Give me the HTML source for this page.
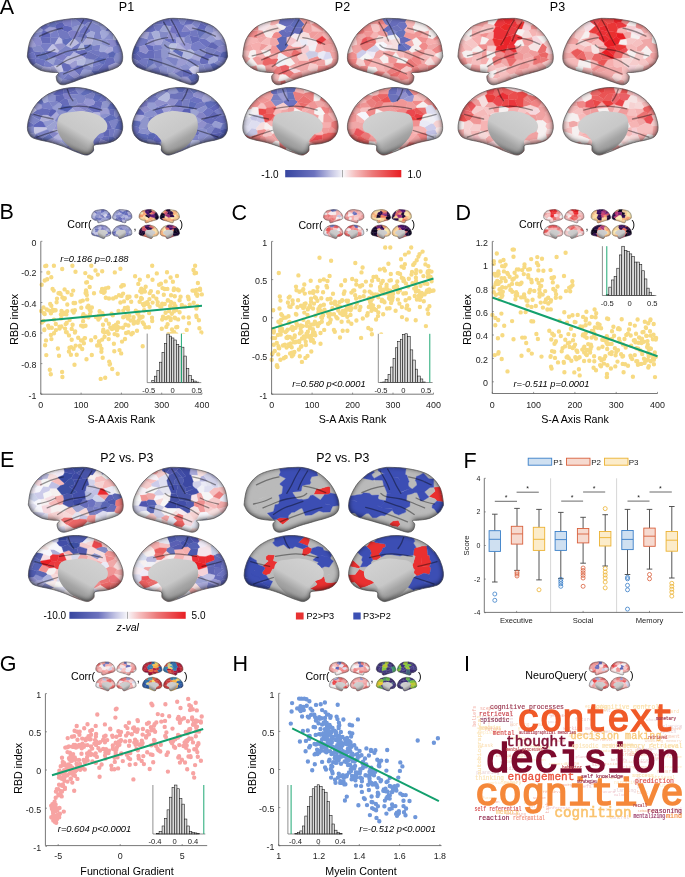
<!DOCTYPE html>
<html><head><meta charset="utf-8"><title>figure</title>
<style>
html,body{margin:0;padding:0;background:#fff;width:685px;height:877px;overflow:hidden;}
svg{display:block;filter:blur(0.35px);}
text{font-family:"Liberation Sans",sans-serif;}
.m{font-family:"Liberation Mono",monospace;}
</style></head><body>
<svg width="685" height="877" viewBox="0 0 685 877">
<rect width="685" height="877" fill="#fff"/>
<defs>
<filter id="ishL" x="-5%" y="-5%" width="110%" height="110%"><feGaussianBlur in="SourceAlpha" stdDeviation="2.6"/><feOffset dy="-1.2" result="b"/><feComposite in="SourceAlpha" in2="b" operator="out" result="r"/><feFlood flood-color="#000" flood-opacity="0.72"/><feComposite in2="r" operator="in"/></filter>
<filter id="sb" x="-10%" y="-10%" width="120%" height="120%"><feGaussianBlur stdDeviation="0.6"/></filter>
<filter id="ishS" x="-5%" y="-5%" width="110%" height="110%"><feGaussianBlur in="SourceAlpha" stdDeviation="0.9"/><feOffset dy="-0.4" result="b"/><feComposite in="SourceAlpha" in2="b" operator="out" result="r"/><feFlood flood-color="#000" flood-opacity="0.4"/><feComposite in2="r" operator="in"/></filter>
</defs>
<path fill="#848acc" stroke="#848acc" stroke-width=".35" d="M34.7 33.1l-2.5 3.5 -.9 1.6 2 -.6zM40.4 38.3l.6 -.3 1.4 -6.8 -7.7 1.9 -1.4 4.5zM48.8 26l1 -3.2 -4 1.5zM49.5 93.8l3.3 .6 4.9 -4.1 -5.7 2zM81.9 120.5l4.9 1.2 4.8 -2.6 -2.3 -3 -.7 -.1zM201.3 140.9l-1.4 -.1 -1.4 3.3 6.3 -1.8zM127 215.6l1.3 1.9 3.4 .3 .2 -.5 -.4 -2.8 -3.1 .2zM119.9 214.7l-3.2 -.5 -1.3 2.2 .1 .7 1.2 .7 3.4 -1zM105.6 225.9l-4.4 -.9 -.6 1.7 2.5 .8z"/>
<path fill="#9c9cd2" stroke="#9c9cd2" stroke-width=".35" d="M31.5 38.2l-1.1 1.7 -1.9 7.2 3.9 .5 3.8 -1.7zM57.1 29.5l-1.8 -2.2 -6 -.6 -5.3 3.6 6.3 3.4zM69.1 64.2l3 4.5 2.6 -.6 2.9 -2.9 -.7 -4.7 -1.9 -.3zM213.2 32.1l5.8 -.5 -3.4 -3.5 -2.2 -1.6zM191 31.1l5.7 -1.5 .9 -.6 -.2 -.6 -5.7 -4.5 -6.9 1.2zM191.7 81.8l-4.1 -5.1 -4.7 -.2 -1.8 .9 -.9 1.3 2.1 3.3 7.8 2.6 .3 0zM177.5 65.9l2 .7 6.7 -2.9 1.6 -3.3 0 -1.4 -5.5 -2.2 -3.7 1.7 -2.2 6.6zM150 71.1l-.7 -.9 -2.7 -1.1 -2.5 .8 5.8 1.8zM36.4 110.3l5.2 -1.6 .6 -.6 -.7 -3.5 -4.2 -1.7 -3.6 4.8zM55.6 138.7l-2.2 -1.5 -7.6 4 5.3 1.3zM100.2 114.3l9.6 -.5 -.9 -4.8 -1.4 -.8 -5.7 .8 -2.3 3.6zM282.6 100.8l1 .6 4 -2.5 -.6 -6.6 -.6 -.3 -9.2 2zM104.5 226.9l-1.4 .6 1.2 2.2 1.8 .5 1.2 -1.1zM125.8 227.1l.4 -1.4 -2.9 -.6 -2.4 0 .9 1.6zM123 229.9l.5 0 2.7 -2.1 -.4 -.7 -4 -.4 -.2 .5zM119.5 238.5l.2 -1.6 -.8 -1.3 -4 -.4 -.7 .5 4.1 .9 .3 1.3zM128.5 680.5l2.3 -1.1 -.4 -1.4 -4.2 -.7 -.2 2.7zM361.4 677.4l-1.5 -.1 -.1 2.9 3 .3 .7 -1z"/>
<path fill="#666cba" stroke="#666cba" stroke-width=".35" d="M32.4 47.6l-3.9 -.5 -1 7.4 6.2 -2.7 .5 -.6zM36.1 63.2l-.9 -4.2 -7.2 -.6 2.6 4.9 2.5 2.4zM33.7 51.8l2.5 6.8 1.2 -.3 4.7 -6 -7.9 -1.1zM43.1 30.3l.9 0 5.3 -3.6 -.5 -.7 -3 -1.7 -3.8 1.9 -2.2 1.6zM50.4 37.4l-9.4 .6 -.6 .3 1.6 5.3 8.7 -.3zM72.1 68.7l-3 -4.5 -5.3 -1.7 -2.6 2.5 2.1 6.2 4.2 .8zM79.9 75.6l2.7 -5.7 -7.9 -1.8 -2.6 .6zM81.7 24.2l2.9 .9 3.2 -2.7 -1.4 -3.8 -4.6 -.3 -7.2 .3zM74 51.8l0 .3 11.1 5.5 2.3 -5.9 -2.7 -2.2 -7.7 1.2zM77.6 65.2l-2.9 2.9 7.9 1.8 1.5 -.5 -.8 -4.2zM93.5 20.3l-2.3 -.7 -4.8 -1 1.4 3.8 4.1 -.2zM97.9 70.4l4 2.1 7 -2 .2 -.3 -.5 -4.5 -4.1 -1.4 -1.5 .1zM105.2 30.7l5 1.3 1 0 -4 -3.9zM104.5 64.3l4.1 1.4 6.7 -2.8 -1.1 -4.2 -.7 -.7 -4.3 -1 -3.5 1.5zM212.7 54.3l-6.7 -1.4 -1.5 2.3 4 3.7 5.5 -2.7zM204.5 55.2l-3.4 1.4 -1.9 4.6 1.7 3.1 7.5 -.5 .1 -4.9zM192.1 44.1l6.6 -3.1 1.4 -2.9 -1.3 -.9 -9.4 -1.8zM183.7 24.4l1.1 .7 6.9 -1.2 3.5 -3.6 -8.3 -1.2zM162.7 24.6l.7 1 8.2 .6 .9 -.5 -3.5 -7.2 -5.9 1.3zM153.1 24.2l-5.4 4 -.4 3.8 2 .5 2.1 -.1 4.4 -1.6zM148.6 50.6l-2.6 3.2 1.8 4.5 5.8 .2 1.1 -.4 -.9 -7.2zM149.9 71.7l8.5 2.4 .1 -.1 -8.5 -2.9zM147.3 32l.4 -3.8 -3.8 3.7zM146 53.8l-6.9 -2.8 -2.6 2.8 6 5.2 5.3 -.7zM146.6 69.1l-.3 -1.5 -7.9 -5.3 -2.7 2.1 1.5 2.6 2.2 1.1 4.7 1.8zM135.7 64.4l-1.4 .1 2.9 2.5zM42.4 115.7l1 -.7 -1.8 -6.3 -5.2 1.6 -3.5 2.7zM42.1 138.3l-6 -4.2 -2.7 4 9.3 2.5zM42.2 108.1l-.6 .6 1.8 6.3 4.4 .2 2.7 -5.8zM67.9 99.4l-3.3 -1.1 -5 4.3 2.6 2.5 7.7 .6zM75.9 90.2l-8.3 3.2 2.7 1.2 8.7 -.7zM89.6 148.8l-2.3 .1 -5.6 5.1 2.8 .8 2.8 .2 3.1 -1.3 .8 -.6zM101.4 108.6l1 -6.5 -3.8 -1.4 -3.7 1 -1 2.8zM93.8 112.4l5.7 .2 2.3 -3.6 -7.9 -4.5 -5.2 1.6 -.8 2.6zM90.3 148.5l-.7 .3 1.6 4.3 2.2 -2.3 .2 -1.3zM109.2 129.4l3.1 -.9 -3.4 -7.3 -4.4 -.4 -4 7.5 1.6 .8zM100.8 139.3l7.8 3 -.5 -5.7 -4.3 0 -2.9 1.9zM109.8 113.8l.5 .7 3.8 1.4 .9 -6.1 -6.1 -.8zM116 117.8l.2 1.2 2.5 1.2 3.1 .4 -2.5 -6.4zM222.8 123.7l4.1 -1.5 -1.8 -6.5 -5.1 .4 -4.8 3.5 -.1 1.4zM215.2 119.6l-7 -3.2 -2.2 .1 -3.8 3.7 -.1 .4 4.8 2.7 5.1 1.1 3.1 -3.4zM197.8 135.7l1.5 -2.3 -1.7 -4.8 -7 1 -1.1 .5 .1 3.2zM182.6 99.7l-3.9 -.1 -5.1 6.6 8.2 1.2zM166.5 113.4l6.1 8.3 1 -.1 3 -5.7 -9.6 -2.7zM176.9 132.5l2.1 -1.9 -1.2 -3.1 -8.7 .4 4.5 6zM173.6 133.9l-3.6 2.1 -.9 1.6 6.8 6.6 6 -3 -1 -1.9zM161.8 90.7l5.5 1.8 2.7 -4zM163.4 140.8l5.7 -3.2 .9 -1.6 -7.6 -2.9 -4.6 1.9 4.5 5.9zM143.7 139.7l-8.8 -4.7 -.4 0 2.1 2.8 3.3 2.6 2.4 1.1zM278.3 23.5l7.7 3.2 3.6 -1.2 -6.9 -6.3 -3 .4zM284 29.2l-2.9 .8 -3.1 1.9 3.9 4.2 3.6 .5 .9 -4.4zM289.6 25.5l.6 -.1 5.1 -7 -12.6 .8zM290.8 36.5l3.6 -2.9 -1.4 -2.3 -6.6 .9 -.9 4.4 1.4 .9zM294.4 33.6l5 .8 4.1 -2.3 -1.6 -4.6 -8.6 .1 -.3 3.7zM392.2 19.4l6.2 3.7 7 -.9 1 -2.5 -7.5 -1 -6.8 -.2zM401.7 43.6l3.2 -.7 7.1 -3.1 -8 -3.3 -4.7 1.8 .9 5zM397.4 25.2l1 -2.1 -6.2 -3.7 -4 6.1 3.3 2.1zM391.5 27.6l-3.5 -2.1 -6.1 4.8 5.1 2.3 5.2 -3.4zM277.7 93.7l-.5 -4.6 -6.2 1.8 -.3 2.2 2.6 1.5zM413.8 95.2l-5.2 -6 -1.7 -.4 -1.6 3 3.2 4.4zM397.7 87.6l-6.1 .1 -3.3 3.1 -.1 3.1 8.4 .4zM127.4 212.1l2.1 -.6 -1.7 -.9 -2.3 -.6 -.2 .8 .8 .9zM123.8 214.4l1.8 1.1 1.4 .1 1.4 -.9 -1 -2.6 -1.3 -.4zM122.3 218.2l-2.2 -1.4 -3.4 1 3.3 2.5 2.5 -.8zM106.3 230.8l.4 2.7 2.1 .6 2 -.2 .1 -1.9zM357.1 212.8l-1.8 -.7 -2 2.7 .9 .8 3.2 -1zM86.4 508.2l2.1 -1.1 -1 -7.3 -2 -.5 -2.2 .3 -4.3 5.3 6 3.3zM114.4 511.9l2.4 -5.6 -1.4 -1.1 -4.6 -.8 -5.1 7.2 1.6 .6zM31.7 569.3l2.2 -5.8 -2.8 -1.3 -2.1 7.3zM224.3 569.6l-3.3 -1.5 -5.8 -.4 -1.4 6.7 1 1.1 1.6 -.3zM214.8 575.5l-1.1 3.2 6.7 2.3 3 -1.8 -1.1 -3 -5.9 -1zM131 666.8l-1.1 -1.8 -2.9 -.5 -1.6 1.8 .1 1.4 .4 .3zM123.5 663.8l3.1 1 .4 -.3 -.2 -2.6 -2.7 0zM339.6 665l1.7 -.7 .3 -2.3 -3.2 -.1zM595.2 666.6l4.5 .7 -.6 -2.5 -1 -.5 -2.6 1.1z"/>
<path fill="#6c72c0" stroke="#6c72c0" stroke-width=".35" d="M27.5 54.5l0 2.7 .5 1.2 7.2 .6 1 -.4 -2.5 -6.8zM37.4 58.3l-2.2 .7 .9 4.2 7.5 3.5 1.9 -6.2zM44.4 51.3l4.8 6.6 5.9 -.2 2.7 -5.1 -10.5 -2.1zM56.6 23.7l5.9 -1.7 2 -2.4 -10.2 1.8zM86.4 34.3l4.4 -3 -.7 -1.9 -5.5 -4.3 -5.5 6.7 .9 1.2zM206.5 26.4l3.2 -1.9 -9.5 -3.2 .3 1.4zM206.4 47.5l.6 -.2 3.7 -4.5 -4.7 -3.6 -5.8 -.9 -1.5 2.7zM181.5 31.5l-.8 .8 5.9 3.6 2.8 -.5 1.6 -4.3zM184.9 25.4l-1.2 -1 -2.7 -.5 -5.4 1.6 3.5 7 1.6 -.2 .8 -.8zM180.7 32.3l-1.6 .2 -3.4 1.6 .7 3.3 8.3 .3 1.9 -1.8zM178.1 18.5l-5 -.2 -4.1 .2 3.5 7.2 3.1 -.2 5.4 -1.6zM175.7 38.7l-9.3 -.4 -2.6 1.7 7.6 3.5 5.1 .1zM162.7 24.6l.4 -4.8 -6.2 2.2 -3.8 2.2zM33.7 126.8l.3 -2.4 -5.7 -3.5 -.9 6.3zM98.6 100.7l3.8 1.4 4.5 -.8 -.8 -3.9 -3.4 -2.2zM114.9 137.7l1.2 1.9 2.2 -1.8 1.7 -2.2zM207.4 108l-4.8 4.5 3.4 4 2.2 -.1 5.2 -5.2 -3.7 -2.6zM203 101.8l-1.4 -2.8 -7.9 -2.5 -4.7 3.4 .6 .8 7.7 2.8zM155.6 96.4l3 -4.5 -7 3.6zM165 113.6l-3 -4.7 -4.7 -2 -.5 .1 -3.2 3.1 3.3 4.1 4.2 .8zM157.5 122.8l-4.7 5 2.2 1.8 6 -1.9zM159.8 142.4l-3.4 .2 -1.9 1.5 4.1 .4 2.2 .8zM134.9 135l3.5 -2.3 1.6 -3.5 -1.2 -1.9 -6.5 -1.7 .5 5.4 1.5 3.8zM293 31.3l.3 -3.7 -3.1 -2.2 -4.2 1.3 -2 2.5 2.4 3zM409 50.2l2.9 -3.4 -7 -3.9 -3.2 .7 6.3 6.6zM404.3 29.9l3.2 -3.9 -2.1 -3.8 -7 .9 -1 2.1 5 4.7zM287.6 98.9l-4 2.5 -.1 1.3 5.4 4.3 4.3 -.3 4.5 -4.8 -.2 -.7 -2.1 -1.1zM100.4 212.1l1.1 1.1 2.1 -.7 1.1 -1.1 -1.1 -1.8 -2.2 0zM108.2 213l-1.3 1.4 .4 .7 3.4 .8 -1.4 -2.8zM119.6 212.4l2 1.2 .7 -2.2 -2.6 -1.3 -1.1 1zM119.7 220.6l0 .6 3.2 1.2 -.7 -2.7zM108.8 234.1l-2.1 -.6 -2.5 1 0 .4 2.7 .8zM96 501.4l-3.5 -2.7 -5 1.1 1 7.3 4.6 -.1 1.3 -.4zM227.1 570.1l-.9 -4.1 -1.8 -4.9 -1.8 .9 -1.6 6.1 3.3 1.5zM222.3 576.2l5.2 -3.8 -.4 -2.3 -2.8 -.5 -7.9 5.6zM360 667.8l3.8 -1.1 -.7 -1.8 -2 -.6 -1.9 .3 -.6 1.8 .2 .8zM594.2 667.6l1.4 1.6 3.1 .2 1 -2.1 -4.5 -.7z"/>
<path fill="#969cd2" stroke="#969cd2" stroke-width=".35" d="M34.7 33.1l7.7 -1.9 .7 -.9 -3.3 -2.5 -3 2.8zM84.1 69.4l-1.5 .5 -2.6 5.7 6 1.6 1 -.4 4.6 -5.2 .3 -1.2zM101.3 30.8l3.9 -.1 2 -2.6 -3.7 -2.8 -3.3 1.5zM206 39.2l4.7 3.6 2.4 -.6 3.1 -2.7 -4.2 -4.6zM195.5 65.9l-7.7 -5.5 -1.6 3.3 4.6 3.6zM52 119.4l-9.3 2.2 3.3 5.9 9.3 -6.4zM59.8 109.5l2.4 -4.4 -2.6 -2.5 -.5 0 -6.4 4.6 -.4 1.8 3.8 1.6zM70.5 135.4l-6.7 -1.1 -2.8 5.9 .7 1.1 11.8 -1.5zM75.8 142.2l-1.1 -1.9 -1.2 -.5 -11.8 1.5 0 .5 4.9 4.6zM78 113.4l-6.7 3.5 4.6 5.3 .9 .3 3.6 -2.1 .3 -6.4zM212 124.4l.4 1.3 2.4 1.9 5.6 1.4 2.4 -5.3 -7.7 -2.7zM189.9 121.4l1.3 .7 6.7 1.2 4.2 -2.7 .1 -.4 -6.3 -3.8 -4.3 .3zM182.5 141.3l-.6 -.1 -6 3 -1.8 2.8 1.6 1.3 6.5 2.2 5.4 -2.3zM176.6 115.9l3.1 -1.8 -9.1 -4.5 -3.6 3.6zM156.8 107l-2.3 -4.5 -6.5 -.1 -1 3.6 4.2 3.8 2.4 .3zM103.1 236.4l-2.4 .1 -.7 .8 3.2 1.2 1.4 -.4zM118.9 230.9l-3.2 -.5 -.4 .7 1.5 2 1.7 -.1zM207.2 473.3l.9 .2 1.1 -.4 -2.9 -1.1z"/>
<path fill="#8a8acc" stroke="#8a8acc" stroke-width=".35" d="M42 43.6l-1.6 -5.3 -7.1 -.7 -1.8 .6 4.7 7.7 4.1 -.1zM110.7 47l1.8 0 4.3 -2 -1.6 -4.8 -1.9 -1 -7.1 .1zM179.7 114.1l1 -.1 3.4 -5.2 -2.3 -1.4 -8.2 -1.2 -2 .3 -1 3.1z"/>
<path fill="#848ac6" stroke="#848ac6" stroke-width=".35" d="M36.2 45.9l-3.8 1.7 1.8 3.6 7.9 1.1 2.3 -1 -4.1 -5.5zM72.6 81.3l-9.6 -2.2 -.7 .2 -2.7 4.6 1.7 .7 3.5 0 7.4 -2.4zM74.8 39.2l4.1 3.8 3.6 .7 3.7 -4.9 -8.8 -1.8zM92.2 67.5l-7.2 -4.4 -1.7 2.1 .8 4.2 7.8 1zM97.5 25l2.7 1.8 3.3 -1.5 -4.2 -2.6zM115.9 53.6l-2.4 4.4 .7 .7 8.5 -1.8 -.6 -4.7zM120.5 64.7l1.7 -3.2 .5 -4.6 -8.5 1.8 1.1 4.2zM200.1 38.1l5.9 1.1 6 -4.3 -.2 -2.1 -5.3 -1.3zM202.8 64.4l-1.9 -.1 -2.3 1.5 -.2 6.7 7.9 -.5zM160.5 38.7l2.6 1.4 3.3 -1.8 3 -6 -9.7 -1.3 -.9 .3zM34.4 133l-.4 -5.7 -.3 -.5 -6.3 .4 .3 3.6 1.2 2.9zM75.3 105.7l2.6 -2.2 -2.3 -5 -3.7 -.1 -4 1 2 6.3 2.4 1.3zM94 126.9l-5.6 -1.2 -7.1 2.9 6.3 4.8 5.1 -.6 3.6 -4.2zM94.5 119.7l-.5 7.2 2.3 1.7 4.2 -.3 4 -7.5 -2 -1.8 -1.7 -1zM215.1 139.3l-5.5 -5 -8.3 6.6 3.5 1.4 8.7 -1.9zM161 127.7l2.1 .5 5.1 -1.1 1.9 -4.1 -8.3 -2.7 -4.1 2.5zM166.6 92.4l-4.8 -1.7 -2 .7 -1.2 .5 -3 4.5 2.5 2.2zM156.4 142.6l-3.6 -2.5 -5.6 -.8 .7 3.9 6.6 .9zM275.6 106.5l7.9 -3.8 .1 -1.3 -1 -.6 -11.8 -.8 -.3 .3zM102.6 501.6l-6.6 -.2 -1.6 5.2 5.7 1zM54 587.6l-9 -4.8 -3.5 4.2 9.6 2.1 2.8 -1.1zM105.1 553.5l3 -3.1 -1.3 -3 -4.6 -1 -6.3 2 .1 1.1zM339 679.2l-.6 -1.8 -.4 0 -4.4 2 -.1 .8 1 .2z"/>
<path fill="#9096cc" stroke="#9096cc" stroke-width=".35" d="M43.4 66.9l-7.3 -3.7 -3 2.5 2.9 2.1 4.9 2.6zM84.6 25.1l-2.9 -.9 -9.8 3.4 .1 2.3 7.1 1.9zM173.6 65l-6.1 2.3 .3 6.1 4.6 -.6 5.1 -6.9 -1.1 -.8zM171.4 43.5l-7.6 -3.5 -.7 .1 -2.4 5 1.2 1.9 6.9 -1.4zM168.8 45.6l-6.9 1.4 .2 1.5 8.5 2.6zM170.9 51.2l-8.8 -2.7 -1 1.1 .4 8.5 .9 .3 2.7 -.3 3.5 -1.6zM165.1 58.1l-2.7 .3 .2 7.1 4.9 1.8 6.1 -2.3zM157 67.1l-3 -3.9 -7.4 5.2 0 .7 2.7 1.1zM36.1 134.1l-1.7 -1.1 -5.5 .7 1.8 2.7 2.7 1.7zM49.6 93.4l-.8 .4 -1.4 .8 2.1 -.8zM68.6 123.6l7.3 -1.4 -4.6 -5.3 -4.3 -1 -3.7 5.6zM76.8 147.2l-5.8 .9 .3 1.8 4.7 1.9zM82.6 146.1l4.7 2.8 2.3 -.1 .7 -.3 3.3 -4.2 -3.8 -3.8 -3 -.7zM107.5 108.2l2.7 -4.7 -3.3 -2.2 -4.5 .8 -1 6.5 .4 .4zM219 108.5l3.7 1.8 -3.1 -4.9zM210.2 100.9l6.3 .8 -5.7 -5zM191.9 140.6l-2.8 -.7 -6.6 1.4 5.1 6.9 2 -.9zM167.3 92.5l2.2 1.7 6.7 -.6 2.6 -1.3 -3 -4.6 -5.8 .8zM148.3 123.9l1.2 -1.3 -1.2 -4.9 -4 -1.5 -4.6 5.1 1.2 1.4zM138.8 127.3l1.2 1.9 6.2 -1.1 2.2 -2 -.1 -2.2 -7.4 -1.2zM98.7 217.7l1.1 -2.8 -3.2 -.4 -1.9 1.3 .4 1.2 3.1 1zM116.7 214.2l.6 0 2.3 -1.8 -1 -1.3 -3.4 1.4zM98.6 229.8l-1.2 1.1 -.6 1.2 .4 .3 4 .2 -.3 -2.1zM128.1 235.8l2.9 -.8 .9 -1.2 -2.9 -.8zM128.5 228.6l-2.3 -.8 -2.7 2.1 1.7 1.7 4.2 -1.7zM125.2 231.6l0 .8 .4 .2 3.3 .3 1.3 -2.7 -.8 -.3zM116.2 226.8l.7 1.2 3.7 -2.8zM97.4 559.5l4.6 -3.6 -7.4 -2.9 -4.7 2.8z"/>
<path fill="#6066ba" stroke="#6066ba" stroke-width=".35" d="M44 30.3l-.9 0 -.7 .9 -1.4 6.8 9.4 -.6 -.1 -3.7zM67.6 32.3l4.4 -2.4 -.1 -2.3 -.9 -1.2 -6.4 -.8 -4 3.9zM204.8 29.9l1.7 -3.5 -6 -3.7 -3.1 5.7 .2 .6zM153 45.6l-6.4 -1 -1.4 .7 3.4 5.3 5.2 .3 .3 -.2zM42.7 121.6l-2.5 -1 -6.2 3.8 -.3 2.4 .3 .5 12 .2zM209.7 108.6l3.7 2.6 .6 0 5 -2.7 .6 -3.1 -1.9 -2.3zM156.4 142.6l3.4 -.2 2.5 -1.5 -4.5 -5.9 -1.5 -.3 -3.5 5.4zM143.8 115.3l.7 -2.2 -4.4 -4.7 -1.6 .5 -3.1 5.8zM125 222.8l.9 -.7 .2 -.9 -.3 -.4zM115.9 233.8l.9 -.7 -1.5 -2 -2.6 .6 -.2 .7zM357.4 228.2l1.1 -1.2 -1.2 -1.5 -4.2 -.4 2.2 3zM221.1 585.2l3.2 -1.9 2.4 -3.8 -3.3 -.3 -3 1.8zM338.8 670l.4 -3.2 -.4 -.4 -3.3 .5 -.4 1.9 1.9 1zM602.1 664.6l.1 -2.7 -3.4 -.2 -.7 2.6 1 .5z"/>
<path fill="#787ec6" stroke="#787ec6" stroke-width=".35" d="M50.7 43.3l-8.7 .3 -1.7 2.2 4.1 5.5 2.9 -.8 4.8 -6.1zM53.7 65.8l-.3 -1.1 -7.2 -4.4 -.7 .2 -1.9 6.2 6.7 .5zM50.3 33.7l.1 3.7 9 .1 -2.4 -7.9zM67.5 56.5l2.9 -.4 3.6 -4 -1.9 -2.4 -10.5 3.2zM72.2 82.2l2.2 -.8 1.4 -.6 -1.4 -.7 -1.8 1.2zM92.5 49.7l6.9 1.3 1.3 -6.5 -7.8 1zM93.7 59.7l-1.4 7.6 8.8 -3.6 -6.4 -4.2zM116.8 45l-4.3 2 .5 4.2 2.9 2.4 6.2 -1.4 -2.2 -6.4zM220 57.1l-1.9 .9 -.7 2.6 6.5 3.1 3 -5.3zM204.6 49.2l1.8 -1.7 -7.7 -6.5 -6.5 3.1zM192.1 44.1l-.8 .5 -1 4.5 3.8 2.5 10.5 -2.4zM180.2 78.7l-4.1 1 6.2 2.3zM161.1 49.6l1 -1.1 -.2 -1.5 -1.2 -1.9 -5.5 -.1 -2.2 .6 1.1 5.1zM52.3 109l.4 -1.8 -3.7 -5.6 -.7 -.2 -4.3 1.6 -2.5 1.6 .7 3.5 8.3 1.3zM78.4 145.3l4.2 .8 4.2 -6.3 -.9 -.7 -10.3 2.4 .2 .7zM87.3 148.9l-4.7 -2.8 -4.2 -.8 -1.6 1.9 -.8 4.6 5.7 2.2zM103.8 136.6l-1.7 -7.5 -1.6 -.8 -4.2 .3 -3.6 4.2 2.4 3.3 5.8 2.4zM219 108.5l-5 2.7 6 4.9 5.1 -.4 -2.4 -5.4zM126.2 220.2l1.4 .1 1.3 -.2 -2.1 -.2zM337.3 210l-3.5 -.4 .2 2 1.1 .2zM335.4 225.3l-2.5 -.3 -3 .5 -.1 1.9 3 .2zM94.4 506.6l-1.3 .4 2.6 7.9 .6 -.1 6.9 -3.9 -.8 -1.6 -2.3 -1.7zM207.9 588.3l6.8 -1.3 3.4 -.9 -10.3 -4.1 -1.2 6z"/>
<path fill="#6672ba" stroke="#6672ba" stroke-width=".35" d="M44.3 51.3l-2.2 1 -4.7 6 8.1 2.2 3.7 -2.6zM54.3 21.4l-4.5 1.4 -1 3.2 .5 .7 6 .6 1.3 -3.6zM87.4 51.7l5.1 -2 .4 -4.2 -1.6 -1.2 -7.8 .1 1.2 5.1zM196.7 29.6l2.1 7.6 1.3 .9 6.4 -6.6 -1.7 -1.6 -7.2 -.9zM153.6 58.5l-5.2 0 -2.1 9.1 .3 .8 7.4 -5.2zM53.4 137.2l-3.8 -3.5 -7.5 4.6 .6 2.3 3.1 .6zM59.7 122.3l3 7.1 1.3 .8 3.7 -1.4 .9 -5.2 -5.3 -2.1zM94.8 94.1l6.7 .3 -2.8 -1.4 -6.8 -2.7 .4 2.2zM222.8 123.7l-2.4 5.3 .4 .4 6.7 -1 -.6 -6.2zM198.3 91.5l.1 -.9 -9.3 -2.3 4.3 5.5zM173.6 133.9l-5.4 -6.8 -5.1 1.1 -.7 4.9 7.6 2.9zM147.2 139.3l-3.5 .4 -1.4 1.8 5.6 1.7zM399.3 38.3l4.7 -1.8 2 -4.4 -1.7 -2.2 -1.9 0 -6.1 1.7 -.6 2.9zM287 92.3l.6 6.6 7.8 1.2 -2.2 -7.8zM97.9 219.7l.3 -1.7 -3.1 -1 .1 2.8 .8 .2zM108.4 219.3l1.6 0 .5 -.4 .5 -1.1 -.3 -1.9 -2.7 2.8zM174.5 549.5l-2.9 -2.2 -1.6 -.5 -3.1 1.4 -.9 2.8 4.3 3.6 5 -.1z"/>
<path fill="#a8a8d8" stroke="#a8a8d8" stroke-width=".35" d="M50.3 67.2l-6.7 -.5 -2.7 3.7 5.1 1.2 5.2 .7zM108.9 47.2l-4.6 4.7 3.3 1.9 5.4 -2.6 -.5 -4.2zM194.4 53.5l-3.8 4.8 8.6 2.9 1.9 -4.6zM176.6 43.6l2.3 0 5.5 -1.2 .3 -4.7 -8.3 -.3 -.7 1.3zM160.5 38.7l-6.5 .6 1.2 5.7 5.5 .1 2.4 -5zM50.6 117l1.4 2.4 2.9 1.2 4.1 -5.7 -2.7 -3.5zM177.8 127.5l.8 -4.7 -5 -1.2 -3.5 1.4 -1.9 4.1 .9 .8zM144.3 116.2l-.5 -.9 -8.4 -.6 -2.2 5.7 6.5 .9zM100.4 212.1l1 -2.5 -3.5 .4 1.1 1.7zM107.8 228.8l1.4 -.3 -2.6 -2.1zM41.3 480.3l2 -1.1 -1.7 -3.3 -4.5 4.1zM189.4 474.5l1.7 .7 6.9 .2 -.8 -5.8 -6.9 -1.1zM45 582.8l-2.4 -3 -5.6 .5 -1.8 2 .2 3.1 6.1 1.6zM203.8 589.4l1.3 -.4 1.5 -1 1.2 -6 -11.7 1.7 4.7 5.4zM600.4 679.7l-2.3 -2.5 -1.9 .3 -1.6 2 3.1 1.2z"/>
<path fill="#7278c0" stroke="#7278c0" stroke-width=".35" d="M58.7 37.6l-8.3 -.2 .3 5.9 1.4 1.1 1.7 .2 1 -.4zM57.1 29.5l2.4 8 8.1 -5.2 -7 -2.8zM59.5 37.5l2.7 2 8.6 -1.7 -2.8 -5.4 -.4 -.1zM63 79.1l9.6 2.2 1.8 -1.2 .4 -1.8 -6.8 -4.7zM74 51.8l3 -1.1 4.1 -7.2 -2.2 -.5 -7.6 5 .8 1.7zM74.4 80.1l1.4 .7 10.2 -3.6 -6.1 -1.6 -5.1 2.7zM99.4 51l-6.9 -1.3 -3.6 1.7 9.4 4.8 2.2 -4.1zM101.1 63.7l-8.8 3.6 -.2 3 5.8 .1 5.1 -6zM100.5 52.1l-2.3 4.6 7.5 1.8 3.5 -1.5 -1.6 -3.2 -3.3 -1.9zM220 57.1l1.6 -4.5 -5.3 -2.3 -3.6 4 1.3 1.9 4.1 1.8zM212.1 70.6l-2.9 1 3 -.7zM189.4 35.4l9.4 1.8 -2.1 -7.6 -5.7 1.5zM158.8 31.3l.9 -.3 3.7 -5.4 -.7 -1 -9.6 -.4 2.7 6.6zM153.8 50.9l.9 7.2 6.8 0 -.4 -8.5zM157 67.1l-7.7 3.1 .7 .9 8.5 2.9 2.4 -.9 -1.7 -5.8zM143.2 45.5l2 -.2 1.4 -.7 1.8 -4.3 -1 -1.2 -7.7 -2 -.4 .5zM148.4 58.5l-5.9 .5 -3.7 2.3 -.4 1 7.9 5.3zM139.3 37.6l-4.3 8.2 3.9 1.1 4.3 -1.4zM30.5 113.9l-.4 1.1 10 5.3 2.3 -4.6 -9.5 -2.7zM76.8 147.2l1.6 -1.9 -2.6 -3.1 -8.6 4.2 3.8 1.7zM109.5 136.4l3.5 .4 2 -7.9 -2.7 -.4 -3.1 .9zM115 138.2l-4.8 4.1 2.7 -.9 3.2 -1.8zM213.5 140.4l1 -.2 2.4 -.6 -1.8 -.3zM196 109.8l9.4 -4.3 -.9 -3 -1.5 -.7 -5.7 1.7 -4 5.4zM189 99.9l4.7 -3.4 -.4 -2.6 -9.7 -.1 .7 5.3zM180.7 114l-1 .1 -3.1 1.8 -3 5.7 5 1.2 4.7 -.4 -.7 -6.8zM175.7 148.3l-1.6 -1.3 -3.3 .5 -4.1 7.3 2 .3 5.5 -1.5zM168.4 104.4l-1.4 -1.5 -9.7 4 4.7 2zM153.6 133.1l2.7 1.6 1.5 .3 4.6 -1.9 .7 -4.9 -2.1 -.5 -6 1.9zM154.5 102.5l3.9 -3.3 -.3 -.6 -2.5 -2.2 -4 -.9 -3.5 2.5 -1.5 3.1 1.4 1.3zM153.9 116.1l-5.6 1.6 1.2 4.9 6.3 -.2zM388 25.5l4.2 -6.1 -.1 -.9 -6.8 -.1 -3.4 .5 3.4 5.7zM95.6 211.4l-1.7 .7 2.6 2.1 1.1 -2zM97.9 219.7l1.7 1.1 .9 -.1 1.9 -2.5 -3.7 -.5 -.5 .3zM104.7 211.4l2.6 0 .2 -.2 -1.6 -.9 -2.3 -.7zM108 218.7l2.6 -2.8 -3.3 -.8 -2.1 2.2zM95.3 235.3l-1 .3 1.4 .3zM121.1 233.4l1 .3 3.1 -1.3 0 -.8 -1.7 -1.7 -2.1 .3zM118.7 228.5l1.6 1.6 2.7 -.2 -1.4 -2.7zM118.9 230.9l-.4 2.1 1.3 .5 1.3 -.1 .3 -3.2 -1.1 -.1zM114.2 235.7l1.7 -1.9 -3.4 -1.4 .1 1.3 .5 1.1zM354 210.8l-2 2.1 .7 1.6 .6 .3 2 -2.7zM108.2 664.4l1.3 -.9 -.5 -1.3 -3.8 -.3 -.3 1.3 .8 1z"/>
<path fill="#c0c0e4" stroke="#c0c0e4" stroke-width=".35" d="M59.2 50.7l-5.4 -6.1 -1.7 -.2 -4.8 6.1 10.5 2.1 1.1 -.6zM58.7 37.6l-3.9 6.6 8.1 -1 -.7 -3.7 -2.7 -2zM426.9 130.6l-1.4 1.9 1.8 3 9.5 -1.5 .4 -.4 -1.7 -3.9zM122.2 219.7l.7 2.7 2.1 .4 1 -2.6zM56.9 488.7l3.7 -3.1 -8.4 -4.2 -.8 .1 -3.1 5.2 2.1 2.1zM97.8 494.5l2.6 -5.8 -3.2 -1.2 -7.2 4.4 4.7 3.6zM218 479l-4.9 -4 -3.9 -1.9 -1.1 .4 4.9 5.2zM85.8 577.6l5.4 -1.4 -8.2 -6.6 -2.5 -.8 -1.3 .9 .1 4.2 .9 1zM207.8 582l5.9 -3.3 1.1 -3.2 -1 -1.1 -5.8 -1.1 -6.1 2.7z"/>
<path fill="#9ca2d2" stroke="#9ca2d2" stroke-width=".35" d="M49.2 57.9l-3 2.4 7.2 4.4 2.3 -6.4 -.6 -.6zM62.3 79.3l-4.7 -3.3 -1.4 .6 .8 4.5 .8 1.2 1.8 1.6zM85.4 58.3l-.4 4.8 7.2 4.4 1.5 -7.8zM91.3 44.3l1.6 1.2 7.8 -1 .6 -.4 .5 -4.6 -8.7 -.3zM180.2 78.7l.9 -1.3 -6.2 -4 -2.5 -.6 -4.3 .8 .4 3.5 7.6 2.6zM163.4 25.6l-3.7 5.4 10.1 1.2 1.8 -6zM54.3 129.1l2.7 -7.2 -1.7 -.8 -9.3 6.4 1.2 2 2.4 1.3 2.2 -.4zM78.2 134.2l.3 -5.5 -5.2 1.2 -1.8 4.6zM89.8 140.5l5.3 -4.4 -2.4 -3.3 -5.1 .6 -2.4 2.7 .7 3 .9 .7zM195.9 116.4l3.3 -4.2 -3.2 -2.4 -2.7 -.9 -3.1 .3 .7 6.9 .7 .6zM182.7 129.8l-3.7 .8 -2.1 1.9 7.4 2zM140.1 108.4l.4 -.7 -.6 -1.1 -1.4 2.3zM95.6 211.4l2 .8 1.4 -.5 -1.1 -1.7 -1.8 .5zM103.4 218l-1 .2 -1.9 2.5 .9 .3 3 -.6zM122.1 233.7l-2.3 -.2 -.9 2.1 .8 1.3 2.8 -2.4zM116.8 233.1l-1.9 2.1 4 .4 .9 -2.1 -1.3 -.5zM85 508.2l-6 -3.3 -5.7 .3 -2 1.5 4.8 5.5 2.4 0zM196.1 583.7l11.6 -1.7 -5.8 -6 -1.4 -.4 -7.4 6.5 -.3 .9z"/>
<path fill="#a2a2d2" stroke="#a2a2d2" stroke-width=".35" d="M58.6 72.3l-4.4 -6.4 -.5 -.1 -3.4 1.4 1.1 5.1 6.7 .4zM223.9 38.8l-1.2 -2.2 -.4 -.7 -1.6 3.3zM147.4 39.1l1.9 -6.6 -2 -.5 -3.4 -.1 -4.2 5.2zM210.8 96.7l-4.7 -2.9 -1.1 -.1 -.4 .2 -3 5.1 1.4 2.8 1.5 .7 5.7 -1.6zM99.9 214.9l-1.2 2.8 4.2 .3zM102 475.2l2.1 -1.1 -3.2 -2z"/>
<path fill="#c6c6e4" stroke="#c6c6e4" stroke-width=".35" d="M57.6 76l.1 -1.7 -1.5 2.3zM34 127.3l.4 5.7 1.6 1 11.2 -4.5 -1.2 -2zM73.3 129.9l-5.6 -1.1 -3.7 1.4 -.6 3.3 .4 .8 6.7 1.1 1 -.9zM249.5 117.3l2.4 3.3 4.4 .5 2.6 -6.5 -5.3 -.1zM257.9 134.3l-.8 -4 -1.4 -1.6 -4.1 -.7 -6.4 6.9 4.8 2.2zM94.7 215.8l1.9 -1.3 -2.7 -2.4 -.5 0 -1.2 1.8 -.4 1.3zM108.4 219.3l-.4 .8 2 -.8zM97.2 232.4l-2.2 -.3 -2.3 .6 2.7 2.7 1.7 -.8zM108.8 234.1l-1.9 1.6 .2 .3 2.3 -.4 1.4 -1.7zM339.7 218.1l1.7 -1.4 -1.2 -2.2 -3.2 .8 -.2 1.5zM80.7 513.9l-1.8 5 7.6 .7 1.8 -3.5zM88.9 484.9l-2.6 1 -.8 4.9 4.5 1.1 7.2 -4.4 -3.2 -3.2z"/>
<path fill="#5a60b4" stroke="#5a60b4" stroke-width=".35" d="M60.6 29.5l4 -3.9 -2.1 -3.6 -5.9 1.7 -1.3 3.6 1.8 2.2zM115.2 40.2l1.6 4.8 3.1 .8 -3.2 -6.3zM56.1 110.6l-3.8 -1.6 -1.8 .4 -2.7 5.8 2.8 1.8 5.7 -5.6zM52.8 94.4l3 1.1 7.2 -.8 1 -1.5 -.7 -4.4 -5.6 1.5zM216.7 139.5l4.9 -6.4 -.4 -.6 -11.2 1.8 5.1 5zM190.2 109.2l-2.1 -.6 -4 .2 -3.4 5.2 1.9 1.6 8.3 .5zM106.3 501.7l7.4 -2.9 -1.5 -4.4 -3.4 .2 -4.2 5.4 0 .9zM222.6 562l-7 0 -1.9 4.9 1.5 .8 5.8 .4zM169.3 544l.7 2.8 1.6 .5 8.6 -3.5 .4 -2.1 -3.8 -1.4 -7.3 2.9z"/>
<path fill="#9090cc" stroke="#9090cc" stroke-width=".35" d="M66.1 45.6l-3.2 -2.4 -9.1 1.4 5.4 6.1zM74.8 78.3l5.1 -2.7 -7.8 -6.9 -4.6 3.3 .5 1.6zM172.4 72.8l2.5 .6 7.4 -3.9 -2.8 -2.9 -2 -.7zM175.7 34.1l-6.3 -1.8 -3 6 9.3 .4 .7 -1.3zM148.6 50.6l-3.4 -5.3 -2 .2 -4.3 1.4 .2 4.1 6.9 2.8zM193.7 96.5l7.9 2.5 3 -5.1 -6.3 -2.4 -4.9 2.3zM206.9 123.3l-4.8 -2.7 -4.2 2.7 .4 4.6 4.8 .3zM171.6 106.5l2 -.3 5.1 -6.6 -9.1 -1 -2.9 3.4 .3 .9 1.4 1.5zM167 102.9l-.3 -.9 -8.3 -2.8 -3.9 3.3 2.3 4.5zM151.2 109.8l-4.2 -3.8 -6.5 1.7 -.4 .7 4.4 4.7zM400.2 99.3l2.9 .2 5.4 -3.3 -3.2 -4.4 -6.1 4.5zM101.2 225l-1.8 .2 -2.3 .6 2 1.3 1.5 -.4zM104.3 229.7l-3.4 .8 .6 2.3 .8 .2 4 -2.2 -.2 -.6zM107.8 228.8l-1.2 -2.4 -1 -.5 -1.1 1 2.8 2.2zM33.4 576.9l-4.7 .9 1.5 3.4 5 1.1 1.8 -2z"/>
<path fill="#7e7ec6" stroke="#7e7ec6" stroke-width=".35" d="M58.9 52l-1.1 .6 -2.7 5.1 .6 .6 7.6 3 4.2 -4.8 -5.9 -3.6zM62.5 22l2.1 3.6 6.4 .8 .9 -7.7 -7.4 .9zM80 33l-.9 -1.2 -7.1 -1.9 -4 2.5 2.8 5.4 2.1 1.2 1.9 .2 2.6 -2.2zM67.6 93.4l-3.6 -.2 -1 1.5 1.6 3.6 3.3 1.1 4 -1 -1.6 -3.8zM156.9 114.2l-3 1.9 1.9 6.3 1.9 .4 4.1 -2.5 -.7 -5.3zM405.3 91.8l1.6 -3 -9.2 -1.2 -1.1 6.7 2.6 2zM124.5 217l-2.2 1.2 .2 1.3 2.4 .4 .6 -2.1zM119.5 238.5l1.3 -.1 3.6 -1.5 -.2 -.5 -4.4 1.6z"/>
<path fill="#7e84c6" stroke="#7e84c6" stroke-width=".35" d="M61.2 65l2.6 -2.5 -.5 -1.2 -7.6 -3 -2.3 6.4 .3 1.1zM57.6 76l4.7 3.3 .7 -.2 5 -5.5 -.5 -1.6 -4.2 -.8 -5.2 1.5 .3 .1 .1 .7 -.8 .8zM72.1 49.7l-.8 -1.7 -5.2 -2.4 -6.9 5.1 -.3 1.3 2.7 .9zM71 26.4l.9 1.2 9.8 -3.4 -7.1 -5.6 -2.7 .1zM91.9 22.2l-4.1 .2 -3.2 2.7 5.5 4.3 7 -4.5zM94.9 32.2l5.2 -.2 1.2 -1.2 -1.1 -4 -2.7 -1.8 -.4 -.1 -7 4.5 .7 1.9zM92.9 39l9.2 .2 -2 -7.2 -5.2 .2zM220.6 39.3l-4.4 .2 -3.1 2.7 5.5 4.4 7.4 -1.8zM217.4 60.6l-3.6 2.5 6.8 3.5 3.3 -2.9zM213.1 69.7l-1 .9 .1 .3 2.9 -1zM202.8 64.4l3.5 7.6 2.9 -.4 2.9 -1 1 -.9 -2.9 -5.5 -1.8 -.4zM200.5 22.7l-.3 -1.4 -5 -1 -3.5 3.6 5.7 4.5zM195.5 65.9l3.1 -.1 2.3 -1.5 -1.7 -3.1 -8.6 -2.9 -2.8 .7 0 1.4zM186.6 35.9l-1.9 1.8 -.3 4.7 6.9 2.2 .8 -.5 -2.7 -8.7zM186.9 19.1l-3.2 -.4 -5.6 -.2 2.9 5.4 2.7 .5zM178.6 58.5l-10 -2 -3.5 1.6 8.5 6.9 2.8 .1zM149.3 32.5l-1.9 6.6 1 1.2 6 -1.2 -3 -6.7zM30.1 115l-1.8 5.9 5.7 3.5 6.2 -3.8zM49.6 130.8l-2.4 -1.3 -11.2 4.5 6.1 4.3 7.5 -4.6zM59.1 102.6l-3.3 -1.7 -6.8 .7 3.7 5.6zM59 114.9l-4.1 5.7 2.1 1.3 2.7 .4 3.6 -.8 3.7 -5.6 -.3 -.5zM70.3 94.6l1.6 3.8 3.7 .1 3.7 -4.4 -.3 -.2zM79.3 94.1l.7 .1 6 -5.4 -5.6 -1 -5.3 -.3 .8 2.7zM85.9 98.5l-1.6 -2.7 -5 -1.7 -3.7 4.4 2.3 5 5.6 -.5zM80.4 120.4l1.5 .1 6.7 -4.5 -5.6 -2.8 -2.3 .8zM85.2 136.1l2.4 -2.7 -6.3 -4.8 -2.2 -.3 -.6 .4 -.3 5.5 .8 1.5zM85 110.4l-2 2.8 5.6 2.8 .7 .1 4.5 -3.7 -5.9 -3.7zM86.8 121.7l1.6 4 5.6 1.2 .5 -7.2 -2.9 -.6zM108.9 121.2l3.4 7.3 2.4 .3 4 -8.6 -2.5 -1.2zM119.3 114.2l-2.5 -4.7 -1.8 .3 -.9 6.1 1.9 1.9zM206.1 129.6l.9 3 3 1.7 4.8 -6.7 -2.4 -1.9zM190.6 129.6l7 -1 .7 -.7 -.4 -4.6 -6.7 -1.2zM189.1 139.9l2.8 .7 7.3 -.2 -1.4 -4.7 -8.2 -2.4 -.7 .8zM190.9 116.1l-8.3 -.5 .7 6.8 6.6 -1 1.7 -4.7zM190.6 129.6l.6 -7.5 -1.3 -.7 -6.8 1.2 2.4 6.1 4 1.4zM174.1 147l1.8 -2.8 -6.8 -6.6 -5.7 3.2 8 6.4zM395.7 34.5l.6 -2.9 -4.1 -2.4 -5.2 3.4 .6 3.5zM95.3 235.3l-2.6 -2.6 -1.1 -.2 .2 1.6 .7 .9 1.8 .6zM95 232.1l1.8 0 .6 -1.2 -2.4 -.7zM100.1 237.1l.6 -.6 -1.1 -1.7 -2.5 -.2 -1.7 .8 .3 .5zM126.7 235.6l1.3 .2 .9 -2.9 -3.3 -.3zM128 235.8l-1.3 -.2 -2.5 .8 .2 .5zM105.7 664.2l-.8 -1 -2.7 1.5 1.5 2.2 1.6 -.1z"/>
<path fill="#ccccea" stroke="#ccccea" stroke-width=".35" d="M63.3 71.2l-2.1 -6.2 -7 .9 4.4 6.4zM198.6 65.8l-3.1 .1 -4.7 1.4 -2.1 2.2 4.2 4.4 4.1 .2 -.6 -.6 .1 -.7 1.9 -.3zM366.2 51.1l-3.8 -1.6 -6.1 4.3 .6 4.6 2.7 .2 7 -5.7zM262.9 115.2l-4 -.6 -2.6 6.5 4 2 4.7 -1zM424.5 127.3l2.4 3.3 8.6 -.9 1 -1.8 -3.1 -4.4 -2.1 -.2zM43.3 493.4l-3.7 -1.4 -4.2 .5 -1.6 1 4.4 5.8 2.6 .2 3.4 -.8zM45.7 513.6l-2.7 -1.4 -10.1 -.3 .1 .9 1.7 1.4 5.6 3.3zM48.3 486.7l-5.1 -.4 -3.6 5.7 3.7 1.4 6.3 -2.3 .8 -2.3zM160.3 486.6l-1.9 -6.8 -1.5 .4 -6 3.6 .7 2.6 7.1 1.5zM139.1 505.7l1.2 6 6.5 -.9 .4 -3.8zM51.2 541l2.3 1.6 3.3 .1 2 -1.7 -.3 -2.8 -5.7 2zM186 595.6l-7.9 -2.2 -2.2 2.9 1.4 2.8zM122.3 668.2l-2 -.8 -1.6 1.7 2.4 1.5 .8 -.5zM626.7 684.3l-.5 1.4 1.6 1.1 1.2 .1 .6 -1.1 -.1 -1.8z"/>
<path fill="#606cba" stroke="#606cba" stroke-width=".35" d="M72.9 39l-2.1 -1.2 -8.6 1.7 .7 3.7 3.2 2.4zM97.9 70.4l-5.8 -.1 -.5 1.3 2.7 3.1 7.6 -2.2zM94.7 59.5l6.4 4.2 1.9 .7 1.5 -.1 1.2 -5.8 -7.5 -1.8zM197.6 79.3l.7 .3 .4 -3.1 -1.6 -2.3zM181.4 57.1l.9 -.3 1.2 -4.9 -7.8 -3 -3.7 2zM41.5 104.6l2.5 -1.6 -2.2 -4.4 -4.5 4.3zM80 94.2l4.3 1.6 8 -3.3 -.4 -2.2 -5.9 -1.5zM92.7 99.3l2.2 2.4 3.7 -1 4.1 -5.5 -1.2 -.8 -6.7 -.3zM102.5 119l2 1.8 4.4 .4 7.3 -2.2 -.2 -1.2 -1.9 -1.9 -3.8 -1.4zM210.2 100.9l-5.7 1.6 .9 3 2 2.5 2.3 .6 8 -5.5 -1.2 -1.4zM197.3 103.5l-7.7 -2.8 -1.5 7.9 2.1 .6 3.1 -.3zM134.9 135l8.8 4.7 3.5 -.4 1.3 -4.9 -10.1 -1.7zM138.8 127.3l2.1 -4.6 -1.2 -1.4 -6.5 -.9 -.9 5.2zM290.2 25.4l3.1 2.2 8.6 -.1 2.8 -3.2 -5.4 -5.9 -4 0zM397.7 50.9l6.8 .5 3.5 -1.2 -6.3 -6.6 -1.5 -.3 -2.3 1.2zM286.4 92l.6 .3 6.2 0 1.6 -.5 1.4 -3.9 -4 -.4 -6.4 .2zM121.7 213.9l2.1 .5 2.3 -2.7 -.8 -.9 -3 .6z"/>
<path fill="#babade" stroke="#babade" stroke-width=".35" d="M67.5 56.5l-4.2 4.8 .5 1.2 5.3 1.7 5.9 -4 -4.6 -4.1zM78.9 43l-4.1 -3.8 -1.9 -.2 -6.8 6.6 5.2 2.4zM32.9 113l3.5 -2.7 -2.7 -2.6 -3.2 6.2zM101.4 221l.7 .8 2.6 -.8 .2 -.4zM115.5 217.1l-.1 -.7 -2.4 -1.2 -.5 2.1zM100.6 226.7l-1.5 .4 -1.3 1.5 .8 1.2 2.3 .7 1 -3.2zM104.2 234.9l-1.1 1.5 1.7 1.6 .4 -1.4 1.8 -.3 -.1 -.6zM43.3 479.2l4.2 -.3 1.9 -5 -2.9 -.7 -4.9 2.7zM139.8 486.4l5.2 -6 -.1 -.4 -2.4 2.6zM147 562l8.2 .2 2 -2.2 -2.9 -4.4 -7.5 1.2 -1.1 3.3z"/>
<path fill="#b4b4de" stroke="#b4b4de" stroke-width=".35" d="M70.4 56.1l4.6 4.1 1.9 .3 8.3 -2.3 -.1 -.6 -11.1 -5.5zM183.5 51.9l2.7 -1.6 -7.3 -6.7 -2.3 0 -.9 5.3zM55.6 138.7l5.4 1.5 2.8 -5.9 -.4 -.8 -5 -.1 -5 3.8zM89.3 116.1l2.3 3 2.9 .6 6.3 -1.7 -.6 -3.7 -.7 -1.7 -5.7 -.2zM184.6 134.7l4.3 -.6 .7 -.8 -.1 -3.2 -4 -1.4 -2.8 1.1zM125.5 217.8l2.8 -.3 -1.3 -1.9 -1.4 -.1 -1.1 1.5zM119.7 210.1l2.6 1.3 3 -.6 .2 -.8 -4.7 -.4 -1.1 0zM117.3 214.2l2.6 .5 1.8 -.8 -2.1 -1.5zM208 481.2l-4.5 -5.8 -3 1 -1 4.6 1.1 .8 4.6 -.1z"/>
<path fill="#6c72ba" stroke="#6c72ba" stroke-width=".35" d="M86.2 38.8l1.5 -1.1 -1.3 -3.4 -6.4 -1.3 -2.6 4zM98.3 56.2l-9.4 -4.8 -1.5 .3 -2.3 5.9 .3 .7 8.3 1.4 1 -.2 3.5 -2.8zM197.6 79.3l-5.9 2.5 -1.3 2.8 3.2 0 2.6 -1.3 1.7 -2.2 .4 -1.5zM181.1 77.4l1.8 -.9 .1 -6.5 -.7 -.5 -7.4 3.9zM168.1 73.6l-7.2 -.5 -1.8 .8 .2 .4 9.2 2.8zM95.1 136.1l-5.3 4.4 3.8 3.8 5.3 -1.2 1.9 -3.8 .1 -.8zM93.6 149.5l-.2 -3.2 .8 -1.2 2.1 -.6 4.1 -.4 -1.5 -1 -5.3 1.2 -3.3 4.2zM198.3 91.5l6.3 2.4 .4 -.2 0 -.4 -2.1 -1 -4.5 -1.7zM193.3 93.9l-4.3 -5.6 -2.6 -.4 -4 4.5 1.2 1.4zM183.6 93.8l-1.2 -1.4 -3.6 -.1 -2.6 1.3 2.5 5.9 3.9 .2 1.7 -.6zM176.2 93.6l-6.7 .6 .1 4.4 9.1 .9zM152.8 127.8l-4.4 -1.7 -2.2 2 3.6 5.5 3.8 -.5 1.4 -3.5zM396.3 31.6l6.1 -1.7 -5 -4.7 -5.9 2.4 .7 1.6zM390.8 101.9l2.3 .9 4.2 -1.3 2.9 -2.2 -1 -3 -2.6 -2 -8.4 -.4 -.4 .2 .1 2zM116.3 217.8l-1.5 2 3.5 1 1.7 -.5zM94.4 228.5l-.1 .6 .7 1.1 2.4 .7 1.2 -1.1 -.8 -1.2zM106.7 233.5l-.5 -2.5 -3.9 2 1.9 1.5zM224 560l-4 -6.7 -2.3 -.1 -3.4 1.9zM361.1 664.3l-.1 -2.3 -3.4 -.1 .3 2 1.3 .7zM624.4 666l-4.1 -1.7 .7 2.7 2.2 .5z"/>
<path fill="#b4bade" stroke="#b4bade" stroke-width=".35" d="M84.7 49.5l-1.2 -5.1 -1 -.7 -1.4 -.2 -4.1 7.2zM77.6 65.2l5.7 0 1.7 -2.1 .4 -4.8 -8.5 2.2zM182.3 56.8l5.5 2.2 2.8 -.7 3.8 -4.8 -.3 -1.9 -3.8 -2.5 -4.1 1.2 -2.7 1.6zM199.9 140.8l-.7 -.4 -7.3 .2 -2.3 6.7 8.9 -3.2zM167.3 92.5l-.7 -.1 -8.5 6.2 .3 .6 8.3 2.8 2.9 -3.4 -.1 -4.4zM161.8 120.3l8.3 2.7 2.5 -1.3 -6.1 -8.3 -1.5 .2 -3.9 1.4zM116.3 217.8l-.8 -.7 -3 .2 .5 1.6 1.8 .9zM130.2 230.2l-1.3 2.7 3 .9 -.6 -3.5zM90 491.9l-4.5 -1.1 -.9 .4 .9 8.1 2 .5 5 -1.1 2.2 -3.2zM206.9 518.1l-7.9 2.2 8.9 -.7z"/>
<path fill="#a2a8d8" stroke="#a2a8d8" stroke-width=".35" d="M87.7 37.7l5.2 1.3 2 -6.8 -4.1 -.9 -4.4 3zM110.2 32l-5 -1.3 -3.9 .1 -1.2 1.2 2 7.2 2.1 -.1zM100.7 44.5l-1.3 6.5 1.1 1.1 3.8 -.2 4.6 -4.7 -7.6 -3.1zM214 56.2l-5.5 2.7 -.1 4.9 1.8 .4 3.6 -1.1 3.6 -2.5 .7 -2.6zM47.5 94.6l-5.7 4 2.2 4.4 4.3 -1.6zM66.7 115.4l.3 .5 4.3 1 6.7 -3.5 -5.8 -5.5 -5 4zM176.9 132.5l-3.1 1.4 7.1 5.4 3.7 -4.6zM95.9 220.3l2 .2 -.4 1.3 .9 1 1.2 -2 -1.7 -1.1 -1.9 .3zM106.9 214.4l1.3 -1.4 -.9 -1.6 -2.6 0 -1.1 1.1zM105 217.4l-1.6 .6 1 2.4 1.5 .2 2.1 -.5 .4 -.8 -.4 -.6zM128.3 217.5l-1.5 2.4 2.4 .1 1.8 -1.1 .7 -1.1zM124.9 219.9l1.1 .3 .8 -.3 1.3 -2.1 -2.6 0zM115.4 216.4l1.3 -2.2 -1.5 -1.7 -.5 0 -1.7 2.7zM129.7 227.9l-1.1 -.9 -1 1.2 .9 .4zM127.6 228.2l1 -1.2 -2.4 -1.3 -.4 1.4 .4 .7zM119.7 236.9l.1 1.1 4.5 -1.9 -1.8 -1.6z"/>
<path fill="#aeaed8" stroke="#aeaed8" stroke-width=".35" d="M86.2 38.8l-3.7 4.9 1 .7 7.8 -.1 1.8 -5.1 -5.4 -1.5zM213.2 32.1l-1.4 .7 .2 2.1 4.2 4.6 4.4 -.2 1.7 -3.4 -3.3 -4.3zM170.9 51.2l-2.3 5.3 10 2 2.8 -1.4 -9.4 -6.2zM47.8 115.2l-4.4 -.2 -1 .7 -2.2 4.9 2.5 1 9.3 -2.2 -1.4 -2.4zM63.4 133.5l.6 -3.3 -1.3 -.8 -8.4 -.3 -2.5 1.3 6.6 3zM128.4 214.7l3.1 -.2 -1 -1.9 -1 -1 -2.1 .5zM115.5 228.8l1.3 -.8 -.6 -1.2 -2 1.8zM59 554.9l2.2 -1.4 -7.1 -4 -4.1 .1 2.5 5z"/>
<path fill="#8a90cc" stroke="#8a90cc" stroke-width=".35" d="M87 76.8l3.7 -1.1 3.6 -1 -2.7 -3.1zM91.9 22.2l5.6 2.8 1.8 -2.3 -5.8 -2.4zM104.2 39.1l-2.4 .4 -.5 4.6 7.6 3.1 1.8 -.2 -4.5 -7.7zM113.3 39.2l-.1 -4.9 -2 -2.3 -1 0 -6 7.1zM211.8 32.8l1.4 -.7 .2 -5.6 -3.7 -2 -3.2 1.9 -1.7 3.5 1.7 1.6zM204.6 49.2l-10.5 2.4 .3 1.9 6.7 3.1 3.4 -1.4 1.5 -2.3zM186.2 63.7l-6.7 2.9 3.5 3.4 5.7 -.5 2.1 -2.2zM162.6 65.5l-3.4 1.8 1.7 5.8 6.9 .3 -.3 -6.1zM55.8 100.9l0 -5.4 -3 -1.1 -3.3 -.6 -2 .8 .8 6.8zM59 114.9l7.7 .5 .5 -3.5 -7.4 -2.4 -3.7 1.1 .2 .8zM100.8 118l1.7 1 7.8 -4.5 -.5 -.7 -9.6 .5zM106.9 101.3l3.3 2.2 1.1 -.3 .5 -.6 -5.7 -5.2zM111.3 103.2l1.3 .3 -.8 -.9zM202.6 112.5l4.8 -4.5 -2 -2.5 -9.4 4.3 3.2 2.4zM203.1 128.2l-4.8 -.3 -.7 .7 1.7 4.8 7.7 -.8 -.9 -3zM201.3 140.9l8.3 -6.6 -2.6 -1.7 -7.7 .8 -1.5 2.3 1.4 4.7 .7 .4zM180.9 139.3l1 1.9 .6 .1 6.6 -1.4 -.2 -5.8 -4.3 .6zM185.5 128.7l-2.4 -6.1 -4.5 .2 -.8 4.7 1.2 3.1zM163.4 140.8l-1.1 .1 -2.5 1.5 1 2.9 .7 1 .2 1.9 9.1 -.7 .6 -.3zM153.6 110.1l-2.4 -.3 -6.7 3.3 -.7 2.2 .5 .9 4 1.5 5.6 -1.6 3 -1.9zM155.8 122.4l-6.3 .2 -1.2 1.3 .1 2.2 4.4 1.7 4.7 -5zM138.4 132.7l10.1 1.7 1.3 -.8 -3.6 -5.5 -6.2 1.1zM96.5 214.2l.1 .3 3.2 .4 1.2 -.7 .5 -1 -1.1 -1.1 -1.4 -.4 -1.4 .5zM121.2 217.2l2.9 -2.5 -.3 -.3 -2.1 -.5 -1.8 .8 .2 2.1zM115.6 212.1l3 -1 1.1 -1 0 -.5 -2.8 1 -1.4 1.1zM97.1 225.8l-1.8 .8 -1.6 1.4 .7 .5 3.4 .1 1.3 -1.5zM128.5 228.6l.9 1.3 1.9 .4 -1.6 -2.4zM124.3 236.1l2.4 -.5 -1.5 -3.2 -3.1 1.3 .4 .8zM121.8 226.7l-1.2 -1.5 -3.7 2.8 1.8 .5 2.9 -1.3zM42.6 579.8l.8 -2.1 -7.5 -3.3 -2.5 2.5 3.6 3.4z"/>
<path fill="#5a66b4" stroke="#5a66b4" stroke-width=".35" d="M113.5 58l2.4 -4.4 -2.9 -2.4 -5.4 2.6 1.6 3.2zM213.8 63.1l-3.6 1.1 2.9 5.5 2 .2 5.5 -3.3zM192.9 73.9l-5.3 2.8 4.1 5.1 5.9 -2.5 -.5 -5.1zM68.6 123.6l-.9 5.2 5.6 1.1 5.8 -1.6 -2.3 -5.8 -.9 -.3zM115 109.8l1.8 -.3 -3.5 -5.2 -.7 -.8 -1.3 -.3 -1.1 .3 -2.7 4.7 1.4 .8zM109 142.7l1.2 -.4 4.8 -4.1 -.1 -.5 -1.9 -.9 -3.5 -.4 -1.4 .2 .5 5.7zM122.3 130.4l.4 -3.6 -.9 -6.2 -3.1 -.4 -4 8.6zM178.8 92.3l3.6 .1 4 -4.5 -4.7 -.4 -5.9 .2zM156.3 134.7l-2.7 -1.6 -3.8 .5 -1.3 .8 -1.3 4.9 5.6 .8zM286.8 43.6l.1 -6.1 -1.4 -.9 -3.6 -.5 -5.3 2.7 2.5 4.9zM275.6 45.8l5.2 6.4 4.1 -2.3 3.9 -4.9 -2 -1.4 -7.7 .1zM102.4 509.3l6.5 -5.5 -2.6 -2.1 -1.7 -.8 -2 .7 -2.5 6zM110.8 504.4l-1.9 -.6 -6.5 5.5 .8 1.6 2.5 .7zM114.8 493.1l-2.6 1.3 1.5 4.4 2.2 1.8 6 -2.7 -1.5 -3.7zM148.4 506.1l-1.2 .9 -.4 3.8 3.7 2.6 2.5 .2 1.1 -.9 1.4 -7.1zM33.9 563.5l6.6 -1.8 .3 -.7 -.2 -.6 -6.7 -3.9 -2.8 5.7zM47.5 574.6l-1.2 -1.9 -7.6 -2.4 -2.6 .6 -.2 3.5 7.5 3.3zM176.8 540.3l3.8 1.4 3 -1.3 3 -4.5 -4.6 -.4 -6.8 .3zM621 667l-1.5 1.1 0 1.1 1.1 .7 3.2 -.5 -.6 -1.9z"/>
<path fill="#a2a2d8" stroke="#a2a2d8" stroke-width=".35" d="M115.3 62.9l-6.7 2.8 .5 4.5 .8 0 5.6 -2.1 3.6 -2 1.4 -1.4zM61.7 141.8l-.7 -1.6 -5.4 -1.5 -4.5 3.8 6.8 2.1zM166.5 113.4l4.1 -3.8 1 -3.1 -3.2 -2.1 -6.4 4.5 3 4.7zM619.1 680.3l4.1 -.6 -.7 -2.3 -1.8 -.2z"/>
<path fill="#aeb4d8" stroke="#aeb4d8" stroke-width=".35" d="M113.3 39.2l1.9 1 1.5 -.7 -3.5 -5.2z"/>
<path fill="#9696d2" stroke="#9696d2" stroke-width=".35" d="M223.9 38.8l-3.3 .5 5.4 5.5zM186.2 50.3l4.1 -1.2 1 -4.5 -6.9 -2.2 -5.5 1.2zM154 39.3l-5.6 1 -1.8 4.3 6.4 1 2.2 -.6zM57 121.9l-2.7 7.2 8.4 .3 -3 -7.1zM83 113.2l2 -2.8 -9.7 -4.7 -3 1.3 -.1 .9 5.8 5.5 2.7 .6zM75.6 141.5l10.3 -2.4 -.7 -3 -6.2 -.4 -4.3 4.6zM93.9 104.5l1 -2.8 -2.2 -2.4 -6.8 -.8 -2.4 4.5 5.2 3.1zM175.7 148.3l-1.5 5.3 8 -3.1zM407.4 101.8l4.6 .1 1.2 -1.3 1.2 -5.2 -.6 -.2 -5.3 1 -5.4 3.3zM95.2 219.8l-.1 -2.9 -2.8 1.7 1.7 1.2zM208.1 582l10 4.1 3 -.9 -.7 -4.2 -6.7 -2.3z"/>
<path fill="#8484c6" stroke="#8484c6" stroke-width=".35" d="M218.6 46.6l-2.6 2.9 .3 .8 5.3 2.3 5.4 -1.7 -1 -6.1zM184.9 25.4l-3.4 6.1 9.3 -.5zM53.4 137.2l5 -3.8 -6.6 -3 -2.2 .4 0 2.9zM71 148.1l-3.8 -1.7 -.6 0 -.7 1.2 5.4 2.3zM88.7 106.1l-5.2 -3.1 -5.6 .5 -2.6 2.2 9.7 4.7 2.9 -1.7zM80.4 120.4l-3.6 2.1 2.3 5.8 2.2 .3 7.1 -2.9 -1.6 -4zM98.9 143.1l1.5 1 4.9 -.5 3.7 -.9 -8.2 -3.4zM202.2 120.2l3.8 -3.7 -3.4 -4 -3.4 -.3 -3.3 4.2zM93.4 212.1l2.2 -.7 .5 -.9zM338.4 661.9l-1.1 .2 -.9 1.3 3 1.8z"/>
<path fill="#5460ae" stroke="#5460ae" stroke-width=".35" d="M221.6 52.6l-1.6 4.5 6.9 1.3 .7 -2.2 -.6 -5.3zM43.2 553.4l-6.4 -1.1 -2.9 4.2 6.7 3.9 2.9 -6.5z"/>
<path fill="#6066b4" stroke="#6066b4" stroke-width=".35" d="M218.6 46.6l-5.5 -4.4 -2.4 .6 -3.7 4.5 9 2.2zM183 70l-.1 6.5 4.7 .2 5.3 -2.8 -4.2 -4.4zM132.4 54.9l-.2 3.2 6.6 3.2 3.7 -2.3 -6 -5.2zM55.8 100.9l3.8 1.7 5 -4.3 -1.6 -3.6 -7.2 .8zM75.1 87.5l-5.5 .3 -6.3 1 .7 4.4 3.6 .2 8.3 -3.2zM79 135.7l-.8 -1.5 -6.7 .3 -1 .9 3 4.4 1.2 .5zM103.8 136.6l5.7 -.2 -.3 -7 -7.1 -.3zM220 116.1l-6 -4.9 -.6 0 -5.2 5.2 7 3.2zM210.2 134.2l11 -1.7 -.4 -3.1 -.4 -.4 -5.6 -1.4zM334 211.6l-.2 -2 -3.6 .4 1 1.6 1.4 .3zM222.3 576.2l1.1 3 3.3 .3 .9 -4.1 -.1 -3zM214.3 555.1l-.5 .1 .5 4.7 1.3 2.1 7 0 1.8 -.9 -.4 -1.1zM206.9 566.8l6.8 .1 1.9 -4.9 -1.3 -2.1 -8.6 3.3 -.2 .5zM215.2 567.7l-1.5 -.8 -6.7 -.1 1 6.5 5.8 1.1z"/>
<path fill="#787ec0" stroke="#787ec0" stroke-width=".35" d="M204.8 49.2l1.2 3.7 6.7 1.4 3.6 -4 -.3 -.8 -9 -2.2zM162.6 65.5l-.2 -7.1 -.9 -.3 -6.8 0 -1.1 .4 .4 4.7 3 3.9 2.2 .2zM135.7 64.4l2.7 -2.1 .4 -1 -6.6 -3.2 .5 3.4 .7 1.7 .9 1.3zM85.9 98.5l6.8 .8 2.1 -5.2 -2.5 -1.6 -8 3.3zM115 128.9l-2 7.9 1.9 .9 5.1 -2.1 1.5 -2.6 .8 -2.6zM206.9 123.3l-3.8 4.9 3 1.4 6.3 -3.9 -.4 -1.3zM182.6 99.7l-.8 7.7 2.3 1.4 4 -.2 1.5 -7.9 -.6 -.8 -4.7 -.8zM273.3 94.6l-2.5 5.4 11.8 .8 -5.4 -6.8zM277.7 93.7l8.7 -1.7 -.6 -4.3 -8.6 1.4zM96 220l-.8 -.2 -1.2 0 1.9 .5zM99.9 214.9l3 3.1 2.1 -.6 -1.7 -2.2 -2.3 -1zM95.7 514.9l-2.6 -7.9 -4.6 .1 -2.1 1.1 3 7.2z"/>
<path fill="#7272c0" stroke="#7272c0" stroke-width=".35" d="M172.5 25.7l-.9 .5 -1.8 6 5.9 1.9 3.4 -1.6 -3.5 -7zM170.8 147.5l-9.1 .7 -.4 1.2 .2 1.4 1.8 2.1 3.4 1.9z"/>
<path fill="#bac0de" stroke="#bac0de" stroke-width=".35" d="M175.7 48.9l.8 -5.3 -5.1 -.1 -2.6 2.1 2.1 5.6zM102.2 679.4l.2 1.2 3.9 .4 .6 -.8 -2.3 -2.8 -.9 .1z"/>
<path fill="#a8aed8" stroke="#a8aed8" stroke-width=".35" d="M151.4 32.4l3 6.7 6.1 -.4 -1.7 -7.4 -3 -.5zM66.6 146.4l-4.9 -4.6 -3.8 2.8 8 3zM146.6 101.1l1.5 -3.1 -3.4 3zM103.3 215.2l2.8 -1 -2.5 -1.7 -2.1 .7 -.5 1zM109.3 213.1l-1.4 -1.5 -.6 -.2 .9 1.6zM125.6 215.5l-1.5 -.8 -2.9 2.5 1.1 1 2.2 -1.2zM119.7 220.6l-1.4 .2 1.4 .4zM102.3 233l-.8 -.2 -1.9 2 1.1 1.7 2.4 -.1 1.1 -1.5 0 -.4zM115.3 231.1l.4 -.7 -.2 -1.6 -1.3 -.2 -1.5 3.1zM35.2 582.3l-5 -1.1 1.5 2.1 1.4 1.1 2.3 1z"/>
<path fill="#5460b4" stroke="#5460b4" stroke-width=".35" d="M136.5 53.8l2.6 -2.8 -.2 -4.1 -3.9 -1.1 -1.6 4.1 -1 5zM67.2 111.9l5 -4 .1 -.9 -2.4 -1.3 -7.7 -.6 -2.4 4.4zM221.6 133.1l-4.9 6.4 6 -2 2.9 -3zM146.2 501.1l2.2 5 7.1 -.5 1.6 -.8 -2.4 -4.6 -.8 -.5 -5.2 -.5zM33.9 563.5l-2.2 5.8 4.4 1.6 2.6 -.6 3.8 -5.5 -2 -3.1zM190.5 549l7.8 -.2 2 -1.6 -2.7 -4.2 -3.7 -.7 -5 1.9 -1.5 2.5z"/>
<path fill="#4e5aae" stroke="#4e5aae" stroke-width=".35" d="M220.8 129.4l.4 3.1 .4 .6 4 1.4 1.6 -3.7 .3 -2.4zM108.9 503.8l6.5 1.4 .5 -4.6 -2.2 -1.8 -7.4 2.9zM186.4 501.8l-.6 4.4 3.9 2.4 4.3 -2.3 .2 -4.3 -3.6 -1.2zM181.8 484.2l2.2 -2.9 -1.3 -3.4 -5.9 .1 -2.7 2.9 1 3.4 3 .7zM35.9 574.4l.2 -3.5 -4.4 -1.6 -2.7 .2 -.6 5.9 .3 2.2 4.7 -.7zM66.1 540.3l2.3 2.6 5.5 -1 -.7 -6.3 -5.4 .5zM78.6 535.6l-5.4 0 .7 6.3 5.8 1.7 1 -.8zM88.3 537.1l-3.5 -.8 -6.2 -.7 2.1 7.2 1.7 -.3zM198.3 548.8l-7.8 .2 -3.4 6.1 4.3 .9 6 -.7zM169.5 543.2l7.3 -2.9 -1.6 -4.5 -8.3 1.5z"/>
<path fill="#7878c0" stroke="#7878c0" stroke-width=".35" d="M140.5 107.7l6.5 -1.7 1 -3.6 -1.4 -1.3 -1.9 -.1 -4.8 5.6zM101.9 227.3l-1 3.2 3.4 -.8 -1.2 -2.2z"/>
<path fill="#f08a8a" stroke="#f08a8a" stroke-width=".35" d="M252.5 30.8l-.4 -.2 -2.4 2.8 -2.6 4.1 1 -.5zM257.6 38.4l.4 -7.8 -5.5 .2 -4.4 6.2zM276.6 38.8l5.3 -2.7 -3.9 -4.2 -2 -.1 -2.4 1.4 -2.2 4.3zM439.4 44.6l-8.1 5.3 4.8 3.9 6.2 -2.3 -1.1 -6.6zM437 64.9l-1.6 -.4 -7.4 .7 -.6 5.7 1.9 -.6 4.8 -2.5 1.7 -1.2zM425.6 42.5l-3.8 .4 -3.2 3.1 2.9 3.4 2.8 .9 2.9 -1.1 1 -4zM419.7 69.3l-1.3 3.1 8.9 -1.4zM413.7 76.1l-.3 -.7 -1.8 -1.9 -.5 2.7zM418.4 72.3l-6.4 -.5 -.2 1 1 -.3zM368.2 66.8l-2.8 -1.3 -5.6 .8 -1.3 3.3 8.6 2.6zM279.4 131.5l1.5 3.2 4 2 3.6 -1.7 -3.8 -5.5 -4.8 1.2zM288.5 135l4.9 .8 -.9 -7.3 -4.5 -1.6 -3.3 2.6zM297.9 102l-4.7 4.7 1 1 7.6 3.7 1 -2.8zM413.8 95.2l2.5 -.1 3.5 -2 -5 -2.1 -6.2 -1.8zM423.1 101.4l-1.8 -.9 -8.1 .1 -1.2 1.3 4.1 4.3zM418.5 141.9l-3.4 1 .3 .7 3.8 -1.1zM407.5 110l-1.3 -1.2 -3.4 -1 -7.2 2.1 3.1 4.7 .8 .6 5.8 -1.4zM394.2 148.3l-2.9 -2.7 -9.7 2.6 4.3 6.5 6.4 -2.2zM373.3 107.7l-2.4 -.2 -5.3 4.6 3.6 4.8 5.9 -.1 .9 -8zM376.6 121.4l-7.5 2.7 1.5 4 5.4 .4 1.3 -1zM621 22l5.5 3.3 3.8 -4.1 -7.8 -1.4zM585.3 106.8l.3 -4.7 -2.4 -1.3 -7.2 .8 1.4 4.9 1.8 1.4 3.4 .2zM326.3 219.9l-1.2 -2.2 -1.6 -.4 1 1.6zM339.7 219l0 1.1 1.8 -.6zM351.5 220.9l-3 -1.4 -1.3 .5 4.2 1.2zM348.3 212.3l-.8 -.7 -2.2 3 2.8 .5 .5 -.9zM336.4 233.6l.3 .4 4.1 -.1 1.5 -.5 -2.5 -2.4 -1.8 .1zM353.1 230.7l1.3 -2.2 -3.1 -.7 -1 .5 .6 2zM567.8 228l2.4 2.5 .2 -.1 .5 -2.3 -1.2 -1.4 -1.2 -.1zM116.8 506.3l-2.4 5.6 1.6 1.6 3.7 .4 2.3 -2.7 .7 -1.7 .5 -3.9zM194 506.3l3.7 1.3 2.2 -1.4 -4.7 -4.4 -1 .2zM93.2 588.7l1.1 -.1 6.1 -3.4 .8 -1.2 -2.1 -2.6 -6.9 .2 -1.8 6.5zM114.8 558.9l-.3 -1.5 -9.5 -1.8 1.5 6.7 .7 .3zM133.5 670.5l-3 -.1 -.9 1.4 .8 .8 3 -.3 .6 -.3zM105.9 688.2l-4.8 -.8 -.6 .6 .1 .4 3.8 1.3zM111.4 679.9l0 1.8 2.7 .3 -1.8 -2.2zM121.7 684.5l-1.5 -.1 -.8 1 .7 1.9 2.3 .4 .9 -1.8zM345.7 679.6l-1.8 -1.2 -1.9 -.6 1 1.9zM356.1 688l-2.2 .3 .1 .3 2.1 .3 .6 1.5 .8 .4 .9 -.1zM615.9 684.5l-2.3 .7 .9 2.1 .7 .2 2.3 -1.3z"/>
<path fill="#f6b4b4" stroke="#f6b4b4" stroke-width=".35" d="M246 39.6l-1.4 4 -.8 3.7 6 -3.3zM249.8 44l.8 .3 7.9 -2.2 -1 -3.6 -9.4 -1.5 -1 .5 -1.1 2.1zM259.2 49.7l-3.6 .9 .6 5.9 7.5 1.6 2.1 -1.2 -4.9 -6.8zM264 72l2.5 .3 6.9 .4 -.6 -.8 -6.7 -1.5zM274 73.5l-.1 -.2 -1.8 2.1 -.5 1.4zM302.7 76.8l8.6 -2.5 .3 -3 -3.7 -1.9 -6.6 2.4zM323.4 31.8l2.5 -.6 -2.7 -2.5 -.5 2.5zM323.4 32l-1.2 4.1 4 3.4 1.5 .1 2.7 -2.8 -1.6 -2.2zM425.1 25l4.3 5.1 3.2 -.2 -4.5 -3.7 -2.9 -1.5zM414.2 26l1.7 -4.5 -9.5 -1.8 -1 2.5 2.1 3.8 5.3 .4zM414.2 33.9l.7 -1.3 -2.1 -6.2 -5.3 -.4 -3.2 3.9 1.7 2.2zM372.5 58.4l-.1 2.3 5.7 4.2 4.6 -.8 .8 -.8 -3.9 -5.1 -6.2 -.1zM382.7 64.1l-4.6 .8 -2.4 2.4 2 3.6 7.2 .8zM374 31.6l-4.1 5.1 5.7 3.3 3.3 -4.5 -1.8 -3.4zM378.1 64.9l-5.7 -4.2 -4.4 5.8 .2 .3 7.5 .5zM257.1 99.2l.2 -.7 -1.2 1zM270.7 120.3l-4.7 1.9 5.3 4.5 3.9 -.1 2.7 -3.5zM303.8 94.1l1.2 -1 -1.2 -3.8 -7.6 -1.4 -1.4 3.9zM297.3 128.6l2.9 -2 -2.8 -5.2 -8.6 5.6 3.7 1.5zM297.4 121.4l2.8 5.2 7.2 .1 2 -4.1zM328.6 113.2l-.7 .5 6 7.4 3.4 -.2 -3.5 -8.5zM419.6 125.5l-1.4 .7 .2 7.2 7.1 -.9 1.4 -1.9 -2.4 -3.3zM417.3 134l1.1 -.6 -.2 -7.2 -9.4 .9 3.6 5.9zM386.4 139.8l5.9 1.9 2.3 -.9 -2.9 -7 -6 3.2zM381.9 141.8l-.7 6.3 .4 .1 9.7 -2.6 1 -3.9 -5.9 -1.9zM370.6 128.1l-3.1 3.9 3.5 3.8 6.1 -.5 2.6 -1.6 -3.7 -5.2zM359 103.3l7.2 -.8 .5 -1.4 -3.3 -3.2 -5.2 4.8zM364.8 120.6l-7.7 -6.4 -.9 .1 0 7.2 5.8 1.2 2.6 -1.1zM462.1 52.6l-3.8 -.3 -.2 4.9 1.1 2.5 5.1 -2.1zM467.2 63.8l4.1 .3 1.9 -7 -.4 -.4 -7.2 1.2zM499.1 72.3l-2.1 -1.2 -4.5 6.8 4.4 .6 3.4 -1.8zM528 68.1l-6.2 1.5 2.1 5.1 5.2 -1.2 .4 -1.9zM528.5 30.5l3.8 6.4 3.8 -1.1 1.3 -5.6 -.6 -.9 -6.1 -.4zM539.4 70.5l-4.2 -5.7 -2.1 -.4 -3 .3 -2.1 3.4 1.5 3.5zM548.4 53.4l-1.6 4.8 2.3 1.9 3.8 .7 .4 -3.3 -.4 -3.9zM655.1 63l1.8 -3.3 -5.6 -1.1 -2.3 5.4zM649 64l2.3 -5.4 -1.2 -3.1 -5.5 3.4zM617.3 32.9l5.6 .5 4.4 -1.8 -1.3 -5.2 -8.3 2.2 -1.2 3.6zM630.9 58l-4.2 -6.6 -3.9 2.5 -1.1 4.1zM616.1 81.5l-3.9 -4.4 -6 1.8 .3 .7 8.3 3.1zM590.8 68.6l.9 .6 7.1 -5.1 -1.1 -2.3 -6.4 -2.5 -1.2 .4zM591.4 45l-6 1.4 -3.4 4.5 .3 .5 1.8 .5 7.9 0zM574.7 37.5l1.6 -6.4 -.8 -.4 -5.4 6.6zM575.7 67.5l-4.9 -.7 -.7 1.3 6.3 2.4zM473 99.1l4 -.1 6.3 -3.4 -3.1 -2.2 -6.5 4.1 -1 .8zM480.3 93.4l3 2.2 1.9 0 2.1 -1.5 -.6 -3.3zM480.5 124.3l.3 .3 6.1 .3 5.3 -2.6 -2.4 -2.5 -8.6 1.4zM479.9 130.3l.7 .6 6.4 1.9 2.6 -3.1 -2.7 -4.8 -6.1 -.3zM500.7 128.9l4 -2.4 -5.8 -5.7 -4.7 1.8 1.3 5.2zM520 143.6l-.2 -1.1 -5.5 -1.9 -2.7 1 .1 6.7 6.5 -1.6zM545.8 133.8l.9 4.6 1.1 .3 2.3 -2.3 1.7 -2.9zM546.7 138.4l-5.1 2.6 0 1 4 -1.6 2.2 -1.7zM649.3 105.5l1.3 .4 -1.3 -1.7zM644.3 111.3l-1.4 -2.5 -8.2 -.5 2.4 7.7zM636 127.7l3.2 -.8 .5 -1 -3.2 -5.4 -8.2 2.5 2.2 4.3 1.4 .7zM612.6 150.6l2.4 -1 3.7 -1.7 -6.5 1.9zM599.5 120.3l1.7 1.4 5 .5 4.3 -9.2 -1.2 -.4 -9 2zM601.2 121.7l-3.3 7 .9 .7 9 -2.7 -.1 -4 -1.5 -.5zM592.4 136.4l-1.1 2.3 8.9 3.9 1.3 -.7 -1.6 -7.1zM591.3 138.7l1.1 -2.3 -1.7 -1.8 -10.2 1.2 9.2 3.8zM582.8 143.7l-3 -2.5 -4.3 1.2 4.7 1.2zM326.3 219.9l1 .3 2.1 .2 -.4 -.6zM329.6 220.9l0 1.2 1 .7zM335.1 211.8l.9 .7 3 .2 .8 -1.2 -2.5 -1.5zM337 215.3l3.4 -1.1 -1.4 -1.5 -3 -.2 -.1 2.1zM361.9 212.3l-.9 -1.2 -2.5 -.9 -.3 2 2.7 .4zM348.3 216.5l-.2 -1.4 -2.8 -.5 -.8 2.7zM331.8 233.6l1.2 3.1 2.9 -.1 .8 -.8 0 -1.8 -.3 -.4 -3.2 -.6zM550.7 215l.2 -3 -4 1 .3 1.2zM560.1 211.9l-2.2 -1.6 -2.3 -.7 1.8 1.7zM559.8 214l-2.2 .6 -.4 2 2.4 .7 1.4 -2.1zM583.7 217.8l.2 -1 -.5 -2.9 -2.2 1.3 .2 2.1zM544.5 232.9l-.9 -.1 .6 2 3.1 1zM550.8 230.3l2.7 .3 -.3 -2.8 -.5 -.4 -2.7 .5zM557.2 230.2l-.1 -2.7 -3.9 .3 .3 2.8 3 0zM553.3 233.8l.2 2.5 5.3 -1.7 -3.7 -1zM580.7 233.1l1.4 1.4 1.3 .2 .6 -1.5 -.1 -.4zM578.4 226.5l-2 .9 1.4 2.3 2.3 .1 1.2 -1.3 -.8 -1.7zM97.6 560.3l-4.4 4.2 2.3 2.7 2.9 -.2 4.4 -4.8zM200.5 575.6l-2.7 -2.5 -6.5 .8 -2.4 .8 4.2 7.4zM181.9 549l-7.4 .5 .8 5 9.1 1.5 1.1 -.6zM183.1 560.7l1.3 -4.7 -9 -1.5 -2.6 5.1 5 3.6zM98.7 672.2l3 -.3 .5 -1.7 -4 0 -.4 1.8zM103.7 670.2l3.4 2.5 .6 -.2 1.1 -1.9 -.7 -.9 -1.3 -.8zM108 666.4l3.5 .4 .8 -1.5 -.5 -.7 -2.3 -1.1 -1.3 .9zM111.5 666.8l.4 2.4 3.3 .7 -.5 -2.3zM131 663.8l1.6 -.6 -3.8 -1.1zM131 663.8l-1.1 1.2 1.3 1.9 3.7 -1.8 -2.3 -1.9zM118.7 669.1l1.6 -1.7 -.6 -.8 -2.2 .2 -.8 3zM102.2 679.4l1.5 -1.9 -2.3 .5 -2.1 1.1zM101.1 687.4l5.1 .7 -1.6 -1.9 -2.2 -.2zM128.9 687.8l2.2 .6 2.5 -.6 -.5 -2.6 -.6 -.4 -3.5 .6zM334.1 672.7l-.9 -.9 -1.2 .4zM363.1 664.9l.7 1.8 3.9 -.4 0 -2.1 -2.6 -.5zM363.5 670.9l.7 -.5 -.6 -3.5 -3.6 .9 -.1 2.2zM339.5 688.2l-3.7 -.2 -.2 .1 .4 .8 3.8 1.5zM342.5 687.9l-2.3 0 -.7 .3 .3 2.2 1.5 .5 1.1 -.4zM367 682l-1.6 -2.4 -.6 -.4 -1.3 .3 -.7 1 .5 1.9zM363.3 682.4l-.5 -1.9 -3 -.3 -1.4 .5 2.2 1.9 2.1 .5zM358.4 680.7l-.8 0 -.4 2.6 3.4 -.7zM358.8 684.9l-2.1 -1 -1.1 .6 1.3 3.1 2.7 -.5zM352.8 682.9l-2.1 .5 -.3 .9 3.1 .9 .4 -.2zM597.5 672.4l.6 .3 2.8 0 .7 -2.2 -2.8 -1zM601 672.7l2.5 .1 1.2 -.4 .7 -.9 -.8 -.8 -2.6 -.3 -.4 .1zM595.7 688.6l2.8 1.2 .8 -1.5zM605.5 681.1l-.3 -1 -4.4 -.2 .4 1.8 1.8 1.3 1 -.2zM623.7 688.5l3.8 -.9 .3 -.8 -1.6 -1.1 -2.4 .8zM619.1 687.3l.8 .6 3.6 .3 .3 -1.7 -2.6 -1.3 -2.2 1.4zM619.3 680.4l-2.1 -.1 -1.1 2.4 .6 .8 3 -.2 .6 -1.6zM614.5 687.3l-1.8 .8 3.3 .6 .5 1.4 .1 -1 -1.4 -1.6z"/>
<path fill="#f0a8a8" stroke="#f0a8a8" stroke-width=".35" d="M250.2 51l3.3 -1 -2.9 -5.7 -.8 -.3 -6 3.3 -.5 3.5zM260.7 43.1l6.8 -5.6 -1.8 -1.2 -8.1 2.1 .9 3.7zM275.1 80.9l-3.3 -2.4 .6 2.6 1.4 1.9zM271.9 46l3.7 -.2 3.5 -2.1 -2.5 -4.9 -5.2 -1.3 -1.3 .5 -.2 6.9zM280.5 81.3l-2.5 -.9 -2.9 .5 -1.3 2.1 2.9 1.6 3.5 0 .8 -.2zM289.6 57.2l5.3 6.2 2 -.1 2.7 -2.8 -2.4 -4.2 -5.5 -.3zM299.6 65.7l-2.7 -2.4 -2 .1 -5.9 3 .4 1 10.3 3.2zM307.9 69.4l1.6 -5.3 -9.9 1.6 .1 4.9 1.6 1.2zM318.3 71.7l-1.3 -1 -5.4 .6 -.3 3 6.9 -2.1zM337.4 51.9l-1.6 -4.9 -1.4 -3 -.4 .1 -2.6 7.5zM428.2 45.2l-1 4 4.1 .7 8.1 -5.3 -3 -1.5zM427.7 59.3l-8 -1.2 2.2 5.4 2.9 -.2zM414.3 45.2l-2.1 -5.4 -7.3 3.1 7 3.9zM404.5 51.4l-1.1 6.2 5.1 1.9 2.2 -.5 2.6 -2.5 -1 -3.8 -3.3 -2.5 -1 0zM400.9 80.4l-1.8 2.2 6.2 2 3 .1 .5 -5 -.8 -.8zM384.9 71.7l1.6 .4 7.4 -5.8 -.3 -2.2 -4.9 -1.6 -5.2 .8 -.8 .8zM383.2 50.8l-3.7 -1.2 -3.9 2.6 -2.2 5.9 6.2 .1 4.8 -3.8 .1 -2.8zM366.5 37l-3.3 -3.5 -6.3 1 -.8 2.1 6.5 2.4zM271.5 135.5l-6.4 1 2.3 6.3 2.4 .7 2.3 -.1 4.2 -2.9zM287.6 112.5l-.5 -3.5 -5.9 .7 -.3 4 3.8 .3zM294.3 136.3l.6 2.8 1.1 1 10.7 -3.8 -.1 -1.5 -1.2 -1.4 -5 -.4zM303.3 114.3l4.3 1.7 6.9 -2.2 .1 -4.3 -4.2 -1.5 -7.2 5.6zM324.9 102.2l-4.8 -2.1 -5.5 1.2 3.9 6.2 2.3 .3 1.6 -1zM408.1 120.7l.2 -4.4 -3 -2.5 -5.8 1.4 -1.9 3.6 .7 1.2 7.8 3.1zM399.9 127.3l-1.5 5.2 4.5 .5 5.9 -5.5 0 -.4 -1.8 -1.4zM392.6 132.3l-.9 1.5 2.9 7 1.1 -.2 2.7 -1.1 -.7 -6.8zM396.3 118.7l-9.3 -3 -.9 6.6 .8 0zM364.6 121.6l-2.6 1.1 -2.2 4 10.3 1.8 .5 -.4 -1.5 -4zM355.1 114.1l2 .1 4.1 -1.9 -.9 -3.4 -5.1 -1.8 -.7 .3 -1.9 3.3zM359.8 126.7l2.2 -4 -5.8 -1.2 -5.7 1.2 4.1 5.3 1.5 .7 1.9 -.3zM348 121.9l-.5 2.7 .1 4.6 7 -1.2 -4.1 -5.3zM471.2 29l-.4 -1.5 -3.4 3.1 -2.3 2.7zM507.3 66.7l2.3 -.8 -3.2 -7.2 -3.4 -1.2 -2.3 5.3 5.3 3.6zM516.5 52l2.9 -.2 4.4 -5.9 -9.1 -.6zM532.8 56.5l-4.6 -3.7 -4.6 1.8 -.6 5.2zM546.2 66.3l-4 -3.2 -2.3 -.3 -4.7 2 4.3 5.7 6.9 -2.6zM657.7 52l-1.3 -7.8 -4.3 -1.8 -5.7 1.7 .1 1.7 6 6.9zM647.1 33.3l2.1 -2.2 -3 -3 -2.2 -1.6 -3.2 2.9 3 3.9zM652.1 42.4l.2 -4.7 -11.9 2 2.8 3.5 3.2 .9zM640.9 51.7l5.6 -5.9 -.1 -1.7 -3.2 -.9 -6.5 3.8 .2 4.6zM621.8 75.6l1.4 -.7 -1.2 -8.2 -5.8 .7 .3 6zM616.5 73.4l-.3 -6 -2.5 -1.3 -7.3 2 -.6 2.7 2 1.9 6.2 1.3zM607.8 72.7l-2.3 5.8 .7 .4 6 -1.8 1.8 -3.1zM597.7 45.9l1.8 7.2 2.2 -.5 4.7 -3.4 1 -1.9 -2.9 -2.4zM605.5 78.5l2.3 -5.8 -2 -1.9 -6 2 .4 4.6 2.3 .7zM599.8 72.8l-4.9 -1.7 -2.4 -.4 -1.2 1.7 2 2.9 6.9 2.1zM567.6 44.3l.7 -3.9 -2.2 4.3zM576.2 58l-5.2 -5.4 -7.5 -.6 -.6 3.2 0 4zM484.5 107l8.2 1.5 3.9 -3.1 -4 -3.5 -4.2 .4zM492.2 122.3l2 .3 4.9 -2.1 -9.2 -6.3 -2 .4 1.9 5.2zM494 140.7l1.4 -2 -2.3 -2.5 -4.4 -.5 -3.2 2.8 1.5 5.6zM499.5 120.2l6.7 -.9 3.6 -4.9 -2.4 -1.9 -7.6 .7zM521.8 115.2l-5 -1.1 -2.6 1.2 1.5 4.4 5.1 2.5 1.3 0 4.2 -1.1 0 -1.3zM522.9 130.2l0 3 6.6 1.5 3.1 -2 -4.4 -4.5zM639.7 125.9l6.7 -3.2 -2.7 -3.9 -5.6 -.5 -1.6 2.2zM617.3 112.8l-5.2 .4 3.1 7.9 2.9 0 4.2 -6.2zM618.5 134.6l4.2 -.9 1.3 -3.6 -3.7 -2.9 -4.9 1 -1.2 1.5zM609.3 112.6l3.4 .4 3.2 -8.3 -1.2 -.9 -.9 -.1 -6.5 3.3 -.2 .4zM577.4 106.5l-1.4 -4.9 -.8 -.5 -4.1 4.6zM577.8 121.9l-4.3 -1.3 -5.2 1.3 1 5.4 2.8 .3 5.5 -1.7zM327.4 211.5l-2.2 .8 2.5 1.9 .5 -.2 1.4 -1.7zM337 215.3l-1.1 -.7 -3.2 .5 .6 2.3 3.5 -.6zM353.9 210.4l1.4 1.7 1.8 .7 1.1 -.6 .3 -2 -4.2 -.6zM354.5 220.1l-3 .8 -.1 .3 3.8 1.3zM353.9 210.4l.4 -.8 -2.1 0 -2 .4 -2.1 1.2zM361.2 227.7l-.1 2 .8 .3 1.1 -.3zM547.2 214.2l-.3 -1.2 -1.7 -.6 -1 1.5 -.6 2.2 3.2 -.9zM581.8 212.6l.8 .1 -1.1 -1.2 -1.5 -.8zM580.7 220.1l2 -.9 1 -1.4 -2.6 -.4zM578.1 217.7l3.3 -.4 -.2 -2.1 -2.6 -1 -1.9 .6zM567.9 217.4l0 -1.4 -2.7 -1.3 -.6 1.7 0 1.8zM548.3 227.7l-.8 1.9 .8 .9 2.5 -.2 -.8 -2.4zM561.5 232.6l1.5 -.3 -1 -2.4 -1.9 -.4 -1.7 .7zM575.2 235.1l-.9 .8 .5 1.7 3.6 -1.4 -.6 -.7zM55 496.3l-.3 3.3 1.2 .9 7.8 -.8 .3 -.6 -1 -4.1 -1.1 -.2zM221 501l-4.6 4.3 -.1 2.6 2.4 1.2 8.3 -2.6 .6 -1.1 -.2 -3.4zM198.9 492.4l-2.6 1.4 1.6 7.2 6.9 0 -3.5 -8.2zM148.7 499.2l5.2 .5 2.1 -4.4 -2.4 -2.1 -6.1 -.4 -1.3 1.4zM86.1 554.7l-5.9 -.4 -4.2 6.6 11 -1 1.3 -4zM109 566.4l4.4 .8 4.3 -6.2 -2.9 -2.1 -7.6 3.7zM116.8 569.4l-2.4 4.7 8.7 1.8 0 -4.2 -.5 -2.8zM199.2 541.2l3 -1.3 -4.4 -1.6zM148.7 545.7l2.1 .7 3.2 -4.2zM143.3 568.6l.2 .3 9.1 4.6 4.9 -5.7 -1.5 -1.5 -11.5 .8zM96.7 665.5l-.8 2.5 4.3 -.8 -1.4 -1.5zM101.6 673.8l.5 1.1 1.3 .2 2.6 -.9 .6 -1.2 -4.3 -.2zM113.4 665.2l-1.1 -1.2 -.5 .6 .5 .7zM126.4 672.1l-.5 .9 .9 1.5 2.1 .7 1.1 -.5 .3 -1.2 -.5 -.7 .7 -.1 -.9 -.9zM106.9 680.2l2.3 -1.1 -.9 -1.4 -3.7 -.3zM105.4 683.4l.7 .4 3.5 -1.9 -2.9 -1.1 -.4 .2zM108.2 685.9l3.5 .2 1 -.6 -2.1 -1.8 -3.4 .9zM125.1 683.8l-3.4 .7 1.6 1.4 2.1 0zM360 667.8l-1.2 -.6 -3.3 .8 2.2 2.2 1.9 0 .3 -.2zM354.8 664.8l3.1 -.9 -.3 -2 -2.2 .7 -2 1.3zM341.3 685.6l2.1 -2.3 -1.6 -.5 -1.3 .7 -1.6 1.6zM344.9 684.9l.3 -.8 -.7 -.7 -1.1 -.1 -2.1 2.3 1.7 .7zM348.7 684.5l-3.5 -.4 -.3 .8 2.8 2.7 1 -1.6zM367.4 685.7l.1 2.1 1.6 -.7 .7 -1.6zM358.8 684.9l.8 2.2 .6 .2 3.4 -2.8 -.9 -1.2zM363.6 688.7l-2.3 -.4 -1.4 1.9zM359.8 680.2l.1 -2.9 -3.5 .7 .1 2.2 1.1 .5zM590.3 665.1l-.4 .9 -.4 1.4 2.6 -.8 -1 -1.3zM602.4 677.7l-2.3 -.5 -2 0 2.2 2zM601.2 681.7l-.4 -1.8 -.4 -.2 -2.7 1 .5 2.5zM604 682.8l-1 .2 -1.3 1.5 .7 1.4 3.9 -.5 .9 -.8z"/>
<path fill="#f6c0c0" stroke="#f6c0c0" stroke-width=".35" d="M248.3 57l1.9 -6 -6.9 -.2 -.5 5zM310.1 24.2l1.1 .1 3.5 -1.6 -5.2 -2.2zM319.2 31.8l3.5 -.6 -11.4 -6.6 .7 6.9zM424.3 50.3l0 3.6 5.4 3.7 1.3 -.1 4 -1.7 1.1 -2 -4.8 -3.9 -4.1 -.7zM390.6 76l-.8 -1.4 -3.3 -2.5 -1.3 -.1 -4 4.3 8.2 2.6zM263.7 103l-2.7 -.3 -4.1 4.5 1.8 1.5 7.1 .6 .9 -1.4zM413.2 100.6l8.1 -.1 -5 -5.4 -1.9 .3zM398.3 120l-3.1 4.4 .3 1.5 4.4 1.4 7.1 -1.6 -.9 -2.6zM386.9 122.3l-1.5 .4 -.3 3 2.9 3.5 2 .5 5.5 -3.8 -.3 -1.5zM374.6 141.6l1.2 3.5 .9 1.2 0 1.3 1.6 .6 2.9 -.1 .7 -6.3 -3.6 -1.4zM371 93.2l2.3 2.8 3.6 -.5 2.1 -1.6 -.2 -3.7zM377.4 120.5l-1.1 -3 -1.2 -.7 -5.9 .1 -4.4 3.7 -.2 1 4.5 2.5 7.5 -2.7zM361 107.8l-.7 1.1 .9 3.4 4.4 -.2 5.3 -4.6 -.7 -.5zM461.8 44.1l3.2 -1.4 1.3 -1.4 -4.4 -3.1 -2.2 5.9zM461.8 44.1l3.6 6.7 6.6 .2 1.2 -2.4 -8.2 -5.9zM473.2 57.1l-1.9 7 .6 .4 7.9 1 1.3 -1.1 -.2 -5.6zM487.3 72.5l-7.2 -.9 -.7 .4zM489.4 77.4l-1 -3.1 -1.6 2.2 .1 1.7zM493.1 31.4l2.6 -4.6 -1.4 -2 -6.6 -1.4 -3.4 1.2 -1.7 2.5 9.2 4.3zM495.6 70.1l.1 -1.3 -1.4 -3.5 -.5 -.3 -5.8 .1 -1.1 7.3 1.2 .1zM500.3 76.7l-3.4 1.8 .9 5.4 8.4 -3.1 -.4 -2.6zM509.5 75.9l.8 -1.2 -4.6 -3.6 -6.6 1.2 1.2 4.4 5.5 1.5zM522.2 19.7l2.1 2.5 3.4 .6 1.1 -.6zM639.2 38.7l1.2 1 11.9 -2 .3 -1 -5.5 -3.4 -3.3 0 -4 3.3zM636.7 47l6.5 -3.8 -4 -4.5 -2.2 .5 -5.2 4.9zM622 66.7l1.2 8.2 4.1 -1.1 -.2 -1 3.8 -.6 -4.3 -6 -2.1 -.3zM613.7 66.1l2.5 1.3 5.8 -.7 2.5 -.8 -3.1 -7.7 -7.5 .2 -.5 .3zM582 50.9l3.4 -4.5 -7.6 -3.5 -1.4 1.1 .9 4.8zM572.7 50.9l4.6 -2.1 -.9 -4.8 -7.5 .5zM473 99.1l-.3 -.8 -3.9 3.6 2.4 -.6zM489.8 119.8l-1.9 -5.2 -7.4 2.7 .7 3.9zM478.8 141.8l4 1 4 1.2 -1.3 -5.5 -4.9 -.1 -3.5 1.9zM512.9 133.3l-4.5 -.6 -4.7 1.7 1 4.4 9 -4.7zM510.1 153.2l5 1.6 3.4 .1 -.1 -.7 -7.4 -4.8zM546.5 123.5l-1.4 2.8 2 3 6 -.3 .2 -2.2 -.5 -4.7zM652.7 135.1l.1 2.7 2 -1.4 1.1 -1.4zM652 125.5l-1.3 -1.6 -4.3 -1.2 -6.7 3.2 -.5 1 4.2 3zM652.7 135l.6 -8.9 -1.3 -.6 -8.6 4.4 .7 3.1 3.3 1.5zM643.4 129.9l-4.2 -3 -3.2 .8 2.1 7.1 6 -1.8zM626.8 114.6l.7 .7 9.4 1.2 .2 -.5 -2.4 -7.7 -.4 -.1 -5.2 .5zM620.1 93.4l2.4 -4.6 -8.9 -1.2 1.8 5.6 2.9 .6zM612.5 122.4l2.9 5.8 4.9 -1 1.9 -4.3 -4.1 -1.8 -2.9 0zM590.3 93.6l2 -2.8 -6.1 2.5zM584.1 144.1l5.1 .4 2.1 .6 .8 1.2 0 1.5 3.8 -1.6 -7.9 -3.7zM582.6 108.1l-3.4 -.2 -7.4 4.9 6.3 2.2 5.2 -2zM580.2 128.2l-2.2 7.2 .7 .3 1.2 0 9.7 -5.4 .4 -1.6 -.6 -.4zM572.4 134.2l-.3 -6.6 -2.8 -.3 -6.3 1.9 .5 2.2zM361.9 212.3l-1 .3 -1.4 2.1 1.4 .8 2.7 -.9 -1.1 -2zM360.9 215.5l-1.4 -.8 -1.7 0 .6 3.1 2.6 -.6zM333.2 231.1l0 1.9 3.2 .6 1.6 -2.5 -1.2 -.9 -2.9 .3zM544 216.2l2.5 2.7 2.2 -1.7 -1.9 -2zM548.7 217.2l1.9 -.2 .2 -1.9 -3.6 -.9 -.4 1zM582.6 212.7l-1.6 0 -2.4 1.5 2.6 1 2.2 -1.3zM578.2 214.1l.4 .1 2.4 -1.5 -2.9 -1.1 -.2 .3zM570.1 213.1l3.3 -.5 0 -1.1 -2.8 -1.6 -1 .4 -1.2 .7zM564.6 218.2l1.4 1.3 1.4 .5 .9 -.2 -.1 -2.2 -.3 -.2zM550.3 233.2l-.6 -2.7 -1.4 0 -1.2 1.8 2.6 1.1zM582.1 234.5l-.8 1.1 2.1 -.9zM573.5 225.1l1.7 2 1.2 .3 2 -.9 0 -.7 -1.6 -.5 -2.9 -.3zM104.5 481.1l1.5 -.9 .3 -1 -4.4 -3.5 -6.1 1 -1.5 3.6 .7 2.4zM217.9 487.3l1.3 4 4.4 2.9 2.6 -.3 -1.6 -5.5 -1 -1.8zM208.7 491.9l4.4 4.7 6.1 -5.3 -1.4 -3.9 -3.7 .1zM145 480.4l5.9 3.4 6 -3.6 -9.8 -2 -2 1.6zM115.7 555.9l-1.2 1.5 .3 1.5 2.9 2.1 1.9 .2 -2.9 -5.3zM170 546.8l-.7 -2.8 -9.9 -1.6 .3 5.4 7.2 .4zM169.8 567.3l-.6 -5.9 -5.3 .7 1 4.7zM159.5 583.1l3.2 2.8 4.9 -.2 2.4 -2.8 -7.8 -3.8zM100.6 664.5l1.9 0 -.7 -2.1 -2.3 .6zM100.9 667.6l-3.2 2 .5 .6 4 0 .3 -.2 -.3 -2.2zM125.5 667.7l-3.2 .5 -.4 1.9 3.5 .9 .9 -2.3zM124.1 661.9l-3 1 -.7 .5 -.4 1.1 .3 .3 .9 0 2.3 -1zM333.8 672.1l3.8 .3 1.3 -2.3 -1.9 -.3zM339.1 674.4l1.7 -.6 1.7 -.5 -.7 -1.2zM333.8 688.2l1.3 .4 .9 .3 -.4 -.8zM357.6 680.7l-1.1 -.5 -3 .9 .1 .8 3.1 2 .5 -.6zM595.6 669.2l-.1 3.1 2 .1 1.3 -2.9zM599.7 667.3l-1 2.1 3.3 1 1.2 -2.6 -.8 -.7zM606.2 664.3l-1.9 -1.6 -2.1 -.8 -.1 2.7 1.3 .8zM593.6 688l-1.3 -.9 -1 .4zM621.1 684.5l.1 .7 2.6 1.3 2.4 -.8 .5 -1.4 -1.4 -1.5z"/>
<path fill="#f6aeae" stroke="#f6aeae" stroke-width=".35" d="M250.7 58.5l-2.4 -1.5 -5.5 -1.2 .4 2.1 2.9 5.5zM261.2 43.6l-2.7 -1.5 -7.9 2.2 2.9 5.7 2.1 .6 3.6 -.9zM269.9 25.1l2 .6 4 -1 2.4 -1.2 1.4 -3.9 -9.1 1.6zM278.5 53.8l-7.4 -.4 -3.5 3.2 3.8 2.6 6.2 -.5zM322.8 45.6l-2.2 -1.5 -2.6 -.7 -1.1 .7 -2.1 7.5 3.2 1.3 5.5 -1.8zM434.8 40.5l1.6 2.6 3 1.5 1.8 .3 -2.2 -6.3zM434.8 40.5l-2 -1.8 -4.4 -.9 -2.8 4.7 2.6 2.7 8.2 -2.1zM419.8 36.8l8.6 1 .7 -7.4 -5.6 1.3zM372 73.6l2.7 .8 -1.2 -1zM310.4 108l-2.1 -3.8 -5.5 4.4 -1 2.8 1.4 2.2zM301.7 115l-4.5 5.7 .2 .7 12 1.2 .6 -.5 -2.4 -6.1 -4.3 -1.7zM308 127.8l-2.6 5.6 1.2 1.4 7.4 -1.1 .2 -4.1zM331.2 126.4l.3 -3.8 -8.1 -.1 -.7 .2 -2 5.4 8.7 -.4zM406.6 136.9l-.4 2.3 3.3 2.8 7.8 -8 -4.9 -1zM461.8 44.1l-2.1 0 -1.4 8.2 3.8 .3 3.3 -1.8zM480.2 32.3l-8.4 -2.5 -.6 8 .3 .3 8.6 -2.5 .6 -1.9zM480.1 35.6l-8.8 2.8 6.9 6.5 2.2 -.7 1.6 -7.4zM486.6 57.8l-5.7 1 .2 5.6 5.1 .2 3.3 -6.3zM485.6 37.8l3.5 1.8 3.5 -.5 1 -.5 .4 -6.2 -.9 -1 -1.3 0 -2.3 .9zM514.4 73.4l1.9 -4.5 -4.9 -2.9 -1.8 -.1 -2.3 .8 -1.6 4.4 4.6 3.6zM509.5 75.9l-3.7 2.3 .4 2.6 6.5 -2.4zM511.4 66l4.9 2.9 .8 -.2 6.5 -7.5 -.8 -1.1 -6 -.3zM523.6 61.2l6.5 3.5 3 -.3 .8 -7.7 -1.1 -.2 -9.8 3.3 -.2 .3zM648.5 64.5l-4.9 1.4 -1.1 5.1 4.7 -1.8 3.5 -2.2zM614.8 82.7l5.9 1.9 3.5 0 .6 -3.3 -3.2 -2.1 -5.5 2.3zM606.4 68.1l7.3 -2 -.3 -7.4 -2 0 -3.7 1.1 -4.3 6.3zM570.8 66.8l-1.1 -1.4 -5.2 -1.6 1.9 2.3 3.6 2zM463.9 136.3l.3 -7.3 -6 .5 .9 3.5 1.8 2.9zM489.6 129.7l4.3 -.9 1.6 -1 -1.3 -5.2 -2 -.3 -5.3 2.6zM511.6 141.6l-7 -1.1 -1.8 .7 -2.6 5 2.9 3.9 7.9 -.8 .7 -1zM507.4 112.5l2.4 1.9 4.4 .9 2.6 -1.2 3.3 -6.8 -2.3 -.9 -9.2 1.3zM522.8 130.3l-.7 -8.1 -1.3 0 -6.2 5.1 .4 .6zM530.5 114.3l-1.7 -1.9 -1.9 -.8 -5.1 3.6 4.5 4.6zM518.4 154.2l.1 .7 .4 -.1 3.3 -1.9 1.8 -2.1 .2 -1.4 -1.6 .6zM541.2 102.9l-2.1 3.3 6.7 .6 -2.7 -3.4zM541.2 102.9l1.9 .5 -1.9 -2.1zM546.1 114.8l4.5 1.1 -2.7 -5.7 -3.3 2.6zM546.1 114.8l-3.7 5.3 4.1 3.4 6.3 -1.4 -2.2 -6.2zM647.4 134.5l-3.3 -1.5 -6.6 2.1 2.8 6 2.5 -.5zM628.3 123l8.2 -2.5 1.6 -2.2 -1.2 -1.8 -9.4 -1.2 -.1 7.2zM622.3 114.9l-4.2 6.2 4.1 1.8 5.2 -.4 .1 -7.2 -.7 -.7zM598.5 147.5l.8 7.6 3.1 -.7 8.7 -4.9 -1.4 -1.4zM579.9 135.7l10.8 -1.1 -1.1 -4.3zM592.3 147.8l-.4 1.6 .5 1.7zM334.8 219.5l-1.5 1.2 -.4 1.5 3.8 -1.2 .1 -1.1zM342.9 216.7l-1.1 -2.9 -1.4 .4 -.2 .3 1.2 2.2zM362.5 217.9l-2.2 2.3 1.9 -.7 1.4 -1.5zM359.5 214.7l1.4 -2.1 -2.7 -.4 -1.1 .6 .3 1.8zM354.2 215.6l-.7 -.5 -5.2 1.4 .9 1 2.4 .3 2.6 -.4zM354.2 217.4l-2.6 .4 -.6 2.7 .5 .4 2.8 -.9zM327.8 235.7l5.2 1 -1.2 -3.1zM356.8 236.3l1.4 -1.3 -1.1 -1.3 -2.8 0 -.1 2.6zM559.6 220.2l2.7 -1.1 .7 -1.3 -2.7 .4zM569.5 213.9l0 1 2.4 .4 2 -.2 .6 -.5 -1.1 -2 -3.3 .5zM568.3 219.8l.5 .4 4.8 .1 -4 -2.5 -1.4 -.2zM572.9 220.5l-4.1 -.3 -.1 .2 3 .8zM574.3 233.3l.9 1.8 2.6 .4 1.2 -2.3 -1.2 -.5zM73.3 554.1l-4.2 -3.8 -5.6 1.8 -.6 1 .7 .5 7.5 2zM67.3 562.2l2.5 5 4.6 2.6 4.8 -.1 1.3 -.9 .3 -1 -5 -6.7 -3.5 -.3zM218.4 551.3l-.7 1.9 2.3 .1zM197.7 590.3l-7 -3.7 -2.6 2.9 2.7 4.1 6 -2.1zM183.9 547.1l-2 1.9 3.6 6.4 1.6 -.3 3.4 -6.1 -3.1 -2.3zM184.8 568.4l5.2 -2.1 -1.2 -3 -5.7 -2.6 -4.5 2.4zM150.8 546.4l2.7 2.9 .9 .4 5.3 -1.9 -.3 -5.4 -1 -1 -2.6 -.1 -1.8 .9zM105.3 666.8l2.7 -.4 .2 -2 -2.5 -.2zM111.8 664.6l.3 -.7 -3.1 -1.7 .5 1.3zM107.8 688.3l-1.6 -.2 -1.8 1.6 3.4 1.2zM125.1 683.8l.4 2 3.3 -.6 -.8 -1.5 -1.6 -.2zM123.3 681.5l1.5 2.2 1.6 -.2 .4 -3.2 -.8 -.3 -1.3 .3zM332.6 663.9l3.8 -.5 .9 -1.3 -3.8 .8 -1 .5zM337 669.8l-1.9 -1 -1.1 .3 -1.5 1.2 .7 1.5 .6 .3zM346.2 667.2l.2 1.8 2.4 1 -.6 -2.6zM367.2 669.5l-.7 .7 1.9 1.3 1.3 -1.9 0 -1.2zM340.2 680.2l-1.2 -1 -4.5 1.2 3 1.5zM339 685.1l-2.1 0 -1.1 2.9 3.7 .2 .7 -.3zM354 688.6l-1.2 -.8 -1 .1zM598.1 672.7l-.6 -.3 -2.6 .1 .7 .1 -.5 .7 .3 1.2 1.1 .5 1.3 -.4zM626.6 671.8l-.6 -2 -2.2 -.4 -1.3 .4 .5 2.7 2.9 -.2zM604.9 688.4l-3.3 -.4 .5 2.4 .6 -.6 .2 -1.1zM613.9 678.9l-1.3 1.1 -.8 .9 1.4 -.1 1.4 -1.1z"/>
<path fill="#f09090" stroke="#f09090" stroke-width=".35" d="M258.7 30.3l-.2 -4.7 -3.8 2.5 -2.6 2.5zM291.5 53.7l-6.6 -3.8 -4.1 2.3 -.4 .8 7.5 4.5 1.7 -.3 2.1 -1.2zM308.7 59l-.4 1.5 1.7 3 5.4 .6 4.7 -5.3 -2.6 -2.8zM314.7 22.7l-3.4 1.9 11.4 6.6 .5 -2.5 -6.6 -5zM318 65.8l-1 4.9 1.3 1 1.9 0 4.6 -1.3 .5 -4.6zM432.8 38.7l2 1.8 4.2 -1.9 -1.9 -3.3zM428.1 37.9l-8.3 -1.1 -3.6 .5 5.6 5.6 3.8 -.4zM364.6 31.5l8.3 -.5 -2 -6.6 -2.7 -.2 -5.2 3.9zM363 59.8l2.4 5.7 2.6 1 4.4 -5.8 -.1 -2.1zM358.5 69.6l1.3 -3.3 -4 -2.7 -4.4 2 .2 .9 1 .7zM356.9 58.4l-.6 -4.6 -3.8 -2.2 -4.7 2 -.4 4.6zM252.1 107.6l4.8 -.4 4.1 -4.5 -3.9 -3.5 -1 .3 -5.5 6.1zM264.1 129l-7 1.3 .8 4 3.4 1.5 1.3 .1 4.3 -6.1zM275.4 106.4l-4.9 -6.1 -6.8 2.7 3 4.9zM290 118.7l7.2 2 4.5 -5.7 -8.5 -.8 -1.6 .4zM293.4 135.8l.9 .5 6.1 -3.3 -3.1 -4.4 -4.8 -.1zM328.9 107.7l.8 .8 1.6 -.5 -2.4 -3.4zM426.8 97.7l-3.7 3.7 5.2 4 3.7 -.2 1.5 -1.4 -2.9 -3.2zM420.3 120.5l-2.8 -.6 -9.9 6.2 1.2 1 9.4 -.9 1.4 -.7zM407 125.7l.6 .4 9.9 -6.2 -9.4 .8 -2 2.4zM402.4 147.2l-2.8 1 -.1 1.5 5.5 -2.5zM377.4 120.5l-.8 .9 .7 6.1 7.8 -1.8 .3 -3zM381.6 148.2l-3.3 0 -1.7 1.7 .1 .9 1.8 2.1 3.3 1.9 2.1 .3 2 -.4zM378.3 148.2l-1.6 -.6 -.1 2.3zM360.1 103.4l-1.1 -.1 -3.8 3.8 5.1 1.8 .7 -1.1zM355.1 114.1l-2.5 -3.4 -2.9 5.9zM480.1 35.6l1.9 1.2 3.6 1 3.9 -5.5 -8.8 1.4zM477.9 45.5l6.1 5.7 3.5 -.5 .2 -4.9 -2 -1.8 -5.3 .2 -2.2 .7zM495.7 50.4l-1.5 1.6 1.5 4 7.5 1.5 1.3 -1.9 .1 -2.7 -5 -2.3zM536.8 29.3l1.1 -1.1 -4.6 -3.5 -2.9 .8 .3 3.4zM644 26.5l-3.3 -1.8 -4.2 -1.7 -1.2 3.5 .9 1.7 4.6 1.2zM591.7 69.2l.8 1.5 2.4 .4 8.6 -5 -4.7 -2zM327.7 216.8l-2.6 .9 1.2 2.2 2.7 -.1 1.2 -1.3 -1.1 -1.2zM336.6 216.9l-3.3 .5 -.3 .4 1.8 1.7 1 .1zM332.8 227.6l-2.5 0 .5 2.7 2.4 .8 .7 -.6zM338.7 227.3l1 -.2 -2.9 -1.5zM361.2 235l-3 0 -1.4 1.3 .3 .4 4.6 -1.2zM578.4 226.5l1.7 .1 -1.7 -.8zM205.2 501.1l-7.3 -.1 -2.7 .8 4.7 4.4 4.3 -1.3 .6 -.8zM46.6 565.9l-4.1 -1.1 -3.8 5.5 7.6 2.4 3.1 -4.7zM102.5 664.5l2.4 -1.3 .3 -1.3 -3.4 .5zM126 688l-1.8 .6 -.8 2 1.1 .2 2.4 -.9zM342.8 667.8l-.6 -.4 -3 -.6 -.4 3.2 1.8 .3 2.1 -1.3zM342 671.8l-.2 .3 .7 1.2 3.4 -1 -1 -.5zM346.4 669l-1.7 .7 .2 2.1 1 .5 2.2 -.9 .7 -1.3zM364.2 672.7l2.3 -.3 1.9 -.9 -1.9 -1.3 -2.3 .2 -.7 .5 0 1.3zM344.5 683.4l.7 .7 .7 0 1.9 -2 -1.7 -2.2zM593.2 664.3l2.3 1.1 1 -.6 -1.9 -2.5 -1.7 .6zM620.2 664.3l3 -1 -.2 -1.2 -4.2 -.4zM592.8 679.9l1.8 -.4 1.6 -2 -3.8 1.6zM596.7 686l1.2 .3 1.7 -2.1 -1.4 -1 -1.9 .4 -.5 1zM606.3 685.4l.4 1.7 .9 .3 1 -1.6 0 -1.5 -1.4 .3z"/>
<path fill="#f6f0f0" stroke="#f6f0f0" stroke-width=".35" d="M248.3 57l2.4 1.5 2 -.1 3.5 -1.9 -.6 -5.9 -2.1 -.6 -3.3 1zM256.2 65.7l1.4 -.9 -4.9 -6.4 -2 .1 -4.6 4.9 4 3.5zM262.6 64.3l-5 .5 -1.4 .9 1.6 5.1 6.2 1.2 2.1 -1.6 -1 -4.7zM260.9 50.1l4.9 6.8 1.8 -.3 3.5 -3.2 -1.1 -2.8zM286 26.7l-7.7 -3.2 -2.4 1.2 5.2 5.3 2.9 -.8zM279.9 74.6l-1.9 5.8 2.5 .9 4.5 -.9 3.9 -3 -3.7 -3.1 -2.6 -.3zM287.9 57.5l-2.9 3.3 .5 4.3 3.5 1.3 5.9 -3 -5.3 -6.2zM325.3 65.8l1.4 0 5 -2.6 1.5 -4.5 -1.4 -.7 -7.2 1.8zM436.1 53.8l-1.1 2 6.4 4.2 1.4 -3.8 -.5 -4.7zM432.8 38.7l4.3 -3.4 -4.5 -5.4 -3.2 .2 -1 7.7zM423.5 31.7l5.9 -1.6 -4.3 -5.1 -5.5 1.7 -.5 4zM414.2 26l5.4 .7 5.5 -1.7 .1 -.3 -9.3 -3.2zM414.9 32.6l4.2 -1.9 .5 -4 -5.4 -.7 -1.4 .4zM414.3 45.2l4.3 .8 3.2 -3.1 -5.6 -5.6 -.4 0 -3.6 2.5zM412.3 52.7l9.2 -3.3 -2.9 -3.4 -4.3 -.8 -2.4 1.6 -2.9 3.4zM397.4 59.4l-1.6 3.3 9.9 1.2 2.8 -4.4 -5.1 -1.9 -3.7 .1zM391.9 56.7l5.5 2.7 2.3 -1.7 -3.6 -5.7 -.6 0zM384.4 54.4l-4.8 3.8 3.9 5.1 5.2 -.8 -.2 -5.2zM375.7 67.3l-7.5 -.5 -1.1 5.4 4.9 1.4 1.5 -.2 4.2 -2.5zM355.6 37.2l.5 -.6 .7 -2.2 -2.1 2.9zM256.9 107.2l-4.8 .4 -1.3 1.7 2.8 5.2 5.5 .1 -.4 -5.9zM266 122.2l-1.3 0 -.6 6.8 2.8 .8 2.2 -.2 2.2 -2.9zM271.3 126.7l-2.2 2.9 3.3 4.5 7 -2.6 .5 -.8 -4.7 -4.1zM279.5 141.3l-3.2 -.8 -4.2 2.9 .7 1 7.1 2.6zM275.2 126.6l4.7 4.1 4.8 -1.2 3.3 -2.6 -3.7 -5.7 -1.6 -.2 -4.8 2.1zM296.6 149.9l-5.8 -4.2 -3.1 .6 -2.3 3.1 5.6 2.3zM301.8 111.4l-7.6 -3.7 -1 6.5 8.5 .8 1.6 -.7zM300.4 133l5 .4 2.6 -5.6 -.6 -1.1 -7.2 -.1 -2.9 2zM296 140.1l0 2.4 5.2 4 6.5 -1.4 2.3 -2.9zM313.8 93.4l-.5 7.7 1.3 .2 5.5 -1.2 1.1 -2.8 -6.2 -3.9zM322.7 122.7l.7 -.2 .4 -8.2 -5.2 .7 -1.4 6.1zM435.5 109.9l.1 2.6 3.7 .8 -2.1 -4.2zM416 107.9l9.7 -.1 2.6 -2.4 -5.2 -4 -7 4.8zM432.5 114.8l0 -.7 -5.6 -.9 -2.2 .7 -2 1.4 -1.5 4.7 5.7 .7zM402.9 133l-4.5 -.5 -.7 .2 .7 6.8 7.8 -.3 .4 -2.3zM398.3 120l-.7 -1.2 -1.3 -.1 -9.4 3.6 8.3 2.1zM399.6 148.2l-5.4 .1 -1.9 4.2 7.2 -2.8zM376 108.8l-.9 8 1.2 .7 10 -2.9 .3 -1.2 -9.2 -4.6zM379.7 133.7l-2.6 1.6 1.2 5.1 3.6 1.4 4.5 -2 -.7 -2.8 -5.2 -3.3zM374.6 141.6l-5.6 -.7 -.6 3.2 5.4 .4 2 .6zM372.7 95.5l-1.7 -2.3 -3.6 1.9zM471.2 37.8l.6 -8 -.6 -.8 -6.1 4.3 -.6 .8zM472 51l-6.6 -.2 -3.3 1.8 2.2 5 1.3 .3 7.2 -1.2 0 -4.6zM471.9 64.5l-.6 -.4 -4.1 -.3 -4.3 1.3 3.7 2.7 3.6 2zM473.2 48.6l-1.2 2.4 .8 1.1 9 .3 2.2 -1.2 -6.1 -5.7zM480.4 44.2l5.3 -.2 3.4 -4.4 -3.5 -1.8 -3.6 -1zM481.1 64.4l-1.3 1.1 .3 6.1 6.8 .8 1.1 -7.3 -1.8 -.5zM487.7 23.4l6.6 1.4 3.7 -5.6 -10.2 1.6zM486.6 57.8l2.9 .5 2.9 -.1 3.3 -2.2 -1.5 -4 -6.7 -1.3 -1.2 .4zM486.2 64.6l1.8 .5 5.8 -.1 -1.4 -6.8 -2.9 .1zM497 71.1l-1.4 -1 -7.5 2.4 .9 .3 .1 .7 -.7 .8 1 3.1 1.1 .6 2 -.1zM525.1 30.5l-3.3 -1.5 -4 .1 -2.5 4.9 6.2 2.7zM516.9 40.3l-3.2 4.6 1 .4 9.1 .6 .9 -.4 -2.7 -6.5zM536.1 35.8l7.3 8 4 -4.1 -2.6 -4zM546.2 66.3l.2 1.6 3.3 -1.8 1.3 -1.3 1.6 -2.8zM652.5 52.7l-6 -6.9 -5.6 5.9 3.1 1.1 7 .5zM644.6 58.9l5.5 -3.4 .9 -2.2 -7 -.5 -1.3 5.8zM626.5 25.3l8.8 1.2 1.2 -3.5 -6.2 -1.8zM631.3 32.3l-1 5.6 6.7 1.3 2.2 -.5 .6 -2.1zM636.6 51.8l-8.8 -1.8 -1.1 1.4 4.2 6.6 2.5 .4 .7 -.1zM627.9 82l.6 -.9 .3 -1 -2.3 1.2zM618.1 44.5l7.6 .9 1.6 -1.2 -.7 -5.1 -.8 -.4 -5.6 .9zM581.3 39.8l7.9 -2.1 .9 -5.2 -1.2 -.8 -3.7 -.6 -5.3 8.6zM586.9 59.7l-3.4 .7 .2 7.1 7.1 1.1 -.7 -8.9zM591.3 72.4l-2.8 1.5 4.8 1.4zM583.7 67.5l-.2 -7.1 -4.7 -.9 -1.5 7.6 5.8 .7zM581.9 71l-2 .5 3.2 .9zM463.8 128.9l.5 -7.3 -5.2 -1.2 -1 5 .1 4.1zM508.6 107.7l-7.2 -2 -2.4 .5 -.4 6.5 1.2 .5 7.6 -.7zM499.5 120.2l-.6 .6 5.8 5.7 1.8 0 2.7 -.9 .8 -3.2 -3.8 -3.1zM509.2 125.6l5.4 1.7 6.2 -5.1 -5.1 -2.5 -5.7 2.7zM538 127.3l7.1 -1 1.4 -2.8 -4.1 -3.4 -5 -.1 -2.2 1.3zM536.3 132l1.8 1 7.7 .7 1.3 -4.4 -2 -3 -7.1 1 -1 .8zM536.9 139.4l4.7 1.6 5.1 -2.6 -.9 -4.6 -7.7 -.8zM652.6 137.5l.1 -2.4 -5.3 -.6 -4.6 6.1 8.9 -2.3zM627.5 142.2l2.7 1.6 10.1 -2.7 -11.2 -1.4zM620.3 127.2l3.7 2.9 6.5 -2.8 -2.2 -4.3 -.9 -.5 -5.2 .4zM612.2 140.8l7.8 5.9 1.9 -.6 1.9 -1.8 -9.5 -6zM612.2 149.8l-1.1 -.3 -8.7 4.9 10.2 -3.8zM609.3 112.6l-2.2 -5.2 -9.8 1.1 2.5 5.8 .5 .3zM599.8 114.3l-9.1 0 -3.1 2.1 7.8 4.1 4.1 -.2 .8 -5.7zM599.5 120.3l-4.1 .2 -2.5 1.4 -3.6 4.7 .1 1.7 .6 .4 7.9 0 3.3 -7zM583.8 120.8l9.1 1.1 2.5 -1.4 -7.8 -4.1 -4.6 3.9zM588 142.5l1.7 -2.9 -9.2 -3.8 -1.8 -.1 1.1 5.5 3 2.5 1.3 .4zM578.1 115l-6.3 -2.2 -1.9 .4 3.6 7.4 4.3 1.3 2.3 -1.1zM577.6 125.9l-5.5 1.7 .3 6.6 1.4 1.2 4.2 0 2.2 -7.2zM568.9 139.3l3.7 2.1 2.9 1 4.3 -1.2 -1.1 -5.5 -.7 -.3 -4.2 0zM568 110.7l-1.2 2.4 1.2 -.3zM568.3 121.9l5.2 -1.3 -3.6 -7.4 -1.9 -.4 -1.2 .3 -3.3 8.2zM327 214.9l.7 -.7 -2.5 -1.9 -1.4 2.9zM336.6 216.9l-.8 2.7 1 .3 2.9 -.9 0 -.9zM339.7 219l1.8 .5 .8 -.4 .6 -.9 0 -1.5 -1.5 0 -1.7 1.4zM349.2 217.5l-.7 2 2.5 1 .6 -2.7zM327.1 228.1l1.1 -.4 -.8 -1.1 -1.4 1zM326 227.6l-1.1 1.3 -.8 1.6 1.6 -.1 1.4 -2.3zM361.1 229.7l.1 -2 -1.2 -.9 -1.5 .2 -1.1 1.2 .8 1.4zM348.7 236.3l-1.8 -.9 -.8 .2 1.4 .5zM543.6 216.1l0 1.2 .9 1.6 .9 .6 1.1 -.6zM548.5 219.7l3.5 -1.6 -.1 -.6 -1.3 -.5 -1.9 .2 -2 1.7zM557.1 220.9l.9 -.3 1.6 -.4 -2.6 .2zM572.9 220.5l-1.2 .7 2.2 .8 .1 -1.6zM568.2 217.6l1.4 .2 1.5 -.6 .8 -1.9 -2.4 -.4 -1.6 1.1zM548.3 227.7l-1.5 -.7 -2.3 2.7 3 -.1zM552.5 236.2l-3.9 -1 -1.3 .6 3.3 .9zM555.1 233.6l3.7 1 .4 0 .5 -.9 -2.5 -1.6zM582.1 234.5l-1.4 -1.4 -1.7 .1 -1.2 2.3 .7 .7 2.8 -.6zM573.3 232.9l-3.1 2.4 0 .3 .4 .3 3.7 0 .9 -.8 -.9 -1.8zM567.7 231.2l2.5 -.7 -2.4 -2.5 -1.2 .2 -1.3 2zM569.1 236l-3.7 -.9 2.1 1 1.2 .2zM33 512.8l-.3 -1.1 -.9 -.2zM44.7 498.8l-3.9 .7 .5 6.7 8 -1.8 -.4 -1.7zM56.9 488.7l-6.5 .1 -.8 2.3 2.8 4.5 2.6 .7 6.9 -1.5zM50.7 513.1l.8 .1 6.2 -1.6 1.5 -6.8 -.8 -.2 -7.8 .8zM59.2 504.8l-1.5 6.8 5.4 .6 1.6 -.6 4 -4.6 -5.8 -2.9zM86.5 478.3l.9 .5 6.9 1.5 1.5 -3.6 -3.2 -1.8 -2 -.2zM87.3 521.4l-4.6 4.8 10.1 -3.1zM193.4 482l6.1 -1 1 -4.6 -2.5 -1 -6.9 -.2zM164.4 493.9l-1.5 1.1 -.7 3.1 1.1 1.4 6.7 1.2 1.1 -7.2zM160.9 511.4l3.8 4.2 2.9 -.2 -.1 -7.5 -3.3 -1.2zM51.4 541.3l-1.7 .4 -5.6 3.4 4.3 3.3 5.1 -5.8zM46.3 572.7l1.2 1.9 2.9 .6 4 -1.5 2.5 -4.8 -2.4 -1.4 -5.1 .5zM65.2 574l1.9 .2 7.3 -4.4 -4.6 -2.6 -6.9 3.3zM172.8 559.6l2.5 -5.1 -5 .1 -4.8 2.3 5.8 2.8zM154.3 555.6l1.2 -2.2 -1.1 -3.7 -.9 -.4 -11 3.5 1.6 2 2.7 2zM137.7 560.5l6.9 6.4 2.4 -4.9 -1.3 -1.9zM102.2 664.7l-1.6 -.2 -1.8 1.2 1.4 1.5 2 .6 1.5 -.9zM103.7 666.9l-1.5 .9 .3 2.2 1.2 .2 3.1 -1.3 -.9 -2zM112.3 665.3l-.8 1.5 3.2 .8 -1.3 -2.4zM135.4 669.3l-1.9 1.2 .5 1.5 1.7 -1.4 .5 -1.4zM127 664.5l2.9 .5 1.1 -1.2 -2.2 -1.7 -2 -.2zM125.9 673l-1.9 .5 -.1 .1 2.9 .9zM116.7 669.8l.7 1.6 2.3 .9 1.4 -1.7 -2.4 -1.5zM104.6 686.2l2.1 -1.7 -1.3 -1.1 -3.1 0 .1 2.6zM109.2 679.1l1.7 .2 .2 -.4 -2.8 -1.2zM110.9 679.3l.5 .6 .9 -.1 -1.2 -.9zM335.1 668.8l.4 -1.9 -2.6 -.9 -1.6 1.1 2.7 2zM334 672.3l.1 .4 1.6 .1 -.5 1 .8 1.2 1 .1 2.1 -.7 -1.5 -2zM340.6 670.3l-1.7 -.2 -1.3 2.3 1.5 1.8 2.9 -2.4zM367.2 669.5l2.5 -1.1 -.3 -1.5 -1.7 -.6 -2.5 .5zM364.1 664l1 -.3 .4 -.9 -2.4 -.5zM361.2 674.8l1.3 .4 .8 -.3 .6 -1.2 -.5 -.9 .8 -.1 -.7 -.5 -2.2 1zM357.7 670.2l-2.4 1.8 3 1 .7 -.4 .6 -2.4zM358.3 673l-.2 .7 3.1 1.1 .1 -1.6 -2.3 -.6zM354.1 667.1l.8 -1.7 -.1 -.6 -1.4 -.9 -2.1 2.7zM353.5 669.1l1.2 -1.2 -.6 -.8 -2.8 -.5 -.9 2.3zM329.4 684.9l0 1.1 .6 1.1 2.8 .9 -1.1 -2.8zM333.6 679.4l4.4 -2 -3.6 .9 -1 .5zM336.9 685.1l-.7 -.5 -3.3 .1 -1.2 .5 1.1 2.8 1 .2 2 -.2zM346.4 688.2l-3.3 -.7 -.6 .4 -.1 2.6 .6 -1.6zM348.7 684.5l-.9 -2.4 -1.9 2zM367.1 679.8l-1.7 -1.2 -.6 .6 .6 .4zM589.2 669l.5 1.4 .9 .9 1.5 .3 .8 -1.1 -1.2 -1.8zM625 665.9l1.5 -1.7 -.2 -.9 -3.1 0 -2.6 1 3.8 1.7zM619.6 672l.6 .9 2.8 -.4 -.5 -2.7 -1.9 .1zM619.8 674.2l2.9 .7 .8 -.4 .3 -1.2 -.8 -.8 -2.8 .4zM620.2 672.9l-.6 -.9 -3.3 -.3 .1 1.4 3.4 1.1zM611.3 669.8l3.7 2 1.3 -.2 .3 -2.1 -1.1 -.6 -2.2 -.3zM616.3 671.7l-1.3 .1 -.7 .7 2.1 .6zM627.8 686.8l-.3 .8 1.5 -.7z"/>
<path fill="#f09c9c" stroke="#f09c9c" stroke-width=".35" d="M256.2 65.7l-6.1 1.2 3.6 2.3 4.1 1.6zM268.8 44.9l-7.6 -1.3 -2 6.1 1.7 .4 1.4 -.1zM256.2 56.5l-3.5 1.9 4.9 6.4 5 -.5 1.1 -6.2zM272 64.1l-6.9 1.6 1 4.7 6.7 1.5 4.8 -5.5 -2.1 -1.5zM294.1 49.3l-1 -2.6 -2.2 -1.4 -2.1 -.3 -3.9 4.9 6.6 3.8zM294.1 49.3l8.1 3.8 -1.3 -6.7 -7.8 .3zM309.5 64.1l.5 -.6 -1.7 -3 -8.7 0 -2.7 2.8 2.7 2.4zM319.2 31.8l-7.2 -.3 -3.3 2 1.5 4.6 2.4 .6zM335.4 65.2l1.5 -2 1.1 -4.3 -4.8 -.2 -1.5 4.5zM331 68.1l1.9 -.9 2.5 -2 -3.7 -2 -5 2.6zM437 64.9l-1.2 1.7 2.2 -1.7zM428 65.2l-3.2 -1.9 -2.9 .2 -4 1.7 -.6 1.1 2.4 3 7.6 1.7zM408.7 77.4l-.7 1.5 .8 .8 4.1 1.7 .9 -3.5 -.1 -1.8 -2.6 .1zM412 71.8l-.7 -1.6 -7.8 2.4 5.2 4.8 2.4 -1.2zM379.8 30.5l2.1 -.2 6.1 -4.8 -2.7 -.9 -6.6 .2zM387.6 36.1l-.6 -3.5 -5.1 -2.3 -2.1 .2 -2.7 1.6 1.8 3.4 7.8 1.7zM252.1 107.6l-1.5 -2 -2.8 4.3 3 -.6zM291.6 114.6l1.6 -.4 1 -6.5 -1 -1 -4.3 .3 -1.8 2 .5 3.5zM319.1 128.5l1.1 0 .5 -.4 2 -5.4 -5.5 -1.6 -5.4 1.1zM324.9 113.7l-1.1 .6 -.4 8.2 8.1 .1 2.4 -1.5 -6 -7.4zM323.5 134.1l2 -.2 2.1 -.9 1.8 -5.3 -8.7 .4 -.5 .4zM333.8 112.4l-2.5 -4.4 -1.6 .5 -1.1 4.7zM416 107.9l.1 -1.7 -4.1 -4.3 -4.6 -.1 -1.2 7 1.3 1.2 6.6 -.8zM391.8 108.2l-5.2 5.4 12.1 1 -3.1 -4.7zM388.3 90.8l3.3 -3.1 -7.6 1.1zM381.6 106.3l9.8 2.1 .4 -.2 1.3 -5.4 -2.3 -.9 -7.1 .5zM386.6 113.4l4.8 -5 -9.8 -2.1 -4.2 2.5zM371 135.8l-2.7 4.1 .7 1 5.6 .7 3.7 -1.2 -1.2 -5.1zM482.6 27.1l1.7 -2.5 -2.8 -2.2 -8.5 3.6zM484.3 24.6l3.4 -1.2 .1 -2.6 -6.3 1.6zM481.8 52.4l-.6 6.3 5.4 -.9 -.3 -6.7 -2.3 .1zM523.6 61.2l-6.5 7.5 4.7 .9 6.2 -1.5 2.1 -3.4zM522 39l2.7 6.5 3.7 .6 5.4 -3.1 -1.6 -6 -9.8 1.2zM537.5 51.5l-7.2 -2 -2.1 3.3 4.6 3.7 1.1 .2 5 -1.6 .4 -1.4zM649 64l-.5 .5 2.2 2.5 2.8 -2.2 1.6 -1.8zM477 99l-4 .1 -1.8 2.2 4.7 4.5 6.1 .9 -3 -6.7zM499 106.2l-2.4 -.8 -3.9 3.1 1.6 4.2 4.3 0zM526.3 121.1l1.6 .6 7.3 -.4 2.2 -1.3 -1.8 -5.4 -5.1 -.3 -4.2 5.5zM617.3 112.8l5 2.1 4.5 -.3 2.3 -5.9 -7.2 -2.3zM597.3 108.5l-1.3 -.9 -1.1 -.1 -4.4 .5 .2 6.3 9.1 0zM592.9 121.9l-9.1 -1.1 5.5 5.8zM327.5 210.7l-1 .4 -1.1 1 2 -.6zM362.5 217.9l-1.5 -.7 -2.8 .7 .3 2.4 1.8 -.1zM356.2 222.8l.8 0 .8 -.4 .3 -1.2 -.3 -.4zM349.6 236.1l3 2.3 1.6 -2.1 -3.6 -1.2zM347.7 233.3l1.2 -2.1 -3.5 -1.1 -.9 2.8zM577.8 229.7l-1.4 -2.3 -1.2 -.3 -2.5 2.5 3 1 1.6 -.4zM200.7 512.5l4.6 -.4 -1.1 -7.2 -4.3 1.3 -2.2 1.4 2 4.4zM155.7 474.7l3.2 -2.7 -1.6 -1 -5.7 3.3zM102.2 670.2l-.5 1.7 .6 .9 4.3 .2 .5 -.3 -3.4 -2.5zM106 674.2l1.2 -.4 1.4 -.4 -.4 -.7 -1.1 0zM121.2 664.8l4.2 1.5 1.2 -1.5 -3.1 -1zM120.3 664.8l-1 -.5 -1.8 2.5 2.2 -.2zM98.3 680.2l-1.2 1 -.9 1.9 2.4 0 1.3 -.5zM106.7 684.5l3.9 -.8 .2 -1.6 -1.2 -.2 -3.5 1.9zM336.4 663.4l-1.2 .4 1.8 2.7 1.8 -.1 .6 -1.2zM367.2 669.5l-2 -2.7 -1.6 .1 .6 3.5 2.3 -.2zM333.2 680.4l.4 -1 -.2 -.6 -1.9 1.5zM365.4 679.6l1.6 2.4 1.7 -.3 -1.6 -1.9zM353.5 685.2l-.7 2.6 1.1 .5 3 -.7 -1.3 -3.1zM592.6 680.1l-.3 -.9 -1.2 1.2zM598.2 683.2l1.4 1 2.1 .3 1.3 -1.5 -1.8 -1.3zM605.5 679.6l-.3 .5 .3 1 2.2 .8 -1.4 -1.9zM623.2 679.7l2.5 .8 1 -1.1 -2.1 -1.3 -2.1 -.7zM619.9 687.9l-.8 -.6 -2.5 1.8 -.1 1 1.2 .6 2.1 -.7z"/>
<path fill="#f6e4ea" stroke="#f6e4ea" stroke-width=".35" d="M258.7 30.3l4.2 .6 1.6 -.7 5.7 -4.8 -5.5 -2.5 -4.5 1.8 -1.7 .9zM299.5 39.9l-1.9 .4 -6.7 5 2.2 1.4 7.8 -.3 1.3 -.7zM392.5 44.5l-5.3 .2 -4 6.1 1.3 .8 5.1 -.7zM634.1 72.4l2.7 -.4 3 -.4 -6.1 .4zM351.7 233.4l-2.8 -2.2 -1.2 2.1 2.7 .9zM194.2 502l3.7 -1 -1.6 -7.2 -5.1 1.2 -.6 5.8zM88.6 588.2l1.8 -.1 1.4 -5.9 -7.6 -1.7 -1.7 1.7zM210.2 554.9l1.8 0 -1.1 -8.9 -4.9 0 -3.9 1.3zM205.4 556.7l4.8 -1.8 -8.1 -7.6 -1.8 -.1 -2 1.6 -.9 6.5 2 1zM338.9 685.1l1.6 -1.6 -2.7 -1.7 -.3 .1 -1.3 2 0 .7 .7 .5z"/>
<path fill="#f0a2a2" stroke="#f0a2a2" stroke-width=".35" d="M265.7 36.3l-2.8 -5.4 -4.2 -.6 -.7 .3 -.4 7.8zM312 31.5l-.8 -7.2 -6.5 0 -2.8 3.2 1.6 4.6 5.2 1.4zM322.2 36.1l1.2 -4.3 -.6 -.4 -3.6 .4 -6.6 6.9 3.7 1.5zM320.1 58.8l-4.7 5.3 2.6 1.7 7.2 -.1 -.6 -5.9 -1.5 -.6zM326 51.9l3.9 .6 1.5 -.9 2.6 -7.5 -1.2 -.2 -10 1.7 .7 5.5zM325.9 31.2l-2.5 .8 5.4 2.6zM327.7 39.6l5.1 4.3 1.6 .1 -4 -7.2zM331.8 58l1.4 .7 4.8 .2 0 -3.7 -.6 -3.3 -6 -.3 -1.5 .9zM389.4 78.9l9.7 3.7 1.8 -2.2 -3.4 -3.6 -6.9 -.8zM389.6 50.9l-5.1 .7 -.1 2.8 4.1 2.9 3.4 -.6 3.6 -4.7zM356.1 36.6l-.5 .6 1.3 7.4 2.8 .5 1 -.5 1.9 -5.6zM351.2 45.8l1.3 5.8 3.8 2.2 6.1 -4.3 -2.7 -4.4 -2.8 -.5zM270.7 93.1l-3.9 -.5 -5.7 3 9.5 4.5 2.7 -5.5zM272.4 134.1l-.9 1.4 4.8 5 4.6 -5.8 -1.5 -3.2zM276.4 140.5l3.1 .8 4.6 -.2 .8 -4.4 -4 -2zM310 122.1l1.8 .1 5.4 -1.1 1.4 -6.1 -4.1 -1.2 -6.9 2.2zM310.2 142.1l-2.5 3 1.1 1.9 0 -.7 .8 -1.2 2.1 -.6 3.6 -.3zM311.5 92.2l2.3 1.2 1.2 0 -3.3 -1.4zM328.9 104.6l-2.2 -2.5 -1.8 .1 -2.5 4.6 6.5 .9zM426.8 97.7l3.8 2.9 -3.6 -3.2zM427 139.5l-6 .5 -2.5 1.9 .7 .6 9.4 -2.1zM409.5 142l5.6 .9 3.4 -1 2.5 -1.9 -3.7 -6zM388 129.2l-7.5 4.5 5.2 3.3 6 -3.2 .9 -1.5 -2.6 -2.6zM386.1 122.3l.9 -6.6 -.7 -1.1 -10 2.9 1.1 3 8 2.2zM364.5 132.2l3 -.2 2.6 -3.5 -10.3 -1.8 -1.8 1.7zM480.1 71.6l-.3 -6.1 -7.9 -1 -1.7 5.3 6.4 1.8 2.8 .4zM521.8 69.6l-4.7 -.9 -.8 .2 -1.9 4.5 5.2 2.9 3.5 -1.1 .8 -.5zM528.2 52.8l2.1 -3.3 -1.9 -3.4 -3.7 -.6 -.9 .4 -4.4 5.9 4.2 2.8zM652.5 52.7l-1.5 .6 -.9 2.2 1.2 3.1 5.6 1.1 1.1 -2.5 -.3 -5.2zM630.3 37.9l.9 -5.7 -3.9 -.6 -4.4 1.8 2.9 5.3 .8 .4zM599.8 72.8l6 -2 .6 -2.7 -2.9 -2 -8.6 5zM595.8 33.8l-5.7 -1.3 -.9 5.2 3.5 4.2 6.1 -3.2 .5 -2.2zM592.7 41.9l-3.5 -4.2 -7.9 2.1 10.2 4zM567.6 44.3l8.8 -.3 1.4 -1.1 1.3 -2.9 -4.4 -2.5 -4.6 -.2 -1.8 3.1zM503.1 150.1l-2.9 -3.9 -4.8 -.2 -2 .3 9.5 4.1zM519.8 142.5l5.2 -1.9 -4.5 -5.8 -4.4 .9 -1.8 4.9zM522.1 122.2l.8 8 5.3 -2 1.2 -1.7 -1.5 -4.8 -1.6 -.6zM525 140.6l4.8 .3 1 -.8 -1.3 -5.4 -6.6 -1.5 -2.4 1.6zM532.6 132.7l3.7 -.7 .7 -3.9 -7.6 -1.6 -1.2 1.7zM532.6 132.7l-3.1 2 1.3 5.4 6.1 -.7 1.2 -6.4 -1.8 -1zM539.1 106.2l-1.5 1.2 2.4 4.1 4.6 1.3 3.3 -2.6 -2.1 -3.4zM537.4 120l5 .1 3.7 -5.3 -1.5 -2 -4.6 -1.3 -4.4 3.1zM653.3 126.1l-.6 8.9 3.2 0 1.9 -4.2 .2 -4.9zM611.1 149.5l1.1 .3 6.5 -1.9 1.3 -1.2 -7.8 -5.9 -3.8 1.4 1.3 5.9zM607.3 107l-5.3 -5.4 -.5 .1 -5.5 5.9 1.3 .9 9.8 -1.1zM605.8 133.2l-4.1 -.3 -1.8 1.9 1.6 7.1 5 0zM587.3 116.4l3.4 -2.1 -.2 -6.3 -5.2 -1.2 -2.7 1.3 .7 4.9zM360.9 215.5l.1 1.7 2.6 .8 .4 -.9 -.4 -2.5zM358.1 220.3l-3.6 -.2 .7 2.4 1 .3 1.6 -2 -.2 -.3zM353.9 210.4l-5.8 .8 -.3 .4 .5 .7 3.7 .6 2 -2.1zM327 233.9l1 1.4 3.3 -1.7 -2.2 -1.6zM356.8 236.3l-2.6 0 -1.5 2.1 4.4 -1.7zM556.1 220.3l3.4 -.2 .8 -1.9 -.7 -.9 -2.4 -.7 -1.3 .4zM566.4 213l3.1 .9 .6 -.8 -1.7 -2.1zM553.5 236.3l-.3 1.5 2.3 .8 1.5 -.9 0 -.6zM568.5 226.6l-1 .8 -.9 .8 1.2 -.2zM55.9 500.5l2.5 4.1 .8 .2 3.7 -.7 .8 -4.4zM104.6 500l4.2 -5.4 -11 -.1 -.6 .4zM161.7 518.9l5.7 2.9 2.3 -5.2 -.9 -.9 -1.2 -.3 -2.9 .2 -4.1 2.1zM93.9 538.7l.2 2 7.2 2.7 1 -1.1zM97.7 669.6l3.2 -2 -.7 -.4 -4.3 .8 -.1 .8zM111.9 669.2l-1.3 1.1 2.9 1.6 1.4 -1.1 .3 -.9zM135.8 667l-.9 -1.9 -3.7 1.8 .2 .4zM121.8 672.2l2.2 1.3 1.9 -.5 .5 -.9 -1 -1zM98.3 680.2l1.6 2.4 1 0 1.5 -2 -.2 -1.2 -2.9 -.3zM102.2 685.6l.1 -2.2 -1.4 -.8 -2.3 .5 .2 2.1zM128.8 685.2l3.7 -.4 -.1 -1.4 -.7 -.7 -1.7 -.3 -2 1.3zM126.4 683.5l1.6 .2 2 -1.3 -1.5 -1.9 -1.7 -.2zM124.2 688.6l-1.8 -.9 -1.7 -.2 -.2 1.1 2 .3 .2 1.1 .7 .6zM119.3 683.2l.2 -3 -.2 -.2 -2 2.8zM332.5 670.3l1.5 -1.2 -2.7 -2 -1.8 .6 -.2 1.7zM343 686.3l-1.7 -.7 -2.3 -.5 1.2 2.8 2.3 0 .6 -.4zM343 679.7l-2.1 .7 .9 2.4 2.7 .6 1.6 -3.5 -.4 -.3zM365.4 678.6l-2 -.8 -2 -.4 2.1 2.1 1.3 -.3zM362.7 683.3l.9 1.2 2.3 1 1.1 .1 .3 -3.6 -4 .4zM356.5 680.2l-.1 -2.2 -2.5 1.2 -1.1 .8 -.2 .7 .9 .4zM353.6 681.9l-.1 -.8 -1.3 -.4 -1.5 2.7 2.1 -.5zM589.5 667.4l-.3 1.6 2.5 -.3 2.5 -1.2 -2.1 -.9zM591.1 665.3l1 1.3 2.1 .9 1 -.9 .3 -1.2 -2.3 -1.1zM613.5 664.2l-.2 -.5 -1.2 1.2zM611.4 665.9l-.9 2.1 -.3 2 3.1 -1.4 .1 -.8zM595.8 684.6l.5 -1 -2.4 -1.2 -2.1 2.9zM591.4 685.5l.9 1.6 1.2 .7 3.2 -1.8 -.9 -1.4zM602.4 685.9l-.7 -1.4 -2.1 -.3 -1.7 2.1 2 1.7 1.5 0z"/>
<path fill="#f6dede" stroke="#f6dede" stroke-width=".35" d="M269.9 25.1l.7 -3.9 -5.9 1.7zM276 31.8l-4.1 -6.1 -1.7 -.3 -5.7 4.8 9.1 3zM307.4 39.7l2.8 -1.6 -1.5 -4.6 -5.2 -1.4 -4.1 2.3 .6 5.1zM428 65.2l7.4 -.7 -4.4 -7 -1.3 .1 -2 1.7 -2.9 4zM392.7 44.4l5.2 .1 2.3 -1.2 -.9 -5 -.5 -.2 -8.7 1.7zM392.5 44.5l-2.9 6.4 5.9 1.1 2.2 -1.1 .2 -6.4zM378.9 35.5l-3.3 4.5 .4 3.3 7.4 -1.4 3.5 -3.7 -.2 -1zM352.5 51.6l-1.3 -5.8 -.9 -.2 -1.7 4.3 -.8 3.7zM260.3 123.1l-4.6 5.6 1.4 1.6 7 -1.3 .6 -6.8zM466.3 41.3l5.2 -3.2 -7 -4 -2.6 4.1zM483.3 95.6l-6.3 3.4 2 1 8.9 1.8 -2.7 -6.2zM487.9 101.8l-8.9 -1.8 3 6.7 1.9 .6 4.5 -5zM494.3 112.7l-4.4 1.5 9.2 6.3 .4 -.3 .3 -7 -1.2 -.5zM504.7 138.8l-1 -4.4 -2.8 -1.3 -4.6 1.2 -3.2 1.9 2.3 2.5 7.4 2.5 1.8 -.7zM502.8 141.2l-7.4 -2.5 -1.4 2 1.4 5.3 4.8 .2zM513.9 91.6l-.2 -3.4 -6.3 -.7 -3.9 0zM514.3 140.6l1.8 -4.9 -2.4 -1.6 -9 4.7 -.1 1.7 7 1.1zM622.7 133.7l-4.2 .9 -2.2 2.2 10.4 5.6 .8 -.2 1.6 -2.5 .3 -3.2zM589.6 130.3l1.1 4.3 1.7 1.8 7.5 -1.6 1.8 -1.9 -3.8 -4.2 -7.9 0zM592.3 147.8l.1 3.3 .5 .8 3.3 2.4 3.1 .8 -.8 -7.6 -.8 -1.2 -1.8 -.1zM348.3 212.3l.3 1.9 4.1 .3 -.7 -1.6zM553.5 230.6l-3.8 -.1 .6 2.7 2.4 0zM558.4 226.3l-1 -.5 -1 -.3 1.2 1.4zM570.2 235.6l-1.5 .7 1.6 .3 .3 1.3 1.3 .7 -1.3 -2.7zM52.2 481.4l6 -3.6 .2 -.8 -3.2 -2.6 -5 -.8 -.8 .3 -1.9 5 3.9 2.6zM208.7 514.6l5.9 1.8 6.5 -3.7 -2.4 -3.6 -2.4 -1.2 -2.5 .8 -6.6 3.9zM198 475.4l2.5 1 3 -1 3.7 -2.1 -.9 -1.3 -9.1 -2.4zM183 515.1l-.3 5.3 10.8 -1.1 -4.3 -6.7 -1.7 .4zM168.8 515.7l.9 .9 3.7 1 5.4 -4.2 -2.5 -3.1zM63.6 553.6l3.7 8.6 5 -1.4 -1.2 -5.2zM81.7 582.2l.8 0 1.7 -1.7 1.6 -2.9 -5.6 -2.7 -2.8 4.7zM88.1 588.5l-3.5 7.2 4 2 3 -.9 2.4 -2.6 0 -.5 -.8 -5 -2.8 -.6zM102 555.9l2.6 -.6 .5 -1.8 -9.1 -4 -1.4 3.5zM200.8 589.1l-4.7 -5.4 -3.3 -.7 -1.3 .7 -.8 2.9 7 3.7zM175.9 596.3l-9.5 -1.4 2.4 6.7 4.3 -1 4.2 -1.5zM161.6 568.1l-4.1 -.3 -4.9 5.7 .2 .5 10.2 3 1.5 -.7zM162 594.2l1 -.2 -.3 -8.1 -1.1 -.7 -7.3 5.2 .3 .5 4.4 .3 2.1 .7 .9 1.1zM142.5 552.8l11 -3.5 -2.7 -2.9 -1.4 -.3 -2.6 1.2 -2.2 2 -2.9 3.2zM108.2 685.9l-1.5 -1.4 -2.1 1.7 1.6 1.9 1.1 -.1zM619.7 683.3l1.4 1.2 4.2 -1.8 -3.3 -1.1 -1.7 .1z"/>
<path fill="#f6eaea" stroke="#f6eaea" stroke-width=".35" d="M270.1 38l1.3 -.5 2.2 -4.3 -9.1 -3 -1.6 .7 2.8 5.4 1.8 1.2zM592 95.6l-1.7 -2 -4.1 -.3 -5.2 3 2.2 4.5 2.4 1.3 6.2 -3.2zM563.5 131.4l2.5 5 2.9 2.9 4.9 -3.9 -1.4 -1.2zM332.3 214.9l3.6 -.3 .1 -2.1 -.9 -.7 -2.5 .1zM66.8 524.7l-6.1 -5.1 -2.9 .1 -.5 .6 2 .3 0 .6 -2 2.4 3 3.4 4.2 -.9zM92.6 474.9l3.2 1.8 6.1 -1 .1 -.5 -1.1 -3.1 -4.6 -2.1zM137.8 489.8l-1.3 2.5 -1.7 3.7 5.1 -.7 .8 -.4zM45 582.8l9 4.5 2.9 -6 -3.1 -1.1zM53.9 588l-2.8 1.1 5.1 1.4zM77.4 579.6l2.8 -4.7 -.9 -1 -7.9 3.2 .8 2.6zM182.4 579.8l4.5 -5.2 -3.5 -2.4 -5.3 2.5 -.7 5.8zM106.8 668.9l1.3 .8 2.6 -2.8 -2.7 -.5 -2.1 .5zM133.1 685.2l.5 2.6 1.6 -.5 .9 -1.3 0 -1.4z"/>
<path fill="#f6baba" stroke="#f6baba" stroke-width=".35" d="M269.9 44.9l.2 -6.9 -2.6 -.5 -6.8 5.6 .5 .5zM275.1 80.9l2.9 -.5 1.9 -5.8 -5.9 -1.1 -2.4 3.3 .1 1.1 .1 .6zM438 64.9l1.5 -1.6 1.9 -3.3 -6.4 -4.2 -4 1.7 4.4 7zM429.7 57.6l-5.4 -3.7 -5.6 2.9 1 1.3 8 1.2zM403.4 57.6l1.1 -6.2 -6.8 -.5 -1.6 1.1 3.6 5.7zM350.3 65.4l.7 .7 .6 .4 -.2 -.9zM281.2 109.7l-5.1 -2 -3.2 6.3 1.7 1.5 1.9 .3 4.4 -2.1zM301.9 154.3l-2.6 -4.3 -2.7 -.1 -5.6 1.8 8.9 3.1 1.9 .3zM320.2 128.5l-6 1.1 -.2 4.1 2.8 1.5 5.4 0 1.3 -1.1zM416.3 95.1l5 5.4 1.7 .8 4 -3.9 -7.2 -4.3zM409.5 142l-3.3 -2.8 -7.8 .3 -2.7 1.1 6.7 6.6 3.2 -.3zM390 129.7l2.6 2.6 5.1 .4 .7 -.2 1.5 -5.2 -4.4 -1.4zM377.3 127.5l-1.3 1 3.7 5.2 .8 0 7.5 -4.5 -2.9 -3.5zM354.5 107.4l4.5 -4.1 -.8 -.6zM470.8 27.5l1 2.3 8.4 2.5 2.5 -5.2 -9.7 -1.1zM472.8 52.1l0 4.6 .4 .4 8 1.6 .6 -6.3zM506 66.4l-5.3 -3.6 -6.4 2.5 1.4 3.5zM544.8 35.7l-3.7 -4.4 -3.7 -1.1 -1.3 5.6zM653.2 36.5l-4 -5.4 -2.1 2.2 5.5 3.4zM636.7 47l-4.9 -2.9 -4.5 .1 -1.6 1.2 .4 2.1 1.7 2.5 8.8 1.8 .3 -.2zM598.8 38.7l-6.1 3.2 -1.2 1.9 .1 1 6.1 1.1 6.8 -1 -.3 -1.9zM581.9 71l1.2 1.4 5.4 1.5 2.8 -1.5 1.2 -1.7 -.8 -1.5 -.9 -.6 -7.1 -1.1 -.6 .3zM569.7 65.4l1.1 1.4 4.9 .7 1.6 -.4 1.5 -7.6 -2.1 -.9zM571 52.6l1.7 -1.7 -3.8 -6.4 -1.3 -.2 -1.5 .4 -2.6 7.3zM562.9 59.2l.4 2.3 1.2 2.3 5.2 1.6 7 -6.8 -.5 -.6zM463.9 136.3l-3 -.4 1.9 1.6 2.6 1.1 0 -1.5zM471 131l0 3.5 1.4 1 5.8 0 2.4 -4.6 -.7 -.6zM474.3 140.8l2.4 .5 2.1 .5 -1.7 -1.5zM487.9 114.6l-4 -6 -10.5 5.7 .5 .9 6.6 2.1zM509.8 114.4l-3.6 4.9 3.8 3.1 5.7 -2.7 -1.5 -4.4zM511.7 148.3l-.7 1.1 7.4 4.8 4.2 -4.2 -4.4 -3.3zM529.4 126.5l7.6 1.6 1 -.8 -2.8 -6 -7.3 .4zM536.9 139.4l-6.1 .7 -1 .8 .6 3.3 5.5 -.6 5.7 -1.6 0 -1zM649.3 104.2l-3.1 -3.4 -5.1 1.9 2.9 4.9 5.3 -2.1zM626.5 93.7l4.1 1.8 2.4 -.1 1.3 -2.7 -6.3 -2.4zM632.1 135.1l-.2 -7.1 -1.4 -.7 -6.5 2.8 -1.3 3.6 6.7 2.8zM621.9 146.1l-1.9 .6 -1.3 1.2 3.7 -1.5zM606.2 122.2l1.5 .5 4.8 -.3 2.7 -1.3 -3.1 -7.9 -1.6 -.2zM609.5 130.1l-1.7 -3.4 -9 2.7 2.9 3.5 3.8 .1zM587.3 116.4l-4 -3.4 -5.2 2 2 5.8 2.9 -.5zM571.8 112.8l7.4 -4.9 -1.8 -1.4 -6.3 -.8 -3.1 5 0 2.1 1.9 .4zM332.7 236.8l-4.3 -.9 3.9 1.6zM339.8 231l2.5 2.4 .6 .1 0 -1.5 -.8 -2.1zM361.5 232.7l.4 -.3 0 -2.4 -3.7 -.4 -.9 1.3 1 1.2zM354.3 233.7l2.8 0 1.2 -1.6 -1 -1.2 -3.5 .4 -.3 1.7zM349.1 227.9l-2 -.2 -1.7 2.4 .7 0zM553.5 236.3l-1 -.1 -1.9 .5 2.6 1.1zM559.7 233.7l1.8 -1.1 -3.1 -2.4 -1.2 0 -.7 .4 .7 1.5zM557 237.1l.2 -.5 2.9 -.5 -.9 -1.5 -5.7 1.7zM575.7 230.6l-2.2 2.3 .8 .4 3.5 -.6 -.5 -2.5zM575.7 230.6l-3 -1 -2.5 .9 3.3 2.4zM54.7 499.6l-5.8 3.1 .4 1.7 1.3 1 7.8 -.8 -2.5 -4.1zM60.6 485.6l3.6 -1 .2 -1.4 -6.2 -5.4 -6 3.6zM106 480.2l-1.5 .9 -2.6 7.4 1.6 .4 8.7 -2.6zM106.3 479.2l-.3 1 6.2 6.1 2.2 .5 1.5 -.7 -2.4 -3.5 -3.7 -3.9zM213.8 508.7l2.5 -.8 .1 -2.6 -9 -4.5 -2.2 .3 -.4 3zM82.9 596l1.7 -.3 3.5 -7.2 -5.8 .5 -3.4 4.5zM91.6 596.8l-3 .9 .1 3.6 2.4 -1.1 2.6 -2.3zM115.7 555.9l1 0 -1.2 -1.7zM206.6 588l-1.5 1 2.8 -.7zM178.1 574.7l5.3 -2.5 -.4 -1 -9.9 -2.7 1.9 5.3zM98.7 672.2l3.4 .6 -.5 1 .7 -1 -.6 -.9zM121.9 670.1l-1.7 1.9 1.6 .2 3.6 -1.1zM102.3 683.4l3.1 0 .9 -2.4 -3.9 -.4 -1.5 2zM111.4 681.7l-.6 .4 -.2 1.6 2.1 1.8 2.5 .1 -.2 -1.8 -.9 -1.8zM126.9 689.9l3 -1.1 .2 -.4 -1.2 -.6 -2.9 .2zM126 688l-.6 -2.1 -2.1 0 -.9 1.8 1.8 .9zM345.2 664.9l1.5 -.1 -2.2 -1.8zM363.6 684.5l-3.4 2.8 1.1 1 1.8 .2 2.8 -3zM360.6 682.6l-3.4 .7 -.5 .6 2.1 1 3.9 -1.6zM352.8 687.8l.7 -2.6 -3.1 -.9 -.1 1.3 .6 1.5 .9 .8zM605.2 670l-.6 .7 .8 .8 1.7 .2 1.3 -1.1 .2 -1.8zM626.4 663.1l.1 1.1 2 .9 -1.3 -1.5zM626.6 671.8l.5 .2 1.3 -.7 1.1 -1.6 -3.5 .1zM626.4 663.1l-1.6 -.6 -1.8 -.4 .2 1.2zM618.8 661.7l-1.8 .1 -2 2.7 2.5 .9 2.7 -1.1zM597.7 680.7l-.5 -.1 -2.3 2.1 1.4 .9 1.9 -.4zM593.5 687.8l2.2 .8 3.6 -.3 .6 -.3 -2 -1.7 -1.2 -.3zM625.7 680.5l.3 1.2 2.6 -.1 -1.9 -2.2zM617 677.6l-1.9 .6 -1.2 .7 .7 .8 1.4 0zM616.1 682.7l1.1 -2.4 -1.2 -.6 -1.4 0 -1.4 1.1 .8 1.3z"/>
<path fill="#f6cccc" stroke="#f6cccc" stroke-width=".35" d="M270 50.6l1.9 -4.6 -2 -1.1 -1.1 0 -6.5 5.1zM311.6 71.3l5.4 -.6 1 -4.9 -2.6 -1.7 -5.4 -.6 -.5 .6 -1.6 5.3zM354.7 37.3l-1.9 3.2 -2.5 5.1 .9 .2 5.7 -1.2 -1.3 -7.4zM272.1 143.4l-2.3 .1 3 .9zM287.1 109l1.8 -2 -5.4 -4.3 -7.9 3.8 .5 1.2 5.1 2zM290.8 145.7l5.8 4.2 2.7 .1 1.9 -3.5 -5.2 -4zM494.9 45.6l-7.2 .2 -.2 4.9 6.7 1.3 1.5 -1.6 1 -3.8zM496.9 78.5l-6.4 -.5 -.4 5.9 1.8 .7 1.6 .2 4.3 -.9zM514.4 73.4l-4.1 1.3 -.8 1.2 3.2 2.5 6.9 -2.1zM644 52.8l-3.1 -1.1 -4 -.1 -2.8 6.7 2.2 1.1 6.4 -.8zM633.4 58.4l-5 6.9 8 .5 2.5 -1.5 -2.6 -4.9 -2.2 -1.1zM585.2 31.1l-8.9 0 -1.6 6.4 4.4 2.5 .8 -.3zM483.9 107.3l-8 -1.5 -4.7 5.8 .5 1.4 1.7 1.3 10.5 -5.7zM480.8 124.6l-7.6 -.9 -4 5.9 1.8 1.4 8.9 -.7zM487 132.8l1.7 2.9 4.4 .5 3.2 -1.9 -2.4 -5.5 -4.3 .9zM516.1 135.7l4.4 -.9 2.4 -1.6 -.1 -2.9 -7.8 -2.4 -2.1 5.4zM653.2 119.6l3.7 .1 -1.7 -5.3 -3.9 1zM653.2 119.6l-2.5 4.3 1.3 1.6 1.3 .6 4.7 -.2 -1.1 -6.2zM637.1 101.7l4 1 5.1 -1.9 -2.7 -2.5 -5.5 -1.5 -1.1 .2zM606.5 141.9l1.9 .3 3.8 -1.4 2.5 -3.2 -8.9 -4.4zM339 212.7l1.4 1.5 1.4 -.4 -2 -2.3zM554.3 220.6l-1.2 -.4 -3.1 .9 -.5 .7 .7 .9 1 .1 2.9 -1zM581.1 217.4l-3 .3 -1.6 2.3 1.4 .4 2.8 -.3zM547.9 227.4l1.6 -1.7 -2.7 1.3zM549.7 233.4l-2.6 -1.1 -2.6 .6 2.9 2.7 1.2 -.4zM556.5 230.6l-3 0 -.8 2.6 .6 .6 1.8 -.2 2.1 -1.5zM573.6 225.4l-.1 -.3 -1.8 .3 -3.1 1.2 1.1 .1zM570.8 231.1l-1.7 3.1 1.1 1.1 3.1 -2.4zM566.6 233.1l1.1 -1.9 -2.4 -1 -.7 1.8 .1 1.9zM57.8 519.7l-6.3 -6.5 -.8 -.1 -2.9 .7 -.2 5.8 6.6 .7 3.1 0zM72.6 515.8l3.5 -3.6 -4.8 -5.5 -2.6 .3 -4 4.6zM219.5 498.9l-6.3 -2 -5.8 3.9 9 4.5 4.6 -4.3zM204.2 504.9l1.1 7.2 1.9 .5 6.6 -3.9 -9 -4.6zM158.3 478.4l9 -4.9 -.7 -.7 -4.2 -1.9 -3.5 1.1 -3.2 2.7zM151.6 486.4l-.7 -2.6 -5.9 -3.4 -5.2 6 7 2.8zM54.4 573.7l4.7 1.6 6.1 -1.3 -2.3 -3.5 -2.5 -1.6 -3.5 0zM82.9 596l-4 -2.5 -4.2 -.5 -2.6 3.3 .4 .4 6.5 2.6zM82.4 542.5l-1.7 .3 -1 .8 -.5 2.8 7.9 2.5 5.2 -2.3 -.2 -.6 -7.8 -3.1zM88.5 563.4l-7.7 4.4 -.3 1 2.5 .8 11.4 .2 1.1 -2.6 -2.3 -2.7zM93.7 597.9l.5 -1.9 -.2 -1.8 -2.4 2.6zM101.3 543.4l.9 3 4.6 1 1.3 -1.1 -5.8 -4zM149.4 546.1l-.7 -.4 -1.9 1.6zM123.9 673.6l-2.1 -1.4 -2.1 .1zM117.3 682.8l-.6 2.9 2.7 -.3 .8 -1 -.4 -.9zM616.7 683.5l-.8 1 1.6 1.7 1.5 .4 2.2 -1.4 -.1 -.7 -1.4 -1.2z"/>
<path fill="#ea6666" stroke="#ea6666" stroke-width=".35" d="M271.4 59.2l-3.8 -2.6 -1.8 .3 -2.1 1.2 -1.1 6.2 2.5 1.4 6.9 -1.6zM278.4 59.5l-.8 -.8 -6.2 .5 .6 4.9 3.5 .8zM265.8 109.3l1.1 3.9 6 .8 3.2 -6.3 -.7 -1.3 -8.7 1.5zM387.9 96.1l-.1 -2 -8.8 -.2 -2.1 1.6 4 4.5zM366.5 139.7l-7.2 2.4 5.5 1.5 3.6 .5 .6 -3.2 -.7 -1zM539.3 53.7l-.4 1.4 1.5 1.7 6.4 1.4 1.6 -4.8 -2.8 -1.3zM613.9 58.4l7.8 -.4 1.1 -4.1 -3.3 -3 -2.9 -.7 -3.1 5.4zM597.7 61.8l4.5 -2.4 -2.6 -6.3 -5.3 .6 -3 5.6zM576.7 58.6l2.1 .9 4.7 .9 3.4 -.7 -2.8 -7.8 -1.8 -.5 -6.1 6.5zM463.4 109.5l7.8 2.1 -4.4 -7.2zM467.2 120.8l2.6 -.2 4.1 -5.4 -.5 -.9 -1.7 -1.3 -8 1.7zM493.2 94.8l3.3 2 6.1 -4.2 -1.2 -4.9 -6.3 .9zM590.3 93.6l1.7 2 6.1 -.2 3.5 -2.4 -5.3 -3.5 -4 1.3zM342.9 233.5l-2.1 .4 -.9 2.3 1.5 -.6 1 -.8zM350.6 235.1l-.2 -.9 -2.5 -.6 -1 1.8 1.8 .9 .9 -.2zM347.7 233.3l-3.2 -.4 .4 1.6 1.2 1.1 .8 -.2zM573.5 217.5l.4 -.5 0 -1.9 -2 .2 -.8 1.9zM79.5 527.1l-5.2 -7.5 -.8 -.2 -6.6 5.3 7.2 4.2zM87.3 521.4l-.8 -1.8 -7.6 -.7 -4.6 .7 5.2 7.5 3.2 -.9zM101.2 584l-.8 1.2 7.5 4.7 2.6 -.8 .6 -6.5 -1.5 -.8zM148.3 583l5.1 -2.4 -2.4 -2.8 -4.8 3.3zM106.7 680.8l2.9 1.1 1.2 .2 .6 -.4 0 -1.8 -.5 -.6 -1.7 -.2 -2.3 1.1zM345.9 665.1l-2.2 -.1 -1.5 2.4 .6 .4 3.3 -.6zM345.9 665.1l.3 2.1 2 .2 -1.5 -2.6zM595.5 672.3l.1 -3.1 -2.7 1.3 -.8 1.1 .9 .7zM614.5 687.3l-.9 -2.1 -3.4 .1 .4 1.3 1.2 1.1 .9 .4z"/>
<path fill="#f6d8d8" stroke="#f6d8d8" stroke-width=".35" d="M278 31.9l3.1 -1.9 -5.2 -5.3 -4 1 4.1 6.1zM294 79.7l-5.1 -2.3 -3.9 3 .9 2.3zM532.2 37l-3.7 -6.5 -3.4 0 -3.6 6.2 .9 1.5zM639.8 71.6l2.7 -.6 1.1 -5.1 -4.7 -1.6 -2.5 1.5 -2.7 6.1zM621.4 58.2l3.1 7.7 2.1 .3 1.8 -.9 5 -6.9 -2.5 -.4zM621.6 79.2l.2 -3.6 -5.3 -2.2 -2.5 .6 -1.8 3.1 3.9 4.4zM584.4 26.8l2.3 -4.2 -2.4 1.1 -3.1 2.1zM591.6 44.8l-.1 -1 -10.2 -4 -2.2 .2 -1.3 2.9 7.6 3.5zM478.2 135.5l2.4 2.9 4.9 .1 3.2 -2.8 -1.7 -2.9 -6.4 -1.9zM522.6 150l1.6 -.6 -.1 -3.3 -4.1 -2.5 -1.8 3.1zM521.7 91.3l5.7 2.6 1.3 -1.2 -6.9 -2.6zM634.3 108.2l8.6 .6 1.1 -1.2 -2.9 -4.9 -4 -1 -1.2 1zM637.5 135.1l-5.4 0 -2.7 1.4 -.3 3.2 11.2 1.4zM549.4 210.1l-2.9 1 -1.2 1.3 1.6 .6 3.5 -1.1zM578.1 211.6l2.9 1.1 .8 -.1 -1.8 -1.9 -.9 -.3 -.5 -.2zM575.5 220.3l-1.5 .1 -.1 1.6 2.4 .8 1 -.1zM566.2 213.1l-1 1.6 2.7 1.3 1.6 -1.1 0 -1zM558.4 226.3l-.8 .7 2.6 .5zM63.5 517.8l8.9 .2 .2 -2.2 -7.9 -4.2 -1.6 .6zM80.7 513.9l7.6 2.2 1.1 -.7 -3 -7.2 -1.4 0 -6.5 4zM197 528.3l-4.7 -.4 -3.2 3.8 3.2 .6 3 -.7 2.3 -2.1zM163.3 499.5l-1.1 -1.4 -7.5 2.1 2.4 4.6 3.3 .3zM56.8 581.3l2.3 -6 -4.7 -1.6 -4 1.5 3.4 5zM88.6 597.7l-4 -2 -1.7 .3 -3.9 3.3 6.2 2 2.8 .2 .7 -.2zM84.3 542.9l7.8 3.1 2 -5.3 -.2 -.6zM87.1 548.9l-1 5.8 2.2 1.2 1.6 -.1 4.7 -2.8 1.4 -3.5 -.1 -1.1 -3.6 -1.8zM100.4 585.2l-6.1 3.4 5.2 2.4 8.4 -1.1zM117.7 561l-4.3 6.2 3.4 2.2 5.8 -.5 -3 -7.7zM173.1 568.5l9.9 2.7 1.8 -2.8 -6.2 -5.3 -.8 .1 -5.3 4.9zM169.7 577l5.3 -3.2 -1.9 -5.3 -.6 -.3 -6.6 7.9zM354.9 665.4l3.7 1 .6 -1.8 -1.3 -.7 -3.1 .9zM615 671.8l-3.7 -2 -1.1 .2 .7 1.2 1.3 .6 2.1 .7z"/>
<path fill="#f09696" stroke="#f09696" stroke-width=".35" d="M270 50.6l1.1 2.8 7.4 .4 1.9 -.8 .4 -.8 -5.2 -6.4 -3.7 .2zM301.3 71.8l-.9 -.4 -6.1 1.7 -4.9 4.3 4.6 2.3 8.7 -2.9zM304.7 24.3l5.4 -.1 -.6 -3.7 -6.2 -1.7 -4 -.4zM318.3 71.7l-.1 .5 2 -.5zM332.8 43.9l-5.1 -4.3 -1.5 -.1 -5.6 4.6 2.2 1.5zM415.8 37.3l4 -.5 3.7 -5.1 -4.4 -1 -4.2 1.9 -.7 1.3zM418.7 56.8l5.6 -2.9 0 -3.6 -2.8 -.9 -9.2 3.3 1 3.8zM404 36.5l8 3.3 3.8 -2.5 -1.6 -3.4 -8.2 -1.8zM408.8 79.7l-.5 5 3.1 -1.4 1.5 -1.9zM388.5 57.3l.2 5.2 4.9 1.6 2.2 -1.4 1.6 -3.3 -5.5 -2.7zM370.4 24.1l.5 .3 6.5 -.3 2.5 -4.8 -7.8 2.7 -1.4 .8zM372.9 31l-8.3 .5 -1.4 2 3.3 3.5 3.4 -.3 4.1 -5.1zM257.1 99.2l3.9 3.5 2.7 .3 6.9 -2.9 -9.5 -4.5 -3.8 2.9zM265.1 136.5l-3.8 -.7 -2 5.1 8.1 1.9zM310 142.2l.4 -1 -3.7 -4.9 -10 3.7zM314.6 109.5l3.9 -2 -3.9 -6.2 -2.5 0 -3.8 2.9 2.1 3.8zM337 132.7l.4 -1.4 -6.2 -4.9 -1.8 1.3 -1.8 5.3zM402.8 107.8l3.4 1 1.2 -7 -4.3 -2.3 -2.9 -.2 -2.9 2.2zM395.6 109.9l7.2 -2.1 -5.5 -6.3 -4.2 1.3 -1.3 5.4zM399.5 115.2l-.8 -.6 -12.1 -1 -.3 1 .7 1.1 9.3 3 1.3 .1zM395.7 140.6l-3.4 1.1 -1 3.9 2.9 2.7 5.4 -.1 2.8 -1zM388.2 93.9l.1 -3.1 -4.3 -2 -5.2 1.4 .2 3.7zM366.7 101.1l4.7 -2.8 1.9 -2.3 -.6 -.5 -5.3 -.4 -4 2.8zM366.2 102.5l-6.1 .9 .9 4.4 9.2 -.8zM356.2 114.3l-1.1 -.2 -5.4 2.5 -1.7 5.3 2.5 .8 5.7 -1.2zM354.6 128l-7 1.2 1 3.8 1.1 2 4.1 -.7 2.3 -5.6zM467.2 63.8l-1.6 -5.9 -1.3 -.3 -5.1 2.1 2 3.6 1.7 1.8zM492.6 39.1l-3.5 .5 -3.4 4.4 2 1.8 7.2 -.2zM514.5 58.4l2.3 1.4 6 .3 .8 -5.5 -4.2 -2.8 -2.9 .2 -2.3 .8zM539.5 70.5l-10 1.1 -.4 1.9zM591.3 59.3l3 -5.6 -2.3 -1.8 -7.9 0 2.8 7.8 3.2 0zM480.5 117.3l-6.6 -2.1 -4.1 5.4 3.4 3.1 7.3 .6 .7 -3.1zM508.4 132.7l-1.9 -6.2 -1.8 0 -4 2.4 .2 4.2 2.8 1.3zM330.2 210l-2.7 .7 -.1 .8 2.2 .8 1.6 -.7zM331 215l-1.9 2.3 1.1 1.2 3.1 -1.1 -.6 -2.3zM344.5 217.3l.5 1.6 2.2 1.1 1.3 -.5 .7 -2 -.9 -1zM328.2 227.7l1.6 -.3 .1 -1.9 -2.5 1.1zM335.9 236.6l-2.9 .1 -.7 .8 3.5 1 .9 -.4zM340.4 230.5l1.7 -.6 -2.1 -2.5 -1.1 -.1zM358.5 227l1.7 -.4 -2.9 -1.1zM351.3 227.8l3.1 .7 .9 -.4 -2.2 -3zM351.7 233.4l1.8 -.4 .3 -1.7 -.7 -.6 -2.2 -.4 -2 .9zM354 236l.3 -2.3 -.8 -.7 -1.8 .4 -1.3 .8 .2 .9zM560.5 212.1l-3.1 -.8 -1.4 1.3 -.1 1.4 1.7 .6 2.2 -.6zM95.9 514.9l-6.5 .5 -1.1 .7 -1.8 3.5 .8 1.8 5.5 1.7 2.6 -.8zM139.9 495.3l1.6 6.1 4.7 -.3 2.5 -1.9 -2.5 -5 -5.5 .7zM92.2 581.6l6.9 -.2 -.3 -6 -3 -.8 -4.7 1.7zM100.3 575.2l8.3 1.6 1.7 -1.1 -4.2 -7.6 -.7 .2zM108.1 550.4l-3 3.1 -.5 1.8 9.9 2.1 1.2 -1.5 -.2 -1.7 -1.6 -2.3 -.5 -.5zM106.1 568.1l4.2 7.6 4.1 -1.6 2.4 -4.7 -3.4 -2.2 -4.4 -.8zM98.2 670.2l-.5 -.6 -1.9 -.8 .4 1.8 1.6 1.4zM135.4 669.3l.8 -.1 -.4 -2.2 -4.4 .3zM131.5 667.4l-1 3 3 .1 1.9 -1.2zM107.3 688l3 .4 1.4 -2.3 -3.5 -.2zM134.5 680.8l-1.5 -1.4 -.4 .3 .8 1zM132.6 679.7l.4 -.3 -2.6 -1.4 .4 1.4zM123.3 681.5l-3.5 2 .4 .9 1.5 .1 3.1 -.8zM120.7 687.5l-.6 -.2 -1.6 .7 2 .6zM332.9 666l-.4 -2 -1 0 -1.2 1.5 -.8 2.2 1.8 -.6zM333.2 671.8l-.7 -1.5 -3.2 -.9 .7 1.5 1.1 .9 .9 .4zM591.7 668.7l1.2 1.8 2.7 -1.3 -1.4 -1.6zM596.5 664.8l1.6 -.5 .7 -2.6 -4.2 .6zM597.8 674.6l3.3 -1.1 -.2 -.8 -2.8 0zM601 672.7l.1 .8 2.4 -.7zM626.5 664.2l-1.5 1.7 2.5 1.6 1.8 -.7 -.8 -1.7zM616.6 669.5l2.9 -.3 0 -1.1 -1.9 -1.3 -2.1 2.1zM619.6 672l1 -2.1 -1.1 -.7 -2.9 .3 -.3 2.1z"/>
<path fill="#ea7878" stroke="#ea7878" stroke-width=".35" d="M274 73.5l5.9 1.1 2.7 -.6 -2.9 -7.4 -2.1 -.2 -4.8 5.5 1 .9zM285.2 74.3l4.2 3.1 4.9 -4.3 -5.3 -3.8zM410.7 59l-2.2 .5 -2.8 4.4 .7 2.4 5.3 1.8 5.6 -1.8 .6 -1.1zM405.7 63.9l-9.9 -1.2 -2.2 1.4 .3 2.2 6.5 4 6 -4zM364.6 31.5l-1.6 -3.4 -6.2 6.3 6.4 -.9zM287.7 146.3l-3.6 -5.2 -4.6 .2 .4 5.7 5.5 2.4zM310 122.1l-2.6 4.6 .6 1.1 6.2 1.8 4.9 -1.1 -7.3 -6.3zM333.9 121.1l-2.4 1.5 -.3 3.8 6.2 4.9 .7 -4.5 -.8 -5.9zM435.5 109.9l1.7 -.8 -3.7 -5.3 -1.5 1.4zM376.2 102.6l-2.9 5.1 2.7 1.1 1.4 0 4.2 -2.5 2.1 -3.9 -2.7 -1.8zM360.4 135.9l6.1 3.8 1.8 .2 2.7 -4.1 -3.5 -3.8 -3 .2zM549.1 60.1l-2.3 -1.9 -6.4 -1.4 -.5 6 2.3 .3zM522.9 107l7.9 -2.1 .2 -2 -7.5 -3.3zM328.2 214l-1.2 .9 .7 1.9 1.4 .5 1.9 -2.3zM330.2 218.6l3.1 2.1 1.5 -1.2 -1.8 -1.7zM574.4 226.6l-.8 -1.2 -3.9 1.3 1.2 1.4zM115.9 500.6l-.5 4.6 1.4 1.1 6.4 -.7 -.5 -4.8 -.8 -2.9zM110.6 670.3l-1.8 .3 -1.1 1.9 2.5 .4 3.3 -1zM102.4 686l-.2 -.4 -3.4 -.4 -.6 .9 2.4 1.6zM341.3 664.3l2.4 .7 1.5 -.1 -.7 -1.9 -2.8 -1zM363.1 662.3l-2.1 -.3 .1 2.3 2 .6 1 -.9zM341.8 682.8l-.9 -2.4 -.7 -.2 -2.4 1.6 2.7 1.7zM363.1 688.5l.5 .2 3.9 -.9 -.1 -2.1 -1.5 -.2zM353.9 685l2.7 -1.1 -3 -2 -.8 1zM592.9 662.9l-1.2 .7 -1.4 1.5 .8 .2 2.1 -1zM627.5 667.5l-1.4 2.2 3.4 0 -.2 -2.9zM613.5 664.2l1.5 .3 2 -2.7 -3.1 1.4 -.6 .5z"/>
<path fill="#f0f0f6" stroke="#f0f0f6" stroke-width=".35" d="M278.4 59.5l6.6 1.3 2.9 -3.3 -7.5 -4.5 -1.9 .8 -.9 4.9zM277.6 66.4l2.1 .2 5.8 -1.5 -.5 -4.3 -6.6 -1.3 -2.9 5.4zM316.9 44.1l-8.5 2.3 .8 4.6 5.6 .6zM398.8 38.1l-3.1 -3.6 -8.1 1.6 -.9 1.1 .2 1 3.2 1.6zM250.8 109.3l-3 .6 -2.4 5.3 4.1 2.1 4.1 -2.8zM433.4 123.5l2.4 -2.5 -3.3 -6.2 -5.6 5.9 4.4 2.6zM336.8 230.2l1.2 .9 1.8 -.1 .6 -.5 -1.5 -3.2 -2 1.3zM80 527.1l-5.9 1.8 -.4 .6zM105.8 519.4l9.6 -3.1 .6 -2.8 -1.6 -1.6 -7.1 .3zM196.6 488.9l2.3 3.5 2.4 .4 2.8 -.9 .4 -5.5 -3.3 -1.5zM192.3 527.9l-1 -1.6 -6.7 -1.9 -2.6 2.7 .3 2.4 6.8 2.2zM156.7 517.8l-2.1 2.8 7.3 2.1 -.2 -3.8 -1.1 -1.2zM150.5 513.4l-3.7 -2.6 -6.5 .9 -1.6 1.1 4.2 4.4 1.9 .6zM139 505.7l2.5 -4.3 -7.9 -1.6 -.8 5.9zM135.5 513.1l2.5 2 4.9 2.1 -4.2 -4.4zM72.2 579.7l-.8 -2.6 -4.3 -2.9 -1.7 -.1 -2.8 7.6 2 1 5.2 .2zM82.3 589l-8.7 -1.4 -.5 .6 1.6 4.8 4.2 .5zM73.6 587.6l8.7 1.4 6.3 -.8 -6.1 -6 -.8 0 -8.3 4.3zM91.2 576.2l4.6 -1.6 -1.4 -4.8 -11.4 -.2zM175.2 580.5l1.6 .3 .6 -.3 .7 -5.8 -3.1 -.9 -5.3 3.2zM175.2 580.5l-5.2 2.4 -2.4 2.8 5.5 2.9 4.6 -.2 .3 -1.4 -1.2 -6.2zM164.5 576.3l-1.5 .7 -.8 2.1 7.8 3.8 5.2 -2.4 -5.5 -3.5 -3.8 -.9zM144.6 566.9l11.4 -.6 -.8 -4.1 -8.2 -.2zM98.6 683.1l-2.4 0 -.4 1.8 .1 1.4 2.3 -.2 .6 -.9zM100.5 688l.1 -.3 -2.4 -1.6 -2.3 .2 1.2 1.2zM613.4 667.8l-.1 .8 2.2 .3 2.1 -2.1 -.2 -.8z"/>
<path fill="#ea6066" stroke="#ea6066" stroke-width=".35" d="M289 66.4l-3.5 -1.3 -5.8 1.5 2.9 7.4 2.6 .3 3.8 -5 .4 -1.9zM619.7 98.8l4.7 2.3 3.2 -.8 3 -4.8 -4.1 -1.8 -6.4 -.3 -1.8 .4zM336.9 228.6l1.8 -1.3 -1.9 -1.7 -1 -.2 -.4 -.1 -2.6 2.3zM625.3 682.7l.7 -1 -.3 -1.2 -2.3 -.6 -1.4 1.7z"/>
<path fill="#ea7272" stroke="#ea7272" stroke-width=".35" d="M281 84.4l4.9 -1.7 -.9 -2.3 -4.5 .9zM369.9 36.7l-3.5 .4 1.8 6 7 1.2 .8 -1 -.4 -3.3zM312.1 101.3l-8.5 -5.7 -6.1 5.6 .4 .8 10.4 2.1zM314 133.7l-7.4 1.1 .1 1.5 3.7 4.9 6.4 -6zM301.9 154.3l-.1 .8 1.9 -.3 2.1 -1.1 2.5 -2.2zM310.2 142.1l5.1 2.1 5.4 -.6 2.1 -.5 -.1 -3 -.6 -.8 -11.7 2zM322.7 140.1l.1 3 5.5 -1.7 2.5 -1.3zM426.9 113.2l-1.2 -5.4 -8.8 .3 7.8 5.8zM409.5 142l-3.9 4.9 9.8 -3.3 -.3 -.7zM540.4 56.8l-1.5 -1.7 -5 1.6 -.8 7.7 2.1 .4 4.7 -2zM466.8 104.4l-2 2.6 -1.6 2.6 .2 -.1zM527.5 94.1l-.8 1.9 5 5.7 6.3 -3.3 -3 -2.2zM636.9 116.5l1.2 1.8 5.6 .5 5.5 -3.9 -1.2 -1.4 -3.7 -2.2 -7.2 4.7zM328.7 231.5l-2.3 -.6 -.4 2.3 1 .7 2.1 -1.9zM328.7 231.5l2.6 2.1 1.9 -.6 0 -1.9 -2.4 -.8zM553.1 220.2l1.2 .4 1.8 -.3 -.2 -3.3 -1.6 -.4 -2.4 .9zM573.5 217.5l.2 2.8 .3 .1 2.5 -.4 1.5 -2.3 -4.1 -.7zM173.4 517.6l3.6 3.3 5.6 -.6 .4 -5.2 -4.2 -1.7zM101.2 584l8.4 -2.2 -1 -5 -8.3 -1.6 -1.5 .2 .3 6zM110.5 589.1l2.9 -.9 3.1 -1.7 -1 -3.8 -4.4 -.1zM165.5 556.9l-2.3 -3 -7.7 -.5 -1.2 2.2 2.9 4.4 4.2 .1zM153.4 580.6l5 2.5 1.1 0 2.7 -4 .8 -2.1 -10.2 -3 -1.7 1.8 -.1 2zM339 679.2l1.2 1 .7 .2 2.1 -.7 -1 -1.9 -3.6 -.4zM601.6 688l-1.7 0 -.6 .3 -.8 1.5 2.4 .8 1.2 -.2zM600.3 679.2l.5 .7 4.4 .2 .3 -.5 0 -.3 -1 -.7 -2.1 -.9z"/>
<path fill="#f6c6cc" stroke="#f6c6cc" stroke-width=".35" d="M288.8 45l2.1 .3 6.7 -5 -6.8 -3.8 -3.9 1 -.1 6.1zM490.5 78l-1.1 -.6 -2.5 .8 .7 2.9 .8 1.2 1.7 1.6zM633 95.4l3.9 1.6 1.1 -.2 1.7 -1.2 -5.4 -2.9zM614.7 137.6l1.6 -.8 2.2 -2.2 -4.3 -4.9 -4.7 .4 -4 2.9zM218.7 509.1l2.4 3.6 1.4 .5 1.9 -1.9 2.6 -4.8z"/>
<path fill="#f6d8de" stroke="#f6d8de" stroke-width=".35" d="M299.7 70.6l-10.3 -3.2 -.4 1.9 5.3 3.8 6.1 -1.7zM536.1 35.8l-3.9 1.2 1.6 6 7.8 1.2 1.8 -.4zM515 127.9l-.4 -.6 -5.4 -1.7 -2.7 .9 1.9 6.2 4.5 .6zM535.6 114.6l4.4 -3.1 -2.4 -4.1 -1 -.1 -7.8 5.1 1.7 1.9zM41.3 480.3l-4.2 -.3 -2.7 3.4 2.9 2.5 5.3 .1zM41.3 506.2l1.7 6 2.7 1.4 2.1 .2 2.9 -.7 -.1 -7.7 -1.3 -1zM184.6 524.4l6.7 1.9 3.9 -6.4 -1.7 -.6 -10.8 1.1zM105 555.6l-.4 -.3 -2.6 .6 -4.6 3.6 .2 .8 5.2 1.9 3.7 .1z"/>
<path fill="#f6eaf0" stroke="#f6eaf0" stroke-width=".35" d="M300 39.5l-.6 -5.1 -5 -.8 -3.6 2.9 6.8 3.8zM308.4 46.4l8.5 -2.3 1.1 -.7 -1.7 -3.2 -3.7 -1.5 -2.4 -.6 -2.8 1.6 -.3 5.9zM527.4 93.9l.1 .2 7.5 2.1 -6.3 -3.5zM331.2 211.6l-1.6 .7 -1.4 1.7 2.8 1 1.3 -.1 .3 -3zM350.9 230.3l-.6 -2 -1.2 -.4 -3 2.2 2.8 1.1zM176.3 510.3l2.5 3.1 4.2 1.7 4.5 -2.1 -7.9 -5.1 -3.3 .2zM206 546l4.9 0 1.4 -.5 -5.6 -3.6zM139.3 574.5l4.2 -5.6 -.2 -.3 -9.2 -2.1 -.8 3 -.5 5zM144.4 588.2l-5.5 -5.8 -3.3 .3 1.6 2 3.3 2.5 3.3 1.4zM125.4 685.9l.6 2.1 2.9 -.2 .1 -2.4 -.2 -.2z"/>
<path fill="#ea6c6c" stroke="#ea6c6c" stroke-width=".35" d="M297.2 56.3l4.7 -3.2 -7.8 -3.8 -2.6 4.4 .2 2.3zM400.3 70.3l-10.5 4.3 .8 1.4 6.9 .8 3.8 -5.2zM308.3 104.1l-10.4 -2.1 4.9 6.6zM376.9 95.5l-3.6 .5 -1.9 2.3 4.8 4.3 4.8 -2zM357.6 136.3l-3.8 -2 -4.1 .7 2.1 2.8 1.6 1.4 3.3 1.9zM506.4 58.7l3.2 7.2 1.8 .1 5.4 -6.2 -2.3 -1.4zM514.5 18.9l2.8 6 6.4 -3.1 -1.5 -2.1 -6.8 -1.3 -.6 0zM541.6 44.2l-4.1 7.3 1.8 2.2 6.3 -1.6 1.5 -5 -3.7 -3.3zM60.7 519.6l6.1 5.1 6.7 -5.3 -1.1 -1.4 -8.9 -.2zM115.5 582.7l1 3.8 2.3 -1.8 2.2 -2.9zM149.6 586.7l.5 .1 8.3 -3.7 -5 -2.5 -5.1 2.4zM98.8 665.7l1.8 -1.2 -1.1 -1.5 -1.3 .8 -1.5 1.7zM112.7 685.5l-1 .6 -1.4 2.3 .3 .3 3.4 -1 1.2 -2.1zM120.1 687.3l-.7 -1.9 -2.7 .3 .6 1.4 1.2 .9z"/>
<path fill="#eaeaf6" stroke="#eaeaf6" stroke-width=".35" d="M307.4 39.7l-7.4 -.2 -.5 .4 2.7 5.8 4.9 -.1zM318 52.9l-.5 3.1 2.6 2.8 3 .4 2.9 -7.3 -2.5 -.8zM441.6 120l-2.3 -6.7 -3.7 -.8 -3.1 1.6 0 .7 3.3 6.2zM426.9 120.7l-5.7 -.7 -.9 .5 -.7 5 4.9 1.8 6.8 -4zM363.9 232.5l-2.4 .2 -.3 2.3 .5 .5 1.6 -.7 .7 -1.6zM33.3 503.5l1.1 -2.1 -5.4 -2.9 -.6 6.3zM57.3 523.6l-.2 2 1 3.4 2.2 -2zM103.9 519.8l-7.6 -5 -.4 .1 -.5 7.4zM112.2 486.3l-8.7 2.6 5 5.6 3.7 -.1 2.6 -1.3 -.4 -6.3zM116 513.5l-.6 2.8 4.3 -2.4zM223.6 494.2l-4.1 4.7 1.5 2.1 6.4 1 -1.2 -8.1zM200.6 481.8l.6 3.1 3.3 1.5 2.5 -.5 -1.8 -4.2zM74.4 569.8l-7.3 4.4 4.3 2.9 7.9 -3.2 -.1 -4.2zM81.7 582.2l-4.3 -2.6 -5.2 .1 -2.4 3.2 3.6 3.6zM76 560.9l4.8 6.9 7.7 -4.4 -1.5 -3.5zM93.9 538.7l-5.6 -1.6 -5.9 5.4 1.9 .4 9.6 -2.8zM106.5 562.3l-3.7 -.1 -4.4 4.8 7 1.3 .7 -.2 2.9 -1.7 -1.8 -3.8zM188.1 589.5l-6.2 .2 4.2 5.9 4.7 -2zM162.7 585.9l.3 8.1 2.1 .2 8 -5.6 -5.5 -2.9zM136.8 560.4l-2.7 6.1 9.2 2.1 1.3 -1.7 -6.9 -6.4zM125.4 671l1 1.1 3.2 -.3 .9 -1.4 -4.2 -1.7zM119.3 683.2l.5 .3 3.6 -2.4 -3.9 -.9z"/>
<path fill="#f6ccd2" stroke="#f6ccd2" stroke-width=".35" d="M302.2 45.7l-1.3 .7 1.3 6.7 3.5 .3 3.5 -2.4 -.8 -4.6 -1.3 -.8zM530.4 25.5l-2.7 -2.7 -3.4 -.6 -2.5 6.8 3.3 1.5 3.4 0 2.2 -1.6zM547.1 47.1l-1.5 5 2.8 1.3 4.5 .2 -1.7 -6zM635.3 26.5l-8.8 -1.1 -.5 1 1.3 5.2 3.9 .6 5 -4zM495.4 146l-1.4 -5.3 -7 3.4 6.4 2.2zM637.5 135.1l.6 -.3 -2.1 -7.1 -4.1 .3 .2 7.1zM576 101.6l7.2 -.8 -2.2 -4.5 -5.8 4.8zM576.5 220l-1 .3 1.8 2.4 .7 -.9 -.4 -1.2 .3 -.2zM581.7 231l-1 2.1 3.2 -.3 -.4 -1.9zM62.9 570.5l6.9 -3.3 -2.6 -4.9 -2.4 .4 -4.4 6.2zM162.4 594.2l.7 4.6 2.9 2 2.8 .8 -2.4 -6.7 -1.3 -.7zM617.5 686.2l-2.3 1.3 1.4 1.6 2.5 -1.8 -.1 -.7z"/>
<path fill="#f6d2d2" stroke="#f6d2d2" stroke-width=".35" d="M299.6 60.5l8.7 0 .4 -1.5 -3 -5.6 -3.8 -.3 -4.7 3.2zM386.9 38.2l-3.5 3.7 3.8 2.8 5.5 -.3 -2.6 -4.6zM359.8 66.3l5.6 -.8 -2.4 -5.7 -3.4 -1.2 -2.5 -.1 -1.3 5.1zM305 93.1l5.9 -1 -.1 -.5 -7 -2.3zM436.5 127.9l6.1 -1 -1 -6.9 -5.8 1 -2.4 2.5zM495.6 70.1l3.5 2.2 6.6 -1.2 1.6 -4.4 -1.3 -.3 -10.3 2.4zM633.7 72l-2.8 .2 -.4 .3 3.6 -.1zM626.5 81.3l-1.7 0 -.6 3.3 1.4 -.5 2.1 -1.8 .2 -.3zM576.3 31.1l9.2 -.1 -1.1 -4.2 -3.2 -1 -5.7 4.9zM467.2 120.8l-2.9 .8 -.5 7.3 5.4 .7 4 -5.9 -3.4 -3.1zM471 131l-1.8 -1.4 -5 -.6 -.3 7.3 1.5 .8 5.6 -2.6zM473.9 140.7l-1.5 -5.2 -1.4 -1 -5.6 2.6 0 1.5zM502.9 150.4l7.2 2.8 .9 -3.8 -7.9 .7zM528.8 112.4l7.8 -5.1 -5.8 -2.4 -7.4 2.2 3.5 4.5zM524.1 146.1l.7 -1 2.1 -.6 3.5 -.3 -.6 -3.3 -4.8 -.3 -5.2 1.9 .2 1.1zM547.1 129.3l-1.3 4.5 6 -.3 1.3 -4.5zM629.1 108.7l5.2 -.5 1.6 -5.5 -6.5 -.9 -.9 6.6zM623.8 144.3l2.9 -1.9 -10.4 -5.6 -1.6 .8 -.4 .7zM569.3 127.3l-1 -5.4 -4.8 -.6 -.6 3.3 .1 4.6zM358.2 217.9l-4 -.5 .1 2.6 4.2 .3zM550 221.1l3.1 -.9 -1.1 -2.1 -3.5 1.6 1.4 .8zM557 220.4l-2.7 .2 -.2 1.2 3 -.9zM562.6 215.4l-1.1 -2.1 -1 -1.2 -.7 1.9 1.2 1.2zM553.4 236.3l-.1 -2.5 -.6 -.6 -3 .2 -1.1 1.8zM569.1 236l1.1 -.7 -1.1 -1.1 -2.5 -1.1 -1.9 .8 .7 1.2zM57.7 511.6l-6.2 1.6 6.3 6.5 2.9 -.1 2.8 -1.8 -.4 -5.6zM97.2 487.5l3.2 1.2 1.5 -.2 2.6 -7.4 -9.5 1.6 -1 1.6zM190 511.9l-.8 .7 4.3 6.7 1.7 .6 1.5 -.2 4 -7.2 -1 -.5zM182 527.1l-6 -1 .1 1 6.2 2.4zM167.4 521.8l-5.7 -2.9 .2 3.8 6.4 1.8zM162.4 594.2l-.4 0 0 3.1 1.1 1.5zM130 682.4l1.7 .3 1.7 -2 -.8 -1 -1.8 -.3 -2.3 1.1zM353.4 672.1l.1 -3 -3.1 -.2 -.1 1.2 .5 1.1 1.5 .8z"/>
<path fill="#cccce4" stroke="#cccce4" stroke-width=".35" d="M314.8 51.6l-5.6 -.6 -3.5 2.4 3 5.6 8.8 -3 .5 -3.1zM160.4 505.1l-3.3 -.3 -1.6 .8 -1.4 7.1 6.8 -1.3 3.3 -4.7zM153 513.6l3.7 4.2 3.9 -.1 4.1 -2.1 -3.8 -4.2 -6.8 1.3zM602 670.4l2.6 .3 .6 -.7 -.7 -1.9 -1.3 -.3z"/>
<path fill="#ea3c42" stroke="#ea3c42" stroke-width=".35" d="M320.6 44.1l5.6 -4.6 -4 -3.4 -5.9 4.1 1.7 3.2zM422.7 115.3l-6.7 -2 -2.3 3 3.9 3.6 2.7 .6 .9 -.5zM515.3 34l2.5 -4.9 -2.7 -1.7 -4 -.8 -3.5 3.7 2.9 4.9z"/>
<path fill="#d8d8f0" stroke="#d8d8f0" stroke-width=".35" d="M323.1 59.2l1.5 .6 7.2 -1.8 -1.9 -5.5 -3.9 -.6zM64.5 526.1l-4.2 .9 -2.2 2 1.4 1.9 2.6 1.2 1.6 .2 2.4 -.3zM69.8 582.9l-5.2 -.2 -1.9 4.4 2.5 3.7 7.9 -2.6 .5 -.6 -.2 -1.1z"/>
<path fill="#f08484" stroke="#f08484" stroke-width=".35" d="M324.8 70.4l3.6 -1.2 2.6 -1.1 -4.3 -2.3 -1.4 0zM419.7 58.1l-1 -1.3 -5.4 -.3 -2.6 2.5 7.2 6.2 4 -1.7zM418.4 72.3l1.3 -3 -2.4 -3 -5.6 1.8 -.4 2.1 .7 1.6zM401.3 71.6l-3.8 5.2 3.4 3.6 7.1 -1.5 .7 -1.5 -5.2 -4.8zM377.7 70.9l-4.2 2.5 1.2 1 6.5 1.9 4 -4.3zM370.4 24.1l.3 -1.3 -2.5 1.4zM357.1 58.5l-9.7 -.3 .5 3.3 1.8 3.3 .6 .6 1.1 .2 4.4 -2zM270.7 93.1l.3 -2.2 -4.2 1.7zM285.6 120.3l4.4 -1.6 1.6 -4.1 -4 -2.1 -2.9 1.5zM284.3 121.2l3.7 5.7 .8 .1 8.6 -5.6 -.2 -.7 -7.2 -2 -4.4 1.6zM284.1 141.1l10.8 -2 -.6 -2.8 -.9 -.5 -4.9 -.8 -3.6 1.7zM329.7 108.5l-.8 -.8 -6.5 -.9 -1.6 1 4.1 5.9 3 0 .7 -.5zM421 140l6 -.5 .3 -4 -1.8 -3 -7.1 .9 -1.1 .6zM408.8 127.5l-5.9 5.5 3.7 3.9 5.8 -3.9zM531.7 101.7l-.7 1.2 -.2 2 6.8 2.5 1.5 -1.2 2.1 -3.3 0 -1.6 -3.2 -2.9zM649.2 114.9l2.1 .5 3.9 -1 -2.7 -5.6 -4.5 4.7zM327.7 216.8l-.7 -1.9 -3.2 .3 -.3 2.1 1.6 .4zM353.8 231.3l3.5 -.4 .9 -1.3 -.8 -1.4 -2.1 -.1 -.9 .4 -1.3 2.2zM350.5 236.8l.4 1.3 .8 .4 .9 -.1zM110.6 688.7l-2.8 -.4 0 2.6 1.3 -.7 .1 -1.1zM344.7 669.7l-2 -.7 -2.1 1.3 1.4 1.5 2.9 0zM365.1 663.7l2.6 .5 -2.2 -1.4zM369.4 666.9l-.6 -1.4 -1.1 -1.3 0 2.1zM355.5 668l-.8 -.1 -1.2 1.2 .1 1.1 3.7 -.2zM353.6 670.2l-.1 1.9 1.8 -.1 2.4 -1.8 -.4 -.2zM353.6 672.4l4.5 1.3 .2 -.7 -3 -1 -1.8 .1zM592.1 671.6l-1.5 -.3 2.1 1zM605.4 671.5l-.7 .9 2.4 -.7zM605.5 681.1l-1.5 1.7 3.2 1.8 1.4 -.3 -.9 -2.4zM606.7 687.1l-1.8 1.3 2.7 -1zM620.7 677.2l-3.7 .4 -1 2.1 1.2 .6 1.9 0zM613 682.8l1.2 2.1 1.7 -.4 .8 -1 -.6 -.8 -2.1 -.6zM613.2 680.8l-1.4 .1 -1.2 2.2 2.4 -.3 1 -.7zM610.6 683.1l-.4 2.2 4 -.4 -1.2 -2.1z"/>
<path fill="#f6c6c6" stroke="#f6c6c6" stroke-width=".35" d="M411.3 70.2l.4 -2.1 -5.3 -1.8 -6 4 .9 1.3 2.2 1zM377.4 24.1l-6.5 .3 2 6.6 1.1 .6 3.1 .5 2.7 -1.6 -1.1 -5.7zM266.9 129.8l-4.3 6.1 2.5 .6 6.4 -1 .9 -1.4 -3.3 -4.5zM466.3 41.3l-1.3 1.4 8.2 5.9 4.7 -3.1 .3 -.6 -6.9 -6.5zM489.5 32.3l2.3 -.9 -9.1 -4.3 -2.5 5.2 .5 1.4zM523.9 74.7l-.8 .5 2.6 -.7zM527.7 22.8l2.7 2.7 2.9 -.8 -4.5 -2.5zM536.8 29.3l.6 .9 3.7 1.1 -3.2 -3.1zM543.4 43.8l3.7 3.3 4.1 .5 -3.8 -7.9zM552.6 62l.3 -1.2 -3.8 -.7 -6.9 3 4 3.2zM636.3 59.4l2.6 4.9 4.7 1.6 4.9 -1.4 .5 -.5 -4.4 -5.1 -1.9 -.3zM631.8 44.1l5.2 -4.9 -6.7 -1.3 -3.7 1.2 .7 5.1zM624.8 81.3l1.7 0 2.3 -1.2 .5 -3.6 -2 -2.7 -5.5 1.8 -.2 3.6zM606.5 79.6l-1 -1.1 -3 -.4zM586.7 22.6l3.1 -.8 .8 -1 -3.1 1.2zM483.9 107.3l0 1.3 4 6 2 -.4 4.4 -1.5 -1.6 -4.2 -8.2 -1.5zM523.4 107.1l-3.3 .2 -3.3 6.8 5 1.1 5.1 -3.6zM638 96.8l5.5 1.5 -3.8 -2.7zM615.9 104.7l-3.2 8.3 4.6 -.2 4.6 -6.4zM607.7 122.7l.1 4 1.7 3.4 4.7 -.4 1.2 -1.5 -2.9 -5.8zM601.5 141.9l-1.3 .7 -2.5 3.7 .8 1.2 11.2 .6 -1.3 -5.9 -1.9 -.3zM588 142.5l7.9 3.7 1.8 .1 2.5 -3.7 -8.9 -3.9 -1.6 .9zM589.3 126.6l-6.3 -6.3 -2.9 .5 -2.3 1.1 -.2 4 2.6 2.3 9.2 .1zM358.4 217.8l-.6 -3.1 -3.6 .9 0 1.8zM333.9 230.5l2.9 -.3 .1 -1.6 -3.9 -.8zM549.2 220.4l-2.5 -1.5 -1.3 .6 1.4 .6zM560.1 227.6l0 1.9 1.9 .4 -.9 -1.5zM561.5 232.6l-1.8 1.1 -.5 .9 .9 1.5 1.7 -.7 .9 -1.3 .3 -1.8zM582.2 228.4l-.9 -.9 -.8 -.7 .8 1.7zM577.8 232.7l1.2 .5 1.7 -.1 1 -2.1 -1.6 -1.2 -2.3 -.1 -.5 .5zM570.2 230.5l-2.5 .7 -1.1 1.9 2.5 1.1 1.7 -3.1zM158.9 472l3.5 -1.1 -.1 -1.8 -5 1.9zM156.7 517.8l-3.7 -4.2 -2.5 -.2 -5.7 4.4 9.8 2.8zM87 559.9l1.5 3.5 4.7 1.1 4.4 -4.2 -.2 -.8 -7.5 -3.7 -1.6 .1zM121.3 581.4l1.3 -3.3 .5 -2.2 -8.7 -1.8 -.6 .4zM172.5 568.1l5.3 -4.9 -5 -3.6 -1.5 .1 -2.1 1.7 .6 5.9zM178.8 589.4l-1.1 -1 -4.6 .2 -8 5.6 1.3 .7 9.5 1.4 2.2 -2.9zM170.3 554.6l-4.3 -3.6 -2.8 2.9 2.3 3zM335.2 663.8l-2.6 .1 .3 2.1 2.6 .9 1.5 -.4zM623.2 667.5l.6 1.9 2.2 .4 1.5 -2.3 -2.5 -1.6 -.6 .1zM589.3 684.8l.2 1.4 .7 .9 1.1 .4 1 -.4 -.9 -1.6z"/>
<path fill="#ea7e7e" stroke="#ea7e7e" stroke-width=".35" d="M400.3 70.3l-6.4 -4 -7.4 5.8 3.3 2.5zM385.3 24.6l-3.4 -5.7 -2 .4 -2.5 4.8 1.3 .7zM375.3 44.9l-.1 -.6 -7 -1.2 -7.5 1.5 -1 .5 2.7 4.4 3.8 1.6zM261.3 135.8l-3.4 -1.5 -7.9 2.8 .1 1.4 9.2 2.4zM282.7 121l-6.2 -5.2 -1.9 -.3 -3.9 4.8 7.2 2.8zM280.9 113.7l-4.4 2.1 6.2 5.2 1.6 .2 1.3 -.9 -.9 -6.3zM294.9 139.1l-10.8 2 3.6 5.2 3.1 -.6 5.2 -3.2 0 -2.4zM293.2 92.3l2.2 7.8 2.1 1.1 6.1 -5.6 .2 -1.5 -9 -2.3zM299.3 150l2.6 4.3 6.4 -2.8 .7 -2.1 -.2 -2.4 -1.1 -1.9 -6.5 1.4zM303.6 95.6l8.5 5.7 1.2 -.2 .5 -7.7 -2.9 -1.3 -5.9 1 -1.2 1zM320.1 100.1l4.8 2.1 1.8 -.1 -5.5 -4.8zM371.4 98.3l-4.7 2.8 -.5 1.4 4.7 5 2.4 .2 2.9 -5.1zM500.7 62.8l2.3 -5.3 -7.3 -1.5 -3.3 2.2 1.4 6.8 .5 .3zM531.7 101.7l-5 -5.7 -3.5 2.8 .3 .8 7.5 3.3zM329.4 220.4l.5 .1 -.3 .4 1 1.9 2.3 -.6 .4 -1.5 -3.1 -2.1 -1.2 1.2zM336.7 221l3 -.9 0 -1.1 -2.9 .9zM335.9 236.6l.8 1.5 .5 -1.5 2.4 -.4 -2.9 -.4zM358.2 235l3 0 .3 -2.3 -3.2 -.6 -1.2 1.6zM348.8 227.7l-.3 -1.1 -1.4 1.1zM557.2 230.2l1.2 0 1.7 -.7 0 -1.9 -2.5 -.6 -.5 .5zM213.1 496.6l6.4 2.3 4.1 -4.7 -4.4 -2.9zM108.2 672.7l.4 .7 1.6 -.5zM120 664.5l.4 -1.1 -1.1 .9zM124.7 680.3l1.3 -.3 .2 -2.7 -4.6 1.1zM359.6 670.2l-.6 2.4 2.3 .6 2.2 -1 0 -1.3zM603.4 665.4l-1 1.7 .8 .7 1.3 .3 2.8 -.6zM622 681.6l1.4 -1.7 -.2 -.2 -3.9 .7 1 1.3z"/>
<path fill="#f6f6fc" stroke="#f6f6fc" stroke-width=".35" d="M387.2 44.7l-3.8 -2.8 -7.4 1.4 -.8 1 .1 .6 4.2 4.7 3.7 1.2zM361.2 112.3l-4.1 1.9 7.7 6.4 4.4 -3.7 -3.6 -4.8zM43.2 486.3l-.6 -.3 -5.3 -.1 -2.4 2.2 .5 4.4 4.2 -.5zM38.2 499.3l-3.8 2.1 -1.1 2.1 3.4 2.5 4.5 .3 -.4 -6.8zM43 512.2l-1.8 -5.9 -4.5 -.3 -4 5.7zM206.9 518.1l1.8 -3.5 -1.5 -2 -1.9 -.5 -4.6 .4 -4 7.2 2.3 .6zM154.7 500.2l7.5 -2.1 .7 -3.1 -6.9 .3 -2.1 4.4zM40.3 548.4l-3.5 3.9 6.4 1.1 3.4 -3.4zM52.5 554.6l-2.5 -5 -1.5 -.6 -1.9 1 -3.4 3.4 .3 .5 6.5 2.6zM54.1 549.5l5.2 -3.7 -2.5 -3.1 -3.3 -.1 -5.1 5.8 .1 .6 1.5 .6zM61.8 546.8l-2.5 -1 -5.2 3.7 7.1 4 1.7 -.4 .6 -1zM188.9 583.2l2.6 .5 1.3 -.7 .3 -.9 -4.2 -7.4 -2 -.1 -4.5 5.2zM176.8 580.8l1.2 6.2 10.9 -3.8 -6.5 -3.4zM331.5 680.3l-.8 .9 -.8 1.7 2.4 -.6 .8 -1 .1 -.9z"/>
<path fill="#d2d2ea" stroke="#d2d2ea" stroke-width=".35" d="M375.6 52.2l3.9 -2.6 -4.2 -4.7 -9.1 6.2 .3 .4zM436.8 134l-9.5 1.5 -.3 4 1.6 .9 7.3 -2zM105 217.4l2.3 -2.3 -.4 -.7 -.8 -.2 -2.8 1zM94.3 229.1l.1 -.6 -.7 -.5 -1.4 2.1 -.6 1.9zM101.5 232.8l-4.3 -.4 -.1 2.2 2.5 .2zM95 482.7l-.7 -2.4 -6.9 -1.5 1.5 6.1 5.1 -.6zM211.6 486l2.5 1.5 3.8 -.2 0 -8.3 -4.9 -.3 -3.2 2.5zM209.8 481.2l3.2 -2.5 -4.9 -5.2 -.9 -.2 -3.7 2.1 4.5 5.8zM199.5 481l-6.1 1 -.9 .5 0 3.3 2.5 2.4 1.6 .7 4.6 -4 -.6 -3.1zM153.6 493.2l2.4 2.1 6.9 -.3 1.5 -1.1 -5.7 -5.4zM138.7 512.8l1.6 -1.1 -1.2 -6 -6.3 0 .5 3.8 1.8 3.2 .4 .4zM94.3 588.6l-1.1 .1 .8 5 0 -.7 .9 -1.1 4.6 -.9zM111.5 666.8l-.8 .1 -2.6 2.8 .7 .9 1.8 -.3 1.3 -1.1z"/>
<path fill="#f0eaf6" stroke="#f0eaf6" stroke-width=".35" d="M366.6 52.9l5.9 5.5 .9 -.3 2.2 -5.9 -9.1 -.7zM35.4 492.5l-.5 -4.4 -3 -.6 -2.1 6.2 4 -.2zM63.8 468.8l-5 .8 -3.6 4.8 3.2 2.6 4.9 -1.7 1.4 -3.1zM199.2 541.2l-1.6 1.8 2.7 4.2 1.8 .1 3.9 -1.3 .7 -4.1 -4.5 -2zM151.1 575.8l1.7 -1.8 -.2 -.5 -9.1 -4.6 -4.2 5.6 2 2.1z"/>
<path fill="#ea545a" stroke="#ea545a" stroke-width=".35" d="M362.6 39l-1.9 5.6 7.5 -1.5 -1.8 -6zM356.1 128.7l-2.3 5.6 3.8 2 2.8 -.4 4.1 -3.7 -6.5 -3.8zM475.9 105.8l-4.7 -4.5 -2.4 .6 -2 2.4 4.4 7.3zM592.5 99.3l-.7 -.4 -6.2 3.2 -.3 4.7 5.2 1.2 4.4 -.5zM353.1 225.1l-4.4 1.4 .1 1.2 1.5 .6 1 -.5zM151 577.8l.1 -2 -9.8 .8 -.1 4 5 .5z"/>
<path fill="#f6f6f6" stroke="#f6f6f6" stroke-width=".35" d="M366.6 52.9l-7 5.7 3.4 1.2 9.3 -1.2 .2 -.2zM320.8 107.8l-2.3 -.3 -3.9 2 -.1 4.3 4.1 1.2 5.2 -.7 1.1 -.6zM652.6 36.7l-.5 5.7 4.3 1.8 -1.3 -4.3 -1.9 -3.4zM581.9 71l1.2 -3.2 -5.8 -.7 -1.6 .4 .7 3 3.5 1zM325.7 230.4l-1.6 .1 -.5 3.3 2.4 -.6 .4 -2.3zM561 215.2l-1.4 2.1 .7 .9 2.7 -.4 -.4 -2.4zM49.4 473.9l.8 -.3 .4 -1.9 -4.1 1.5zM48.3 486.7l3.1 -5.2 -3.9 -2.6 -4.2 .3 -2 1.1 1.3 5.7zM43.3 493.4l.9 5.3 8.2 -3.1 -2.8 -4.5zM102 475.2l-.1 .5 4.3 3.3 1.5 -2.2 -3.6 -2.7zM115.9 486.1l-1.5 .7 .4 6.3 5.6 1.1 -2.6 -5.2zM204.8 501l2.6 -.2 5.8 -3.9 -4.5 -5 -4.6 0 -2.8 .9zM167.5 507.9l.1 7.5 1.2 .3 7.5 -5.4 -.2 -2.1zM164.6 506.7l5.3 -6 -6.6 -1.2 -2.9 5.6zM153.6 493.2l5.1 -4.7 0 -.6 -7.1 -1.5 -4.8 2.8 .7 3.6zM134.8 496l-1.2 3.8 7.8 1.5 -1.5 -6zM56.9 581.3l-2.9 6.3 8.7 -.5 1.9 -4.4 -2 -1zM98.4 567l-2.9 .2 -1.1 2.6 1.4 4.8 3 .8 1.5 -.2 5.1 -6.9zM191.5 583.7l-2.6 -.5 -10.9 3.8 -.3 1.4 1.1 1 9.3 .1 2.6 -2.9zM132.4 683.4l.1 1.4 .6 .4 3 -.6 -.5 -1.9zM367 685.6l2.8 -.1 -1.1 -3.8 -1.4 .3z"/>
<path fill="#e4e4f0" stroke="#e4e4f0" stroke-width=".35" d="M249.4 117.7l.1 -.4 -4.1 -2.1 -1.6 5.3zM327.8 235.7l.2 -.4 -1 -1.4 -1 -.7 -2.4 .6 1.3 1.4zM361.9 230l0 2.4 2 .1 -.9 -2.8zM34.4 483.4l-1.2 1.8 -1.3 2.3 3 .6 2.4 -2.2zM76.1 512.2l-3.5 3.6 -.2 2.2 1.1 1.4 .8 .2 4.6 -.7 1.8 -5 -2.2 -1.7zM106.2 479l.1 .2 3.5 -.5 -2.1 -1.9zM217.9 479l0 8.3 5.7 -.7 -2.9 -4.5zM221.1 512.7l-6.5 3.7 .7 1.3 3.8 -2 3.4 -2.5zM207 485.9l4.6 .1 -1.8 -4.8 -4.6 .5zM196.7 519.7l-1.5 .2 -3.9 6.4 1 1.6 4.7 .4 1.4 -.6 .5 -3.5 -.5 -1.1 -1.7 -1.9 0 -.6 1.5 -.3zM167.4 521.8l.9 2.7 1.5 .5 3.5 -.7 3.7 -3.4 -3.6 -3.3 -3.7 -1zM168.5 485.9l-.5 -.2 -7.7 .9 -1.6 1.3 0 .6 5.7 5.4 6.7 -.4 .3 -.2zM84.2 580.5l7.6 1.7 .4 -.6 -1.1 -5.3 -5.3 1.3zM191.3 573.9l6.5 -.8 .9 -3.6 -3.3 -2.6 -5.4 -.6 -.3 .2zM169.3 544l.2 -.8 -2.6 -5.9 -5.8 1.8 -2.7 2.3 1 1zM341.3 664.3l-1.9 .9 -.6 1.2 .4 .4 3 .6 1.5 -2.4zM332.3 682.3l-2.4 .6 -.5 2 2.3 .3 1.2 -.5zM608.3 667.5l-3.8 .6 .7 1.9 3.4 -1.2zM593.3 681.9l-.7 -1.8 -1.5 .3 -1.6 3.2zM593.9 682.4l-.6 -.5 -3.8 1.7 -.2 1.2 2.1 .7 .4 -.2z"/>
<path fill="#d8d8ea" stroke="#d8d8ea" stroke-width=".35" d="M248.6 126l3.3 -5.4 -2.5 -2.9 -5.6 2.8 -.9 4.9 0 .3zM176 526.1l-2.7 -1.8 -3.5 .7 6.3 2.1zM59.1 575.3l-2.3 6 5.8 .4 2.8 -7.6zM72.3 560.8l3.7 .1 4.2 -6.6 -1.9 -1.2 -5 1 -2.2 1.5zM626 681.7l-.7 1.1 1.4 1.5 2.8 -.3 -.9 -2.4z"/>
<path fill="#dedef0" stroke="#dedef0" stroke-width=".35" d="M242.9 125.7l.2 5.1 .8 2.2 1.3 1.9 6.4 -6.9 -3 -2zM251.6 128l4.1 .7 4.6 -5.6 -4 -2 -4.4 -.5 -3.3 5.4zM432.5 114.1l3.1 -1.6 -.1 -2.6 -3.5 -4.7 -3.7 .2 -2.6 2.4 1.2 5.4zM32.7 511.7l4 -5.7 -3.4 -2.5 -4.9 1.3 2.2 5 1.2 1.7zM47.8 513.8l-2.1 -.2 -5.4 3.9 3.9 1.4 3.4 .7zM107.3 512.2l-4.1 -1.3 -6.9 3.9 7.6 5 1.9 -.4zM204.5 486.4l-.4 5.5 4.6 0 5.4 -4.4 -2.5 -1.5 -4.6 -.1zM166.8 480.2l.6 -.5 2.1 -5.2 -2.2 -1 -9 4.9 .4 1.6zM168 485.7l-1.2 -5.5 -8.1 -.2 1.6 6.6zM65.2 590.8l-2.5 -3.7 -8.7 .5 -.1 .4 2.3 2.5 7.3 2.4zM218 551.8l.4 -.5 -1.5 -1.7 -4.7 -4.1zM186.9 574.6l2 .1 2.4 -.8 -1.6 -7.4 -4.9 1.9 -1.8 2.8 .4 1zM172.5 568.2l-2.7 -.9 -4.9 -.5 -3.3 1.3 2.9 8.2 1.4 -.2zM154.6 590.9l-4.5 -4.1 -4.8 1.3 1.2 1.3 1 .3zM142.5 552.8l-.8 -.3 -4.5 7.1 6.9 -4.8zM139.3 574.5l-6.5 0 .6 3.6 2.2 4.6 3.3 -.3 2.3 -1.8 .1 -4zM132.4 683.4l3.2 -.7 -1.1 -1.9 -1.1 -.1 -1.7 2zM346.4 669l-.3 -1.8 -3.3 .6 -.1 1.2 2 .7z"/>
<path fill="#ea6c72" stroke="#ea6c72" stroke-width=".35" d="M250.1 138.5l-.1 -1.4 -5 -2.2 2.6 2.6zM507.5 47.9l-2.9 5 -.1 2.7 9 -3zM361.3 688.3l-1.7 -1.2 -3.5 .9 2.3 2.7 1.5 -.5zM617.4 666l.1 -.6 -3 -.9 -.7 2.9z"/>
<path fill="#ea4848" stroke="#ea4848" stroke-width=".35" d="M265.8 109.3l-7.1 -.6 .4 5.9 3.8 .6 4 -2zM613.6 22.5l.1 -3.8 -12.2 -.3 6.3 5.4zM501.4 105.7l7.2 2 .1 -8.4 -3.3 .5 -2.5 2.1zM516.9 92.2l.3 6.5 6 .1 3.5 -2.8 .8 -1.9 -5.8 -2.8zM523.5 99.6l-.3 -.8 -6 -.1 -2.4 1.4 3 6.3 2.3 .9 2.8 -.3zM596 107.6l5.5 -5.9 -9 -2.4 2.4 8.2zM336.2 683.9l-3.1 -2.6 -.8 1 .6 2.4 3.3 -.1zM614.5 664.5l-1 -.3 -1.4 .7 -.7 1 2 1.9 .4 -.4z"/>
<path fill="#ea5454" stroke="#ea5454" stroke-width=".35" d="M270.7 120.3l3.9 -4.8 -1.7 -1.5 -6 -.8 -4 2 2.1 6.9 1 .1zM416.9 108.1l-.9 -.2 -1.9 1.3 1.9 4.1 6.7 2 2 -1.4zM381 100.6l2.7 1.8 7.1 -.5 -2.9 -5.8 -7 3.9zM603.4 66.1l4.3 -6.3 -5.5 -.4 -4.5 2.4 1.1 2.3zM620.1 93.4l6.4 .3 1.5 -3.4 -5.5 -1.5zM615.4 93.2l-1.8 -5.6 -4.9 -.1 -4.8 .5 1 4.6 3 1.4 5.6 -.2zM604.9 92.6l-3.3 .4 -3.5 2.4 5.4 3.9 4.4 -5.3z"/>
<path fill="#ea484e" stroke="#ea484e" stroke-width=".35" d="M310.4 141.2l11.7 -1.9 .1 -4.1 -5.4 0zM408.3 116.3l5.4 0 2.3 -3 -1.9 -4.1 -6.6 .8 -2.2 3.8zM589.8 21.8l5.5 4.1 1 0 4.8 -7.5 -6.8 1.2 -3.7 1.2zM495.1 88.6l-8.4 2.2 .6 3.3 5.9 .7zM494 100.6l8.9 1.3 2.5 -2.1 -8.9 -3 -.4 0zM494 100.6l-1.4 1.3 4 3.5 2.4 .8 2.4 -.5 1.5 -3.8zM92.1 546l.2 .6 3.6 1.8 6.3 -2 -.9 -3 -7.2 -2.7z"/>
<path fill="#ea6060" stroke="#ea6060" stroke-width=".35" d="M325.5 133.9l-2 .2 -1.3 1.1 -.1 4.1 .6 .8 8.1 0 1.5 -1.1zM327.6 133l-2.1 .9 6.8 5.1 2.6 -2.6 2.1 -3.7zM601.7 52.6l-2.1 .5 2.6 6.3 5.5 .4 3.7 -1.1zM649.3 105.5l-5.3 2.1 -1.1 1.2 1.4 2.5 3.7 2.2 4.5 -4.7 -1.9 -2.9zM603.5 99.3l-5.4 -3.9 -6.1 .2 -.2 3.3 .7 .4 9 2.4 1.9 -1.4zM552.7 227.4l-.1 -2.3 -3.1 .6 -1.6 1.7 .4 .3 1.7 .2zM581.3 228.5l-1.2 1.3 1.6 1.2 1.8 -.1 -1.3 -2.5zM173.3 524.3l2.7 1.8 6 1 2.6 -2.7 -2 -4.1 -5.6 .6zM166 551l.9 -2.8 -7.2 -.4 -5.3 1.9 1.1 3.7 7.7 .5zM141.2 580.6l-2.3 1.8 5.5 5.8 5.2 -1.5 -1.3 -3.7 -2.1 -1.9zM619.8 690l2.2 -.9 1.7 -.6 -.2 -.3 -3.6 -.3z"/>
<path fill="#f6e4e4" stroke="#f6e4e4" stroke-width=".35" d="M437.2 133.6l3.8 .4 1.4 -3.2 .2 -3.9 -6.1 1 -1 1.8zM533.8 43l-5.4 3.1 1.9 3.4 7.2 2 4.1 -7.3zM599.5 53.1l-1.8 -7.2 -6.1 -1.1 .4 7.1 2.3 1.8zM493.9 128.8l2.4 5.5 4.6 -1.2 -.2 -4.2 -5.2 -1.1zM635.9 102.7l1.2 -1 -.2 -4.7 -3.9 -1.6 -2.4 .1 -3 4.8 1.8 1.5zM628.5 108.4l.9 -6.6 -1.8 -1.5 -3.2 .8 -2.1 5.3zM622.4 146.4l4.3 -1.5 3.5 -1.1 -2.7 -1.6 -.8 .2 -2.9 1.9 -1.9 1.8zM574.3 235.9l-3.7 0 1.4 2.7 2.8 -1zM189.7 508.6l.3 3.3 9.7 .1 -2 -4.4 -3.7 -1.3zM46.6 550l1.9 -1 -.1 -.6 -4.3 -3.3 -3.8 3.3zM181.9 589.7l-3.1 -.3 -.7 4 7.9 2.2zM163.9 562.1l-2.5 -2 -4.2 -.1 -2 2.2 .8 4.1 1.5 1.5 4.1 .3 3.3 -1.3zM125.4 666.3l-4.2 -1.5 -.9 0 -.6 1.8 .6 .8 2 .8 3.2 -.5zM602.1 664.6l-3 .2 .6 2.5 2.7 -.2 1 -1.7z"/>
<path fill="#f6f0f6" stroke="#f6f0f6" stroke-width=".35" d="M437.2 133.6l-.4 .4 -.9 4.4 2 -.9 1.5 -1.1 1.6 -2.4zM353.5 215.1l-.8 -.6 -4.1 -.3 -.5 .9 .3 1.3zM50.2 473.6l5 .8 3.6 -4.8 -8.2 2.1zM214.6 516.4l-5.9 -1.8 -1.8 3.5 1 1.5 3.9 -.7 3.5 -1.2zM197.6 529.5l.5 -.8 .3 -1 -1.4 .6zM147.1 478.2l9.8 2 1.5 -.4 -.1 -1.4 -2.6 -3.7 -4.1 -.4zM140.7 494.9l5.5 -.7 1.3 -1.4 -.7 -3.6 -7 -2.8 -2 3.4zM72.1 596.3l2.6 -3.3 -1.6 -4.8 -7.9 2.6 -1.7 2.1 7.4 3.1zM106.8 547.4l1.3 3 5.3 1 -5.3 -5.1zM158.4 541.4l2.7 -2.3 -5.3 2.2zM150.1 586.8l4.2 3.6 7.3 -5.2 -2.1 -2.1 -1.1 0zM126.3 668.7l4 1.4 1.2 -2.7 -.5 -.6 -5.1 1.2zM358.6 666.4l-3.7 -1 -.8 1.7 .6 .8 .8 .1 3.3 -.8zM617.6 666.8l1.9 1.3 1.5 -1.1 -.7 -2.7 -2.8 1.1z"/>
<path fill="#ea4242" stroke="#ea4242" stroke-width=".35" d="M417.5 119.9l-3.8 -3.6 -5.4 0 -.2 4.4zM601.6 93l3.3 -.4 -1 -4.6 -7.6 1.5zM594.6 679.5l-2 .6 .7 1.8 1.6 .8 2.3 -2.1z"/>
<path fill="#ea5a5a" stroke="#ea5a5a" stroke-width=".35" d="M366.5 139.7l-6.1 -3.8 -2.8 .4 -.9 4.8 2.6 1zM571 52.6l5.2 5.3 6.1 -6.5 -.3 -.5 -4.7 -2.1 -4.6 2.1zM503.5 87.5l-2.1 .2 1.2 4.9 5.5 2.6 5.8 -3.6zM613.5 93.8l-5.6 .2 -4.4 5.3 -.1 1 7.8 .8zM329.8 227.4l-2.7 .7 -1.4 2.3 3 1.1 2.1 -1.2 -.5 -2.7zM340.8 233.9l-4.1 .1 0 1.8 3.2 .4zM573.9 215.1l0 1.9 4.2 .7 -1.4 -2.9 -2.2 -.2zM544.5 229.7l-.9 3.1 .9 .1 2.6 -.6 1.2 -1.8 -.8 -.9zM572.7 229.6l2.5 -2.5 -.8 -.5 -3.5 1.5 -.5 2.3zM602.4 685.9l-.8 2.1 3.3 .4 1.8 -1.3 -.4 -1.7z"/>
<path fill="#ea363c" stroke="#ea363c" stroke-width=".35" d="M494.3 24.8l1.4 2 4.3 .1 5.5 -3.3 -3.4 -4.9 -2.8 .3 -1.3 .2zM509.8 24.8l1.3 1.8 4 .8 2.2 -2.5 -2.8 -6zM521.5 36.7l-6.2 -2.7 -4.9 1.4 1.6 2.8 4.9 2.1 5.1 -1.3 .4 -.8zM626.5 25.3l-5.5 -3.3 -5.3 1.2 2 5.4 8.3 -2.2zM517.8 106.4l-3 -6.3 -6.1 -.8 -.1 8.4zM553.8 214.5l-1.8 -2.4 -1.1 -.1 -.1 3.1zM54.5 567.5l.6 -6 -2.6 -.5 -5.9 4.9 2.8 2.1zM62.9 553.1l-1.7 .4 -2.2 1.4 -1.4 5.9 7.2 1.9 2.4 -.4 -3.6 -8.7z"/>
<path fill="#ea3036" stroke="#ea3036" stroke-width=".35" d="M504.3 30.2l-4.3 -3.3 -4.3 -.1 -2.6 4.6 .9 1 6.7 .8zM504.2 37.2l-3.5 -4 -6.7 -.8 -.4 6.2 8.5 1.1zM510.5 35.2l-2.9 -4.9 -3.3 -.1 -3.6 3 3.5 4zM516.5 52l-1.8 -6.7 -1 -.4 -5 .1 -1.3 .4 .1 2.5 6 4.7 .7 .2zM606.4 49.2l7.1 6.4 3.1 -5.4 -2.4 -3.9 -6.8 1zM605.3 34.9l2.4 -3 -7.9 -2.1 -4 4 3.5 2.7zM505.4 99.8l3.1 -.6 -.4 -4 -5.5 -2.6 -6.1 4.2zM556 212.6l1.4 -1.3 -1.8 -1.7 -.9 0 -2.8 2.4zM55.1 561.5l2.5 -.7 1.4 -5.9 -6.5 -.3 -2.5 1.9 -.1 3 2.6 1.5zM199.4 556.3l-2 -1 -6 .7 .9 5.2 5.4 .7z"/>
<path fill="#ea3030" stroke="#ea3030" stroke-width=".35" d="M493.6 38.6l-1 .5 2.3 6.5 1.8 1 7.6 -2.5 -2.2 -4.4zM504.6 52.9l2.3 -4.4 -7.3 2.1zM521.8 29l2.5 -6.8 -.6 -.4 -6.4 3.1 -2.2 2.5 2.7 1.7zM616.1 36.4l1.2 -3.5 -.8 -.7 -7.7 -.9 -1.1 .6 -2.4 3 4.3 4.1 2.8 .3zM553.8 214.5l2.1 -.5 .1 -1.4 -4 -.5zM276.5 519.6l6.1 5.1 6.7 -5.3 -1.1 -1.4 -8.9 -.2zM324.3 494.5l-5 -5.6 -1.6 -.4 -1.5 .2 -2.6 5.8zM328 486.3l-8.7 2.6 5 5.6 3.7 -.1 2.6 -1.3 -.4 -6.3zM433.7 487.3l1.3 4 4.4 2.9 2.6 -.3 -1.6 -5.5 -1 -1.8zM439.4 494.2l-4.1 4.7 1.5 2.1 6.4 1 -1.2 -8.1zM428.9 496.6l6.4 2.3 4.1 -4.7 -4.4 -2.9zM389.1 524.3l2.7 1.8 6 1 2.6 -2.7 -2 -4.1 -5.6 .6zM270.9 561.5l2.5 -.7 1.4 -5.9 -6.5 -.3 -2.5 1.9 -.1 3 2.6 1.5zM270.3 567.5l.6 -6 -2.6 -.5 -5.9 4.9 2.8 2.1zM262.1 572.7l1.2 1.9 2.9 .6 4 -1.5 2.5 -4.8 -2.4 -1.4 -5.1 .5zM270.3 567.5l2.4 1.4 3.5 0 4.4 -6.2 -7.2 -1.9 -2.5 .7zM309.7 538.7l-5.6 -1.6 -5.9 5.4 1.9 .4 9.6 -2.8zM300.1 542.9l7.8 3.1 2 -5.3 -.2 -.6zM302.9 548.9l-1 5.8 2.2 1.2 1.6 -.1 4.7 -2.8 1.4 -3.5 -.1 -1.1 -3.6 -1.8zM317 584l8.4 -2.2 -1 -5 -8.3 -1.6 -1.5 .2 .3 6zM317 584l-.8 1.2 7.5 4.7 2.6 -.8 .6 -6.5 -1.5 -.8zM316.2 585.2l-6.1 3.4 5.2 2.4 8.4 -1.1zM326.3 589.1l2.9 -.9 3.1 -1.7 -1 -3.8 -4.4 -.1zM331.3 582.7l1 3.8 2.3 -1.8 2.2 -2.9zM426 554.9l1.8 0 -1.1 -8.9 -4.9 0 -3.9 1.3zM430.1 559.9l-.5 -4.7 -3.6 -.3 -4.8 1.8 .3 6.5zM422.7 566.8l6.8 .1 1.9 -4.9 -1.3 -2.1 -8.6 3.3 -.2 .5zM431 567.7l-1.5 -.8 -6.7 -.1 1 6.5 5.8 1.1zM421.2 556.7l4.8 -1.8 -8.1 -7.6 -1.8 -.1 -2 1.6 -.9 6.5 2 1zM413.7 562.2l7.6 1.5 -.1 -7 -6 -.4 -1.7 5.6zM411.2 566.9l3.3 2.6 8.2 -2.7 -1.4 -3.1 -7.6 -1.5zM416.3 575.6l1.4 .4 6.1 -2.7 -1 -6.5 -8.3 2.7 -.9 3.6zM385.8 546.8l-.7 -2.8 -9.9 -1.6 .3 5.4 7.2 .4zM366.6 546.4l2.7 2.9 .9 .4 5.3 -1.9 -.3 -5.4 -1 -1 -2.6 -.1 -1.8 .9zM381.8 551l.9 -2.8 -7.2 -.4 -5.3 1.9 1.1 3.7 7.7 .5zM381.3 556.9l-2.3 -3 -7.7 -.5 -1.2 2.2 2.9 4.4 4.2 .1zM369.2 580.6l5 2.5 1.1 0 2.7 -4 .8 -2.1 -10.2 -3 -1.7 1.8 -.1 2zM364.1 583l5.1 -2.4 -2.4 -2.8 -4.8 3.3zM365.4 586.7l.5 .1 8.3 -3.7 -5 -2.5 -5.1 2.4zM366.9 575.8l1.7 -1.8 -.2 -.5 -9.1 -4.6 -4.2 5.6 2 2.1zM366.8 577.8l.1 -2 -9.8 .8 -.1 4 5 .5zM357 580.6l-2.3 1.8 5.5 5.8 5.2 -1.5 -1.3 -3.7 -2.1 -1.9zM352.6 560.4l-2.7 6.1 9.2 2.1 1.3 -1.7 -6.9 -6.4zM355.1 574.5l-6.5 0 .6 3.6 2.2 4.6 3.3 -.3 2.3 -1.8 .1 -4z"/>
<path fill="#ea242a" stroke="#ea242a" stroke-width=".35" d="M495.7 50.4l3.9 .2 7.3 -2.1 .6 -.6 -.1 -2.5 -3.1 -1.3 -7.6 2.5zM504.2 37.2l-2.1 2.5 2.2 4.4 3.1 1.3 1.3 -.4 3.3 -6.8 -1.6 -2.8zM613.6 22.5l2.1 .7 5.3 -1.2 1.5 -2.2 -8.8 -1.1zM615.8 45l2.3 -.5 2.1 -4.9 -4.1 -3.2 -3.7 2.9z"/>
<path fill="#ea2a30" stroke="#ea2a30" stroke-width=".35" d="M505.5 23.6l4.3 1.2 5 -6.4 -12.7 .3zM512 38.2l-3.3 6.8 5 -.1 3.2 -4.6zM607.7 31.9l1.1 -.6 -1.8 -6.2 -7.7 1.8 .5 2.9zM609.6 39l-4.3 -4.1 -6 1.6 -.5 2.2 5.4 4.3zM554.7 209.6l-2.7 .1 -2.6 .4 1 1.8 1.5 .1zM550.6 217l1.3 .5 2.4 -.9 -.3 -2.1 -3.2 .6zM574.5 214.6l2.2 .2 1.5 -.7 -.3 -2.2 -4.3 .3 -.2 .4zM575.6 209.7l-3.4 -.1 -1.6 .3 2.8 1.6zM108.5 494.5l-5 -5.6 -1.6 -.4 -1.5 .2 -2.6 5.8zM214.3 559.9l-.5 -4.7 -3.6 -.3 -4.8 1.8 .3 6.5zM197.9 562.2l7.6 1.5 -.1 -7 -6 -.4 -1.7 5.6z"/>
<path fill="#ea2a2a" stroke="#ea2a2a" stroke-width=".35" d="M507.6 30.3l3.5 -3.7 -1.3 -1.8 -4.3 -1.2 -5.5 3.3 4.3 3.3z"/>
<path fill="#ea5a60" stroke="#ea5a60" stroke-width=".35" d="M513.5 52.6l-9 3 -1.3 1.9 3.2 1.2 8.1 -.3 -.3 -5.6zM552.7 227.4l.5 .4 3.9 -.3 .5 -.5 -1.2 -1.5 -3.8 -.4z"/>
<path fill="#f6dee4" stroke="#f6dee4" stroke-width=".35" d="M643.8 33.3l-3 -3.9 -4.6 -1.2 -5 4 8.6 4.4zM585.5 31l3.4 .7 6.4 -5.8 -5.5 -4.1 -3.1 .8 -2.3 4.2zM55 496.3l-2.6 -.7 -7.7 3.2 4.2 3.9 5.8 -3.1zM74.1 528.9l-7.2 -4.2 -2.4 1.4 1.6 5.9 7.6 -2.5zM50 556.5l-6.5 -2.6 -2.9 6.5 .2 .6 9.1 -1.5zM171.3 559.7l-5.8 -2.6 -4.1 3 2.5 2 5.3 -.7z"/>
<path fill="#f6d2d8" stroke="#f6d2d8" stroke-width=".35" d="M630.9 72.2l2.8 -.3 2.7 -6.1 -8 -.5 -1.8 .9zM513.9 91.5l3 .7 4.8 -.9 .1 -1.2 -8.1 -1.9zM554.3 216.6l1.6 .4 1.3 -.4 .4 -2 -1.7 -.6 -1.9 .5zM200.5 575.6l1.4 .4 6.1 -2.7 -1 -6.5 -8.3 2.7 -.9 3.6zM196.8 591.5l2.8 -.9 4.2 -1.2 -3 -.3 -3.1 1.2zM191.4 556l-4.3 -.9 -2.7 .9 -1.3 4.7 5.7 2.6 3.5 -2.1z"/>
<path fill="#ea4e54" stroke="#ea4e54" stroke-width=".35" d="M619.5 50.9l3.3 3 3.9 -2.5 1.1 -1.4 -1.7 -2.5zM643.7 118.8l2.7 3.9 4.3 1.2 2.5 -4.3 -1.9 -4.2 -2.1 -.5zM603.5 665.4l3.8 2.1 1 0 -2.1 -3.2z"/>
<path fill="#ea1e24" stroke="#ea1e24" stroke-width=".35" d="M620.2 39.6l5.6 -.9 -2.9 -5.3 -5.6 -.5 -1.2 3.5zM609.6 39l-5.4 4 .3 1.9 2.9 2.4 6.8 -1 1.6 -1.3 -3.4 -5.7zM611.4 58.7l2.5 -.3 -.4 -2.8 -7.1 -6.4 -4.7 3.4zM577.9 211.9l.7 -1.7 -3 -.5 -2.2 1.8 .2 .7zM52.5 561l-2.6 -1.5 -9.1 1.5 -.3 .7 2 3.1 4.1 1.1zM195.4 566.9l3.3 2.6 8.2 -2.7 -1.4 -3.1 -7.6 -1.5zM192.3 561.2l-3.5 2.1 1.2 3 5.4 .6 2.5 -4.7 -.2 -.3z"/>
<path fill="#ea3636" stroke="#ea3636" stroke-width=".35" d="M614.2 46.3l2.4 3.9 2.9 .7 6.6 -3.4 -.4 -2.1 -7.6 -.9 -2.3 .5zM608.8 31.3l7.7 .9 1.2 -3.6 -2 -5.4 -2.1 -.7 -5.8 1.3 -.8 1.3z"/>
<path fill="#ea3c3c" stroke="#ea3c3c" stroke-width=".35" d="M596.3 25.9l3 1 7.7 -1.8 .8 -1.3 -6.3 -5.4 -.4 0zM590.1 32.5l5.7 1.3 4 -4 -.5 -2.9 -3 -1 -1 0 -6.4 5.8zM493.2 94.8l-5.9 -.7 -2.1 1.5 2.7 6.2 .5 .5 4.2 -.4 1.4 -1.3 2.1 -3.8zM603.4 100.3l-1.4 1.3 5.3 5.4 6.5 -3.3 -2.6 -2.6zM54.5 567.5l2.4 1.4 3.5 0 4.4 -6.2 -7.2 -1.9 -2.5 .7z"/>
<path fill="#ea666c" stroke="#ea666c" stroke-width=".35" d="M463.7 114.7l8 -1.7 -.5 -1.3 -8 -2.1 -2.3 4.8zM613.8 103.7l.9 .1 5 -5 -1.4 -5 -2.9 -.6 -1.9 .6 -2.3 7.3zM123.4 681.1l1.3 -.8 -3.1 -1.9 -2.3 1.6z"/>
<path fill="#ea4e4e" stroke="#ea4e4e" stroke-width=".35" d="M464.3 121.6l2.9 -.8 -3.5 -6.1 -2.8 -.3 -1.8 6zM513.9 91.5l-5.8 3.7 .4 4 6.3 .9 2.4 -1.4 -.3 -6.5zM573.6 220.3l-.1 -2.8 -2.4 -.3 -1.5 .6zM346.4 688.2l1.3 -.6 -2.8 -2.7 -1.9 1.4 .1 1.2z"/>
<path fill="#f6c0c6" stroke="#f6c0c6" stroke-width=".35" d="M473.9 140.7l3.2 -.4 3.5 -1.9 -2.4 -2.9 -5.8 0z"/>
<path fill="#ea4248" stroke="#ea4248" stroke-width=".35" d="M622.3 106.4l2.1 -5.3 -4.7 -2.3 -5 5 1.2 .9zM333.5 680.2l-.4 1.1 3.1 2.6 1.3 -2 -3 -1.5z"/>
<path fill="#aeb4de" stroke="#aeb4de" stroke-width=".35" d="M95.1 216.9l-.4 -1.1 -2.9 -.6 -.2 2.1 .7 1.3zM107.8 228.8l-1.7 1.4 .2 .6 4.6 1.2 -1.7 -3.5zM116.9 228l-1.4 .8 .2 1.6 3.2 .5 1.4 -.8 -1.6 -1.6zM45 582.6l8.8 -2.4 -3.4 -5 -2.9 -.6 -4.1 3.1 -.8 2.1zM145.3 588.1l-1.5 .5 2.7 .8z"/>
<path fill="#ccd2ea" stroke="#ccd2ea" stroke-width=".35" d="M100.5 220.7l-.9 .1 -1.2 2 3.7 -1zM34.4 501.4l3.8 -2.1 -4.4 -5.8 -4 .2 -.8 4.8zM104.6 500.9l0 -.9 -7.4 -5.1 -2.5 .6 -2.2 3.2 3.5 2.7 6.6 .2zM213.8 555.2l3.9 -2 .3 -1.4 -5.8 -6.3 -1.3 .5 1.1 8.9z"/>
<path fill="#c0c6e4" stroke="#c0c6e4" stroke-width=".35" d="M94.3 229.1l-2.7 3.4 1.1 .2 2.3 -.6 0 -1.9z"/>
<path fill="#fcf0ba" stroke="#fcf0ba" stroke-width=".35" d="M142.6 214.7l1 -2.6 -2.1 -.5 -1 1 -1 1.9zM179.4 216.6l-.6 -2.7 -1.2 -1.6 -1 .7 .1 .6zM170.4 211.2l1.5 .4 2.1 -1.4 -4.1 -.6zM171.4 219.3l2.5 -.2 -.1 -2.2 -4.3 .4zM165.2 227.7l-1.6 .5 .2 2.3 2.2 .6 .8 -.5zM376.5 220.3l4.2 -.3 .1 -2.6 -4 .5zM398.6 218.1l-.3 .4 0 1.8 .8 .8 2.9 .1 1.2 -3.1 -1.4 -.6zM593.2 212.6l1.8 -1.9 -1.5 .8 -1.1 1.2zM593.9 217.4l-2.6 .4 1 1.4 2 .9zM628.6 211.4l-1.9 .8 .8 1.9 3.4 .1 -.9 -1.6zM627.1 211.9l1.6 -.6 -3.3 -1.2zM627.6 220.1l-1.2 -.4 -3.9 1 3.1 .8 -.5 -1zM619.9 218.1l1.8 .2 .6 -.6 -.8 -2.6 -3 0 -.7 1.5zM604.8 235.3l1.1 -1.1 -1.7 -3.1 -2.5 1.8zM618.7 231.2l-2.9 -1.4 -2.5 1.1 1.6 1.7z"/>
<path fill="#f69c6c" stroke="#f69c6c" stroke-width=".35" d="M142.7 217.5l1.3 -1.9 -1.4 -.9 -3.1 -.2 -.5 2.6 .3 .7zM141.5 211.6l2.1 .5 1.3 -.4 .8 -.9 -.2 -.8 -2.9 .8zM167.9 220.9l-1.1 -1.5 -2.8 .9 3.4 1zM376.9 220.4l.5 .1 -.2 .3 1.6 2 1 -.3 .7 -2.4zM607.1 216l-1.6 -1.1 -2.4 .4 .8 1.9 1.5 .6 1.7 -.4z"/>
<path fill="#fcdea8" stroke="#fcdea8" stroke-width=".35" d="M142.7 217.5l-3.4 .3 .7 1.1 1.8 1.1 2.4 -.1zM163.2 213.3l1.4 -2.7 -2.9 2.4zM155.1 233.8l3.4 -1.4 -.2 -.7 -2.6 -.6 -1.5 2zM384.1 230.3l-2.2 .4 -.7 .6 .3 1.7 1.8 .4 2.8 -2.2zM630.5 217.4l-2.9 2.7 0 .1 2.9 -1.3 1 -1.6zM615.6 228.4l2.8 -.6 .5 -.8 0 -1.6 -2.7 1.1 -1.8 1.3zM614.4 233.7l-2.3 -.1 .8 1.5 1.4 .8 .9 -1.2z"/>
<path fill="#fce4a8" stroke="#fce4a8" stroke-width=".35" d="M144.8 220.2l-.6 -.3 -2.1 .2 2.2 .3zM164.5 227.7l1.2 -.2 1.5 -2.1 -3.6 1.4zM165.5 232.4l-2.1 .7 0 2.1 2.8 .6 1.7 -2.3zM376.8 217.9l-2.8 -.7 -1.5 .7 2.2 2.3 1.4 .2 .4 -.1zM379.7 212.1l1.3 -1.3 -.3 -1.2 -4.2 .6 .3 2 1.1 .6zM409.3 214.9l-.7 .5 .4 2.3 2 .5 .5 -1.1 -.3 -2.1zM387.1 233.6l-1 -2.4 -2.8 2.2 1.3 .8zM390.5 232.9l-.9 -2.8 -3.5 1.1 1.2 2.1z"/>
<path fill="#f6a878" stroke="#f6a878" stroke-width=".35" d="M144.9 211.7l-1.3 .4 -1 2.6 1.4 .9 1.4 -.1 1.8 -1.1zM398.1 213.1l.1 1.6 2.9 .3 .9 -2.7z"/>
<path fill="#fcd8a2" stroke="#fcd8a2" stroke-width=".35" d="M146.5 217l-1.1 -1.5 -1.4 .1 -1.3 1.9 2.8 .3zM168.7 217.5l-3.9 -2 -.5 2.5 2.5 1zM373.1 212.3l1 .3 2.7 -.4 -.3 -2 -2.5 .9zM377.6 214.6l.3 -1.8 -1.1 -.6 -2.7 .4 1.4 2.1zM407 219.8l.4 .5 1.3 -.3 2.3 -1.8 -2 -.5zM386.3 236.3l1.8 -.9 -1 -1.8 -2.5 .6 -.2 .9 1 1zM398 227.3l.1 -1.6 -2.7 1.3zM398.8 231.2l-2.4 -1.8 -1.5 1 1.9 2zM395.7 233.7l1 -.3 .1 -1 -1.9 -2 -2.1 -.2 -.8 2.2zM603.9 217.2l-2.4 .3 -.2 2.8 4.1 -2.5z"/>
<path fill="#fccc90" stroke="#fccc90" stroke-width=".35" d="M142.9 217.8l1.3 2.1 .8 .3 1.1 -.3 -.6 -2.1zM151.3 220.6l-2.5 -.9 -.7 2.7 3.2 -1.2zM372.5 217.9l-1.1 .1 1.4 1.5 1.9 .7zM379.8 222.5l3.8 -1.3 -.1 -.3 -2.8 -.9zM381.1 210.4l5.8 .8 -2.1 -1.2 -2 -.4 -2.1 0zM408 218.4l1 -.7 -.4 -2.3 -2.3 .6 -.4 .5zM399.1 221.2l-.8 -.9 -1.6 .2zM387.9 227.7l-2 .2 3 2.2 .7 0zM387.3 233.3l.8 2.1 .8 .2 1.2 -1.1 .4 -1.6zM394.9 230.4l1.5 -1 1.6 -2.1 -2.6 -.3 -1 .9 -1.6 2.3zM395.7 233.7l-3.7 -1.3 .4 2.1 1.3 1.2zM593.6 217.3l.2 -2.1 -2.2 -1.3 -.5 2.9 .2 1zM593.9 217.4l.4 2.7 2.8 .3 1.4 -.4 -1.6 -2.3zM599.5 220.3l-1 -.3 -1.4 .4 .3 .2 -.5 .9 .5 1.1 .3 .1zM602.1 220.5l-1.1 -.1 .1 1.6 2.2 -.8zM624.2 214.8l2.5 .2 .8 -.9 -.8 -1.9 -1.7 .2zM604.8 235.3l1.1 .7 3.7 -.9 .7 -1.2 -1.9 -.8 -2.5 1.1z"/>
<path fill="#f6a872" stroke="#f6a872" stroke-width=".35" d="M145.2 220.8l-.3 .4 .2 .9 .9 .7zM376.6 217.8l.6 -3.1 -1.7 0 -1.4 .8 -.1 1.7z"/>
<path fill="#421266" stroke="#421266" stroke-width=".35" d="M151.3 209.6l-3.3 0 -2.5 .4 .2 .8 3 .6 2.6 -1.3z"/>
<path fill="#48126c" stroke="#48126c" stroke-width=".35" d="M148.7 211.4l-3 -.6 -.8 .9 2.3 2.7 2.1 -.5zM169.5 230.4l3.6 -1 -.1 -1.1 -.6 -.5 -2.6 -.2 -.9 .4zM596.4 210.2l.7 1.7 4.3 .3 .2 -.7 -2.2 -1.8zM621.4 225l-2.5 .4 0 1.6 4.2 1.3 .6 -.4z"/>
<path fill="#120624" stroke="#120624" stroke-width=".35" d="M148.7 218.2l1.1 -1 -2.9 -2.5 -1.5 .8 1.1 1.5zM177 229.7l-1 .5 1.4 2.6 2.1 .4 -.8 -3.1zM380.8 217.4l0 -1.8 -3.6 -.9 -.6 3.1zM591.5 230.9l-.4 1.9 3.2 .3 -1 -2.1z"/>
<path fill="#fceab4" stroke="#fceab4" stroke-width=".35" d="M146.1 219.9l2.4 -.4 .2 -1.3 -2.2 -1.2 -1 .8zM166 231.1l-2.2 -.6 -1.2 .4 .5 2.1 2.4 -.6zM377.2 220.8l-.3 .4 .3 1.2 .8 .4 .8 0zM621.8 222.2l-.3 -1.4 -2.1 .5z"/>
<path fill="#fcb47e" stroke="#fcb47e" stroke-width=".35" d="M148.8 219.7l-3.8 .5 1 2.6 2.1 -.4zM172.4 214.3l1.2 1.1 2.4 -.7 .7 -1.1 -.1 -.6 -3.4 .1zM166.8 219l1.1 1.9 2.4 .1 1.1 -1.7 -1.9 -2 -.8 .2zM374.1 212.6l-1.5 -.2 -1.2 2.2 2.7 .9 1.4 -.8zM380.6 228.5l-.9 -.4 -2.1 .1 -.8 1.4 .9 1.3 3.5 .4 .7 -.6zM596.4 210.2l-1.4 .5 -1.8 1.9 .8 .1 2.9 -1.1zM607.2 228l1.2 .2 -1.9 -1.6z"/>
<path fill="#1e0c36" stroke="#1e0c36" stroke-width=".35" d="M151.3 210.1l-2.6 1.3 .7 2.2 2 -1.2 1 -1.3zM176 230.2l1 -.5 .3 -.9 -1.4 -1.4 -2.9 .9 .1 1.1 1 .7zM401.1 215l.7 .6 2.4 -.8 .5 -2.7 -2.7 .2zM593.7 228.5l.8 -1.7 -1.7 1.6z"/>
<path fill="#f68460" stroke="#f68460" stroke-width=".35" d="M151.4 212.4l-2.1 1.5 1.8 .8 2.6 -.5zM596 233.2l1.2 2.3 2.6 -.4 .9 -1.8 -3.5 -.6zM600.7 233.3l-.9 1.8 .9 .8 3.7 0 .4 -.3 -3.1 -2.7z"/>
<path fill="#421260" stroke="#421260" stroke-width=".35" d="M151.1 214.7l-1.8 -.8 -2.4 .8 2.9 2.5 1.1 -.4zM165.7 227.5l3.2 .5 .9 -.4 -.5 -2.6 -2.1 .4zM384.7 228.3l-1 -.5 -3.1 .7 1.3 2.2 2.2 -.4zM405.5 225.7l-2.8 -.6 -.9 1.9 2.1 .3z"/>
<path fill="#fcae7e" stroke="#fcae7e" stroke-width=".35" d="M148.5 219.5l2.5 .8 3.3 -2.5 -3.4 -1 -2.2 1.4zM170.3 221l.6 .6 2.6 -.5 -.4 -.6 2.3 -.2 .2 -.4 -1.7 -.8 -2.5 .2zM163.1 233l-.5 -2.1 -1.8 -.7 -.8 2.3zM604.8 230.5l2.5 .7 2.4 -1 -1.3 -2 -1.2 -.2z"/>
<path fill="#fcc68a" stroke="#fcc68a" stroke-width=".35" d="M155.4 212.1l.1 -.4 -1.4 -1.1 -2.8 -1 0 .5 1.1 1zM154.7 217.8l-.4 0 -3.3 2.5 1.7 .5 3.5 -1zM154.1 228l.7 -1.2 -4.4 -1.6zM155.1 233.8l1.7 1.9 1.3 -1.2 .4 -2.1zM384 220.5l2.5 -1 -.7 -2 -2.4 .3zM407.9 212.6l1.4 2.3 1.9 .1 -.7 -1.8 -1 -1.3zM593.2 212.6l-.8 .1 -.8 1.2 2.2 1.3 2.6 -1zM621.5 220.8l-5.3 -1.7 -.4 0 -.6 1 4.2 1.2zM606.3 236.3l-1.5 -.7 -.4 .3 -1.3 2.7 1.3 -.7 .3 -1.3zM607.3 231.2l1.1 1.9 1.9 .8 .1 -1.9 -.7 -1.8z"/>
<path fill="#d2546c" stroke="#d2546c" stroke-width=".35" d="M155.8 212.5l-3.4 -1.4 -1 1.3 2.3 1.8 .6 0zM381.2 231.3l-3.5 -.4 -1 1.2 1.2 1.6 2.8 0 .8 -.7zM608.6 213l-3.1 .9 0 1 1.6 1.1 2.7 -1.3z"/>
<path fill="#601878" stroke="#601878" stroke-width=".35" d="M154.3 217.8l1.2 -.7 .1 -.7 -1.3 -2.2 -3.2 .5 -.2 2.1z"/>
<path fill="#f68a66" stroke="#f68a66" stroke-width=".35" d="M151.3 220.6l0 .6 1.4 -.4z"/>
<path fill="#240c3c" stroke="#240c3c" stroke-width=".35" d="M154.3 214.2l1.3 2.2 2.4 -1.2 -1.7 -2.7 -.5 0zM166.5 211.4l1.4 .6 2.5 -.8 -.5 -1.6 -2.2 0 -2.5 .6zM164.1 220.2l-1.9 -1.6 -2 -.2 1.3 1.1zM140.8 230.2l1.3 2.7 3.7 -.5 0 -.8 -4.2 -1.7zM175.9 227.4l1.4 1.4 .5 -.3 -1.7 -1.6zM390.5 217.3l-.8 -2.7 -2.8 .5 -.2 1.4zM401.8 215.6l0 1.9 1.4 .6 .5 0 2.6 -2.1 -2.1 -1.2zM394.2 218.4l-2.1 -.4 .4 .9 2.3 1.1zM610.4 218.2l0 -1.8 -.6 -1.7 -2.7 1.3 0 1.4z"/>
<path fill="#12062a" stroke="#12062a" stroke-width=".35" d="M155.6 216.4l-.1 .7 3 .2 -.5 -2.1zM156.2 219.8l1.8 -.9 .5 -1.6 -3 -.2 -.8 .7zM162.2 218.6l2.1 -.6 .4 -2.7 -4.6 1.2 .1 1.9zM142.5 228.6l-1.2 -.7 -1.6 2.4 1.9 -.4zM142.1 232.9l.9 2.9 1.3 -.2 1.1 -3zM614.9 212.1l-1.4 1.2 -.6 1.1 2 -.4z"/>
<path fill="#fcc084" stroke="#fcc084" stroke-width=".35" d="M176.7 213.6l-.7 1.1 0 1.9 2.3 .6 1.2 -.2zM603.3 221.2l2.2 -.6 .8 -.2 -4.2 .1zM617.4 211.5l-1 -.9 -1.7 1.4z"/>
<path fill="#fccc96" stroke="#fccc96" stroke-width=".35" d="M175.7 219.8l.8 .2 1.7 -.8 .8 -.9 .5 -1.3 -1.2 .2zM167.9 220.9l-.5 .4 3.8 1.3 -.3 -1 -.6 -.6zM374.1 215.5l-2.7 -.9 -.4 2.5 .4 .9 2.6 -.8zM596.9 211.6l-2.9 1.1 2.8 1.4 .3 -2.2z"/>
<path fill="#fcba84" stroke="#fcba84" stroke-width=".35" d="M171.9 211.6l1.3 1.5 3.4 -.1 1 -.7 -1.1 -1.2 -2.5 -.9zM151.2 233.5l.9 2.1 4 -.4 -1.9 -2.1 -1.7 -.1zM162.3 235.8l1.1 -.6 0 -2.1 -3.4 -.6 .6 2.3zM402.3 221.3l.7 1.3 1.2 .3 1.3 -1.2 .1 -.5 -.4 -.5zM626.4 219.7l-1.1 -1.8 -3 -.2 -.6 .6 -.1 2.5z"/>
<path fill="#fceaae" stroke="#fceaae" stroke-width=".35" d="M173.6 215.4l.6 1.2 1.8 0 0 -1.9zM386.1 231.2l2.8 -1.1 -3 -2.2 -1.2 .4 -.6 2zM627.5 214.1l-.8 .9 1.2 1.8 2.6 .6 1 -.1 -.6 -3.1zM621.7 218.3l-1.8 -.2 -3.7 1 5.3 1.7z"/>
<path fill="#fcd296" stroke="#fcd296" stroke-width=".35" d="M173.9 219.1l1.8 .7 2.6 -2.6 -2.3 -.6 -2.2 .3zM171.2 222.6l1.6 .1 .6 -.6 .1 -1 -2.6 .5zM150.7 230.1l1.4 .8 3.2 -.5 .2 -1.6 -1.3 -.8 -1.9 .5zM154.2 228l1.3 .8 1.3 -.2 -2 -1.8zM163.6 228.2l-1.9 .5 -.9 1.5 1.8 .7 1.2 -.4zM407.8 210.8l-1.2 -.4 -1.5 -.4 .1 1.9 1.6 .3zM395.2 215.5l-2.5 2.4 1.5 .5 4.1 .1 .3 -.4 -1.6 -2.5zM627.9 216.8l-1.2 -1.8 -1.4 0 -.6 2.7 .6 .2zM613.3 230.9l2.5 -1.1 -.2 -1.4 -1.2 -.6 -.5 .6 -1.3 2.3z"/>
<path fill="#2a0c42" stroke="#2a0c42" stroke-width=".35" d="M170.1 215l2.3 -.7 .8 -1.2 -1.3 -1.5 -1.5 -.4 -1.3 .6zM149.2 226.7l-4 .4 -.4 .7 2.7 2.1 .5 0 1.4 -2.7zM392.7 217.9l2.5 -2.4 -2.3 -1.1 -.9 3 .1 .6zM628.2 235.7l2.3 -.7 .8 -1 -2.7 -1.4 -1.6 .2z"/>
<path fill="#300c48" stroke="#300c48" stroke-width=".35" d="M169.8 217.1l4 -.2 .4 -.3 -.6 -1.2 -1.2 -1.1 -2.3 .7zM166.7 214.2l3.4 .8 -1 -3.2 -1.2 .2zM380.8 215.6l.9 -.8 -2 -2.7 -1.8 .7 -.3 1.8zM387.2 211.6l-.5 .7 -.3 1.9 .5 .9 2.8 -.5 -1.2 -1.9zM623.1 228.3l-4.2 -1.3 -.5 .8 1.6 2.6 1.7 -.1z"/>
<path fill="#902a78" stroke="#902a78" stroke-width=".35" d="M164.7 215.3l4 2.2 1.1 -.4 .3 -2.1 -3.4 -.8 -1.8 .5z"/>
<path fill="#f69066" stroke="#f69066" stroke-width=".35" d="M163.2 213.3l.5 .3 2.8 -2.2 -1.3 -1.2 -.6 .4zM169.3 230.6l.9 1.8 2.6 .5 1.3 -2.8 -1 -.7zM166.3 235.9l-2.9 -.7 -1.1 .6 3.5 .8 .2 1.1 1.2 .8zM381.1 210.4l-.1 .4 2 2.1 3.7 -.6 .5 -.7 -.3 -.4z"/>
<path fill="#cc4e6c" stroke="#cc4e6c" stroke-width=".35" d="M164.9 214.7l1.8 -.5 1.2 -2.2 -1.4 -.6 -2.8 2.2zM173 228.3l2.9 -.9 .2 -.5 -3.3 -1.4 -.4 2.3zM167.9 233.5l-1.6 2.4 4.1 -.3 -1.5 -2.3zM396.3 211.8l1.8 1.3 4.1 -1 -2.7 -2.5 -.8 .2z"/>
<path fill="#f6a272" stroke="#f6a272" stroke-width=".35" d="M166.8 219.4l0 -.4 -2.5 -1 -2.1 .6 1.9 1.6zM172.9 233l-2.7 -.6 -1.3 .9 1.5 2.3 .8 .2 1.3 -.2zM396.9 236.4l.9 .2 .3 1.3 1.3 .7 -.1 -2.3 -.6 -.4zM601 220.4l-1.5 -.1 -1.8 2.4 1 .1 2.4 -.8zM601.4 225.4l3.9 1.3 1.1 -.1 -3.1 -1.2 -1.8 -.3z"/>
<path fill="#0c061e" stroke="#0c061e" stroke-width=".35" d="M164.7 215.3l.2 -.6 -1.2 -1.1 -2 -.6 -1.6 3.5zM178.7 230.1l-.9 -1.6 -.5 .3 -.3 .9zM177.4 232.8l-1.4 -2.6 -1.9 -.1 -1.3 2.8 3.1 .3zM386.7 216.5l-.9 1 .7 2 1.3 .5 1.6 -.7 .8 -.8 .3 -1.2zM377.7 230.9l-.9 -1.3 -2.9 .1 -.8 .3 0 2.4 .4 .3 3.2 -.6zM408.8 229.7l-1.1 2 .3 .4 3.4 .1 -1 -2.8zM622.3 211.9l-.5 .4 -.3 2.8 2.7 -.3 .8 -2.4zM621.8 212.3l.5 -.4 .1 -2.3 -3.5 .1 -1.5 1.7 .5 .6zM593.7 228.5l-.9 -.1 -1.3 2.5 1.8 .1 1.6 -1.2zM591.1 232.8l.5 1.9 1.3 -.2 1.4 -1.4zM597.2 229.7l-2.3 .1 -1.6 1.2 1 2.1 1.7 .1 1.2 -.5 .5 -2.5zM629.9 230.7l-1.3 1.9 2.7 1.4 .1 -1.4 -.5 -2.1zM626.9 232.8l1.7 -.2 1.3 -1.9 -2.1 -1.3 -.9 0 -1.5 1.8zM625.2 236.5l3 -.8 -1.2 -2.9 -1.5 .9 -.9 2.5z"/>
<path fill="#f07860" stroke="#f07860" stroke-width=".35" d="M142.5 228.6l.9 -.4 -1 -1.2 -1.1 .9zM402.3 234.4l-1.6 -1 -2.9 .4 .9 2.1 .6 .4 2.3 -.5z"/>
<path fill="#1e0636" stroke="#1e0636" stroke-width=".35" d="M139.7 230.3l-.6 3.5 2.9 -.8 -1.2 -2.8zM373.8 227.7l-.6 .2 -1.2 1.8 1.1 .3 .8 -.3zM610.4 218.2l-3.6 -.6 -.1 2.2 .9 .2 1.4 -.5zM592.9 234.5l-1.3 .2 2.1 .9z"/>
<path fill="#18062a" stroke="#18062a" stroke-width=".35" d="M143 235.8l-1 -2.8 -2.9 .8 .9 1.2zM372 229.7l-.9 2.8 2 -.1 0 -2.4zM407.7 231.7l1.1 -2 -2.4 -1.5 -.5 .1 -2.1 2.5z"/>
<path fill="#ea6c60" stroke="#ea6c60" stroke-width=".35" d="M143.4 228.2l1.4 -.4 .4 -.7 -.4 -1.4 -2.4 1.3z"/>
<path fill="#d24e6c" stroke="#d24e6c" stroke-width=".35" d="M145.8 231.6l1.7 -1.7 -2.7 -2.1 -2.3 .8 -.9 1.3z"/>
<path fill="#f67e5a" stroke="#f67e5a" stroke-width=".35" d="M144.3 235.6l-1.4 .2 3.7 1.1 .1 -.8zM151.2 238l-4.4 -1.6 -.2 .5 4.1 1.6 .8 0zM407.2 220.2l-4 -2.1 -1.2 3.1 .3 .1zM378.2 236.3l-.3 .4 4.4 1.7 -1.5 -2.1zM629.4 228l-1.1 -1 -.7 -.4 1.5 1.5z"/>
<path fill="#541272" stroke="#541272" stroke-width=".35" d="M145.2 227.1l4 -.4 .9 -1.6 -2.4 0 -2.9 .6z"/>
<path fill="#f6966c" stroke="#f6966c" stroke-width=".35" d="M149.6 230.2l-2.1 -.3 -1.7 1.7 0 .8 3.1 1.3 1 -.3z"/>
<path fill="#f07260" stroke="#f07260" stroke-width=".35" d="M148.9 233.7l-3.1 -1.3 -1.5 3.2 2.4 .5 1.8 -1.6zM383.6 221.2l1.9 -.6 2.3 -.6 -1.3 -.5 -2.5 1z"/>
<path fill="#de6666" stroke="#de6666" stroke-width=".35" d="M149.2 226.7l.2 .5 2.9 1.3 1.8 -.5 -3.7 -2.8zM149.6 230.2l.3 3.2 1.3 .1 1.3 -.5 -.4 -2.1 -1.4 -.8zM396.3 211.8l-1.7 3.2 .6 .5 1.8 .1 1.2 -.9 -.1 -1.6zM377.7 225.5l-1.6 .5 -1.3 .6 1.7 .4zM404.7 234.2l3.3 -2.1 -.3 -.4 -3.9 -.8 .4 3.2zM596.6 225.8l-1.2 .5 -.5 .3 1.7 -.1z"/>
<path fill="#2a0c48" stroke="#2a0c48" stroke-width=".35" d="M148 229.9l2.7 .2 1.6 -1.6 -2.9 -1.3zM381.7 214.8l.6 -.3 .7 -1.6 -2 -2.1 -1.3 1.3zM394.2 218.4l.6 1.6 1.9 .5 1.6 -.2 0 -1.8zM383.7 227.8l-1.8 -2.7 -2.2 3 .9 .4zM599.8 227.1l1.7 -2 -.4 -.1 -2.9 .3 -1.6 .5 0 .7 2 .9z"/>
<path fill="#c64872" stroke="#c64872" stroke-width=".35" d="M151.3 236.9l.8 -1.3 -.9 -2.1 -2.3 .2 -.4 .8zM382.3 214.5l4.1 -.3 .3 -1.9 -3.7 .6zM603.1 215.3l-2 -.2 0 1.9 .4 .5 2.4 -.3z"/>
<path fill="#ea7260" stroke="#ea7260" stroke-width=".35" d="M146.7 236.1l.1 .3 4.4 1.6 .1 -1.1 -2.8 -2.4zM403.2 237.2l1.2 -.5 2.4 -.8 -1.1 -.7 -3.5 1zM597.2 232.7l3.5 .6 .8 -.4 -2.2 -2.3 -1.6 -.4zM600.7 235.9l-.9 -.8 -2.6 .4 -.6 .7 3.6 1.4zM625.4 231.2l1.5 -1.8 -2.2 -1.6 -1.6 .5 -1.4 2 1.2 .6zM626.9 232.8l-1.5 -1.6 -2.5 -.3 -.3 2.3 2.9 .5zM621 234.1l-1.4 -.5 -2.5 1.3 .8 1.1 3.7 -.7z"/>
<path fill="#fcd89c" stroke="#fcd89c" stroke-width=".35" d="M154.2 233.1l1.5 -2 -.4 -.7 -3.2 .5 .4 2.1zM156.1 235.2l-4 .4 -.8 1.3 .2 1.6 1 -.8 .2 -1.1 4.1 -.9zM161.7 228.7l2.8 -1 -.9 -.9zM383.5 220.9l.5 -.4 -.6 -2.7 -2.6 -.4 -.1 2.6zM409.5 211.9l-1.7 -1.1 -1 1.4 1.1 .4zM386.2 227.7l1.7 0 -1.4 -1.1zM396.4 229.4l2.3 1.5 .3 -3.4 -1 -.2zM618.4 227.8l-2.8 .6 .2 1.4 2.9 1.4 1.3 -.8z"/>
<path fill="#fce4ae" stroke="#fce4ae" stroke-width=".35" d="M158.3 231.7l-1.5 -3.1 -1.3 .2 -.2 1.6 .4 .7zM404.2 214.8l2.1 1.2 3 -1.1 -1.4 -2.3 -2.7 -.7 -.5 .2zM382.4 238.4l.9 .1 .8 -.4 .4 -1.3zM614.4 233.7l.5 -1.1 -1.6 -1.7 -.7 -.2 -.6 1.8 .1 1.1z"/>
<path fill="#180630" stroke="#180630" stroke-width=".35" d="M177.4 232.8l-1.5 .4 -.3 2.6 2.5 -.6 .9 -.7 .5 -1.3zM175.9 233.2l-3 -.2 -.4 2.6 1.8 .5 1.3 -.3zM377.6 228.2l-1.1 -1.2 -1.5 -.2 -1.2 .9 .1 2 2.9 -.1zM376.7 232.1l-3.2 .6 .3 2.3 3 0 1.1 -1.3zM373.8 235l-.5 .5 4.6 1.2 .3 -.4 -1.4 -1.3zM612 216.8l.5 2.1 2.7 1.2 .6 -1 -.5 -.9 -1.8 -1.1z"/>
<path fill="#721e78" stroke="#721e78" stroke-width=".35" d="M172.4 227.8l.4 -2.3 -3.5 -.5 .5 2.6zM386.6 216.4l.3 -1.3 -.5 -.9 -4.1 .3 -.8 .6z"/>
<path fill="#d85a6c" stroke="#d85a6c" stroke-width=".35" d="M173.5 236.1l-1 -.5 -1.3 .2 -1.4 2 3.6 -1.4z"/>
<path fill="#e46c60" stroke="#e46c60" stroke-width=".35" d="M165.7 227.5l-.5 .2 1.6 2.9 2.7 -.2 -.6 -2.4zM381 236l-.3 -2.3 -2.8 0 -1.1 1.3 1.4 1.3zM385.4 236.1l-1 -1 -3.6 1.2 1.6 2.1zM627.6 226.6l-1.2 -.6 -1.5 -.5 .4 1.7z"/>
<path fill="#cc4872" stroke="#cc4872" stroke-width=".35" d="M170.2 232.4l-.9 -1.8 -2.5 0 -.8 .5 -.5 1.3 2.4 1.1 1 -.2zM601.6 212.6l-1.1 2 .6 .5 2 .2 2.4 -.4 0 -1 -.6 -.8z"/>
<path fill="#9c2a78" stroke="#9c2a78" stroke-width=".35" d="M170.4 235.6l-4.1 .3 .9 2.6 2.6 -.7 1.4 -2zM398.2 214.7l-1.2 .9 1.6 2.5 3.2 -.6 0 -1.9 -.7 -.6zM622.6 236.3l-1 -1 -3.7 .7 .4 2.1 .9 .4 1.4 -.3z"/>
<path fill="#f0785a" stroke="#f0785a" stroke-width=".35" d="M380.8 217.4l2.6 .4 2.4 -.3 .9 -1 -5.2 -1.4 -.7 .5zM401.8 231.1l-3 .1 -2 1.2 -.1 1 1.1 .4 2.9 -.4zM604.4 235.9l-3.7 0 -.5 1.7 2.9 1zM622.6 233.2l.3 -2.3 -1.2 -.6 -1.7 .1 -1.4 1 1 2.2 1.4 .5z"/>
<path fill="#fca878" stroke="#fca878" stroke-width=".35" d="M403.7 218.1l3.3 1.7 1 -1.4 -2.1 -1.9zM627.6 220.1l2.9 -2.7 -2.6 -.6 -2.6 1.1 1.1 1.8zM617.4 211.4l1.5 -1.7 -2.5 .9z"/>
<path fill="#5a1878" stroke="#5a1878" stroke-width=".35" d="M402.2 212.1l3 -.2 -.1 -1.9 -5.6 -.4z"/>
<path fill="#fcae78" stroke="#fcae78" stroke-width=".35" d="M403 222.6l-1 -1.4 -2.9 0zM606.3 236.3l2.2 -.5 1.1 -.7 -3.7 .9z"/>
<path fill="#fcd29c" stroke="#fcd29c" stroke-width=".35" d="M395.1 211.6l1.2 .2 2.4 -2 -1.6 .5zM605.4 217.8l-4 2.5 4.8 -.1 .5 -.4 .1 -2.2zM622.3 211.9l2.7 .5 1.7 -.2 .4 -.3 -1.7 -1.8 -3 -.5zM622.5 220.7l-1 .1 .3 1.4 2.4 .7 1.2 -.8 .2 -.6zM601.7 232.9l2.5 -1.8 .6 -.6 -2.5 -.9 -3 1z"/>
<path fill="#360c54" stroke="#360c54" stroke-width=".35" d="M394.6 215l1.5 -3.2 -1 -.2 -2.2 2.8zM410.4 229.4l-2.2 -2.4 -.6 0 -1.2 1.2 2.4 1.5zM601.4 212.2l-4.3 -.3 -.3 2.2 1.5 .7 2.2 -.2 1.1 -2z"/>
<path fill="#0c0624" stroke="#0c0624" stroke-width=".35" d="M373.5 232.7l-2.4 -.2 .2 1.6 .7 .9 1.3 .5 .5 -.5zM408 232.1l.9 3.5 1.9 -.8 .6 -1.1 0 -1.5z"/>
<path fill="#6c1e78" stroke="#6c1e78" stroke-width=".35" d="M376.5 227l1.1 1.2 2.1 -.1 2.2 -3 -4.2 .4zM604.9 213.1l.6 .8 3.1 -.9 -2 -2z"/>
<path fill="#f68a60" stroke="#f68a60" stroke-width=".35" d="M384.6 234.2l-1.3 -.8 -1.8 -.4 -.8 .7 .3 2.3 3.4 -.9z"/>
<path fill="#f69c72" stroke="#f69c72" stroke-width=".35" d="M383.7 227.8l1 .5 1.2 -.4 .6 -1.3 -4.6 -1.5z"/>
<path fill="#fcdea2" stroke="#fcdea2" stroke-width=".35" d="M386.3 236.3l1.7 -.3 .9 -.4 -.8 -.2zM395.7 233.7l-2 2 3.2 .7 1.8 -.5 -.9 -2.1 -1.1 -.4zM598.3 214.8l-1.9 -.6 -2.6 1 -.2 2.1 3.3 .4zM604.2 231.1l1.7 3.1 2.5 -1.1 -1.1 -1.9 -2.5 -.7zM614.9 232.6l-.5 1.1 .8 1 1.9 .2 2.5 -1.3 -1 -2.2z"/>
<path fill="#3c0c5a" stroke="#3c0c5a" stroke-width=".35" d="M403.9 227.3l2 1 1.7 -1.3 -.4 -.6 -1.7 -.7zM601.6 211.5l2.8 -1.6 -1.6 -.3 -3.4 .1z"/>
<path fill="#1e0c3c" stroke="#1e0c3c" stroke-width=".35" d="M406.8 235.9l2.1 -.3 -.9 -3.5 -3.3 2.1z"/>
<path fill="#481266" stroke="#481266" stroke-width=".35" d="M403.8 230.8l2.1 -2.5 -2 -1 -2.1 -.3 -1.7 .7 2.4 3z"/>
<path fill="#e46666" stroke="#e46666" stroke-width=".35" d="M404.2 234.1l-.4 -3.2 -1.3 -.2 -.7 .4 -1.1 2.3 1.6 1zM599.3 230.6l3 -1 -2.5 -2.5 -1.2 .3 -1.4 2.3 .5 .5z"/>
<path fill="#c03c78" stroke="#c03c78" stroke-width=".35" d="M405.7 235.2l-1.5 -1.1 -1.9 .3 -.7 1.4 .6 .4z"/>
<path fill="#541278" stroke="#541278" stroke-width=".35" d="M401.8 227l.9 -1.9 -2.1 0 -2.5 .6 0 1.6 2 .4z"/>
<path fill="#d86066" stroke="#d86066" stroke-width=".35" d="M402.5 230.7l-2.4 -3 -1.1 -.2 -.2 3.7 3 -.1z"/>
<path fill="#ba3c78" stroke="#ba3c78" stroke-width=".35" d="M403.2 237.2l-1.6 -1.4 -2.3 .5 .1 2.3zM618.5 215.1l-.7 -.4 -1.2 0 -3.1 2.4 1.8 1.1 2.5 -1.6z"/>
<path fill="#3c1260" stroke="#3c1260" stroke-width=".35" d="M598.3 214.8l-1.3 2.9 4.1 -.7 0 -1.9 -.6 -.5zM623.7 227.9l1 -.1 .6 -.6 -.4 -1.7 -3.5 -.5z"/>
<path fill="#240c42" stroke="#240c42" stroke-width=".35" d="M597 217.7l1.5 2.3 2.8 .3 .2 -2.8 -.4 -.5zM598.6 227.4l-2 -.9 -1.7 .1 -1.2 1.9 1.2 1.3 2.3 -.1z"/>
<path fill="#a83078" stroke="#a83078" stroke-width=".35" d="M601.6 211.5l0 1.1 3.3 .5 1.7 -2.1 -2.2 -1.1zM604.1 228.1l-3.5 -1.5 -.8 .5 2.5 2.5 2.3 .8z"/>
<path fill="#300c4e" stroke="#300c4e" stroke-width=".35" d="M622.3 217.7l2.4 0 .6 -2.7 -3.8 .1zM613.5 217.1l3.1 -2.4 -1.7 -.7 -2 .4 -.9 2.4zM594.3 233.1l-1.4 1.4 .8 1.1 2.9 .6 .6 -.7 -1.2 -2.3zM626.9 229.4l.9 0 1.3 -1.3 -1.6 -1.4 -2.2 .5 -.6 .6z"/>
<path fill="#7e2478" stroke="#7e2478" stroke-width=".35" d="M621.5 215.1l.3 -2.8 -3.9 -.3 -.1 2.7 .7 .4z"/>
<path fill="#ba3678" stroke="#ba3678" stroke-width=".35" d="M617.4 211.5l-2.5 .6 0 1.9 1.7 .7 1.2 0 .1 -2.7z"/>
<path fill="#fcf0b4" stroke="#fcf0b4" stroke-width=".35" d="M615.3 218.2l.5 .9 .4 0 3.7 -1 -2.1 -1.5z"/>
<path fill="#ae3678" stroke="#ae3678" stroke-width=".35" d="M605.3 226.7l-3.9 -1.3 -.8 1.2 3.5 1.5z"/>
<path fill="#fcc08a" stroke="#fcc08a" stroke-width=".35" d="M604.8 230.5l2.4 -2.5 -.8 -1.4 -1.1 .1 -1.2 1.4zM617.1 234.9l-1.9 -.2 -.9 1.2 3.5 .7 .5 1.5 -.4 -2.1z"/>
<path fill="#1e0630" stroke="#1e0630" stroke-width=".35" d="M629.1 228.1l-1.3 1.3 2.1 1.3 1 -.2 -.8 -1.6z"/>
<path fill="#d85a66" stroke="#d85a66" stroke-width=".35" d="M624.6 236.2l.9 -2.5 -2.9 -.5 -1.6 .9 1.6 2.2z"/>
<path fill="#c64272" stroke="#c64272" stroke-width=".35" d="M620.6 238.2l3.2 -1.2 1.4 -.5 -2.6 -.2z"/>
<path fill="#3648a2" stroke="#3648a2" stroke-width=".35" d="M63.3 475.3l-4.9 1.7 -.2 .8 6.2 5.4 5.7 -4.6zM73.4 474.3l-8.7 -2.1 -1.4 3.1 6.8 3.3 1 -.2zM58.8 541l7.3 -.7 1.7 -4.2 -9.3 2.1z"/>
<path fill="#3c4ea2" stroke="#3c4ea2" stroke-width=".35" d="M63 495l3.2 -1.3 .9 -7.3 -2.9 -1.8 -3.6 1 -3.7 3.1 5 6.1zM70.1 478.6l-5.7 4.6 -.2 1.4 2.9 1.8 1.7 0 6.1 -1.8 -1.6 -5.1 -2.2 -1.1zM77.2 492l-8.4 -5.6 -1.7 0 -.9 7.3 5.8 .6 4.6 -1.8zM86.3 467.6l-3.8 -.3 -10.2 .4 3 5.3 .8 .1zM73.9 541.9l-5.5 1 -.5 1.6 4.1 3.7 5 .1 2.2 -1.9 .5 -2.8z"/>
<path fill="#424ea8" stroke="#424ea8" stroke-width=".35" d="M75.3 473l-3 -5.3 -8.5 1.1 .9 3.4 8.7 2.1zM74.9 484.6l1.9 .5 5.2 -1.2 -.4 -4.7 -8.3 .3zM77.5 491.9l-.7 -6.8 -1.9 -.5 -6.1 1.8 8.4 5.6zM72 494.3l1.7 5.4 7.1 -.9 -4.2 -6.3zM81.6 479.2l.4 4.7 4.3 2 2.6 -1 -1.5 -6.1 -.9 -.5 -4.1 0zM77.5 491.9l7.1 -.7 .9 -.4 .8 -4.9 -4.3 -2 -5.2 1.2zM80.8 498.8l2.5 .8 2.2 -.3 -.9 -8.1 -7.1 .7 -.9 .6zM195 488.2l-10 4.2 .6 .5 5.6 2.1 5.1 -1.2 2.6 -1.4 -2.3 -3.5zM185.3 487.8l-.2 4.3 9.9 -3.9 -2.5 -2.4zM176.5 471l6.3 6.8 2.9 -1.9 -6.8 -8.4zM183.7 500.8l-4 -.2 -3.3 2.1 -.1 5.4 3.3 -.2 6.2 -1.7 .6 -4.4zM175.1 484.3l-6.6 1.6 2.9 7.4 4.7 0 2 -8.3zM67.9 544.5l.5 -1.6 -2.3 -2.6 -7.3 .7 -2 1.7 2.5 3.1 2.5 1z"/>
<path fill="#4854a8" stroke="#4854a8" stroke-width=".35" d="M64 499.1l8.9 1.7 .8 -1.1 -1.7 -5.4 -5.8 -.6 -3.2 1.3zM62.9 504.1l5.8 2.9 2.6 -.3 2 -1.5 -.4 -4.4 -8.9 -1.7zM81.3 475.8l5.7 -4.3 -.7 -3.9 -10.2 5.5zM82.4 478.3l4.1 0 4.1 -3.6 -3.6 -3.2 -5.7 4.3zM90.6 474.7l2 .2 3.7 -4.9 -4.4 -1.4 -5.6 -1.1 .7 4zM191.2 495l-5.6 -2.1 -1.9 7.9 2.7 1 4.2 -1zM185.8 506.2l-6.2 1.7 7.9 5.1 1.7 -.4 .8 -.7 -.3 -3.3zM182.8 477.8l-6.3 -6.8 -6.2 3.5 6.5 3.5zM176.1 493.3l8.9 -.9 .3 -4.6 -3.5 -3.6 -3.7 .8zM183.7 500.8l1.9 -7.9 -.6 -.5 -8.8 .9 3.5 7.3zM170.3 474.5l-.8 0 -2.1 5.2 6.7 1.2 2.7 -2.9zM174.1 480.9l-6.7 -1.2 -.6 .5 1.2 5.5 .5 .2 6.6 -1.6zM162.4 470.9l4.2 1.9 3.9 -5.4 -8.2 1.7zM72 548.2l-4.1 -3.7 -6.1 2.3 1.7 5.3 5.6 -1.8zM73.3 554.1l5 -1 -1.3 -4.8 -5 -.1 -2.9 2.1zM183.6 540.4l5.3 3.8 5 -1.9 -4.7 -6.1 -2.6 -.3z"/>
<path fill="#3c48a2" stroke="#3c48a2" stroke-width=".35" d="M73.3 479.5l8.3 -.3 .8 -.9 -1.1 -2.5 -5.2 -2.7 -.8 -.1 -1.9 1.3 -2.3 4.1zM79 504.9l4.3 -5.3 -2.5 -.8 -7.1 .9 -.8 1.1 .4 4.4zM190.3 468.5l-6.2 -.8 -5.2 -.2 6.8 8.4 3.7 -1.4zM184 481.3l8.5 1.2 .9 -.5 -2.3 -6.8 -1.7 -.7 -3.7 1.4 -2.9 1.9zM185.3 487.8l7.2 -2 0 -3.3 -8.5 -1.2 -2.2 2.9zM170 500.7l-5.4 6 2.9 1.2 8.8 .2 .1 -5.4z"/>
<path fill="#545aae" stroke="#545aae" stroke-width=".35" d="M166.6 472.8l2.9 1.7 .8 0 6.2 -3.5 2.3 -3.5 -8.3 -.1zM79.2 546.4l-2.2 1.9 1.3 4.8 1.9 1.2 5.9 .4 1 -5.8zM180.2 543.8l-8.6 3.5 2.9 2.2 7.4 -.5 2 -1.9z"/>
<path fill="#424ea2" stroke="#424ea2" stroke-width=".35" d="M179.7 500.6l-3.5 -7.3 -5.1 .2 -1.1 7.2 6.4 2z"/>
<path fill="#4e54ae" stroke="#4e54ae" stroke-width=".35" d="M139 505.7l8.2 1.3 1.2 -.9 -2.2 -5 -4.7 .3zM199.2 541.2l-1.4 -2.9 -8.6 -2.1 4.7 6.1 3.7 .7z"/>
<path fill="#ea7278" stroke="#ea7278" stroke-width=".35" d="M110.3 575.7l-1.7 1.1 1 5 1.5 .8 4.4 .1 5.6 -1 .2 -.3 -7.5 -6.9z"/>
<path fill="#4854ae" stroke="#4854ae" stroke-width=".35" d="M188.9 544.2l-5.3 -3.8 -3 1.3 -.4 2.1 3.7 3.3 3.5 -.4z"/>
<path fill="#d8def0" stroke="#d8def0" stroke-width=".35" d="M146.8 556.8l-2.7 -2 -6.9 4.8 -.4 .8 8.9 -.3z"/>
<path fill="#bababa" stroke="#bababa" stroke-width=".35" d="M250.2 483.4l-1.2 1.8 -1.3 2.3 3 .6 2.4 -2.2zM251.2 492.5l-.5 -4.4 -3 -.6 -2.1 6.2 4 -.2zM250.2 501.4l3.8 -2.1 -4.4 -5.8 -4 .2 -.8 4.8zM249.1 503.5l1.1 -2.1 -5.4 -2.9 -.6 6.3zM248.5 511.7l4 -5.7 -3.4 -2.5 -4.9 1.3 2.2 5 1.2 1.7zM248.8 512.8l-.3 -1.1 -.9 -.2zM257.1 480.3l2 -1.1 -1.7 -3.3 -4.5 4.1zM257.1 480.3l-4.2 -.3 -2.7 3.4 2.9 2.5 5.3 .1zM259 486.3l-.6 -.3 -5.3 -.1 -2.4 2.2 .5 4.4 4.2 -.5zM259.1 493.4l-3.7 -1.4 -4.2 .5 -1.6 1 4.4 5.8 2.6 .2 3.4 -.8zM254 499.3l-3.8 2.1 -1.1 2.1 3.4 2.5 4.5 .3 -.4 -6.8zM258.8 512.2l-1.8 -5.9 -4.5 -.3 -4 5.7zM261.5 513.6l-2.7 -1.4 -10.1 -.3 .1 .9 1.7 1.4 5.6 3.3zM265.2 473.9l.8 -.3 .4 -1.9 -4.1 1.5zM259.1 479.2l4.2 -.3 1.9 -5 -2.9 -.7 -4.9 2.7zM264.1 486.7l3.1 -5.2 -3.9 -2.6 -4.2 .3 -2 1.1 1.3 5.7zM264.1 486.7l-5.1 -.4 -3.6 5.7 3.7 1.4 6.3 -2.3 .8 -2.3zM259.1 493.4l.9 5.3 8.2 -3.1 -2.8 -4.5zM260.5 498.8l-3.9 .7 .5 6.7 8 -1.8 -.4 -1.7zM257.1 506.2l1.7 6 2.7 1.4 2.1 .2 2.9 -.7 -.1 -7.7 -1.3 -1zM263.6 513.8l-2.1 -.2 -5.4 3.9 3.9 1.4 3.4 .7zM266 473.6l5 .8 3.6 -4.8 -8.2 2.1zM268 481.4l6 -3.6 .2 -.8 -3.2 -2.6 -5 -.8 -.8 .3 -1.9 5 3.9 2.6zM272.7 488.7l3.7 -3.1 -8.4 -4.2 -.8 .1 -3.1 5.2 2.1 2.1zM272.7 488.7l-6.5 .1 -.8 2.3 2.8 4.5 2.6 .7 6.9 -1.5zM270.8 496.3l-2.6 -.7 -7.7 3.2 4.2 3.9 5.8 -3.1zM270.5 499.6l-5.8 3.1 .4 1.7 1.3 1 7.8 -.8 -2.5 -4.1zM266.5 513.1l.8 .1 6.2 -1.6 1.5 -6.8 -.8 -.2 -7.8 .8zM273.6 519.7l-6.3 -6.5 -.8 -.1 -2.9 .7 -.2 5.8 6.6 .7 3.1 0zM273.1 523.6l-.2 2 1 3.4 2.2 -2zM279.6 468.8l-5 .8 -3.6 4.8 3.2 2.6 4.9 -1.7 1.4 -3.1zM279.1 475.3l-4.9 1.7 -.2 .8 6.2 5.4 5.7 -4.6zM276.4 485.6l3.6 -1 .2 -1.4 -6.2 -5.4 -6 3.6zM278.8 495l3.2 -1.3 .9 -7.3 -2.9 -1.8 -3.6 1 -3.7 3.1 5 6.1zM270.8 496.3l-.3 3.3 1.2 .9 7.8 -.8 .3 -.6 -1 -4.1 -1.1 -.2zM271.7 500.5l2.5 4.1 .8 .2 3.7 -.7 .8 -4.4zM282.6 524.7l-6.1 -5.1 -2.9 .1 -.5 .6 2 .3 0 .6 -2 2.4 3 3.4 4.2 -.9zM280.3 526.1l-4.2 .9 -2.2 2 1.4 1.9 2.6 1.2 1.6 .2 2.4 -.3zM289.9 528.9l-7.2 -4.2 -2.4 1.4 1.6 5.9 7.6 -2.5zM291.9 512.2l-3.5 3.6 -.2 2.2 1.1 1.4 .8 .2 4.6 -.7 1.8 -5 -2.2 -1.7zM295.3 527.1l-5.2 -7.5 -.8 -.2 -6.6 5.3 7.2 4.2zM295.8 527.1l-5.9 1.8 -.4 .6zM296.6 498.8l2.5 .8 2.2 -.3 -.9 -8.1 -7.1 .7 -.9 .6zM296.5 513.9l7.6 2.2 1.1 -.7 -3 -7.2 -1.4 0 -6.5 4zM296.5 513.9l-1.8 5 7.6 .7 1.8 -3.5zM303.1 521.4l-.8 -1.8 -7.6 -.7 -4.6 .7 5.2 7.5 3.2 -.9zM304.7 484.9l-2.6 1 -.8 4.9 4.5 1.1 7.2 -4.4 -3.2 -3.2zM305.8 491.9l-4.5 -1.1 -.9 .4 .9 8.1 2 .5 5 -1.1 2.2 -3.2zM311.7 514.9l-6.5 .5 -1.1 .7 -1.8 3.5 .8 1.8 5.5 1.7 2.6 -.8zM303.1 521.4l-4.6 4.8 10.1 -3.1zM320.3 481.1l1.5 -.9 .3 -1 -4.4 -3.5 -6.1 1 -1.5 3.6 .7 2.4zM313 487.5l3.2 1.2 1.5 -.2 2.6 -7.4 -9.5 1.6 -1 1.6zM313.6 494.5l2.6 -5.8 -3.2 -1.2 -7.2 4.4 4.7 3.6zM319.7 519.8l-7.6 -5 -.4 .1 -.5 7.4zM317.8 475.2l2.1 -1.1 -3.2 -2zM317.8 475.2l-.1 .5 4.3 3.3 1.5 -2.2 -3.6 -2.7zM321.8 480.2l-1.5 .9 -2.6 7.4 1.6 .4 8.7 -2.6zM320.4 500l4.2 -5.4 -11 -.1 -.6 .4zM323.1 512.2l-4.1 -1.3 -6.9 3.9 7.6 5 1.9 -.4zM322 479l.1 .2 3.5 -.5 -2.1 -1.9zM322.1 479.2l-.3 1 6.2 6.1 2.2 .5 1.5 -.7 -2.4 -3.5 -3.7 -3.9zM321.6 519.4l9.6 -3.1 .6 -2.8 -1.6 -1.6 -7.1 .3zM331.7 486.1l-1.5 .7 .4 6.3 5.6 1.1 -2.6 -5.2zM332.6 506.3l-2.4 5.6 1.6 1.6 3.7 .4 2.3 -2.7 .7 -1.7 .5 -3.9zM331.8 513.5l-.6 2.8 4.3 -2.4zM433.7 479l0 8.3 5.7 -.7 -2.9 -4.5zM433.8 479l-4.9 -4 -3.9 -1.9 -1.1 .4 4.9 5.2zM424.5 491.9l4.4 4.7 6.1 -5.3 -1.4 -3.9 -3.7 .1zM435.3 498.9l-6.3 -2 -5.8 3.9 9 4.5 4.6 -4.3zM424.5 514.6l5.9 1.8 6.5 -3.7 -2.4 -3.6 -2.4 -1.2 -2.5 .8 -6.6 3.9zM436.9 512.7l-6.5 3.7 .7 1.3 3.8 -2 3.4 -2.5zM423 473.3l.9 .2 1.1 -.4 -2.9 -1.1zM429.6 508.7l2.5 -.8 .1 -2.6 -9 -4.5 -2.2 .3 -.4 3zM420 504.9l1.1 7.2 1.9 .5 6.6 -3.9 -9 -4.6zM430.4 516.4l-5.9 -1.8 -1.8 3.5 1 1.5 3.9 -.7 3.5 -1.2zM413.8 475.4l2.5 1 3 -1 3.7 -2.1 -.9 -1.3 -9.1 -2.4zM414.7 492.4l-2.6 1.4 1.6 7.2 6.9 0 -3.5 -8.2zM421 501.1l-7.3 -.1 -2.7 .8 4.7 4.4 4.3 -1.3 .6 -.8zM416.5 512.5l4.6 -.4 -1.1 -7.2 -4.3 1.3 -2.2 1.4 2 4.4zM422.7 518.1l1.8 -3.5 -1.5 -2 -1.9 -.5 -4.6 .4 -4 7.2 2.3 .6zM422.7 518.1l-7.9 2.2 8.9 -.7zM413.4 529.5l.5 -.8 .3 -1 -1.4 .6zM405.2 474.5l1.7 .7 6.9 .2 -.8 -5.8 -6.9 -1.1zM409.2 482l6.1 -1 1 -4.6 -2.5 -1 -6.9 -.2zM415.3 481l-6.1 1 -.9 .5 0 3.3 2.5 2.4 1.6 .7 4.6 -4 -.6 -3.1zM410 502l3.7 -1 -1.6 -7.2 -5.1 1.2 -.6 5.8zM409.8 506.3l3.7 1.3 2.2 -1.4 -4.7 -4.4 -1 .2zM405.5 508.6l.3 3.3 9.7 .1 -2 -4.4 -3.7 -1.3zM405.8 511.9l-.8 .7 4.3 6.7 1.7 .6 1.5 -.2 4 -7.2 -1 -.5zM412.5 519.7l-1.5 .2 -3.9 6.4 1 1.6 4.7 .4 1.4 -.6 .5 -3.5 -.5 -1.1 -1.7 -1.9 0 -.6 1.5 -.3zM412.8 528.3l-4.7 -.4 -3.2 3.8 3.2 .6 3 -.7 2.3 -2.1zM398.8 515.1l-.3 5.3 10.8 -1.1 -4.3 -6.7 -1.7 .4zM400.4 524.4l6.7 1.9 3.9 -6.4 -1.7 -.6 -10.8 1.1zM408.1 527.9l-1 -1.6 -6.7 -1.9 -2.6 2.7 .3 2.4 6.8 2.2zM389.2 517.6l3.6 3.3 5.6 -.6 .4 -5.2 -4.2 -1.7zM397.8 527.1l-6 -1 .1 1 6.2 2.4zM384.6 515.7l.9 .9 3.7 1 5.4 -4.2 -2.5 -3.1zM383.2 521.8l.9 2.7 1.5 .5 3.5 -.7 3.7 -3.4 -3.6 -3.3 -3.7 -1zM391.8 526.1l-2.7 -1.8 -3.5 .7 6.3 2.1zM383.8 485.7l-1.2 -5.5 -8.1 -.2 1.6 6.6zM384.3 485.9l-.5 -.2 -7.7 .9 -1.6 1.3 0 .6 5.7 5.4 6.7 -.4 .3 -.2zM380.2 493.9l-1.5 1.1 -.7 3.1 1.1 1.4 6.7 1.2 1.1 -7.2zM377.5 518.9l5.7 2.9 2.3 -5.2 -.9 -.9 -1.2 -.3 -2.9 .2 -4.1 2.1zM383.2 521.8l-5.7 -2.9 .2 3.8 6.4 1.8zM374.7 472l3.5 -1.1 -.1 -1.8 -5 1.9zM374.1 478.4l9 -4.9 -.7 -.7 -4.2 -1.9 -3.5 1.1 -3.2 2.7zM376.1 486.6l-1.9 -6.8 -1.5 .4 -6 3.6 .7 2.6 7.1 1.5zM369.4 493.2l2.4 2.1 6.9 -.3 1.5 -1.1 -5.7 -5.4zM372.5 517.8l-2.1 2.8 7.3 2.1 -.2 -3.8 -1.1 -1.2zM360.8 480.4l5.9 3.4 6 -3.6 -9.8 -2 -2 1.6zM369.4 493.2l5.1 -4.7 0 -.6 -7.1 -1.5 -4.8 2.8 .7 3.6zM372.5 517.8l-3.7 -4.2 -2.5 -.2 -5.7 4.4 9.8 2.8zM367.4 486.4l-.7 -2.6 -5.9 -3.4 -5.2 6 7 2.8zM356.5 494.9l5.5 -.7 1.3 -1.4 -.7 -3.6 -7 -2.8 -2 3.4zM355.6 486.4l5.2 -6 -.1 -.4 -2.4 2.6zM353.6 489.8l-1.3 2.5 -1.7 3.7 5.1 -.7 .8 -.4zM351.3 513.1l2.5 2 4.9 2.1 -4.2 -4.4zM262.4 550l1.9 -1 -.1 -.6 -4.3 -3.3 -3.8 3.3zM256.1 548.4l-3.5 3.9 6.4 1.1 3.4 -3.4zM259 553.4l-6.4 -1.1 -2.9 4.2 6.7 3.9 2.9 -6.5zM267.2 541.3l-1.7 .4 -5.6 3.4 4.3 3.3 5.1 -5.8zM268.3 554.6l-2.5 -5 -1.5 -.6 -1.9 1 -3.4 3.4 .3 .5 6.5 2.6zM265.8 556.5l-6.5 -2.6 -2.9 6.5 .2 .6 9.1 -1.5zM268.3 561l-2.6 -1.5 -9.1 1.5 -.3 .7 2 3.1 4.1 1.1zM267 541l2.3 1.6 3.3 .1 2 -1.7 -.3 -2.8 -5.7 2zM269.9 549.5l5.2 -3.7 -2.5 -3.1 -3.3 -.1 -5.1 5.8 .1 .6 1.5 .6zM274.8 554.9l2.2 -1.4 -7.1 -4 -4.1 .1 2.5 5zM272.6 581.3l2.3 -6 -4.7 -1.6 -4 1.5 3.4 5zM269.7 588l-2.8 1.1 5.1 1.4zM277.6 546.8l-2.5 -1 -5.2 3.7 7.1 4 1.7 -.4 .6 -1zM278.7 553.1l-1.7 .4 -2.2 1.4 -1.4 5.9 7.2 1.9 2.4 -.4 -3.6 -8.7zM270.2 573.7l4.7 1.6 6.1 -1.3 -2.3 -3.5 -2.5 -1.6 -3.5 0zM274.9 575.3l-2.3 6 5.8 .4 2.8 -7.6zM272.7 581.3l-2.9 6.3 8.7 -.5 1.9 -4.4 -2 -1zM281 590.8l-2.5 -3.7 -8.7 .5 -.1 .4 2.3 2.5 7.3 2.4zM287.8 548.2l-4.1 -3.7 -6.1 2.3 1.7 5.3 5.6 -1.8zM289.1 554.1l-4.2 -3.8 -5.6 1.8 -.6 1 .7 .5 7.5 2zM279.4 553.6l3.7 8.6 5 -1.4 -1.2 -5.2zM278.7 570.5l6.9 -3.3 -2.6 -4.9 -2.4 .4 -4.4 6.2zM281 574l1.9 .2 7.3 -4.4 -4.6 -2.6 -6.9 3.3zM288 579.7l-.8 -2.6 -4.3 -2.9 -1.7 -.1 -2.8 7.6 2 1 5.2 .2zM285.6 582.9l-5.2 -.2 -1.9 4.4 2.5 3.7 7.9 -2.6 .5 -.6 -.2 -1.1zM287.9 596.3l2.6 -3.3 -1.6 -4.8 -7.9 2.6 -1.7 2.1 7.4 3.1zM289.1 554.1l5 -1 -1.3 -4.8 -5 -.1 -2.9 2.1zM288.1 560.8l3.7 .1 4.2 -6.6 -1.9 -1.2 -5 1 -2.2 1.5zM283.1 562.2l2.5 5 4.6 2.6 4.8 -.1 1.3 -.9 .3 -1 -5 -6.7 -3.5 -.3zM290.2 569.8l-7.3 4.4 4.3 2.9 7.9 -3.2 -.1 -4.2zM293.2 579.6l2.8 -4.7 -.9 -1 -7.9 3.2 .8 2.6zM297.5 582.2l-4.3 -2.6 -5.2 .1 -2.4 3.2 3.6 3.6zM298.1 589l-8.7 -1.4 -.5 .6 1.6 4.8 4.2 .5zM298.7 596l-4 -2.5 -4.2 -.5 -2.6 3.3 .4 .4 6.5 2.6zM295 546.4l-2.2 1.9 1.3 4.8 1.9 1.2 5.9 .4 1 -5.8zM301.9 554.7l-5.9 -.4 -4.2 6.6 11 -1 1.3 -4zM291.8 560.9l4.8 6.9 7.7 -4.4 -1.5 -3.5zM301.6 577.6l5.4 -1.4 -8.2 -6.6 -2.5 -.8 -1.3 .9 .1 4.2 .9 1zM297.5 582.2l.8 0 1.7 -1.7 1.6 -2.9 -5.6 -2.7 -2.8 4.7zM289.4 587.6l8.7 1.4 6.3 -.8 -6.1 -6 -.8 0 -8.3 4.3zM298.7 596l1.7 -.3 3.5 -7.2 -5.8 .5 -3.4 4.5zM304.4 597.7l-4 -2 -1.7 .3 -3.9 3.3 6.2 2 2.8 .2 .7 -.2zM302.8 559.9l1.5 3.5 4.7 1.1 4.4 -4.2 -.2 -.8 -7.5 -3.7 -1.6 .1zM304.3 563.4l-7.7 4.4 -.3 1 2.5 .8 11.4 .2 1.1 -2.6 -2.3 -2.7zM307 576.2l4.6 -1.6 -1.4 -4.8 -11.4 -.2zM300 580.5l7.6 1.7 .4 -.6 -1.1 -5.3 -5.3 1.3zM304.4 588.2l1.8 -.1 1.4 -5.9 -7.6 -1.7 -1.7 1.7zM303.9 588.5l-3.5 7.2 4 2 3 -.9 2.4 -2.6 0 -.5 -.8 -5 -2.8 -.6zM307.4 596.8l-3 .9 .1 3.6 2.4 -1.1 2.6 -2.3zM309.7 538.7l.2 2 7.2 2.7 1 -1.1zM307.9 546l.2 .6 3.6 1.8 6.3 -2 -.9 -3 -7.2 -2.7zM313.2 559.5l4.6 -3.6 -7.4 -2.9 -4.7 2.8zM313.4 560.3l-4.4 4.2 2.3 2.7 2.9 -.2 4.4 -4.8zM314.2 567l-2.9 .2 -1.1 2.6 1.4 4.8 3 .8 1.5 -.2 5.1 -6.9zM308 581.6l6.9 -.2 -.3 -6 -3 -.8 -4.7 1.7zM309 588.7l1.1 -.1 6.1 -3.4 .8 -1.2 -2.1 -2.6 -6.9 .2 -1.8 6.5zM310.1 588.6l-1.1 .1 .8 5 0 -.7 .9 -1.1 4.6 -.9zM309.5 597.9l.5 -1.9 -.2 -1.8 -2.4 2.6zM317.1 543.4l.9 3 4.6 1 1.3 -1.1 -5.8 -4zM316.1 575.2l8.3 1.6 1.7 -1.1 -4.2 -7.6 -.7 .2zM322.6 547.4l1.3 3 5.3 1 -5.3 -5.1zM321.9 568.1l4.2 7.6 4.1 -1.6 2.4 -4.7 -3.4 -2.2 -4.4 -.8zM326.1 575.7l-1.7 1.1 1 5 1.5 .8 4.4 .1 5.6 -1 .2 -.3 -7.5 -6.9zM331.5 555.9l1 0 -1.2 -1.7zM331.5 555.9l-1.2 1.5 .3 1.5 2.9 2.1 1.9 .2 -2.9 -5.3zM333.5 561l-4.3 6.2 3.4 2.2 5.8 -.5 -3 -7.7zM332.6 569.4l-2.4 4.7 8.7 1.8 0 -4.2 -.5 -2.8zM337.1 581.4l1.3 -3.3 .5 -2.2 -8.7 -1.8 -.6 .4zM433.8 551.8l.4 -.5 -1.5 -1.7 -4.7 -4.1zM421.8 546l4.9 0 1.4 -.5 -5.6 -3.6zM422.4 588l-1.5 1 2.8 -.7zM415 541.2l3 -1.3 -4.4 -1.6zM415 541.2l-1.6 1.8 2.7 4.2 1.8 .1 3.9 -1.3 .7 -4.1 -4.5 -2zM412.6 591.5l2.8 -.9 4.2 -1.2 -3 -.3 -3.1 1.2zM415.2 556.3l-2 -1 -6 .7 .9 5.2 5.4 .7zM408.1 561.2l-3.5 2.1 1.2 3 5.4 .6 2.5 -4.7 -.2 -.3zM407.1 573.9l6.5 -.8 .9 -3.6 -3.3 -2.6 -5.4 -.6 -.3 .2zM416.3 575.6l-2.7 -2.5 -6.5 .8 -2.4 .8 4.2 7.4zM413.5 590.3l-7 -3.7 -2.6 2.9 2.7 4.1 6 -2.1zM407.2 556l-4.3 -.9 -2.7 .9 -1.3 4.7 5.7 2.6 3.5 -2.1zM400.6 568.4l5.2 -2.1 -1.2 -3 -5.7 -2.6 -4.5 2.4zM402.7 574.6l2 .1 2.4 -.8 -1.6 -7.4 -4.9 1.9 -1.8 2.8 .4 1zM404.7 583.2l2.6 .5 1.3 -.7 .3 -.9 -4.2 -7.4 -2 -.1 -4.5 5.2zM407.3 583.7l-2.6 -.5 -10.9 3.8 -.3 1.4 1.1 1 9.3 .1 2.6 -2.9zM403.9 589.5l-6.2 .2 4.2 5.9 4.7 -2zM398.9 560.7l1.3 -4.7 -9 -1.5 -2.6 5.1 5 3.6zM388.9 568.5l9.9 2.7 1.8 -2.8 -6.2 -5.3 -.8 .1 -5.3 4.9zM393.9 574.7l5.3 -2.5 -.4 -1 -9.9 -2.7 1.9 5.3zM398.2 579.8l4.5 -5.2 -3.5 -2.4 -5.3 2.5 -.7 5.8zM392.6 580.8l1.2 6.2 10.9 -3.8 -6.5 -3.4zM397.7 589.7l-3.1 -.3 -.7 4 7.9 2.2zM401.8 595.6l-7.9 -2.2 -2.2 2.9 1.4 2.8zM388.6 559.6l2.5 -5.1 -5 .1 -4.8 2.3 5.8 2.8zM388.3 568.1l5.3 -4.9 -5 -3.6 -1.5 .1 -2.1 1.7 .6 5.9zM385.5 577l5.3 -3.2 -1.9 -5.3 -.6 -.3 -6.6 7.9zM391 580.5l1.6 .3 .6 -.3 .7 -5.8 -3.1 -.9 -5.3 3.2zM391 580.5l-5.2 2.4 -2.4 2.8 5.5 2.9 4.6 -.2 .3 -1.4 -1.2 -6.2zM394.6 589.4l-1.1 -1 -4.6 .2 -8 5.6 1.3 .7 9.5 1.4 2.2 -2.9zM391.7 596.3l-9.5 -1.4 2.4 6.7 4.3 -1 4.2 -1.5zM387.1 559.7l-5.8 -2.6 -4.1 3 2.5 2 5.3 -.7zM385.6 567.3l-.6 -5.9 -5.3 .7 1 4.7zM388.3 568.2l-2.7 -.9 -4.9 -.5 -3.3 1.3 2.9 8.2 1.4 -.2zM380.3 576.3l-1.5 .7 -.8 2.1 7.8 3.8 5.2 -2.4 -5.5 -3.5 -3.8 -.9zM375.3 583.1l3.2 2.8 4.9 -.2 2.4 -2.8 -7.8 -3.8zM378.5 585.9l.3 8.1 2.1 .2 8 -5.6 -5.5 -2.9zM378.2 594.2l.7 4.6 2.9 2 2.8 .8 -2.4 -6.7 -1.3 -.7zM374.2 541.4l2.7 -2.3 -5.3 2.2zM379.7 562.1l-2.5 -2 -4.2 -.1 -2 2.2 .8 4.1 1.5 1.5 4.1 .3 3.3 -1.3zM377.4 568.1l-4.1 -.3 -4.9 5.7 .2 .5 10.2 3 1.5 -.7zM365.9 586.8l4.2 3.6 7.3 -5.2 -2.1 -2.1 -1.1 0zM377.8 594.2l1 -.2 -.3 -8.1 -1.1 -.7 -7.3 5.2 .3 .5 4.4 .3 2.1 .7 .9 1.1zM378.2 594.2l-.4 0 0 3.1 1.1 1.5zM364.5 545.7l2.1 .7 3.2 -4.2zM359.1 568.6l.2 .3 9.1 4.6 4.9 -5.7 -1.5 -1.5 -11.5 .8zM370.4 590.9l-4.5 -4.1 -4.8 1.3 1.2 1.3 1 .3zM365.2 546.1l-.7 -.4 -1.9 1.6zM362.6 556.8l-2.7 -2 -6.9 4.8 -.4 .8 8.9 -.3zM353.5 560.5l6.9 6.4 2.4 -4.9 -1.3 -1.9zM361.1 588.1l-1.5 .5 2.7 .8zM358.3 552.8l-.8 -.3 -4.5 7.1 6.9 -4.8zM355.1 574.5l4.2 -5.6 -.2 -.3 -9.2 -2.1 -.8 3 -.5 5zM360.2 588.2l-5.5 -5.8 -3.3 .3 1.6 2 3.3 2.5 3.3 1.4z"/>
<path fill="#3c4eb4" stroke="#3c4eb4" stroke-width=".35" d="M275 504.8l-1.5 6.8 5.4 .6 1.6 -.6 4 -4.6 -5.8 -2.9zM273.5 511.6l-6.2 1.6 6.3 6.5 2.9 -.1 2.8 -1.8 -.4 -5.6zM291.1 473l-3 -5.3 -8.5 1.1 .9 3.4 8.7 2.1zM289.2 474.3l-8.7 -2.1 -1.4 3.1 6.8 3.3 1 -.2zM285.9 478.6l-5.7 4.6 -.2 1.4 2.9 1.8 1.7 0 6.1 -1.8 -1.6 -5.1 -2.2 -1.1zM293 492l-8.4 -5.6 -1.7 0 -.9 7.3 5.8 .6 4.6 -1.8zM279.8 499.1l8.9 1.7 .8 -1.1 -1.7 -5.4 -5.8 -.6 -3.2 1.3zM278.7 504.1l5.8 2.9 2.6 -.3 2 -1.5 -.4 -4.4 -8.9 -1.7zM288.4 515.8l3.5 -3.6 -4.8 -5.5 -2.6 .3 -4 4.6zM279.3 517.8l8.9 .2 .2 -2.2 -7.9 -4.2 -1.6 .6zM302.1 467.6l-3.8 -.3 -10.2 .4 3 5.3 .8 .1zM289.1 479.5l8.3 -.3 .8 -.9 -1.1 -2.5 -5.2 -2.7 -.8 -.1 -1.9 1.3 -2.3 4.1zM290.7 484.6l1.9 .5 5.2 -1.2 -.4 -4.7 -8.3 .3zM293.3 491.9l-.7 -6.8 -1.9 -.5 -6.1 1.8 8.4 5.6zM287.8 494.3l1.7 5.4 7.1 -.9 -4.2 -6.3zM294.8 504.9l4.3 -5.3 -2.5 -.8 -7.1 .9 -.8 1.1 .4 4.4zM300.8 508.2l-6 -3.3 -5.7 .3 -2 1.5 4.8 5.5 2.4 0zM297.1 475.8l5.7 -4.3 -.7 -3.9 -10.2 5.5zM298.2 478.3l4.1 0 4.1 -3.6 -3.6 -3.2 -5.7 4.3zM297.4 479.2l.4 4.7 4.3 2 2.6 -1 -1.5 -6.1 -.9 -.5 -4.1 0zM293.3 491.9l7.1 -.7 .9 -.4 .8 -4.9 -4.3 -2 -5.2 1.2zM302.2 508.2l2.1 -1.1 -1 -7.3 -2 -.5 -2.2 .3 -4.3 5.3 6 3.3zM306.4 474.7l2 .2 3.7 -4.9 -4.4 -1.4 -5.6 -1.1 .7 4zM302.3 478.3l.9 .5 6.9 1.5 1.5 -3.6 -3.2 -1.8 -2 -.2zM310.8 482.7l-.7 -2.4 -6.9 -1.5 1.5 6.1 5.1 -.6zM311.8 501.4l-3.5 -2.7 -5 1.1 1 7.3 4.6 -.1 1.3 -.4zM311.5 514.9l-2.6 -7.9 -4.6 .1 -2.1 1.1 3 7.2zM308.4 474.9l3.2 1.8 6.1 -1 .1 -.5 -1.1 -3.1 -4.6 -2.1zM320.4 500.9l0 -.9 -7.4 -5.1 -2.5 .6 -2.2 3.2 3.5 2.7 6.6 .2zM318.4 501.6l-6.6 -.2 -1.6 5.2 5.7 1zM310.2 506.6l-1.3 .4 2.6 7.9 .6 -.1 6.9 -3.9 -.8 -1.6 -2.3 -1.7zM318.2 509.3l6.5 -5.5 -2.6 -2.1 -1.7 -.8 -2 .7 -2.5 6zM326.6 504.4l-1.9 -.6 -6.5 5.5 .8 1.6 2.5 .7zM322.1 501.7l7.4 -2.9 -1.5 -4.4 -3.4 .2 -4.2 5.4 0 .9zM324.7 503.8l6.5 1.4 .5 -4.6 -2.2 -1.8 -7.4 2.9zM330.2 511.9l2.4 -5.6 -1.4 -1.1 -4.6 -.8 -5.1 7.2 1.6 .6zM330.6 493.1l-2.6 1.3 1.5 4.4 2.2 1.8 6 -2.7 -1.5 -3.7zM331.7 500.6l-.5 4.6 1.4 1.1 6.4 -.7 -.5 -4.8 -.8 -2.9zM436.8 501l-4.6 4.3 -.1 2.6 2.4 1.2 8.3 -2.6 .6 -1.1 -.2 -3.4zM434.5 509.1l2.4 3.6 1.4 .5 1.9 -1.9 2.6 -4.8zM427.4 486l2.5 1.5 3.8 -.2 0 -8.3 -4.9 -.3 -3.2 2.5zM425.6 481.2l3.2 -2.5 -4.9 -5.2 -.9 -.2 -3.7 2.1 4.5 5.8zM422.8 485.9l4.6 .1 -1.8 -4.8 -4.6 .5zM420.3 486.4l-.4 5.5 4.6 0 5.4 -4.4 -2.5 -1.5 -4.6 -.1zM420.6 501l2.6 -.2 5.8 -3.9 -4.5 -5 -4.6 0 -2.8 .9zM423.8 481.2l-4.5 -5.8 -3 1 -1 4.6 1.1 .8 4.6 -.1zM416.4 481.8l.6 3.1 3.3 1.5 2.5 -.5 -1.8 -4.2zM412.4 488.9l2.3 3.5 2.4 .4 2.8 -.9 .4 -5.5 -3.3 -1.5zM410.8 488.2l-10 4.2 .6 .5 5.6 2.1 5.1 -1.2 2.6 -1.4 -2.3 -3.5zM406.1 468.5l-6.2 -.8 -5.2 -.2 6.8 8.4 3.7 -1.4zM399.8 481.3l8.5 1.2 .9 -.5 -2.3 -6.8 -1.7 -.7 -3.7 1.4 -2.9 1.9zM401.1 487.8l7.2 -2 0 -3.3 -8.5 -1.2 -2.2 2.9zM401.1 487.8l-.2 4.3 9.9 -3.9 -2.5 -2.4zM407 495l-5.6 -2.1 -1.9 7.9 2.7 1 4.2 -1zM402.2 501.8l-.6 4.4 3.9 2.4 4.3 -2.3 .2 -4.3 -3.6 -1.2zM401.6 506.2l-6.2 1.7 7.9 5.1 1.7 -.4 .8 -.7 -.3 -3.3zM392.3 471l6.3 6.8 2.9 -1.9 -6.8 -8.4zM398.6 477.8l-6.3 -6.8 -6.2 3.5 6.5 3.5zM397.6 484.2l2.2 -2.9 -1.3 -3.4 -5.9 .1 -2.7 2.9 1 3.4 3 .7zM391.9 493.3l8.9 -.9 .3 -4.6 -3.5 -3.6 -3.7 .8zM399.5 500.8l1.9 -7.9 -.6 -.5 -8.8 .9 3.5 7.3zM399.5 500.8l-4 -.2 -3.3 2.1 -.1 5.4 3.3 -.2 6.2 -1.7 .6 -4.4zM392.1 510.3l2.5 3.1 4.2 1.7 4.5 -2.1 -7.9 -5.1 -3.3 .2zM382.4 472.8l2.9 1.7 .8 0 6.2 -3.5 2.3 -3.5 -8.3 -.1zM386.1 474.5l-.8 0 -2.1 5.2 6.7 1.2 2.7 -2.9zM389.9 480.9l-6.7 -1.2 -.6 .5 1.2 5.5 .5 .2 6.6 -1.6zM390.9 484.3l-6.6 1.6 2.9 7.4 4.7 0 2 -8.3zM395.5 500.6l-3.5 -7.3 -5.1 .2 -1.1 7.2 6.4 2zM385.8 500.7l-5.4 6 2.9 1.2 8.8 .2 .1 -5.4zM383.3 507.9l.1 7.5 1.2 .3 7.5 -5.4 -.2 -2.1zM378.2 470.9l4.2 1.9 3.9 -5.4 -8.2 1.7zM382.6 480.2l.6 -.5 2.1 -5.2 -2.2 -1 -9 4.9 .4 1.6zM380.4 506.7l5.3 -6 -6.6 -1.2 -2.9 5.6zM376.7 511.4l3.8 4.2 2.9 -.2 -.1 -7.5 -3.3 -1.2zM370.5 500.2l7.5 -2.1 .7 -3.1 -6.9 .3 -2.1 4.4zM379.1 499.5l-1.1 -1.4 -7.5 2.1 2.4 4.6 3.3 .3zM376.2 505.1l-3.3 -.3 -1.6 .8 -1.4 7.1 6.8 -1.3 3.3 -4.7zM368.8 513.6l3.7 4.2 3.9 -.1 4.1 -2.1 -3.8 -4.2 -6.8 1.3zM371.5 474.7l3.2 -2.7 -1.6 -1 -5.7 3.3zM362.9 478.2l9.8 2 1.5 -.4 -.1 -1.4 -2.6 -3.7 -4.1 -.4zM364.5 499.2l5.2 .5 2.1 -4.4 -2.4 -2.1 -6.1 -.4 -1.3 1.4zM362 501.1l2.2 5 7.1 -.5 1.6 -.8 -2.4 -4.6 -.8 -.5 -5.2 -.5zM364.2 506.1l-1.2 .9 -.4 3.8 3.7 2.6 2.5 .2 1.1 -.9 1.4 -7.1zM355.7 495.3l1.6 6.1 4.7 -.3 2.5 -1.9 -2.5 -5 -5.5 .7zM354.8 505.7l8.2 1.3 1.2 -.9 -2.2 -5 -4.7 .3zM354.9 505.7l1.2 6 6.5 -.9 .4 -3.8zM366.3 513.4l-3.7 -2.6 -6.5 .9 -1.6 1.1 4.2 4.4 1.9 .6zM350.6 496l-1.2 3.8 7.8 1.5 -1.5 -6zM354.8 505.7l2.5 -4.3 -7.9 -1.6 -.8 5.9zM354.5 512.8l1.6 -1.1 -1.2 -6 -6.3 0 .5 3.8 1.8 3.2 .4 .4zM249.7 563.5l6.6 -1.8 .3 -.7 -.2 -.6 -6.7 -3.9 -2.8 5.7zM247.5 569.3l2.2 -5.8 -2.8 -1.3 -2.1 7.3zM251.7 574.4l.2 -3.5 -4.4 -1.6 -2.7 .2 -.6 5.9 .3 2.2 4.7 -.7zM249.2 576.9l-4.7 .9 1.5 3.4 5 1.1 1.8 -2zM251 582.3l-5 -1.1 1.5 2.1 1.4 1.1 2.3 1zM249.7 563.5l-2.2 5.8 4.4 1.6 2.6 -.6 3.8 -5.5 -2 -3.1zM263.3 574.6l-1.2 -1.9 -7.6 -2.4 -2.6 .6 -.2 3.5 7.5 3.3zM258.4 579.8l.8 -2.1 -7.5 -3.3 -2.5 2.5 3.6 3.4zM260.8 582.8l-2.4 -3 -5.6 .5 -1.8 2 .2 3.1 6.1 1.6zM262.4 565.9l-4.1 -1.1 -3.8 5.5 7.6 2.4 3.1 -4.7zM260.8 582.6l8.8 -2.4 -3.4 -5 -2.9 -.6 -4.1 3.1 -.8 2.1zM269.8 587.6l-9 -4.8 -3.5 4.2 9.6 2.1 2.8 -1.1zM260.8 582.8l9 4.5 2.9 -6 -3.1 -1.1zM274.6 541l7.3 -.7 1.7 -4.2 -9.3 2.1zM283.7 544.5l.5 -1.6 -2.3 -2.6 -7.3 .7 -2 1.7 2.5 3.1 2.5 1zM281.9 540.3l2.3 2.6 5.5 -1 -.7 -6.3 -5.4 .5zM294.4 535.6l-5.4 0 .7 6.3 5.8 1.7 1 -.8zM289.7 541.9l-5.5 1 -.5 1.6 4.1 3.7 5 .1 2.2 -1.9 .5 -2.8zM304.1 537.1l-3.5 -.8 -6.2 -.7 2.1 7.2 1.7 -.3zM298.2 542.5l-1.7 .3 -1 .8 -.5 2.8 7.9 2.5 5.2 -2.3 -.2 -.6 -7.8 -3.1zM317.8 555.9l2.6 -.6 .5 -1.8 -9.1 -4 -1.4 3.5zM320.9 553.5l3 -3.1 -1.3 -3 -4.6 -1 -6.3 2 .1 1.1zM320.8 555.6l-.4 -.3 -2.6 .6 -4.6 3.6 .2 .8 5.2 1.9 3.7 .1zM322.3 562.3l-3.7 -.1 -4.4 4.8 7 1.3 .7 -.2 2.9 -1.7 -1.8 -3.8zM323.9 550.4l-3 3.1 -.5 1.8 9.9 2.1 1.2 -1.5 -.2 -1.7 -1.6 -2.3 -.5 -.5zM330.6 558.9l-.3 -1.5 -9.5 -1.8 1.5 6.7 .7 .3zM324.8 566.4l4.4 .8 4.3 -6.2 -2.9 -2.1 -7.6 3.7zM434.2 551.3l-.7 1.9 2.3 .1zM439.8 560l-4 -6.7 -2.3 -.1 -3.4 1.9zM442.9 570.1l-.9 -4.1 -1.8 -4.9 -1.8 .9 -1.6 6.1 3.3 1.5zM438.1 576.2l5.2 -3.8 -.4 -2.3 -2.8 -.5 -7.9 5.6zM438.1 576.2l1.1 3 3.3 .3 .9 -4.1 -.1 -3zM436.9 585.2l3.2 -1.9 2.4 -3.8 -3.3 -.3 -3 1.8zM429.6 555.2l3.9 -2 .3 -1.4 -5.8 -6.3 -1.3 .5 1.1 8.9zM430.1 555.1l-.5 .1 .5 4.7 1.3 2.1 7 0 1.8 -.9 -.4 -1.1zM438.4 562l-7 0 -1.9 4.9 1.5 .8 5.8 .4zM440.1 569.6l-3.3 -1.5 -5.8 -.4 -1.4 6.7 1 1.1 1.6 -.3zM430.6 575.5l-1.1 3.2 6.7 2.3 3 -1.8 -1.1 -3 -5.9 -1zM423.9 582l10 4.1 3 -.9 -.7 -4.2 -6.7 -2.3zM423.6 582l5.9 -3.3 1.1 -3.2 -1 -1.1 -5.8 -1.1 -6.1 2.7zM423.7 588.3l6.8 -1.3 3.4 -.9 -10.3 -4.1 -1.2 6zM411.9 583.7l11.6 -1.7 -5.8 -6 -1.4 -.4 -7.4 6.5 -.3 .9zM419.6 589.4l1.3 -.4 1.5 -1 1.2 -6 -11.7 1.7 4.7 5.4zM415 541.2l-1.4 -2.9 -8.6 -2.1 4.7 6.1 3.7 .7zM406.3 549l7.8 -.2 2 -1.6 -2.7 -4.2 -3.7 -.7 -5 1.9 -1.5 2.5zM414.1 548.8l-7.8 .2 -3.4 6.1 4.3 .9 6 -.7zM416.6 589.1l-4.7 -5.4 -3.3 -.7 -1.3 .7 -.8 2.9 7 3.7zM399.4 540.4l5.3 3.8 5 -1.9 -4.7 -6.1 -2.6 -.3zM404.7 544.2l-5.3 -3.8 -3 1.3 -.4 2.1 3.7 3.3 3.5 -.4zM399.7 547.1l-2 1.9 3.6 6.4 1.6 -.3 3.4 -6.1 -3.1 -2.3zM392.6 540.3l3.8 1.4 3 -1.3 3 -4.5 -4.6 -.4 -6.8 .3zM396 543.8l-8.6 3.5 2.9 2.2 7.4 -.5 2 -1.9zM397.7 549l-7.4 .5 .8 5 9.1 1.5 1.1 -.6zM385.3 543.2l7.3 -2.9 -1.6 -4.5 -8.3 1.5zM385.1 544l.7 2.8 1.6 .5 8.6 -3.5 .4 -2.1 -3.8 -1.4 -7.3 2.9zM390.3 549.5l-2.9 -2.2 -1.6 -.5 -3.1 1.4 -.9 2.8 4.3 3.6 5 -.1zM385.1 544l.2 -.8 -2.6 -5.9 -5.8 1.8 -2.7 2.3 1 1zM386.1 554.6l-4.3 -3.6 -2.8 2.9 2.3 3zM370.1 555.6l1.2 -2.2 -1.1 -3.7 -.9 -.4 -11 3.5 1.6 2 2.7 2zM362.8 562l8.2 .2 2 -2.2 -2.9 -4.4 -7.5 1.2 -1.1 3.3zM360.4 566.9l11.4 -.6 -.8 -4.1 -8.2 -.2zM358.3 552.8l11 -3.5 -2.7 -2.9 -1.4 -.3 -2.6 1.2 -2.2 2 -2.9 3.2z"/>
<path fill="#ba2a3c" stroke="#ba2a3c" stroke-width=".35" d="M147.3 667.3l.2 -.4 -3.7 -1.8 -.9 1.9zM143.3 669.3l1.9 1.2 3 -.1 .2 -.3 -1.2 -2.7zM176.5 663.9l3.1 -.3 .2 -.3 -4.8 -1.2z"/>
<path fill="#ba243c" stroke="#ba243c" stroke-width=".35" d="M143.3 669.3l3.9 -1.9 .1 -.1 -4.4 -.3 -.4 2.2zM159.4 664.3l-.5 -.4 -.6 -.5 .4 1.1zM180.4 664.7l-1.6 2.4 1.3 .5 2.6 0 -1.2 -2.7zM167.3 664.4l.5 -.6 -.3 -.6 -1.3 1z"/>
<path fill="#cc363c" stroke="#cc363c" stroke-width=".35" d="M145.2 670.5l-1.9 -1.2 -.8 -.1 .7 1.7 1.5 1.1zM147.7 663.8l2.2 -1.7 -3.8 1.1zM170.9 672.8l-2.4 .1 2.4 .7zM166 687.6l-1.4 0 3 1z"/>
<path fill="#c02a3c" stroke="#c02a3c" stroke-width=".35" d="M148.8 665l-1.1 -1.2 -1.6 -.6 -2.3 1.9 3.7 1.8z"/>
<path fill="#a8123c" stroke="#a8123c" stroke-width=".35" d="M148.2 670.4l-3 .1 -.5 1.5 3.6 .6 .8 -.8zM152.8 673l-.5 -.9 -3.2 -.3 -.9 .9 .7 .1 -.5 .7 .3 1.2 1.1 .5 2.1 -.7zM178.2 672.5l2 -.2 2.2 -1.5 -1.9 -.2 -2.4 1.6zM180.1 667.6l-2.3 -.5 -1.4 .8 .1 2.2 3.4 -.4zM178.1 672.2l2.4 -1.6 -.6 -.9 -3.4 .4 -.2 .4zM172.8 672.7l2.9 2.5 1.3 -1.1 -.4 -1.3 1.6 -.3 -.6 -.6zM168.1 668.2l-2.1 1.8 1 .6 3.5 -.2 1 -1.3z"/>
<path fill="#b41e3c" stroke="#b41e3c" stroke-width=".35" d="M147.7 663.8l1.1 1.2 2.9 -.5 .2 -2.6 -2 .2zM152.4 668.7l.9 2.3 3.5 -.9 -.4 -1.9 -3.2 -.5zM156.9 672.2l-2.2 1.3 4.3 -1.2zM180.4 664.7l-.8 -1.1 -3.1 .3 -.2 1.2 1.5 2 1 0z"/>
<path fill="#3684b4" stroke="#3684b4" stroke-width=".35" d="M153.2 667.7l.1 -1.4 -1.6 -1.8 -2.9 .5 -1.1 1.8 5.1 1.2zM166 670l2.1 -1.8 -.2 -1.6 -.6 -.4 -2.8 .3 -.7 1.7 -.3 1.9z"/>
<path fill="#3072ae" stroke="#3072ae" stroke-width=".35" d="M147.7 666.8l-.5 .6 1.2 2.7 4 -1.4 .4 -.7zM154.6 661.9l-2.7 0 -.2 2.6 .4 .3 3.1 -1zM171.8 664.7l.6 .8 3.9 -.4 .2 -1.2 -1.5 -1.8 -.9 -.1zM176.3 665.1l-3.9 .4 .9 2.4 3.1 0 1.4 -.8zM147.9 679.4l-1.8 .3 -.8 1 1.7 2 1.7 -.3 1.5 -1.9zM180.1 686.9l-2.1 0 -2 1.4 .4 .6 4.6 -1.2z"/>
<path fill="#ea663c" stroke="#ea663c" stroke-width=".35" d="M152.4 668.7l-4.2 1.7 .9 1.4 3.2 .3 1 -1.1z"/>
<path fill="#f6c04e" stroke="#f6c04e" stroke-width=".35" d="M152.1 664.8l1.2 1.5 4.2 -1.5 -2.3 -1z"/>
<path fill="#ae183c" stroke="#ae183c" stroke-width=".35" d="M152.3 672.1l.5 .9 1.9 .5 2.2 -1.3 -3.6 -1.1zM176.3 670.5l-2.2 .2 -1.6 1.9 5.1 -.7z"/>
<path fill="#e45a3c" stroke="#e45a3c" stroke-width=".35" d="M151.9 674.5l1.4 -.5 1.5 -.4 -2 -.6zM153.3 671l3.6 1.2 1.6 -.2 -1.7 -1.9zM160.2 688l1.2 -.9 .6 -1.4 -2.7 -.3 -.7 1.9z"/>
<path fill="#f0d866" stroke="#f0d866" stroke-width=".35" d="M155.2 663.8l2.3 1 .9 0 .3 -.3 -.4 -1.1 -.7 -.5 -3 -1zM151.8 689.9l2.4 .9 1.1 -.2 -.8 -2 -1.8 -.6z"/>
<path fill="#f6ae48" stroke="#f6ae48" stroke-width=".35" d="M156.4 668.2l2 -.8 .6 -.8 -.6 -1.8 -.9 0 -4.2 1.5 -.1 1.4z"/>
<path fill="#c0303c" stroke="#c0303c" stroke-width=".35" d="M157.6 670.6l2.4 -1.5 -1.6 -1.7 -2 .8 .4 1.9zM157 684.5l1.5 -.1 .4 -.9 -3.5 -2 -1.5 2.2zM159.4 683.2l-.9 1.2 .8 1 2.7 .3 -.6 -2.9zM158.6 687.3l-.6 .2 .2 1.1 2 -.6z"/>
<path fill="#d8483c" stroke="#d8483c" stroke-width=".35" d="M159.4 664.3l-1 .5 .6 1.8 2.2 .2zM173.8 683.1l-.5 -.5 -3.6 .2 1.9 2.3 .8 -.1z"/>
<path fill="#2a54a2" stroke="#2a54a2" stroke-width=".35" d="M162 669.8l-.8 -3 -2.2 -.2 -.6 .8 1.6 1.7z"/>
<path fill="#3066a8" stroke="#3066a8" stroke-width=".35" d="M160 669.1l-2.4 1.5 1.4 1.7 1.9 -.7 1 -1.1 .1 -.7zM169.5 663.6l2.3 1.1 2.3 -2.7 -3.5 0z"/>
<path fill="#ae1e3c" stroke="#ae1e3c" stroke-width=".35" d="M179.6 663.6l.8 1.1 1 0 -1.4 -1.3z"/>
<path fill="#c6363c" stroke="#c6363c" stroke-width=".35" d="M180.1 667.6l-.2 2.1 .6 .9 1.9 .2 .5 -1.2 -.2 -2zM172.5 672.6l1.6 -1.9 -2.1 -1.7 -1.5 1.4 .9 2.1zM172.8 672.7l-1.9 .1 0 .8 4.4 1.5zM166.5 682.8l1.2 2.4 .7 .5 1.5 .3 1.7 -.9 -1.9 -2.3zM166.5 680.1l-1.1 .6 -1.4 2.4 2.4 -.3 .5 -2.2zM166.4 682.8l-2.4 .3 -.4 2.8 4.1 -.7z"/>
<path fill="#367eb4" stroke="#367eb4" stroke-width=".35" d="M176.3 670.5l.1 -2.6 -3.1 0 -1.3 1.1 2.1 1.7zM179.1 680.9l3.1 1.4 -2.3 -2.8zM170.8 680.3l1.4 .2 1.7 -.9 -1.3 -2.2 -3 .6z"/>
<path fill="#4e9cba" stroke="#4e9cba" stroke-width=".35" d="M172 665.3l-2.9 1.1 3.5 1.9 .7 -.4 -.9 -2.4z"/>
<path fill="#f6d254" stroke="#f6d254" stroke-width=".35" d="M169.1 666.4l-1.2 .2 .2 1.6 3.4 .9 1.1 -.8zM152.7 688l-2.9 -.2 -1.2 .6 3.2 1.5z"/>
<path fill="#f09042" stroke="#f09042" stroke-width=".35" d="M167.8 663.8l1.7 -.2 1.1 -1.6 -2.7 .9 -.4 .3z"/>
<path fill="#c6d296" stroke="#c6d296" stroke-width=".35" d="M169.5 663.6l-1.7 .2 -.5 .6 0 1.8 .6 .4 1.2 -.2 2.9 -1.1 -.2 -.6z"/>
<path fill="#de543c" stroke="#de543c" stroke-width=".35" d="M170.5 670.4l-3.5 .2 1.5 2.3 2.9 -.4z"/>
<path fill="#e4543c" stroke="#e4543c" stroke-width=".35" d="M167.3 666.2l0 -1.8 -1.1 -.2 -1.7 2.3z"/>
<path fill="#3678ae" stroke="#3678ae" stroke-width=".35" d="M163.5 670.1l1.1 1.5 3.7 1.3 -1.3 -2.3 -1 -.6z"/>
<path fill="#306cae" stroke="#306cae" stroke-width=".35" d="M145.3 680.7l.8 -1 -.4 -.3 -1.5 1.4zM146.3 683.4l.7 -.7 -1.7 -2 -1.1 .1 -1.1 1.9z"/>
<path fill="#2a4ea2" stroke="#2a4ea2" stroke-width=".35" d="M143.1 682.7l-.5 1.9 3 .6 .6 -.4 .1 -1.4zM180.2 686.6l.8 1.1 1 -.4 .9 -1.3 0 -1.3zM178 686.9l2.1 0 -1 -3 -.5 0 -1.5 2.1z"/>
<path fill="#3060a8" stroke="#3060a8" stroke-width=".35" d="M145.6 685.2l-3 -.6 0 1.4 .9 1.3 1.6 .5zM182.9 684.7l-.4 -1.8 -3.4 1 1.1 2.7z"/>
<path fill="#ea6c42" stroke="#ea6c42" stroke-width=".35" d="M146.1 679.7l1.8 -.3 .4 -1.4 -2.6 1.4zM154.5 688.6l1.8 -.9 -.9 -1.8 -2.1 0 -.6 2.1z"/>
<path fill="#ded890" stroke="#ded890" stroke-width=".35" d="M148.7 682.4l-1.7 .3 -.7 .7 -.1 1.4 3.7 .4 .8 -1.5z"/>
<path fill="#2a5aa2" stroke="#2a5aa2" stroke-width=".35" d="M148.6 688.4l1.2 -.6 -.1 -2.4 -3.5 -.6 -.6 .4 -.5 2.6z"/>
<path fill="#54a2b4" stroke="#54a2b4" stroke-width=".35" d="M147.9 679.4l2.3 1.1 2.5 -.5 -.2 -2.7 -4.2 .7z"/>
<path fill="#ea7842" stroke="#ea7842" stroke-width=".35" d="M150.2 680.5l-1.5 1.9 2 1.3 1.6 -.2 -.4 -3.2zM152.7 680l1.3 .3 3.1 -1.9 -4.6 -1.1z"/>
<path fill="#f0d872" stroke="#f0d872" stroke-width=".35" d="M150.7 683.7l-.8 1.5 3.3 .6 .4 -2 -1.3 -.3zM175.3 679.6l1.8 1.7 2 -.4 .8 -1.4 -2.7 -1.5z"/>
<path fill="#f6b448" stroke="#f6b448" stroke-width=".35" d="M153.2 685.8l-3.5 -.4 .1 2.4 2.9 .2zM177.1 681.3l-1.8 -1.7 -1.4 0 -1.7 .9 1.6 2.6 2.8 -.3zM177.3 683.3l-.7 -.5 -2.8 .3 -1.4 1.9 1.6 .9 1.3 -.3z"/>
<path fill="#f6d866" stroke="#f6d866" stroke-width=".35" d="M154 680.3l-1.3 -.3 -.8 .3 .4 3.2 1.6 .2 1.5 -2.2z"/>
<path fill="#f6d25a" stroke="#f6d25a" stroke-width=".35" d="M153.2 685.8l2.2 .1 1.6 -1.4 -3.4 -.7z"/>
<path fill="#cc3c3c" stroke="#cc3c3c" stroke-width=".35" d="M154 680.3l1.3 .8 4.1 -1.1 -2.3 -1.6zM155.3 690.6l.7 -.6 .2 -1.1 2 -.3 -.2 -1.1 -1.7 .2 -1.8 .9zM169.8 682.8l1.4 -2.4 -4.3 .2 -.5 2.2zM169.6 688.8l.7 -.5 -.4 -2.3 -1.5 -.3 -2.4 1.9 1.6 1zM163.6 685.9l1 1.7 1.4 0 2.4 -1.9 -.7 -.5z"/>
<path fill="#d2423c" stroke="#d2423c" stroke-width=".35" d="M155.3 681.1l3.6 2.4 .5 -.3 -.2 -3zM156.3 687.7l2.3 -.4 .7 -1.9 -.8 -1 -1.5 .1 -1.6 1.4zM169.6 678l-2.5 1.2 -.7 .5 .1 .4 .4 .5 3.9 -.3z"/>
<path fill="#c6303c" stroke="#c6303c" stroke-width=".35" d="M159.4 683.2l2 -.4 -2 -2.8 -.2 .2z"/>
<path fill="#2a60a8" stroke="#2a60a8" stroke-width=".35" d="M179.1 680.9l-2 .4 -.5 1.5 2.5 1.1 3.4 -1 -.3 -.6z"/>
<path fill="#fcd254" stroke="#fcd254" stroke-width=".35" d="M177.1 686l1.5 -2.1 -1.3 -.6 -2 2.3z"/>
<path fill="#368aba" stroke="#368aba" stroke-width=".35" d="M177.2 678l-2.1 -.5 -2.5 -.1 1.3 2.2 1.4 0z"/>
<path fill="#f6a848" stroke="#f6a848" stroke-width=".35" d="M174 685.9l.4 1.9 1.6 .5 2 -1.4 -.9 -.9 -1.8 -.4z"/>
<path fill="#f0a248" stroke="#f0a248" stroke-width=".35" d="M176 688.3l-1.6 -.5 -2 .9 .7 1.5 3.3 -1.3z"/>
<path fill="#f08442" stroke="#f08442" stroke-width=".35" d="M169.8 682.8l3.5 -.2 -1.1 -2.1 -1 -.1z"/>
<path fill="#f09648" stroke="#f09648" stroke-width=".35" d="M172.4 685l-2.5 1 .4 2.3 2.1 .4 2 -.9 -.4 -1.9z"/>
<path fill="#fccc4e" stroke="#fccc4e" stroke-width=".35" d="M172.4 688.7l-2.1 -.4 -.7 .5 .2 1.5 1.2 .6 2.1 -.7z"/>
<path fill="#485484" stroke="#485484" stroke-width=".35" d="M380.6 662.8l-1.3 .6 -.9 .8 2.6 -.5zM382.5 684.5l3.4 2.8 .6 -.2 .8 -2.2 -3.9 -1.6zM400.8 686.7l.8 2 1.6 0 1.5 -.9 0 -1.4 -2.3 -.8 -.6 .1z"/>
<path fill="#48488a" stroke="#48488a" stroke-width=".35" d="M378.4 666.3l0 -2.1 -1.7 2.7zM387.3 667.2l4.1 .7 .6 -.8 -.8 -1.7 -3.7 1zM392.5 670.2l.1 -1.1 -1.2 -1.2 -.8 .1 -1.8 2zM388.4 670.2l2.4 1.8 1.9 .1 -.2 -1.9 -3.7 -.2zM413.8 666.8l-.6 2.4 1.2 .5 2.4 -.3 -.3 -2zM399.4 683.4l.4 1.1 2 1.2 .6 -.1 1.7 -3 -.4 -.4 -2 .1z"/>
<path fill="#42367e" stroke="#42367e" stroke-width=".35" d="M378.9 669.5l2 -2.7 -2.5 -.5 -1.7 .6 -.3 1.5zM412.9 664.9l2.3 -.2 -2.3 -1.7 -.4 .9zM414.4 669.7l-1.1 2.8 2.5 -1.3 1 -1.8zM408.6 666.4l1.3 2 3.1 -2.6 -.1 -.9 -1.3 0zM400.3 664.1l2.8 .1 1.2 -2.2 -1.9 .6zM393.5 680.7l-.9 .4 -.1 .8 .8 1 2.1 .5 -1.1 -2.1zM394.3 687.9l-2.1 .4 -.1 .3zM406.7 685.5l3.5 .9 1.2 -1 -1.4 -2 -1.3 -.7 -1 .3zM405.3 686.3l2.9 1.7 1.9 -.9 .1 -.7 -3.5 -.9zM404.1 682.6l3.6 .4 1 -.3 -.9 -2.1 -1.6 -.8 -2.6 1.2 .1 1.2zM403 678.1l-1.5 .7 -1.7 1.3 3.5 .7zM399.8 684.5l-.4 -1.1 -1.3 -.9 -.8 2.5z"/>
<path fill="#3c3072" stroke="#3c3072" stroke-width=".35" d="M379.6 670.2l-.7 -.7 -2.5 -1.1 0 1.2 1.3 1.9zM386.2 670l2.2 .2 2.2 -2.2 -3.3 -.8 -1.2 .6zM387.8 673l-.7 -.4 -2.3 .6 .1 1.6 3.1 -1.1zM403.6 672.4l2.3 0 1.2 -2.8 -4 1.2 -.1 1.2zM383.4 683.3l3.9 1.6 2.1 -1 -.5 -.6 -3.4 -.7zM389.6 680.2l3 .9 .9 -.4 -.2 -.7 -1.1 -.8 -2.5 -1.2zM392.2 688.3l-2.2 -.3 -2.3 2.7 1.5 -.1 .6 -.6 .2 -1.1 2.1 -.3zM407.2 690.1l1 -2.1 -2.9 -1.7 -.6 .1 0 1.4z"/>
<path fill="#3c2a6c" stroke="#3c2a6c" stroke-width=".35" d="M383 662.3l-2.4 .5 .4 .9 1 .3zM389.4 683.9l3.1 -2 .1 -.8 -3 -.9 -1.1 .5 .4 2.6z"/>
<path fill="#3c3078" stroke="#3c3078" stroke-width=".35" d="M381 663.7l-2.6 .5 0 2.1 3.9 .4 .7 -1.8zM392.7 663.9l-2 -1.3 -2.2 -.7 -.3 2 3.1 .9zM407.1 663.7l4.5 1.2 1 -.2 -.1 -.8 -4.1 -1.9 -.7 -.1zM405.2 664.9l-2.1 -.7 -2.8 -.1 -.4 .2 1.7 3.6 2.7 -.6zM389.2 687.6l1.3 -3.1 -1.1 -.6 -2.1 1 -.8 2.2z"/>
<path fill="#483c84" stroke="#483c84" stroke-width=".35" d="M381.9 670.4l.6 -3.5 -1.6 -.1 -2 2.7 .7 .7zM382.6 672.2l0 -1.3 -.7 -.5 -2.3 -.2 -1.9 1.3 2.4 1 1.8 .2zM388.2 663.9l-1.3 .7 .6 1.8 3.7 -1 .1 -.6zM403 672l.1 -1.2 -1.9 -1.4 -2.5 2.4 2 .7zM379 679.8l2.3 -.6 -.6 -.6zM393.3 682.9l-1.1 2.1 .4 .2 3.1 -.9 -.3 -.9zM393.3 687.8l1 .1 .9 -.8 .6 -1.5 -.1 -1.3 -3.1 .9zM406 690.5l-3.1 -1.7 .4 .3 0 .9 .6 .6 .9 .3z"/>
<path fill="#48607e" stroke="#48607e" stroke-width=".35" d="M382 664l1 .9 2 -.6 .1 -2.3 -2.1 .3zM393.3 682.9l-.8 -1 -3 2 2.7 1.1z"/>
<path fill="#bac630" stroke="#bac630" stroke-width=".35" d="M387.3 667.2l.2 -.8 -.6 -1.8 -1.9 -.3 -2 .6 -.7 1.8 3.8 1.1zM376.3 685.5l.7 1.6 1.6 .7 .1 -2.1z"/>
<path fill="#84c63c" stroke="#84c63c" stroke-width=".35" d="M386.1 667.8l-3.6 -.9 -.6 3.5 .7 .5 3.6 -.9zM408.3 666.3l-2.4 -1.6 -.7 .2 -.9 2.4 1.3 .7zM399.9 664.3l-1.6 2.3 1.9 2 .7 0 .7 -.7zM401.2 669.4l-.3 -.8 -3.5 .4 0 1.5 1.3 1.3z"/>
<path fill="#423c7e" stroke="#423c7e" stroke-width=".35" d="M382.6 670.9l0 1.3 2.2 1 2.3 -.6 -.6 -2.4 -.3 -.2z"/>
<path fill="#423078" stroke="#423078" stroke-width=".35" d="M384.8 673.2l-2.2 -1 -.7 .5 .8 .1 -.5 .9 .6 1.2 .5 .2 1.6 -.3zM381.3 679.2l1.3 .3 2.1 -2.1 -4 1.2zM390 688l-3.5 -.9 -1.7 1.2 1.4 1.9 1.5 .5zM411.7 688.4l-1.6 -1.3 -1.9 .9 -.9 2zM404.7 687.8l-1.5 .9 2.8 1.8 1.2 -.4z"/>
<path fill="#a8c636" stroke="#a8c636" stroke-width=".35" d="M385 664.3l1.9 .3 1.3 -.7 .3 -2 -3.4 .1z"/>
<path fill="#423678" stroke="#423678" stroke-width=".35" d="M387.1 672.6l.7 .4 3 -1 -2.4 -1.8 -1.9 0zM407.2 669.6l-1.6 -1.6 -1.3 -.7 -1.6 .5 2.1 2.3zM385.5 682.6l2.2 -1.9 -1.4 -.5 -3 .3 -.5 1.9 .6 .7zM384.8 688.3l-2.3 .4 3.7 1.5zM390.5 684.5l-1.3 3.1 3 .7 1.1 -.5 -.7 -2.6zM403.6 681l2.6 -1.2 -.1 -2.4 -3.1 .7zM399.4 683.4l2.3 -1.1 -2.6 -1.5 -1 1.7zM400.8 686.7l1 -1 -2 -1.2 -2.5 .5 .3 1.4 .6 1z"/>
<path fill="#48428a" stroke="#48428a" stroke-width=".35" d="M392.6 672.1l-1.8 -.1 -3 1 .2 .7 4.5 -1.3zM413.2 669.2l.6 -2.4 -.8 -1 -3.1 2.6 0 .7zM403.6 673.3l2.8 .9 .2 -1.5 -.7 -.3 -2.3 0z"/>
<path fill="#362a6c" stroke="#362a6c" stroke-width=".35" d="M391.3 664.8l-.1 .6 .8 1.7 2.8 -.5 -2.1 -2.7zM410.5 672.6l-1.3 2.5 .9 -.1 .6 -.6 .2 -.9 -.5 -.7 1.2 -.1zM388.9 683.3l-.4 -2.6 -.8 0 -2.2 1.9zM404.7 686.4l2 -.9 1 -2.5 -3.6 -.4 -1.7 3zM401.7 682.3l2 -.1 -.1 -1.2 -3.8 -.9 -.7 .7zM400.8 686.7l-2.6 .7 1.1 .7 2.3 .6z"/>
<path fill="#3c966c" stroke="#3c966c" stroke-width=".35" d="M395.7 668.9l-.9 -2.3 -2.8 .5 -.6 .8 1.2 1.2zM408.8 682.7l3.1 -2.1 -2.2 -1.6 -1.9 1.6z"/>
<path fill="#489c66" stroke="#489c66" stroke-width=".35" d="M392.7 672.1l1.1 -.1 1.5 -.8 .5 -1.1 -.1 -1.2 -3.1 .2zM400.2 668.6l-1.9 -2 -.9 2.4z"/>
<path fill="#483c8a" stroke="#483c8a" stroke-width=".35" d="M412.9 664.9l.1 .9 .8 1 2.7 .6 -1.3 -2.7zM412.9 663l-1.7 -.5 -2.8 -.5 4.1 1.9zM404.8 670.1l-2.1 -2.3 -1.1 .1 -.7 .7 .3 .8 1.9 1.4zM383 688.5l1.8 -.2 1.1 -1 -3.4 -2.8 -2.3 1zM409.7 679l2.2 1.6 1.6 -.2 .6 -.6 -1.7 -1.2 -2.9 -1z"/>
<path fill="#3c2a72" stroke="#3c2a72" stroke-width=".35" d="M414.4 669.7l-1.2 -.5 -3.3 -.1 -.7 .5 1.1 2.9 1.3 .2 1.7 -.2z"/>
<path fill="#78c042" stroke="#78c042" stroke-width=".35" d="M408.6 666.4l3 -1.5 -4.5 -1.2 -1.2 1z"/>
<path fill="#9cc636" stroke="#9cc636" stroke-width=".35" d="M409.9 669.1l0 -.7 -1.6 -2.1 -2.7 1.7 1.6 1.6 2 0zM383.3 680.5l-.7 -1 -1.3 -.3 -.6 .4 -1.6 2.4 3.7 .4z"/>
<path fill="#42667e" stroke="#42667e" stroke-width=".35" d="M406.6 672.7l3.7 -.2 -1.1 -2.9 -2.1 0 -1.2 2.8zM406.6 672.7l-.2 1.5 2.8 .9 1.3 -2.5z"/>
<path fill="#96c636" stroke="#96c636" stroke-width=".35" d="M407.1 663.7l.6 -1.8 -2.7 0 -.7 .1 -1.2 2.2 2.1 .7 .7 -.2z"/>
<path fill="#485a84" stroke="#485a84" stroke-width=".35" d="M400.7 672.5l1.6 .4 1.3 .4 0 -.9 -.6 -.4z"/>
<path fill="#aec636" stroke="#aec636" stroke-width=".35" d="M380.7 679.6l-1.7 .2 -1.6 1.9 1.7 .3z"/>
<path fill="#ccc630" stroke="#ccc630" stroke-width=".35" d="M376.3 685.5l2.8 .1 -.3 -3.6 -1.4 -.3z"/>
<path fill="#f0c62a" stroke="#f0c62a" stroke-width=".35" d="M382.8 682.4l-4 -.4 .3 3.6 1.1 -.1 2.3 -1 .9 -1.2z"/>
<path fill="#6cba48" stroke="#6cba48" stroke-width=".35" d="M383 688.5l-2.8 -3 -1.5 .2 -.1 2.1 3.9 .9zM386.3 680.2l2.2 .5 1.1 -.5 .1 -2.2 -3.5 -.7z"/>
<path fill="#4ea260" stroke="#4ea260" stroke-width=".35" d="M382.6 679.5l.7 1 3 -.3 -.1 -2.9 -1.5 .1z"/>
<path fill="#60ae54" stroke="#60ae54" stroke-width=".35" d="M414.6 682.3l1.4 0 -1.9 -2.5 -.6 .6z"/>
<path fill="#b4c630" stroke="#b4c630" stroke-width=".35" d="M414.6 682.3l-.4 .4 .4 2.7 2.1 .5 -.7 -3.6z"/>
<path fill="#72ba48" stroke="#72ba48" stroke-width=".35" d="M416.7 685.9l-2.6 -.4 -1.2 2.6 2.5 -.6 .9 -.7z"/>
<path fill="#7ec63c" stroke="#7ec63c" stroke-width=".35" d="M408.8 682.7l1.2 .7 4.2 -.7 .4 -.4 -1.1 -1.9 -1.6 .2z"/>
<path fill="#c0c630" stroke="#c0c630" stroke-width=".35" d="M414.6 685.4l-.4 -2.7 -4.2 .7 1.4 2z"/>
<path fill="#a2c636" stroke="#a2c636" stroke-width=".35" d="M411.7 688.4l1.2 -.3 1.2 -2.6 -2.7 -.1 -1.2 1 -.1 .7z"/>
<path fill="#66b44e" stroke="#66b44e" stroke-width=".35" d="M409.7 679l-.2 -1.4 -3.4 -.2 .1 2.4 1.6 .8z"/>
<text x="-0.3" y="14.4" font-size="21.50" text-anchor="start" fill="#000">A</text>
<text x="126.5" y="11.0" font-size="12.50" text-anchor="middle" fill="#000">P1</text>
<text x="342.5" y="11.0" font-size="12.50" text-anchor="middle" fill="#000">P2</text>
<text x="557.5" y="11.0" font-size="12.50" text-anchor="middle" fill="#000">P3</text>
<path d="M46.3,59.9 Q55.8,55.8 60.6,53.8 Q65.4,51.8 70.2,50.7 Q75.0,49.7 80.7,49.0 Q86.4,48.4 88.3,46.7 L90.2,45.0" fill="none" stroke="#000" stroke-opacity="0.4" stroke-width="1.31" stroke-linecap="round" filter="url(#sb)"/>
<path d="M56.8,66.6 Q65.4,60.5 70.2,58.8 Q75.0,57.1 80.7,55.1 L86.4,53.1" fill="none" stroke="#000" stroke-opacity="0.4" stroke-width="1.31" stroke-linecap="round" filter="url(#sb)"/>
<path d="M83.5,20.0 Q78.8,28.1 76.9,32.5 Q75.0,36.9 72.6,41.0 L70.2,45.0" fill="none" stroke="#000" stroke-opacity="0.4" stroke-width="1.31" stroke-linecap="round" filter="url(#sb)"/>
<path d="M91.2,22.1 Q85.5,31.5 83.5,36.2 L81.6,41.0" fill="none" stroke="#000" stroke-opacity="0.4" stroke-width="1.31" stroke-linecap="round" filter="url(#sb)"/>
<path d="M63.5,74.0 Q76.9,68.6 84.5,65.9 Q92.1,63.2 98.8,61.2 L105.5,59.2" fill="none" stroke="#000" stroke-opacity="0.4" stroke-width="1.31" stroke-linecap="round" filter="url(#sb)"/>
<path d="M36.8,55.8 Q46.3,53.8 50.6,51.8 L54.9,49.7" fill="none" stroke="#000" stroke-opacity="0.4" stroke-width="1.31" stroke-linecap="round" filter="url(#sb)"/>
<path d="M39.6,36.2 Q51.1,30.8 56.8,29.5 L62.5,28.1" fill="none" stroke="#000" stroke-opacity="0.4" stroke-width="1.31" stroke-linecap="round" filter="url(#sb)"/>
<path d="M87.4,37.6 Q96.9,38.9 103.1,41.6 L109.3,44.3" fill="none" stroke="#000" stroke-opacity="0.4" stroke-width="1.31" stroke-linecap="round" filter="url(#sb)"/>
<defs><path id="a1ao" d="M27.5 54.4l.3 -2.9 .6 -3.9 .8 -4 1.2 -3.7 1.8 -3.3 2.1 -3.2 2.5 -2.8 2.5 -2.5 2.7 -1.9 2.8 -1.5 3.1 -1.3 3.2 -1.1 3.6 -1 3.9 -.8 3.8 -.6 3.5 -.5 2.8 -.4 2.5 -.3 2.3 -.1 2.6 -.1 2.8 -.1 2.9 -.1 3 .1 3.1 .4 3.3 .8 3.4 1 3.4 1.4 3.2 1.7 3.2 2.2 3 2.5 3 2.7 2.6 2.9 2.2 3.1 2.1 3.4 1.7 3.4 1.4 3.1 1.1 2.9 .7 2.7 .4 2.6 .1 2.3 -.1 2.1 -.4 1.9 -.7 1.7 -1.1 1.6 -1.3 1.3 -1.6 1.1 -2 .9 -2.5 1.1 -3.2 1.1 -3.7 1.1 -4 1.1 -3.8 1.1 -3.8 1 -3.8 1.1 -3.7 1.1 -3.5 1.1 -3.2 1.2 -3 1.2 -2.9 1.1 -2.7 .9 -2.5 .9 -2.3 .8 -2.1 .6 -1.9 .2 -1.6 -.2 -1.4 -.5 -1.2 -.8 -.9 -1 -.8 -1.2 -.5 -1.6 -.2 -1.6 -.1 -1.4 .5 -1.1 1 -1.1 .8 -.8 -.1 -.7 -1.1 -.3 -1.8 0 -2.2 0 -2.2 -.2 -2.4 -.3 -2.7 -.4 -2.7 -.5 -2.5 -.8 -2.5 -1.1 -2.3 -1.4 -2.2 -1.5 -1.8 -1.5 -1.4 -1.5 -1 -1.5 -.7 -1.5 -.6 -1.4 -.5 -1 -.3 -.7 -.2 -1z"/></defs>
<use href="#a1ao" fill="#000" filter="url(#ishL)"/>
<use href="#a1ao" fill="none" stroke="#444" stroke-width="0.60"/>
<path d="M208.6,59.9 Q199.0,55.8 194.3,53.8 Q189.5,51.8 184.7,50.7 Q179.9,49.7 174.2,49.0 Q168.5,48.4 166.6,46.7 L164.7,45.0" fill="none" stroke="#000" stroke-opacity="0.4" stroke-width="1.31" stroke-linecap="round" filter="url(#sb)"/>
<path d="M198.1,66.6 Q189.5,60.5 184.7,58.8 Q179.9,57.1 174.2,55.1 L168.5,53.1" fill="none" stroke="#000" stroke-opacity="0.4" stroke-width="1.31" stroke-linecap="round" filter="url(#sb)"/>
<path d="M171.4,20.0 Q176.1,28.1 178.0,32.5 Q179.9,36.9 182.3,41.0 L184.7,45.0" fill="none" stroke="#000" stroke-opacity="0.4" stroke-width="1.31" stroke-linecap="round" filter="url(#sb)"/>
<path d="M163.7,22.1 Q169.4,31.5 171.4,36.2 L173.3,41.0" fill="none" stroke="#000" stroke-opacity="0.4" stroke-width="1.31" stroke-linecap="round" filter="url(#sb)"/>
<path d="M191.4,74.0 Q178.0,68.6 170.4,65.9 Q162.8,63.2 156.1,61.2 L149.4,59.2" fill="none" stroke="#000" stroke-opacity="0.4" stroke-width="1.31" stroke-linecap="round" filter="url(#sb)"/>
<path d="M218.1,55.8 Q208.6,53.8 204.3,51.8 L200.0,49.7" fill="none" stroke="#000" stroke-opacity="0.4" stroke-width="1.31" stroke-linecap="round" filter="url(#sb)"/>
<path d="M215.3,36.2 Q203.8,30.8 198.1,29.5 L192.4,28.1" fill="none" stroke="#000" stroke-opacity="0.4" stroke-width="1.31" stroke-linecap="round" filter="url(#sb)"/>
<path d="M167.5,37.6 Q158.0,38.9 151.8,41.6 L145.6,44.3" fill="none" stroke="#000" stroke-opacity="0.4" stroke-width="1.31" stroke-linecap="round" filter="url(#sb)"/>
<defs><path id="a1bo" d="M227.4 54.4l-.3 -2.9 -.6 -3.9 -.8 -4 -1.2 -3.7 -1.8 -3.3 -2.1 -3.2 -2.5 -2.8 -2.5 -2.5 -2.7 -1.9 -2.8 -1.5 -3.1 -1.3 -3.2 -1.1 -3.6 -1 -3.9 -.8 -3.8 -.6 -3.5 -.5 -2.8 -.4 -2.5 -.3 -2.3 -.1 -2.6 -.1 -2.8 -.1 -2.9 -.1 -3 .1 -3.1 .4 -3.3 .8 -3.4 1 -3.4 1.4 -3.2 1.7 -3.2 2.2 -3 2.5 -3 2.7 -2.6 2.9 -2.2 3.1 -2.1 3.4 -1.7 3.4 -1.4 3.1 -1.1 2.9 -.7 2.7 -.4 2.6 -.1 2.3 .1 2.1 .4 1.9 .7 1.7 1.1 1.6 1.3 1.3 1.6 1.1 2 .9 2.5 1.1 3.2 1.1 3.7 1.1 4 1.1 3.8 1.1 3.8 1 3.8 1.1 3.7 1.1 3.5 1.1 3.2 1.2 3 1.2 2.9 1.1 2.7 .9 2.5 .9 2.3 .8 2.1 .6 1.9 .2 1.6 -.2 1.4 -.5 1.2 -.8 .9 -1 .8 -1.2 .5 -1.6 .2 -1.6 .1 -1.4 -.5 -1.1 -1 -1.1 -.8 -.8 .1 -.7 1.1 -.3 1.8 0 2.2 0 2.2 -.2 2.4 -.3 2.7 -.4 2.7 -.5 2.5 -.8 2.5 -1.1 2.3 -1.4 2.2 -1.5 1.8 -1.5 1.4 -1.5 1 -1.5 .7 -1.5 .6 -1.4 .5 -1 .3 -.7 .2 -1z"/></defs>
<use href="#a1bo" fill="#000" filter="url(#ishL)"/>
<use href="#a1bo" fill="none" stroke="#444" stroke-width="0.60"/>
<linearGradient id="a1cw" x1="0.8" y1="0.15" x2="0.25" y2="0.95"><stop offset="0" stop-color="#d0d0d0"/><stop offset="0.5" stop-color="#c8c8c8"/><stop offset="0.72" stop-color="#a4a4a4"/><stop offset="0.85" stop-color="#9a9a9a"/><stop offset="1" stop-color="#b4b4b4"/></linearGradient>
<path d="M57.3 122.1l.2 -1.5 .4 -1.4 .5 -1.4 .6 -1.2 .8 -1 .9 -.9 1.1 -.7 1.5 -.6 1.8 -.5 2.2 -.4 2.3 -.2 2.5 -.3 2.6 -.3 2.7 -.4 2.8 -.2 2.8 0 2.8 .3 2.8 .5 2.8 .6 2.6 .9 2.5 1 2.4 1.2 2.1 1.3 1.8 1.4 1.6 1.4 1.2 1.5 .9 1.5 .6 1.6 .3 1.7 -.2 1.7 -.4 1.7 -.8 1.4 -1.3 1.1 -1.8 .8 -1.9 .6 -1.5 .8 -1.1 .8 -.8 .8 -.7 .8 -.7 .9 -.8 .9 -.8 .9 -.7 1 -.4 1 -.1 1.2 .3 1.2 .3 1.3 0 1.2 -.1 1.1 -.2 1.2 -.3 1.1 -.5 1 -.6 .9 -.8 1 -.9 .8 -1 .6 -1.2 .4 -1.4 .2 -1.4 .1 -1.5 -.2 -1.4 -.4 -1.5 -.6 -1.5 -.8 -1.7 -.9 -1.9 -.9 -2.1 -1 -2.1 -1.2 -2 -1.3 -1.8 -1.5 -1.8 -1.6 -1.6 -1.7 -1.4 -1.6 -1.2 -1.5 -1 -1.3 -.8 -1.4 -.8 -1.4 -.7 -1.6 -.7 -1.6 -.5 -1.7 -.3 -1.6 -.2 -1.7 -.1 -1.7 .1 -1.6z" fill="url(#a1cw)"/>
<path d="M36.8,137.2 Q46.3,133.9 51.6,132.2 L56.8,130.5" fill="none" stroke="#000" stroke-opacity="0.4" stroke-width="1.31" stroke-linecap="round" filter="url(#sb)"/>
<path d="M33.9,114.3 Q43.4,117.0 48.2,118.0 L53.0,119.0" fill="none" stroke="#000" stroke-opacity="0.4" stroke-width="1.31" stroke-linecap="round" filter="url(#sb)"/>
<path d="M58.7,108.9 Q72.1,106.2 79.2,106.2 Q86.4,106.2 94.1,108.2 L101.7,110.2" fill="none" stroke="#000" stroke-opacity="0.4" stroke-width="1.31" stroke-linecap="round" filter="url(#sb)"/>
<path d="M67.3,89.3 Q69.2,95.4 71.1,98.1 L73.0,100.8" fill="none" stroke="#000" stroke-opacity="0.4" stroke-width="1.31" stroke-linecap="round" filter="url(#sb)"/>
<defs><path id="a1co" d="M27.4 128.3l.1 -2.9 .5 -3.3 .9 -3.4 1 -3.2 1.2 -2.9 1.4 -2.9 1.7 -2.7 1.9 -2.6 2.1 -2.5 2.3 -2.3 2.6 -2.1 2.7 -2 3 -1.7 3.2 -1.5 3.3 -1.3 3.4 -1.1 3.5 -.9 3.7 -.7 3.7 -.5 3.6 -.3 3.6 0 3.6 .3 3.6 .5 3.7 .8 3.6 1 3.8 1.3 3.6 1.6 3.4 1.7 3.1 2.1 3 2.3 2.7 2.5 2.4 2.7 2.3 3.1 1.9 3.3 1.7 3.4 1.4 3 1 2.7 .6 2.5 .4 2.3 .1 2.2 -.1 2.2 -.5 2 -.6 2 -.9 1.8 -1.1 1.6 -1.2 1.4 -1.6 1.4 -1.7 1.2 -2.1 1 -2.4 .8 -2.6 .8 -2.6 .6 -2.9 .4 -3.2 .2 -2.9 .3 -2.1 .6 -.8 1.2 0 1.5 .2 1.6 -.2 1.4 -.8 1.1 -1 1 -1.2 .8 -1.1 .6 -1 .5 -1 .2 -1.1 .1 -1.7 -.3 -2.4 -.7 -2.8 -1 -3.1 -1.2 -3 -1.1 -2.7 -1.2 -2.8 -1.3 -2.8 -1.2 -2.9 -1.1 -3.2 -1.1 -3.3 -1.1 -3.3 -1 -3.1 -.8 -3 -.7 -3 -.6 -2.7 -.5 -2.5 -.7 -2.2 -.6 -1.9 -.6 -1.6 -.8 -1.5 -1.1 -1.2 -1.6 -1 -1.8 -.8 -2.2z"/></defs>
<use href="#a1co" fill="#000" filter="url(#ishL)"/>
<use href="#a1co" fill="none" stroke="#444" stroke-width="0.60"/>
<linearGradient id="a1dw" x1="0.2" y1="0.15" x2="0.75" y2="0.95"><stop offset="0" stop-color="#d0d0d0"/><stop offset="0.5" stop-color="#c8c8c8"/><stop offset="0.72" stop-color="#a4a4a4"/><stop offset="0.85" stop-color="#9a9a9a"/><stop offset="1" stop-color="#b4b4b4"/></linearGradient>
<path d="M197.6 122.1l-.2 -1.5 -.4 -1.4 -.5 -1.4 -.6 -1.2 -.8 -1 -.9 -.9 -1.1 -.7 -1.5 -.6 -1.8 -.5 -2.2 -.4 -2.3 -.2 -2.5 -.3 -2.6 -.3 -2.7 -.4 -2.8 -.2 -2.8 0 -2.8 .3 -2.8 .5 -2.8 .6 -2.7 .9 -2.4 1 -2.4 1.2 -2.1 1.3 -1.8 1.4 -1.6 1.4 -1.2 1.5 -.9 1.5 -.6 1.6 -.3 1.7 .2 1.7 .4 1.7 .8 1.4 1.3 1.1 1.8 .8 1.9 .6 1.5 .8 1.1 .8 .8 .8 .7 .8 .7 .9 .8 .9 .8 .9 .7 1 .4 1 .1 1.2 -.3 1.2 -.3 1.3 -.1 1.2 .2 1.1 .2 1.2 .3 1.1 .5 1 .6 .9 .8 1 .9 .8 1 .6 1.2 .4 1.4 .2 1.4 .1 1.5 -.2 1.4 -.4 1.5 -.6 1.5 -.8 1.7 -.9 1.9 -.9 2.1 -1 2.1 -1.2 2 -1.3 1.8 -1.5 1.8 -1.6 1.6 -1.7 1.4 -1.6 1.2 -1.5 1 -1.3 .8 -1.4 .8 -1.4 .7 -1.6 .7 -1.6 .5 -1.7 .3 -1.6 .2 -1.7 .1 -1.7 -.1 -1.6z" fill="url(#a1dw)"/>
<path d="M218.1,137.2 Q208.6,133.9 203.3,132.2 L198.1,130.5" fill="none" stroke="#000" stroke-opacity="0.4" stroke-width="1.31" stroke-linecap="round" filter="url(#sb)"/>
<path d="M221.0,114.3 Q211.5,117.0 206.7,118.0 L201.9,119.0" fill="none" stroke="#000" stroke-opacity="0.4" stroke-width="1.31" stroke-linecap="round" filter="url(#sb)"/>
<path d="M196.2,108.9 Q182.8,106.2 175.7,106.2 Q168.5,106.2 160.8,108.2 L153.2,110.2" fill="none" stroke="#000" stroke-opacity="0.4" stroke-width="1.31" stroke-linecap="round" filter="url(#sb)"/>
<path d="M187.6,89.3 Q185.7,95.4 183.8,98.1 L181.9,100.8" fill="none" stroke="#000" stroke-opacity="0.4" stroke-width="1.31" stroke-linecap="round" filter="url(#sb)"/>
<defs><path id="a1do" d="M227.5 128.3l-.1 -2.9 -.5 -3.3 -.9 -3.4 -1 -3.2 -1.2 -2.9 -1.4 -2.9 -1.7 -2.7 -1.9 -2.6 -2.1 -2.5 -2.3 -2.3 -2.6 -2.1 -2.7 -2 -3 -1.7 -3.2 -1.5 -3.3 -1.3 -3.4 -1.1 -3.5 -.9 -3.7 -.7 -3.7 -.5 -3.6 -.3 -3.6 0 -3.6 .3 -3.6 .5 -3.7 .8 -3.6 1 -3.8 1.3 -3.6 1.6 -3.4 1.7 -3.1 2.1 -3 2.3 -2.7 2.5 -2.4 2.7 -2.3 3.1 -1.9 3.3 -1.7 3.4 -1.4 3 -1 2.7 -.6 2.5 -.4 2.3 -.1 2.2 .1 2.2 .5 2 .6 2 .9 1.8 1.1 1.6 1.2 1.4 1.6 1.4 1.7 1.2 2.1 1 2.4 .8 2.6 .8 2.6 .6 2.9 .4 3.2 .2 2.9 .3 2.1 .6 .8 1.2 0 1.5 -.2 1.6 .2 1.4 .8 1.1 1 1 1.2 .8 1.1 .6 1 .5 1 .2 1.1 .1 1.7 -.3 2.4 -.7 2.8 -1 3.1 -1.2 3 -1.1 2.7 -1.2 2.8 -1.3 2.8 -1.2 2.9 -1.1 3.2 -1.1 3.3 -1.1 3.3 -1 3.1 -.8 3 -.7 3 -.6 2.7 -.5 2.5 -.7 2.2 -.6 1.9 -.6 1.6 -.8 1.5 -1.1 1.2 -1.6 1 -1.8 .8 -2.2z"/></defs>
<use href="#a1do" fill="#000" filter="url(#ishL)"/>
<use href="#a1do" fill="none" stroke="#444" stroke-width="0.60"/>
<path d="M261.7,59.9 Q271.2,55.8 276.0,53.8 Q280.8,51.8 285.6,50.7 Q290.4,49.7 296.1,49.0 Q301.8,48.4 303.7,46.7 L305.6,45.0" fill="none" stroke="#000" stroke-opacity="0.4" stroke-width="1.31" stroke-linecap="round" filter="url(#sb)"/>
<path d="M272.2,66.6 Q280.8,60.5 285.6,58.8 Q290.4,57.1 296.1,55.1 L301.8,53.1" fill="none" stroke="#000" stroke-opacity="0.4" stroke-width="1.31" stroke-linecap="round" filter="url(#sb)"/>
<path d="M298.9,20.0 Q294.2,28.1 292.3,32.5 Q290.4,36.9 288.0,41.0 L285.6,45.0" fill="none" stroke="#000" stroke-opacity="0.4" stroke-width="1.31" stroke-linecap="round" filter="url(#sb)"/>
<path d="M306.6,22.1 Q300.9,31.5 298.9,36.2 L297.0,41.0" fill="none" stroke="#000" stroke-opacity="0.4" stroke-width="1.31" stroke-linecap="round" filter="url(#sb)"/>
<path d="M278.9,74.0 Q292.3,68.6 299.9,65.9 Q307.5,63.2 314.2,61.2 L320.9,59.2" fill="none" stroke="#000" stroke-opacity="0.4" stroke-width="1.31" stroke-linecap="round" filter="url(#sb)"/>
<path d="M252.2,55.8 Q261.7,53.8 266.0,51.8 L270.3,49.7" fill="none" stroke="#000" stroke-opacity="0.4" stroke-width="1.31" stroke-linecap="round" filter="url(#sb)"/>
<path d="M255.0,36.2 Q266.5,30.8 272.2,29.5 L277.9,28.1" fill="none" stroke="#000" stroke-opacity="0.4" stroke-width="1.31" stroke-linecap="round" filter="url(#sb)"/>
<path d="M302.8,37.6 Q312.3,38.9 318.5,41.6 L324.7,44.3" fill="none" stroke="#000" stroke-opacity="0.4" stroke-width="1.31" stroke-linecap="round" filter="url(#sb)"/>
<defs><path id="a2ao" d="M242.9 54.4l.3 -2.9 .6 -3.9 .8 -4 1.2 -3.7 1.8 -3.3 2.1 -3.2 2.5 -2.8 2.5 -2.5 2.7 -1.9 2.8 -1.5 3.1 -1.3 3.2 -1.1 3.6 -1 3.9 -.8 3.8 -.6 3.5 -.5 2.8 -.4 2.5 -.3 2.3 -.1 2.6 -.1 2.8 -.1 2.9 -.1 3 .1 3.1 .4 3.3 .8 3.4 1 3.4 1.4 3.2 1.7 3.2 2.2 3 2.5 3 2.7 2.6 2.9 2.2 3.1 2.1 3.4 1.7 3.4 1.4 3.1 1.1 2.9 .7 2.7 .4 2.6 .1 2.3 -.1 2.1 -.4 1.9 -.7 1.7 -1.1 1.6 -1.3 1.3 -1.6 1.1 -2 .9 -2.5 1.1 -3.2 1.1 -3.7 1.1 -4 1.1 -3.8 1.1 -3.8 1 -3.8 1.1 -3.7 1.1 -3.5 1.1 -3.2 1.2 -3 1.2 -2.9 1.1 -2.7 .9 -2.5 .9 -2.3 .8 -2.1 .6 -1.9 .2 -1.6 -.2 -1.4 -.5 -1.2 -.8 -.9 -1 -.8 -1.2 -.5 -1.6 -.2 -1.6 -.1 -1.4 .5 -1.1 1 -1.1 .8 -.8 -.1 -.7 -1.1 -.3 -1.8 0 -2.2 0 -2.2 -.2 -2.4 -.3 -2.7 -.4 -2.7 -.5 -2.5 -.8 -2.5 -1.1 -2.3 -1.4 -2.2 -1.5 -1.8 -1.5 -1.4 -1.5 -1 -1.5 -.7 -1.5 -.6 -1.4 -.5 -1 -.3 -.7 -.2 -1z"/></defs>
<use href="#a2ao" fill="#000" filter="url(#ishL)"/>
<use href="#a2ao" fill="none" stroke="#444" stroke-width="0.60"/>
<path d="M423.8,59.9 Q414.2,55.8 409.5,53.8 Q404.7,51.8 399.9,50.7 Q395.1,49.7 389.4,49.0 Q383.7,48.4 381.8,46.7 L379.9,45.0" fill="none" stroke="#000" stroke-opacity="0.4" stroke-width="1.31" stroke-linecap="round" filter="url(#sb)"/>
<path d="M413.3,66.6 Q404.7,60.5 399.9,58.8 Q395.1,57.1 389.4,55.1 L383.7,53.1" fill="none" stroke="#000" stroke-opacity="0.4" stroke-width="1.31" stroke-linecap="round" filter="url(#sb)"/>
<path d="M386.6,20.0 Q391.3,28.1 393.2,32.5 Q395.1,36.9 397.5,41.0 L399.9,45.0" fill="none" stroke="#000" stroke-opacity="0.4" stroke-width="1.31" stroke-linecap="round" filter="url(#sb)"/>
<path d="M378.9,22.1 Q384.6,31.5 386.6,36.2 L388.5,41.0" fill="none" stroke="#000" stroke-opacity="0.4" stroke-width="1.31" stroke-linecap="round" filter="url(#sb)"/>
<path d="M406.6,74.0 Q393.2,68.6 385.6,65.9 Q378.0,63.2 371.3,61.2 L364.6,59.2" fill="none" stroke="#000" stroke-opacity="0.4" stroke-width="1.31" stroke-linecap="round" filter="url(#sb)"/>
<path d="M433.3,55.8 Q423.8,53.8 419.5,51.8 L415.2,49.7" fill="none" stroke="#000" stroke-opacity="0.4" stroke-width="1.31" stroke-linecap="round" filter="url(#sb)"/>
<path d="M430.5,36.2 Q419.0,30.8 413.3,29.5 L407.6,28.1" fill="none" stroke="#000" stroke-opacity="0.4" stroke-width="1.31" stroke-linecap="round" filter="url(#sb)"/>
<path d="M382.7,37.6 Q373.2,38.9 367.0,41.6 L360.8,44.3" fill="none" stroke="#000" stroke-opacity="0.4" stroke-width="1.31" stroke-linecap="round" filter="url(#sb)"/>
<defs><path id="a2bo" d="M442.6 54.4l-.3 -2.9 -.6 -3.9 -.8 -4 -1.2 -3.7 -1.8 -3.3 -2.1 -3.2 -2.5 -2.8 -2.5 -2.5 -2.7 -1.9 -2.8 -1.5 -3.1 -1.3 -3.2 -1.1 -3.6 -1 -3.9 -.8 -3.8 -.6 -3.5 -.5 -2.8 -.4 -2.5 -.3 -2.3 -.1 -2.6 -.1 -2.8 -.1 -2.9 -.1 -3 .1 -3.1 .4 -3.3 .8 -3.4 1 -3.4 1.4 -3.2 1.7 -3.2 2.2 -3 2.5 -3 2.7 -2.6 2.9 -2.2 3.1 -2.1 3.4 -1.7 3.4 -1.4 3.1 -1.1 2.9 -.7 2.7 -.4 2.6 -.1 2.3 .1 2.1 .4 1.9 .7 1.7 1.1 1.6 1.3 1.3 1.6 1.1 2 .9 2.5 1.1 3.2 1.1 3.7 1.1 4 1.1 3.8 1.1 3.8 1 3.8 1.1 3.7 1.1 3.5 1.1 3.2 1.2 3 1.2 2.9 1.1 2.7 .9 2.5 .9 2.3 .8 2.1 .6 1.9 .2 1.6 -.2 1.4 -.5 1.2 -.8 .9 -1 .8 -1.2 .5 -1.6 .2 -1.6 .1 -1.4 -.5 -1.1 -1 -1.1 -.8 -.8 .1 -.7 1.1 -.3 1.8 0 2.2 0 2.2 -.2 2.4 -.3 2.7 -.4 2.7 -.5 2.5 -.8 2.5 -1.1 2.3 -1.4 2.2 -1.5 1.8 -1.5 1.4 -1.5 1 -1.5 .7 -1.5 .6 -1.4 .5 -1 .3 -.7 .2 -1z"/></defs>
<use href="#a2bo" fill="#000" filter="url(#ishL)"/>
<use href="#a2bo" fill="none" stroke="#444" stroke-width="0.60"/>
<linearGradient id="a2cw" x1="0.8" y1="0.15" x2="0.25" y2="0.95"><stop offset="0" stop-color="#d0d0d0"/><stop offset="0.5" stop-color="#c8c8c8"/><stop offset="0.72" stop-color="#a4a4a4"/><stop offset="0.85" stop-color="#9a9a9a"/><stop offset="1" stop-color="#b4b4b4"/></linearGradient>
<path d="M272.7 122.1l.2 -1.5 .4 -1.4 .5 -1.4 .6 -1.2 .8 -1 .9 -.9 1.1 -.7 1.5 -.6 1.8 -.5 2.2 -.4 2.3 -.2 2.5 -.3 2.6 -.3 2.7 -.4 2.8 -.2 2.8 0 2.8 .3 2.8 .5 2.8 .6 2.6 .9 2.5 1 2.4 1.2 2.1 1.3 1.8 1.4 1.6 1.4 1.2 1.5 .9 1.5 .6 1.6 .3 1.7 -.2 1.7 -.4 1.7 -.8 1.4 -1.3 1.1 -1.8 .8 -1.9 .6 -1.5 .8 -1.1 .8 -.8 .8 -.7 .8 -.7 .9 -.8 .9 -.8 .9 -.7 1 -.4 1 -.1 1.2 .3 1.2 .3 1.3 0 1.2 -.1 1.1 -.2 1.2 -.3 1.1 -.5 1 -.6 .9 -.8 1 -.9 .8 -1 .6 -1.2 .4 -1.4 .2 -1.4 .1 -1.5 -.2 -1.4 -.4 -1.5 -.6 -1.5 -.8 -1.7 -.9 -1.9 -.9 -2.1 -1 -2.1 -1.2 -2 -1.3 -1.8 -1.5 -1.8 -1.6 -1.6 -1.7 -1.4 -1.6 -1.2 -1.5 -1 -1.3 -.8 -1.4 -.8 -1.4 -.7 -1.6 -.7 -1.6 -.5 -1.7 -.3 -1.6 -.2 -1.7 -.1 -1.7 .1 -1.6z" fill="url(#a2cw)"/>
<path d="M252.2,137.2 Q261.7,133.9 267.0,132.2 L272.2,130.5" fill="none" stroke="#000" stroke-opacity="0.4" stroke-width="1.31" stroke-linecap="round" filter="url(#sb)"/>
<path d="M249.3,114.3 Q258.8,117.0 263.6,118.0 L268.4,119.0" fill="none" stroke="#000" stroke-opacity="0.4" stroke-width="1.31" stroke-linecap="round" filter="url(#sb)"/>
<path d="M274.1,108.9 Q287.5,106.2 294.6,106.2 Q301.8,106.2 309.5,108.2 L317.1,110.2" fill="none" stroke="#000" stroke-opacity="0.4" stroke-width="1.31" stroke-linecap="round" filter="url(#sb)"/>
<path d="M282.7,89.3 Q284.6,95.4 286.5,98.1 L288.4,100.8" fill="none" stroke="#000" stroke-opacity="0.4" stroke-width="1.31" stroke-linecap="round" filter="url(#sb)"/>
<defs><path id="a2co" d="M242.8 128.3l.1 -2.9 .5 -3.3 .9 -3.4 1 -3.2 1.2 -2.9 1.4 -2.9 1.7 -2.7 1.9 -2.6 2.1 -2.5 2.3 -2.3 2.6 -2.1 2.7 -2 3 -1.7 3.2 -1.5 3.3 -1.3 3.4 -1.1 3.5 -.9 3.7 -.7 3.7 -.5 3.6 -.3 3.6 0 3.6 .3 3.6 .5 3.7 .8 3.6 1 3.8 1.3 3.6 1.6 3.4 1.7 3.1 2.1 3 2.3 2.7 2.5 2.4 2.7 2.3 3.1 1.9 3.3 1.7 3.4 1.4 3 1 2.7 .6 2.5 .4 2.3 .1 2.2 -.1 2.2 -.5 2 -.6 2 -.9 1.8 -1.1 1.6 -1.2 1.4 -1.6 1.4 -1.7 1.2 -2.1 1 -2.4 .8 -2.6 .8 -2.6 .6 -2.9 .4 -3.2 .2 -2.9 .3 -2.1 .6 -.8 1.2 0 1.5 .2 1.6 -.2 1.4 -.8 1.1 -1 1 -1.2 .8 -1.1 .6 -1 .5 -1 .2 -1.1 .1 -1.7 -.3 -2.4 -.7 -2.8 -1 -3.1 -1.2 -3 -1.1 -2.7 -1.2 -2.8 -1.3 -2.8 -1.2 -2.9 -1.1 -3.2 -1.1 -3.3 -1.1 -3.3 -1 -3.1 -.8 -3 -.7 -3 -.6 -2.7 -.5 -2.5 -.7 -2.2 -.6 -1.9 -.6 -1.6 -.8 -1.5 -1.1 -1.2 -1.6 -1 -1.8 -.8 -2.2z"/></defs>
<use href="#a2co" fill="#000" filter="url(#ishL)"/>
<use href="#a2co" fill="none" stroke="#444" stroke-width="0.60"/>
<linearGradient id="a2dw" x1="0.2" y1="0.15" x2="0.75" y2="0.95"><stop offset="0" stop-color="#d0d0d0"/><stop offset="0.5" stop-color="#c8c8c8"/><stop offset="0.72" stop-color="#a4a4a4"/><stop offset="0.85" stop-color="#9a9a9a"/><stop offset="1" stop-color="#b4b4b4"/></linearGradient>
<path d="M412.8 122.1l-.2 -1.5 -.4 -1.4 -.5 -1.4 -.6 -1.2 -.8 -1 -.9 -.9 -1.1 -.7 -1.5 -.6 -1.8 -.5 -2.2 -.4 -2.3 -.2 -2.5 -.3 -2.6 -.3 -2.7 -.4 -2.8 -.2 -2.8 0 -2.8 .3 -2.8 .5 -2.8 .6 -2.7 .9 -2.4 1 -2.4 1.2 -2.1 1.3 -1.8 1.4 -1.6 1.4 -1.2 1.5 -.9 1.5 -.6 1.6 -.3 1.7 .2 1.7 .4 1.7 .8 1.4 1.3 1.1 1.8 .8 1.9 .6 1.5 .8 1.1 .8 .8 .8 .7 .8 .7 .9 .8 .9 .8 .9 .7 1 .4 1 .1 1.2 -.3 1.2 -.3 1.3 -.1 1.2 .2 1.1 .2 1.2 .3 1.1 .5 1 .6 .9 .8 1 .9 .8 1 .6 1.2 .4 1.4 .2 1.4 .1 1.5 -.2 1.4 -.4 1.5 -.6 1.5 -.8 1.7 -.9 1.9 -.9 2.1 -1 2.1 -1.2 2 -1.3 1.8 -1.5 1.8 -1.6 1.6 -1.7 1.4 -1.6 1.2 -1.5 1 -1.3 .8 -1.4 .8 -1.4 .7 -1.6 .7 -1.6 .5 -1.7 .3 -1.6 .2 -1.7 .1 -1.7 -.1 -1.6z" fill="url(#a2dw)"/>
<path d="M433.3,137.2 Q423.8,133.9 418.5,132.2 L413.3,130.5" fill="none" stroke="#000" stroke-opacity="0.4" stroke-width="1.31" stroke-linecap="round" filter="url(#sb)"/>
<path d="M436.2,114.3 Q426.7,117.0 421.9,118.0 L417.1,119.0" fill="none" stroke="#000" stroke-opacity="0.4" stroke-width="1.31" stroke-linecap="round" filter="url(#sb)"/>
<path d="M411.4,108.9 Q398.0,106.2 390.9,106.2 Q383.7,106.2 376.0,108.2 L368.4,110.2" fill="none" stroke="#000" stroke-opacity="0.4" stroke-width="1.31" stroke-linecap="round" filter="url(#sb)"/>
<path d="M402.8,89.3 Q400.9,95.4 399.0,98.1 L397.1,100.8" fill="none" stroke="#000" stroke-opacity="0.4" stroke-width="1.31" stroke-linecap="round" filter="url(#sb)"/>
<defs><path id="a2do" d="M442.7 128.3l-.1 -2.9 -.5 -3.3 -.9 -3.4 -1 -3.2 -1.2 -2.9 -1.4 -2.9 -1.7 -2.7 -1.9 -2.6 -2.1 -2.5 -2.3 -2.3 -2.6 -2.1 -2.7 -2 -3 -1.7 -3.2 -1.5 -3.3 -1.3 -3.4 -1.1 -3.5 -.9 -3.7 -.7 -3.7 -.5 -3.6 -.3 -3.6 0 -3.6 .3 -3.6 .5 -3.7 .8 -3.6 1 -3.8 1.3 -3.6 1.6 -3.4 1.7 -3.1 2.1 -3 2.3 -2.7 2.5 -2.4 2.7 -2.3 3.1 -1.9 3.3 -1.7 3.4 -1.4 3 -1 2.7 -.6 2.5 -.4 2.3 -.1 2.2 .1 2.2 .5 2 .6 2 .9 1.8 1.1 1.6 1.2 1.4 1.6 1.4 1.7 1.2 2.1 1 2.4 .8 2.6 .8 2.6 .6 2.9 .4 3.2 .2 2.9 .3 2.1 .6 .8 1.2 0 1.5 -.2 1.6 .2 1.4 .8 1.1 1 1 1.2 .8 1.1 .6 1 .5 1 .2 1.1 .1 1.7 -.3 2.4 -.7 2.8 -1 3.1 -1.2 3 -1.1 2.7 -1.2 2.8 -1.3 2.8 -1.2 2.9 -1.1 3.2 -1.1 3.3 -1.1 3.3 -1 3.1 -.8 3 -.7 3 -.6 2.7 -.5 2.5 -.7 2.2 -.6 1.9 -.6 1.6 -.8 1.5 -1.1 1.2 -1.6 1 -1.8 .8 -2.2z"/></defs>
<use href="#a2do" fill="#000" filter="url(#ishL)"/>
<use href="#a2do" fill="none" stroke="#444" stroke-width="0.60"/>
<path d="M476.9,59.9 Q486.4,55.8 491.2,53.8 Q496.0,51.8 500.8,50.7 Q505.6,49.7 511.3,49.0 Q517.0,48.4 518.9,46.7 L520.8,45.0" fill="none" stroke="#000" stroke-opacity="0.4" stroke-width="1.31" stroke-linecap="round" filter="url(#sb)"/>
<path d="M487.4,66.6 Q496.0,60.5 500.8,58.8 Q505.6,57.1 511.3,55.1 L517.0,53.1" fill="none" stroke="#000" stroke-opacity="0.4" stroke-width="1.31" stroke-linecap="round" filter="url(#sb)"/>
<path d="M514.1,20.0 Q509.4,28.1 507.5,32.5 Q505.6,36.9 503.2,41.0 L500.8,45.0" fill="none" stroke="#000" stroke-opacity="0.4" stroke-width="1.31" stroke-linecap="round" filter="url(#sb)"/>
<path d="M521.8,22.1 Q516.1,31.5 514.1,36.2 L512.2,41.0" fill="none" stroke="#000" stroke-opacity="0.4" stroke-width="1.31" stroke-linecap="round" filter="url(#sb)"/>
<path d="M494.1,74.0 Q507.5,68.6 515.1,65.9 Q522.7,63.2 529.4,61.2 L536.1,59.2" fill="none" stroke="#000" stroke-opacity="0.4" stroke-width="1.31" stroke-linecap="round" filter="url(#sb)"/>
<path d="M467.4,55.8 Q476.9,53.8 481.2,51.8 L485.5,49.7" fill="none" stroke="#000" stroke-opacity="0.4" stroke-width="1.31" stroke-linecap="round" filter="url(#sb)"/>
<path d="M470.2,36.2 Q481.7,30.8 487.4,29.5 L493.1,28.1" fill="none" stroke="#000" stroke-opacity="0.4" stroke-width="1.31" stroke-linecap="round" filter="url(#sb)"/>
<path d="M518.0,37.6 Q527.5,38.9 533.7,41.6 L539.9,44.3" fill="none" stroke="#000" stroke-opacity="0.4" stroke-width="1.31" stroke-linecap="round" filter="url(#sb)"/>
<defs><path id="a3ao" d="M458.1 54.4l.3 -2.9 .6 -3.9 .8 -4 1.2 -3.7 1.8 -3.3 2.1 -3.2 2.5 -2.8 2.5 -2.5 2.7 -1.9 2.8 -1.5 3.1 -1.3 3.2 -1.1 3.6 -1 3.9 -.8 3.8 -.6 3.5 -.5 2.8 -.4 2.5 -.3 2.3 -.1 2.6 -.1 2.8 -.1 2.9 -.1 3 .1 3.1 .4 3.3 .8 3.4 1 3.4 1.4 3.2 1.7 3.2 2.2 3 2.5 3 2.7 2.6 2.9 2.2 3.1 2.1 3.4 1.7 3.4 1.4 3.1 1.1 2.9 .7 2.7 .4 2.6 .1 2.3 -.1 2.1 -.4 1.9 -.7 1.7 -1.1 1.6 -1.3 1.3 -1.6 1.1 -2 .9 -2.5 1.1 -3.2 1.1 -3.7 1.1 -4 1.1 -3.8 1.1 -3.8 1 -3.8 1.1 -3.7 1.1 -3.5 1.1 -3.2 1.2 -3 1.2 -2.9 1.1 -2.7 .9 -2.5 .9 -2.3 .8 -2.1 .6 -1.9 .2 -1.6 -.2 -1.4 -.5 -1.2 -.8 -.9 -1 -.8 -1.2 -.5 -1.6 -.2 -1.6 -.1 -1.4 .5 -1.1 1 -1.1 .8 -.8 -.1 -.7 -1.1 -.3 -1.8 0 -2.2 0 -2.2 -.2 -2.4 -.3 -2.7 -.4 -2.7 -.5 -2.5 -.8 -2.5 -1.1 -2.3 -1.4 -2.2 -1.5 -1.8 -1.5 -1.4 -1.5 -1 -1.5 -.7 -1.5 -.6 -1.4 -.5 -1 -.3 -.7 -.2 -1z"/></defs>
<use href="#a3ao" fill="#000" filter="url(#ishL)"/>
<use href="#a3ao" fill="none" stroke="#444" stroke-width="0.60"/>
<path d="M639.2,59.9 Q629.6,55.8 624.9,53.8 Q620.1,51.8 615.3,50.7 Q610.5,49.7 604.8,49.0 Q599.1,48.4 597.2,46.7 L595.3,45.0" fill="none" stroke="#000" stroke-opacity="0.4" stroke-width="1.31" stroke-linecap="round" filter="url(#sb)"/>
<path d="M628.7,66.6 Q620.1,60.5 615.3,58.8 Q610.5,57.1 604.8,55.1 L599.1,53.1" fill="none" stroke="#000" stroke-opacity="0.4" stroke-width="1.31" stroke-linecap="round" filter="url(#sb)"/>
<path d="M602.0,20.0 Q606.7,28.1 608.6,32.5 Q610.5,36.9 612.9,41.0 L615.3,45.0" fill="none" stroke="#000" stroke-opacity="0.4" stroke-width="1.31" stroke-linecap="round" filter="url(#sb)"/>
<path d="M594.3,22.1 Q600.0,31.5 602.0,36.2 L603.9,41.0" fill="none" stroke="#000" stroke-opacity="0.4" stroke-width="1.31" stroke-linecap="round" filter="url(#sb)"/>
<path d="M622.0,74.0 Q608.6,68.6 601.0,65.9 Q593.4,63.2 586.7,61.2 L580.0,59.2" fill="none" stroke="#000" stroke-opacity="0.4" stroke-width="1.31" stroke-linecap="round" filter="url(#sb)"/>
<path d="M648.8,55.8 Q639.2,53.8 634.9,51.8 L630.6,49.7" fill="none" stroke="#000" stroke-opacity="0.4" stroke-width="1.31" stroke-linecap="round" filter="url(#sb)"/>
<path d="M645.9,36.2 Q634.4,30.8 628.7,29.5 L623.0,28.1" fill="none" stroke="#000" stroke-opacity="0.4" stroke-width="1.31" stroke-linecap="round" filter="url(#sb)"/>
<path d="M598.1,37.6 Q588.6,38.9 582.4,41.6 L576.2,44.3" fill="none" stroke="#000" stroke-opacity="0.4" stroke-width="1.31" stroke-linecap="round" filter="url(#sb)"/>
<defs><path id="a3bo" d="M658 54.4l-.3 -2.9 -.6 -3.9 -.8 -4 -1.2 -3.7 -1.8 -3.3 -2.1 -3.2 -2.5 -2.8 -2.5 -2.5 -2.7 -1.9 -2.8 -1.5 -3.1 -1.3 -3.2 -1.1 -3.6 -1 -3.9 -.8 -3.8 -.6 -3.5 -.5 -2.8 -.4 -2.5 -.3 -2.3 -.1 -2.6 -.1 -2.8 -.1 -2.9 -.1 -3 .1 -3.1 .4 -3.3 .8 -3.4 1 -3.4 1.4 -3.2 1.7 -3.2 2.2 -3 2.5 -3 2.7 -2.6 2.9 -2.2 3.1 -2.1 3.4 -1.7 3.4 -1.4 3.1 -1.1 2.9 -.7 2.7 -.4 2.6 -.1 2.3 .1 2.1 .4 1.9 .7 1.7 1.1 1.6 1.3 1.3 1.6 1.1 2 .9 2.5 1.1 3.2 1.1 3.7 1.1 4 1.1 3.8 1.1 3.8 1 3.8 1.1 3.7 1.1 3.5 1.1 3.2 1.2 3 1.2 2.9 1.1 2.7 .9 2.5 .9 2.3 .8 2.1 .6 1.9 .2 1.6 -.2 1.4 -.5 1.2 -.8 .9 -1 .8 -1.2 .5 -1.6 .2 -1.6 .1 -1.4 -.5 -1.1 -1 -1.1 -.8 -.8 .1 -.7 1.1 -.3 1.8 0 2.2 0 2.2 -.2 2.4 -.3 2.7 -.4 2.7 -.5 2.5 -.8 2.5 -1.1 2.3 -1.4 2.2 -1.5 1.8 -1.5 1.4 -1.5 1 -1.5 .7 -1.5 .6 -1.4 .5 -1 .3 -.7 .2 -1z"/></defs>
<use href="#a3bo" fill="#000" filter="url(#ishL)"/>
<use href="#a3bo" fill="none" stroke="#444" stroke-width="0.60"/>
<linearGradient id="a3cw" x1="0.8" y1="0.15" x2="0.25" y2="0.95"><stop offset="0" stop-color="#d0d0d0"/><stop offset="0.5" stop-color="#c8c8c8"/><stop offset="0.72" stop-color="#a4a4a4"/><stop offset="0.85" stop-color="#9a9a9a"/><stop offset="1" stop-color="#b4b4b4"/></linearGradient>
<path d="M487.9 122.1l.2 -1.5 .4 -1.4 .5 -1.4 .6 -1.2 .8 -1 .9 -.9 1.1 -.7 1.5 -.6 1.8 -.5 2.2 -.4 2.3 -.2 2.5 -.3 2.6 -.3 2.7 -.4 2.8 -.2 2.8 0 2.8 .3 2.8 .5 2.8 .6 2.6 .9 2.5 1 2.4 1.2 2.1 1.3 1.8 1.4 1.6 1.4 1.2 1.5 .9 1.5 .6 1.6 .3 1.7 -.2 1.7 -.4 1.7 -.8 1.4 -1.3 1.1 -1.8 .8 -1.9 .6 -1.5 .8 -1.1 .8 -.8 .8 -.7 .8 -.7 .9 -.8 .9 -.8 .9 -.7 1 -.4 1 -.1 1.2 .3 1.2 .3 1.3 0 1.2 -.1 1.1 -.2 1.2 -.3 1.1 -.5 1 -.6 .9 -.8 1 -.9 .8 -1 .6 -1.2 .4 -1.4 .2 -1.4 .1 -1.5 -.2 -1.4 -.4 -1.5 -.6 -1.5 -.8 -1.7 -.9 -1.9 -.9 -2.1 -1 -2.1 -1.2 -2 -1.3 -1.8 -1.5 -1.8 -1.6 -1.6 -1.7 -1.4 -1.6 -1.2 -1.5 -1 -1.3 -.8 -1.4 -.8 -1.4 -.7 -1.6 -.7 -1.6 -.5 -1.7 -.3 -1.6 -.2 -1.7 -.1 -1.7 .1 -1.6z" fill="url(#a3cw)"/>
<path d="M467.4,137.2 Q476.9,133.9 482.2,132.2 L487.4,130.5" fill="none" stroke="#000" stroke-opacity="0.4" stroke-width="1.31" stroke-linecap="round" filter="url(#sb)"/>
<path d="M464.5,114.3 Q474.0,117.0 478.8,118.0 L483.6,119.0" fill="none" stroke="#000" stroke-opacity="0.4" stroke-width="1.31" stroke-linecap="round" filter="url(#sb)"/>
<path d="M489.3,108.9 Q502.7,106.2 509.8,106.2 Q517.0,106.2 524.6,108.2 L532.3,110.2" fill="none" stroke="#000" stroke-opacity="0.4" stroke-width="1.31" stroke-linecap="round" filter="url(#sb)"/>
<path d="M497.9,89.3 Q499.8,95.4 501.7,98.1 L503.6,100.8" fill="none" stroke="#000" stroke-opacity="0.4" stroke-width="1.31" stroke-linecap="round" filter="url(#sb)"/>
<defs><path id="a3co" d="M458 128.3l.1 -2.9 .5 -3.3 .9 -3.4 1 -3.2 1.2 -2.9 1.4 -2.9 1.7 -2.7 1.9 -2.6 2.1 -2.5 2.3 -2.3 2.6 -2.1 2.7 -2 3 -1.7 3.2 -1.5 3.3 -1.3 3.4 -1.1 3.5 -.9 3.7 -.7 3.7 -.5 3.6 -.3 3.6 0 3.6 .3 3.6 .5 3.7 .8 3.6 1 3.8 1.3 3.6 1.6 3.4 1.7 3.1 2.1 3 2.3 2.7 2.5 2.4 2.7 2.3 3.1 1.9 3.3 1.7 3.4 1.4 3 1 2.7 .6 2.5 .4 2.3 .1 2.2 -.1 2.2 -.5 2 -.6 2 -.9 1.8 -1.1 1.6 -1.2 1.4 -1.6 1.4 -1.7 1.2 -2.1 1 -2.4 .8 -2.6 .8 -2.6 .6 -2.9 .4 -3.2 .2 -2.9 .3 -2.1 .6 -.8 1.2 0 1.5 .2 1.6 -.2 1.4 -.8 1.1 -1 1 -1.2 .8 -1.1 .6 -1 .5 -1 .2 -1.1 .1 -1.7 -.3 -2.4 -.7 -2.8 -1 -3.1 -1.2 -3 -1.1 -2.7 -1.2 -2.8 -1.3 -2.8 -1.2 -2.9 -1.1 -3.2 -1.1 -3.3 -1.1 -3.3 -1 -3.1 -.8 -3 -.7 -3 -.6 -2.7 -.5 -2.5 -.7 -2.2 -.6 -1.9 -.6 -1.6 -.8 -1.5 -1.1 -1.2 -1.6 -1 -1.8 -.8 -2.2z"/></defs>
<use href="#a3co" fill="#000" filter="url(#ishL)"/>
<use href="#a3co" fill="none" stroke="#444" stroke-width="0.60"/>
<linearGradient id="a3dw" x1="0.2" y1="0.15" x2="0.75" y2="0.95"><stop offset="0" stop-color="#d0d0d0"/><stop offset="0.5" stop-color="#c8c8c8"/><stop offset="0.72" stop-color="#a4a4a4"/><stop offset="0.85" stop-color="#9a9a9a"/><stop offset="1" stop-color="#b4b4b4"/></linearGradient>
<path d="M628.2 122.1l-.2 -1.5 -.4 -1.4 -.5 -1.4 -.6 -1.2 -.8 -1 -.9 -.9 -1.1 -.7 -1.5 -.6 -1.8 -.5 -2.2 -.4 -2.3 -.2 -2.5 -.3 -2.6 -.3 -2.7 -.4 -2.8 -.2 -2.8 0 -2.8 .3 -2.8 .5 -2.8 .6 -2.7 .9 -2.4 1 -2.4 1.2 -2.1 1.3 -1.8 1.4 -1.6 1.4 -1.2 1.5 -.9 1.5 -.6 1.6 -.3 1.7 .2 1.7 .4 1.7 .8 1.4 1.3 1.1 1.8 .8 1.9 .6 1.5 .8 1.1 .8 .8 .8 .7 .8 .7 .9 .8 .9 .8 .9 .7 1 .4 1 .1 1.2 -.3 1.2 -.3 1.3 -.1 1.2 .2 1.1 .2 1.2 .3 1.1 .5 1 .6 .9 .8 1 .9 .8 1 .6 1.2 .4 1.4 .2 1.4 .1 1.5 -.2 1.4 -.4 1.5 -.6 1.5 -.8 1.7 -.9 1.9 -.9 2.1 -1 2.1 -1.2 2 -1.3 1.8 -1.5 1.8 -1.6 1.6 -1.7 1.4 -1.6 1.2 -1.5 1 -1.3 .8 -1.4 .8 -1.4 .7 -1.6 .7 -1.6 .5 -1.7 .3 -1.6 .2 -1.7 .1 -1.7 -.1 -1.6z" fill="url(#a3dw)"/>
<path d="M648.8,137.2 Q639.2,133.9 633.9,132.2 L628.7,130.5" fill="none" stroke="#000" stroke-opacity="0.4" stroke-width="1.31" stroke-linecap="round" filter="url(#sb)"/>
<path d="M651.6,114.3 Q642.1,117.0 637.3,118.0 L632.5,119.0" fill="none" stroke="#000" stroke-opacity="0.4" stroke-width="1.31" stroke-linecap="round" filter="url(#sb)"/>
<path d="M626.8,108.9 Q613.4,106.2 606.3,106.2 Q599.1,106.2 591.4,108.2 L583.8,110.2" fill="none" stroke="#000" stroke-opacity="0.4" stroke-width="1.31" stroke-linecap="round" filter="url(#sb)"/>
<path d="M618.2,89.3 Q616.3,95.4 614.4,98.1 L612.5,100.8" fill="none" stroke="#000" stroke-opacity="0.4" stroke-width="1.31" stroke-linecap="round" filter="url(#sb)"/>
<defs><path id="a3do" d="M658.1 128.3l-.1 -2.9 -.5 -3.3 -.9 -3.4 -1 -3.2 -1.2 -2.9 -1.4 -2.9 -1.7 -2.7 -1.9 -2.6 -2.1 -2.5 -2.3 -2.3 -2.6 -2.1 -2.7 -2 -3 -1.7 -3.2 -1.5 -3.3 -1.3 -3.4 -1.1 -3.5 -.9 -3.7 -.7 -3.7 -.5 -3.6 -.3 -3.6 0 -3.6 .3 -3.6 .5 -3.7 .8 -3.6 1 -3.8 1.3 -3.6 1.6 -3.4 1.7 -3.1 2.1 -3 2.3 -2.7 2.5 -2.4 2.7 -2.3 3.1 -1.9 3.3 -1.7 3.4 -1.4 3 -1 2.7 -.6 2.5 -.4 2.3 -.1 2.2 .1 2.2 .5 2 .6 2 .9 1.8 1.1 1.6 1.2 1.4 1.6 1.4 1.7 1.2 2.1 1 2.4 .8 2.6 .8 2.6 .6 2.9 .4 3.2 .2 2.9 .3 2.1 .6 .8 1.2 0 1.5 -.2 1.6 .2 1.4 .8 1.1 1 1 1.2 .8 1.1 .6 1 .5 1 .2 1.1 .1 1.7 -.3 2.4 -.7 2.8 -1 3.1 -1.2 3 -1.1 2.7 -1.2 2.8 -1.3 2.8 -1.2 2.9 -1.1 3.2 -1.1 3.3 -1.1 3.3 -1 3.1 -.8 3 -.7 3 -.6 2.7 -.5 2.5 -.7 2.2 -.6 1.9 -.6 1.6 -.8 1.5 -1.1 1.2 -1.6 1 -1.8 .8 -2.2z"/></defs>
<use href="#a3do" fill="#000" filter="url(#ishL)"/>
<use href="#a3do" fill="none" stroke="#444" stroke-width="0.60"/>
<linearGradient id="cbA" x1="0" x2="1" y1="0" y2="0"><stop offset="0" stop-color="#3746a0"/><stop offset="0.25" stop-color="#6c72be"/><stop offset="0.4" stop-color="#c6c7e5"/><stop offset="0.5" stop-color="#f8f7fa"/><stop offset="0.6" stop-color="#f6c0c0"/><stop offset="0.75" stop-color="#ec7a7a"/><stop offset="1" stop-color="#e81e23"/></linearGradient>
<rect x="285.2" y="170" width="116.1" height="7.3" fill="url(#cbA)"/>
<line x1="342.5" y1="170" x2="342.5" y2="177.3" stroke="#777" stroke-width="0.6"/>
<text x="278.6" y="177.6" font-size="10.00" text-anchor="end" fill="#000">-1.0</text>
<text x="407.4" y="177.6" font-size="10.00" text-anchor="start" fill="#000">1.0</text>
<text x="-0.6" y="219.4" font-size="21.50" text-anchor="start" fill="#000">B</text>
<text x="67.3" y="228.3" font-size="10.60" text-anchor="start" fill="#000">Corr(</text>
<defs><path id="tb1ao" d="M91.6 216.8l0 -.6 .1 -.8 .2 -.8 .3 -.7 .3 -.7 .5 -.6 .5 -.6 .5 -.5 .5 -.4 .6 -.3 .6 -.2 .7 -.2 .7 -.2 .8 -.2 .8 -.1 .7 -.1 .6 -.1 .5 -.1 .5 0 .5 0 .6 0 .6 0 .6 0 .6 .1 .7 .1 .7 .2 .6 .3 .7 .3 .7 .5 .6 .5 .6 .5 .5 .6 .5 .6 .4 .7 .3 .7 .3 .6 .2 .6 .2 .5 .1 .5 0 .5 0 .4 -.1 .4 -.2 .3 -.2 .4 -.2 .2 -.4 .2 -.4 .2 -.5 .2 -.6 .3 -.8 .2 -.8 .2 -.8 .2 -.8 .2 -.7 .2 -.8 .3 -.7 .2 -.7 .2 -.6 .3 -.6 .2 -.5 .2 -.5 .1 -.5 .2 -.4 .1 -.4 .1 -.3 -.1 -.3 -.1 -.3 -.1 -.2 -.2 -.1 -.3 -.1 -.3 -.1 -.3 0 -.3 .1 -.2 .2 -.2 .2 -.2 0 -.1 -.2 -.1 -.4 0 -.5 0 -.4 0 -.5 -.1 -.6 -.1 -.5 -.1 -.5 -.1 -.5 -.3 -.5 -.2 -.5 -.3 -.3 -.3 -.3 -.3 -.2 -.3 -.2 -.3 -.1 -.3 -.1 -.2 0 -.2 -.1 -.2z"/></defs>
<use href="#tb1ao" fill="#000" filter="url(#ishS)"/>
<use href="#tb1ao" fill="none" stroke="#444" stroke-width="0.35"/>
<defs><path id="tb1bo" d="M131.9 216.8l0 -.6 -.1 -.8 -.2 -.8 -.3 -.7 -.3 -.7 -.5 -.6 -.5 -.6 -.5 -.5 -.5 -.4 -.6 -.3 -.6 -.2 -.7 -.2 -.7 -.2 -.8 -.2 -.8 -.1 -.7 -.1 -.6 -.1 -.5 -.1 -.5 0 -.5 0 -.6 0 -.6 0 -.6 0 -.6 .1 -.7 .1 -.7 .2 -.6 .3 -.7 .3 -.7 .5 -.6 .5 -.6 .5 -.5 .6 -.5 .6 -.4 .7 -.3 .7 -.3 .6 -.2 .6 -.2 .5 -.1 .5 0 .5 0 .4 .1 .4 .2 .3 .2 .4 .2 .2 .4 .2 .4 .2 .5 .2 .6 .3 .8 .2 .8 .2 .8 .2 .8 .2 .7 .2 .8 .3 .7 .2 .7 .2 .6 .3 .6 .2 .5 .2 .5 .1 .5 .2 .4 .1 .4 .1 .3 -.1 .3 -.1 .3 -.1 .2 -.2 .1 -.3 .1 -.3 .1 -.3 0 -.3 -.1 -.2 -.2 -.2 -.2 -.2 0 -.1 .2 -.1 .4 0 .5 0 .4 0 .5 -.1 .6 -.1 .5 -.1 .5 -.1 .5 -.3 .5 -.2 .5 -.3 .3 -.3 .3 -.3 .2 -.3 .2 -.3 .1 -.3 .1 -.2 0 -.2 .1 -.2z"/></defs>
<use href="#tb1bo" fill="#000" filter="url(#ishS)"/>
<use href="#tb1bo" fill="none" stroke="#444" stroke-width="0.35"/>
<linearGradient id="tb1cw" x1="0.8" y1="0.15" x2="0.25" y2="0.95"><stop offset="0" stop-color="#d0d0d0"/><stop offset="0.5" stop-color="#c8c8c8"/><stop offset="0.72" stop-color="#a4a4a4"/><stop offset="0.85" stop-color="#9a9a9a"/><stop offset="1" stop-color="#b4b4b4"/></linearGradient>
<path d="M97.6 232l.1 -.3 .1 -.3 .1 -.3 .1 -.2 .2 -.2 .1 -.2 .3 -.2 .3 -.1 .3 -.1 .5 -.1 .5 0 .5 -.1 .5 0 .5 -.1 .6 0 .6 0 .6 0 .5 .1 .6 .1 .6 .2 .5 .2 .4 .3 .5 .2 .3 .3 .4 .3 .2 .3 .2 .3 .1 .3 .1 .3 -.1 .4 -.1 .3 -.1 .3 -.3 .2 -.3 .2 -.4 .1 -.3 .2 -.3 .1 -.1 .2 -.2 .1 -.1 .2 -.2 .2 -.1 .2 -.2 .2 -.1 .2 0 .2 .1 .3 0 .2 .1 .3 -.1 .2 0 .2 -.1 .2 -.1 .2 -.1 .2 -.2 .2 -.2 .2 -.2 .1 -.2 .1 -.3 0 -.3 0 -.3 0 -.3 -.1 -.3 -.1 -.3 -.2 -.3 -.1 -.4 -.2 -.4 -.2 -.5 -.3 -.4 -.2 -.4 -.3 -.3 -.3 -.3 -.4 -.3 -.3 -.3 -.3 -.2 -.3 -.2 -.2 -.1 -.3 -.2 -.3 -.1 -.4 -.1 -.3 -.1 -.3 0 -.4 0 -.3 0 -.3z" fill="url(#tb1cw)"/>
<defs><path id="tb1co" d="M91.5 233.2l.1 -.6 .1 -.6 .1 -.7 .2 -.7 .3 -.5 .3 -.6 .3 -.6 .4 -.5 .4 -.5 .5 -.4 .5 -.5 .6 -.4 .6 -.3 .7 -.3 .6 -.3 .7 -.2 .8 -.2 .7 -.1 .8 -.1 .7 -.1 .7 0 .8 .1 .7 .1 .7 .2 .8 .2 .8 .2 .7 .3 .7 .4 .6 .4 .6 .5 .6 .5 .5 .5 .4 .6 .4 .7 .4 .7 .3 .6 .2 .5 .1 .5 .1 .5 0 .4 0 .4 -.1 .4 -.2 .4 -.1 .4 -.2 .3 -.3 .3 -.3 .3 -.4 .2 -.4 .2 -.5 .2 -.5 .1 -.5 .2 -.6 0 -.7 .1 -.6 0 -.4 .2 -.2 .2 0 .3 .1 .3 -.1 .3 -.1 .2 -.3 .2 -.2 .2 -.2 .1 -.2 .1 -.2 0 -.3 .1 -.3 -.1 -.5 -.1 -.6 -.2 -.6 -.3 -.6 -.2 -.6 -.2 -.5 -.3 -.6 -.2 -.6 -.3 -.6 -.2 -.7 -.2 -.7 -.2 -.6 -.2 -.6 -.1 -.6 -.1 -.6 -.1 -.5 -.2 -.5 -.1 -.3 -.1 -.4 -.2 -.3 -.2 -.2 -.3 -.2 -.4 -.2 -.4z"/></defs>
<use href="#tb1co" fill="#000" filter="url(#ishS)"/>
<use href="#tb1co" fill="none" stroke="#444" stroke-width="0.35"/>
<linearGradient id="tb1dw" x1="0.2" y1="0.15" x2="0.75" y2="0.95"><stop offset="0" stop-color="#d0d0d0"/><stop offset="0.5" stop-color="#c8c8c8"/><stop offset="0.72" stop-color="#a4a4a4"/><stop offset="0.85" stop-color="#9a9a9a"/><stop offset="1" stop-color="#b4b4b4"/></linearGradient>
<path d="M125.9 232l-.1 -.3 -.1 -.3 -.1 -.3 -.1 -.2 -.2 -.2 -.1 -.2 -.3 -.2 -.3 -.1 -.3 -.1 -.5 -.1 -.5 0 -.5 -.1 -.5 0 -.5 -.1 -.6 0 -.6 0 -.6 0 -.5 .1 -.6 .1 -.5 .2 -.6 .2 -.4 .3 -.5 .2 -.3 .3 -.4 .3 -.2 .3 -.2 .3 -.1 .3 -.1 .3 .1 .4 .1 .3 .1 .3 .3 .2 .3 .2 .4 .1 .3 .2 .3 .1 .1 .2 .2 .1 .1 .2 .2 .2 .1 .2 .2 .2 .1 .2 0 .2 -.1 .3 0 .2 0 .3 0 .2 0 .2 .1 .2 .1 .2 .1 .2 .2 .2 .2 .2 .2 .1 .2 .1 .3 0 .3 0 .3 0 .3 -.1 .3 -.1 .3 -.2 .3 -.1 .4 -.2 .4 -.2 .5 -.3 .4 -.2 .4 -.3 .3 -.3 .3 -.4 .3 -.3 .3 -.3 .2 -.3 .2 -.2 .1 -.3 .2 -.3 .1 -.4 .1 -.3 .1 -.3 0 -.4 0 -.3 0 -.3z" fill="url(#tb1dw)"/>
<defs><path id="tb1do" d="M132 233.2l-.1 -.6 -.1 -.6 -.1 -.7 -.2 -.7 -.3 -.5 -.3 -.6 -.3 -.6 -.4 -.5 -.4 -.5 -.5 -.4 -.5 -.5 -.6 -.4 -.6 -.3 -.7 -.3 -.6 -.3 -.7 -.2 -.8 -.2 -.7 -.1 -.8 -.1 -.7 -.1 -.7 0 -.8 .1 -.7 .1 -.7 .2 -.8 .2 -.8 .2 -.7 .3 -.7 .4 -.6 .4 -.6 .5 -.6 .5 -.5 .5 -.4 .6 -.4 .7 -.4 .7 -.3 .6 -.2 .5 -.1 .5 -.1 .5 0 .4 0 .4 .1 .4 .2 .4 .1 .4 .2 .3 .3 .3 .3 .3 .4 .2 .4 .2 .5 .2 .5 .1 .5 .2 .6 0 .7 .1 .6 0 .4 .2 .2 .2 0 .3 -.1 .3 .1 .3 .1 .2 .3 .2 .2 .2 .2 .1 .2 .1 .2 0 .3 .1 .3 -.1 .5 -.1 .6 -.2 .6 -.3 .6 -.2 .6 -.2 .5 -.3 .6 -.2 .6 -.3 .6 -.2 .7 -.2 .7 -.2 .6 -.2 .6 -.1 .6 -.1 .6 -.1 .5 -.2 .5 -.1 .3 -.1 .4 -.2 .3 -.2 .2 -.3 .2 -.4 .2 -.4z"/></defs>
<use href="#tb1do" fill="#000" filter="url(#ishS)"/>
<use href="#tb1do" fill="none" stroke="#444" stroke-width="0.35"/>
<text x="133.5" y="230.0" font-size="10.60" text-anchor="start" fill="#000">,</text>
<defs><path id="tb2ao" d="M139.1 216.8l0 -.6 .1 -.8 .2 -.8 .3 -.7 .3 -.7 .5 -.6 .5 -.6 .5 -.5 .5 -.4 .6 -.3 .6 -.2 .7 -.2 .7 -.2 .8 -.2 .8 -.1 .7 -.1 .6 -.1 .5 -.1 .5 0 .5 0 .6 0 .6 0 .6 0 .6 .1 .7 .1 .7 .2 .6 .3 .7 .3 .7 .5 .6 .5 .6 .5 .5 .6 .5 .6 .4 .7 .3 .7 .3 .6 .2 .6 .2 .5 .1 .5 0 .5 0 .4 -.1 .4 -.2 .3 -.2 .4 -.2 .2 -.4 .2 -.4 .2 -.5 .2 -.6 .3 -.8 .2 -.8 .2 -.8 .2 -.8 .2 -.7 .2 -.8 .3 -.7 .2 -.7 .2 -.6 .3 -.6 .2 -.5 .2 -.5 .1 -.5 .2 -.4 .1 -.4 .1 -.3 -.1 -.3 -.1 -.3 -.1 -.2 -.2 -.1 -.3 -.1 -.3 -.1 -.3 0 -.3 .1 -.2 .2 -.2 .2 -.2 0 -.1 -.2 -.1 -.4 0 -.5 0 -.4 0 -.5 -.1 -.6 -.1 -.5 -.1 -.5 -.1 -.5 -.3 -.5 -.2 -.5 -.3 -.3 -.3 -.3 -.3 -.2 -.3 -.2 -.3 -.1 -.3 -.1 -.2 0 -.2 -.1 -.2z"/></defs>
<use href="#tb2ao" fill="#000" filter="url(#ishS)"/>
<use href="#tb2ao" fill="none" stroke="#444" stroke-width="0.35"/>
<defs><path id="tb2bo" d="M179.4 216.8l0 -.6 -.1 -.8 -.2 -.8 -.3 -.7 -.3 -.7 -.5 -.6 -.5 -.6 -.5 -.5 -.5 -.4 -.6 -.3 -.6 -.2 -.7 -.2 -.7 -.2 -.8 -.2 -.8 -.1 -.7 -.1 -.6 -.1 -.5 -.1 -.5 0 -.5 0 -.6 0 -.6 0 -.6 0 -.6 .1 -.7 .1 -.7 .2 -.6 .3 -.7 .3 -.7 .5 -.6 .5 -.6 .5 -.5 .6 -.5 .6 -.4 .7 -.3 .7 -.3 .6 -.2 .6 -.2 .5 -.1 .5 0 .5 0 .4 .1 .4 .2 .3 .2 .4 .2 .2 .4 .2 .4 .2 .5 .2 .6 .3 .8 .2 .8 .2 .8 .2 .8 .2 .7 .2 .8 .3 .7 .2 .7 .2 .6 .3 .6 .2 .5 .2 .5 .1 .5 .2 .4 .1 .4 .1 .3 -.1 .3 -.1 .3 -.1 .2 -.2 .1 -.3 .1 -.3 .1 -.3 0 -.3 -.1 -.2 -.2 -.2 -.2 -.2 0 -.1 .2 -.1 .4 0 .5 0 .4 0 .5 -.1 .6 -.1 .5 -.1 .5 -.1 .5 -.3 .5 -.2 .5 -.3 .3 -.3 .3 -.3 .2 -.3 .2 -.3 .1 -.3 .1 -.2 0 -.2 .1 -.2z"/></defs>
<use href="#tb2bo" fill="#000" filter="url(#ishS)"/>
<use href="#tb2bo" fill="none" stroke="#444" stroke-width="0.35"/>
<linearGradient id="tb2cw" x1="0.8" y1="0.15" x2="0.25" y2="0.95"><stop offset="0" stop-color="#d0d0d0"/><stop offset="0.5" stop-color="#c8c8c8"/><stop offset="0.72" stop-color="#a4a4a4"/><stop offset="0.85" stop-color="#9a9a9a"/><stop offset="1" stop-color="#b4b4b4"/></linearGradient>
<path d="M145.1 232l.1 -.3 .1 -.3 .1 -.3 .1 -.2 .2 -.2 .1 -.2 .3 -.2 .3 -.1 .3 -.1 .5 -.1 .5 0 .5 -.1 .5 0 .5 -.1 .6 0 .6 0 .6 0 .5 .1 .6 .1 .5 .2 .6 .2 .4 .3 .5 .2 .3 .3 .4 .3 .2 .3 .2 .3 .1 .3 .1 .3 -.1 .4 -.1 .3 -.1 .3 -.3 .2 -.3 .2 -.4 .1 -.3 .2 -.3 .1 -.1 .2 -.2 .1 -.1 .2 -.2 .2 -.1 .2 -.2 .2 -.1 .2 0 .2 .1 .3 0 .2 0 .3 0 .2 0 .2 -.1 .2 -.1 .2 -.1 .2 -.2 .2 -.2 .2 -.2 .1 -.2 .1 -.3 0 -.3 0 -.3 0 -.3 -.1 -.3 -.1 -.3 -.2 -.3 -.1 -.4 -.2 -.4 -.2 -.5 -.3 -.4 -.2 -.4 -.3 -.3 -.3 -.3 -.4 -.3 -.3 -.3 -.3 -.2 -.3 -.2 -.2 -.1 -.3 -.2 -.3 -.1 -.4 -.1 -.3 -.1 -.3 0 -.4 0 -.3 0 -.3z" fill="url(#tb2cw)"/>
<defs><path id="tb2co" d="M139 233.2l.1 -.6 .1 -.6 .1 -.7 .2 -.7 .3 -.5 .3 -.6 .3 -.6 .4 -.5 .4 -.5 .5 -.4 .5 -.5 .6 -.4 .6 -.3 .7 -.3 .6 -.3 .7 -.2 .8 -.2 .7 -.1 .8 -.1 .7 -.1 .7 0 .8 .1 .7 .1 .7 .2 .8 .2 .8 .2 .7 .3 .7 .4 .6 .4 .6 .5 .6 .5 .5 .5 .4 .6 .4 .7 .4 .7 .3 .6 .2 .5 .1 .5 .1 .5 0 .4 0 .4 -.1 .4 -.2 .4 -.1 .4 -.2 .3 -.3 .3 -.3 .3 -.4 .2 -.4 .2 -.5 .2 -.5 .1 -.5 .2 -.6 0 -.7 .1 -.6 0 -.4 .2 -.2 .2 0 .3 .1 .3 -.1 .3 -.1 .2 -.3 .2 -.2 .2 -.2 .1 -.2 .1 -.2 0 -.3 .1 -.3 -.1 -.5 -.1 -.6 -.2 -.6 -.3 -.6 -.2 -.6 -.2 -.5 -.3 -.6 -.2 -.6 -.3 -.6 -.2 -.7 -.2 -.7 -.2 -.6 -.2 -.6 -.1 -.6 -.1 -.6 -.1 -.5 -.2 -.5 -.1 -.3 -.1 -.4 -.2 -.3 -.2 -.2 -.3 -.2 -.4 -.2 -.4z"/></defs>
<use href="#tb2co" fill="#000" filter="url(#ishS)"/>
<use href="#tb2co" fill="none" stroke="#444" stroke-width="0.35"/>
<linearGradient id="tb2dw" x1="0.2" y1="0.15" x2="0.75" y2="0.95"><stop offset="0" stop-color="#d0d0d0"/><stop offset="0.5" stop-color="#c8c8c8"/><stop offset="0.72" stop-color="#a4a4a4"/><stop offset="0.85" stop-color="#9a9a9a"/><stop offset="1" stop-color="#b4b4b4"/></linearGradient>
<path d="M173.4 232l-.1 -.3 -.1 -.3 -.1 -.3 -.1 -.2 -.2 -.2 -.1 -.2 -.3 -.2 -.3 -.1 -.3 -.1 -.5 -.1 -.5 0 -.5 -.1 -.5 0 -.5 -.1 -.6 0 -.6 0 -.6 0 -.5 .1 -.6 .1 -.6 .2 -.5 .2 -.4 .3 -.5 .2 -.3 .3 -.4 .3 -.2 .3 -.2 .3 -.1 .3 -.1 .3 .1 .4 .1 .3 .1 .3 .3 .2 .3 .2 .4 .1 .3 .2 .3 .1 .1 .2 .2 .1 .1 .2 .2 .2 .1 .2 .2 .2 .1 .2 0 .2 -.1 .3 0 .2 -.1 .3 .1 .2 0 .2 .1 .2 .1 .2 .1 .2 .2 .2 .2 .2 .2 .1 .2 .1 .3 0 .3 0 .3 0 .3 -.1 .3 -.1 .3 -.2 .3 -.1 .4 -.2 .4 -.2 .5 -.3 .4 -.2 .4 -.3 .3 -.3 .3 -.4 .3 -.3 .3 -.3 .2 -.3 .2 -.2 .1 -.3 .2 -.3 .1 -.4 .1 -.3 .1 -.3 0 -.4 0 -.3 0 -.3z" fill="url(#tb2dw)"/>
<defs><path id="tb2do" d="M179.5 233.2l-.1 -.6 -.1 -.6 -.1 -.7 -.2 -.7 -.3 -.5 -.3 -.6 -.3 -.6 -.4 -.5 -.4 -.5 -.5 -.4 -.5 -.5 -.6 -.4 -.6 -.3 -.7 -.3 -.6 -.3 -.7 -.2 -.8 -.2 -.7 -.1 -.8 -.1 -.7 -.1 -.7 0 -.8 .1 -.7 .1 -.7 .2 -.8 .2 -.8 .2 -.7 .3 -.7 .4 -.6 .4 -.6 .5 -.6 .5 -.5 .5 -.4 .6 -.4 .7 -.4 .7 -.3 .6 -.2 .5 -.1 .5 -.1 .5 0 .4 0 .4 .1 .4 .2 .4 .1 .4 .2 .3 .3 .3 .3 .3 .4 .2 .4 .2 .5 .2 .5 .1 .5 .2 .6 0 .7 .1 .6 0 .4 .2 .2 .2 0 .3 -.1 .3 .1 .3 .1 .2 .3 .2 .2 .2 .2 .1 .2 .1 .2 0 .3 .1 .3 -.1 .5 -.1 .6 -.2 .6 -.3 .6 -.2 .6 -.2 .5 -.3 .6 -.2 .6 -.3 .6 -.2 .7 -.2 .7 -.2 .6 -.2 .6 -.1 .6 -.1 .6 -.1 .5 -.2 .5 -.1 .3 -.1 .4 -.2 .3 -.2 .2 -.3 .2 -.4 .2 -.4z"/></defs>
<use href="#tb2do" fill="#000" filter="url(#ishS)"/>
<use href="#tb2do" fill="none" stroke="#444" stroke-width="0.35"/>
<text x="179.5" y="228.3" font-size="10.60" text-anchor="start" fill="#000">)</text>
<path fill="none" stroke="#f7da82" stroke-width="4.40" stroke-linecap="round" d="M123.3 310.6h0M194.0 338.1h0M64.0 312.8h0M193.7 302.7h0M91.1 340.2h0M109.0 298.5h0M174.2 332.2h0M106.8 332.1h0M129.4 315.8h0M45.2 266.1h0M162.3 336.4h0M127.5 296.7h0M94.0 293.3h0M167.9 300.1h0M89.7 287.0h0M113.9 343.8h0M62.4 377.0h0M105.8 297.8h0M73.6 348.8h0M83.1 326.2h0M161.8 328.7h0M86.0 290.4h0M119.0 295.3h0M198.9 320.3h0M195.8 290.5h0M157.6 304.8h0M128.0 309.6h0M85.4 316.3h0M66.7 323.0h0M197.2 295.8h0M124.0 301.4h0M59.5 326.8h0M141.3 288.6h0M166.0 318.3h0M139.6 301.8h0M188.7 299.3h0M47.2 279.3h0M126.0 316.3h0M114.8 272.4h0M50.9 313.2h0M144.2 310.6h0M178.2 319.4h0M136.4 296.3h0M82.7 316.5h0M176.2 327.3h0M122.9 327.7h0M123.2 317.2h0M162.2 319.5h0M64.6 289.4h0M172.9 281.8h0M150.9 291.1h0M167.7 300.5h0M71.7 328.9h0M170.1 306.0h0M71.6 294.8h0M53.9 265.8h0M178.7 290.3h0M179.6 312.2h0M182.1 306.3h0M116.9 330.3h0M85.0 338.1h0M41.9 322.5h0M144.9 303.5h0M156.8 273.4h0M175.5 306.1h0M86.2 282.5h0M75.5 271.8h0M143.9 305.6h0M170.6 277.5h0M196.1 293.9h0M65.1 328.6h0M118.5 310.9h0M185.0 306.6h0M108.9 323.8h0M135.8 310.7h0M44.7 314.0h0M149.4 299.1h0M189.0 323.3h0M174.1 307.2h0M183.5 335.0h0M147.2 302.3h0M80.4 301.5h0M164.7 304.0h0M74.9 310.3h0M174.8 296.2h0M50.9 335.0h0M173.9 311.4h0M67.3 304.5h0M101.3 291.7h0M91.9 307.5h0M152.2 265.8h0M69.6 320.1h0M104.7 291.8h0M41.7 284.8h0M83.1 321.2h0M108.7 339.1h0M57.9 348.5h0M142.9 304.1h0M102.1 288.9h0M157.7 302.1h0M146.2 303.9h0M110.3 327.6h0M180.6 296.8h0M142.7 346.2h0M171.4 302.8h0M95.9 317.0h0M128.4 332.2h0M72.4 265.8h0M201.4 332.5h0M80.0 345.8h0M82.2 349.0h0M52.6 288.9h0M82.4 340.8h0M163.8 294.8h0M153.3 296.3h0M61.5 311.0h0M101.4 351.7h0M108.7 333.7h0M148.0 276.3h0M114.3 351.3h0M135.3 322.3h0M176.2 310.0h0M157.9 292.2h0M99.6 311.2h0M113.1 298.5h0M100.1 345.5h0M58.5 293.2h0M73.6 303.0h0M86.5 359.2h0M91.4 277.7h0M91.3 265.8h0M133.8 321.1h0M197.4 306.0h0M165.7 281.4h0M168.3 334.2h0M163.2 343.6h0M137.0 330.8h0M188.7 317.5h0M152.0 317.7h0M121.5 295.9h0M53.2 310.8h0M119.5 350.1h0M75.1 303.0h0M62.2 269.0h0M122.4 285.1h0M167.4 288.9h0M88.4 317.2h0M164.7 289.0h0M125.5 324.8h0M64.8 298.2h0M196.4 308.6h0M105.5 288.4h0M88.4 305.6h0M177.3 327.0h0M60.9 314.4h0M159.1 284.7h0M71.1 347.1h0M104.1 332.3h0M78.2 337.7h0M176.4 334.5h0M103.7 292.8h0M197.9 283.0h0M141.6 292.4h0M152.6 302.6h0M124.9 308.0h0M90.6 311.5h0M104.6 336.8h0M192.5 290.6h0M73.2 290.6h0M200.1 289.9h0M163.0 316.8h0M98.8 315.7h0M144.2 310.1h0M102.2 271.3h0M102.3 313.1h0M122.0 341.6h0M43.5 307.4h0M120.4 268.8h0M197.4 294.5h0M86.8 294.9h0M161.4 306.4h0M112.2 369.0h0M74.5 364.8h0M186.7 329.9h0M43.5 321.0h0M89.7 309.7h0M201.8 294.4h0M83.1 326.6h0M177.7 289.5h0M138.4 312.2h0M170.7 320.0h0M142.4 291.4h0M99.3 341.5h0M163.4 357.1h0M45.1 345.3h0M112.8 315.3h0M100.7 378.9h0M117.7 327.0h0M61.4 326.4h0M76.7 354.8h0M131.4 334.2h0M103.3 329.8h0M168.4 317.1h0M138.3 283.9h0M179.6 300.2h0M158.9 336.1h0M137.8 322.7h0M87.2 299.4h0M167.0 272.3h0M81.3 307.7h0M52.9 309.7h0M196.0 272.9h0M127.8 307.5h0M165.6 312.7h0M126.1 333.0h0M139.4 316.5h0M46.3 265.8h0M70.9 354.7h0M149.6 306.8h0M132.8 332.9h0M66.4 314.4h0M194.3 290.8h0M65.7 324.1h0M123.1 293.6h0M64.0 299.0h0M156.4 298.8h0M85.3 273.1h0M62.4 297.5h0M48.2 325.7h0M69.0 335.4h0M71.7 339.7h0M127.4 298.3h0M113.5 326.2h0M195.1 265.8h0M194.6 273.2h0M169.2 311.0h0M149.1 313.1h0M177.0 276.0h0M192.1 341.6h0M44.4 329.5h0M59.8 293.0h0M98.9 341.5h0M55.9 330.1h0M137.4 313.5h0M82.8 300.6h0M83.4 314.2h0M87.3 307.3h0M56.6 302.3h0M160.2 306.5h0M145.7 286.7h0M138.6 320.4h0M46.3 355.1h0M110.0 363.9h0M151.3 336.8h0M66.0 332.1h0M103.0 291.0h0M44.0 313.2h0M54.0 333.3h0M75.7 345.6h0M107.6 331.5h0M115.5 328.2h0M183.4 317.4h0M91.8 355.0h0M44.3 330.1h0M174.0 288.4h0M50.8 374.3h0M55.8 324.0h0M196.1 346.0h0M162.2 303.7h0M95.3 337.2h0M62.1 372.0h0M103.1 315.1h0M95.5 270.5h0M181.8 305.0h0M108.3 287.6h0M54.0 319.6h0M190.2 346.6h0M141.1 298.0h0M59.6 328.6h0M59.0 355.8h0M115.9 297.3h0M55.6 310.3h0M142.6 316.7h0M140.2 291.1h0M46.0 340.4h0M171.0 295.2h0M167.6 324.3h0M188.3 297.2h0M148.9 327.2h0M152.5 279.7h0M67.2 311.1h0M44.7 280.5h0M51.4 339.1h0M196.3 315.8h0M144.9 291.6h0M193.4 357.4h0M97.1 345.5h0M162.5 288.1h0M51.3 305.7h0M67.6 292.3h0M85.5 325.8h0M129.5 296.7h0M130.7 320.5h0M121.2 353.4h0M109.2 361.8h0M133.6 317.2h0M196.6 317.1h0M114.6 334.1h0M175.8 372.2h0M49.8 369.7h0M103.0 331.6h0M131.2 301.8h0M140.8 317.7h0M81.1 340.5h0M105.2 377.8h0M193.5 270.0h0M145.4 327.3h0M135.1 276.2h0M51.3 277.2h0M49.2 310.6h0M74.9 332.6h0M63.0 314.3h0M199.4 328.2h0M41.2 311.0h0M99.8 317.7h0M50.2 303.9h0M144.0 289.6h0M48.3 272.7h0M51.8 327.8h0M53.7 290.6h0M84.6 338.3h0M133.7 323.5h0M170.6 318.4h0M83.9 343.3h0M86.4 292.3h0M173.7 290.1h0M161.0 283.7h0M61.2 318.4h0M170.8 302.0h0M174.8 317.7h0M69.5 347.7h0M141.9 298.8h0M72.5 310.8h0M80.1 346.5h0M120.4 302.5h0M125.0 339.0h0M118.0 322.4h0M128.0 318.6h0M75.2 331.5h0M166.3 326.9h0M85.6 293.0h0M187.9 296.7h0M123.8 285.3h0M89.8 314.4h0M68.9 351.5h0M119.0 327.6h0M101.5 348.7h0M141.2 298.8h0M121.2 286.6h0M46.8 309.5h0M175.1 318.3h0M49.1 327.7h0M174.2 303.6h0M171.8 333.8h0M189.7 304.6h0M147.9 303.7h0M66.7 332.3h0M112.0 329.0h0M111.6 313.8h0M142.7 322.4h0M102.2 339.6h0M149.7 293.1h0M73.7 312.5h0M97.8 274.6h0M128.4 325.5h0M109.7 364.6h0M60.6 293.9h0M196.5 289.9h0M152.2 321.0h0M175.1 334.4h0M98.4 319.6h0M193.1 339.7h0M171.8 313.8h0M198.7 347.6h0M72.6 324.7h0M117.7 373.7h0M103.0 324.7h0M139.8 279.8h0M81.1 325.6h0M57.0 298.6h0M117.6 335.3h0M143.9 324.1h0M102.7 357.7h0M200.0 288.7h0M106.2 320.3h0M89.1 276.6h0M172.0 329.4h0M116.0 324.6h0M84.8 316.8h0M87.0 282.2h0"/>
<line x1="40.8" y1="321.0" x2="202.0" y2="305.8" stroke="#14a06e" stroke-width="2"/>
<path d="M40.8,241.3 L40.8,394.2 L202.0,394.2" fill="none" stroke="#555" stroke-width="0.8"/>
<line x1="40.8" y1="394.2" x2="40.8" y2="392.6" stroke="#555" stroke-width="0.6"/>
<text x="40.8" y="407.6" font-size="8.90" text-anchor="middle" fill="#222">0</text>
<line x1="81.1" y1="394.2" x2="81.1" y2="392.6" stroke="#555" stroke-width="0.6"/>
<text x="81.1" y="407.6" font-size="8.90" text-anchor="middle" fill="#222">100</text>
<line x1="121.4" y1="394.2" x2="121.4" y2="392.6" stroke="#555" stroke-width="0.6"/>
<text x="121.4" y="407.6" font-size="8.90" text-anchor="middle" fill="#222">200</text>
<line x1="161.7" y1="394.2" x2="161.7" y2="392.6" stroke="#555" stroke-width="0.6"/>
<text x="161.7" y="407.6" font-size="8.90" text-anchor="middle" fill="#222">300</text>
<line x1="202.0" y1="394.2" x2="202.0" y2="392.6" stroke="#555" stroke-width="0.6"/>
<text x="202.0" y="407.6" font-size="8.90" text-anchor="middle" fill="#222">400</text>
<line x1="40.8" y1="241.3" x2="42.4" y2="241.3" stroke="#555" stroke-width="0.6"/>
<text x="36.5" y="245.7" font-size="8.90" text-anchor="end" fill="#222">0</text>
<line x1="40.8" y1="271.9" x2="42.4" y2="271.9" stroke="#555" stroke-width="0.6"/>
<text x="36.5" y="276.3" font-size="8.90" text-anchor="end" fill="#222">-0.2</text>
<line x1="40.8" y1="302.5" x2="42.4" y2="302.5" stroke="#555" stroke-width="0.6"/>
<text x="36.5" y="306.9" font-size="8.90" text-anchor="end" fill="#222">-0.4</text>
<line x1="40.8" y1="333.0" x2="42.4" y2="333.0" stroke="#555" stroke-width="0.6"/>
<text x="36.5" y="337.4" font-size="8.90" text-anchor="end" fill="#222">-0.6</text>
<line x1="40.8" y1="363.6" x2="42.4" y2="363.6" stroke="#555" stroke-width="0.6"/>
<text x="36.5" y="368.0" font-size="8.90" text-anchor="end" fill="#222">-0.8</text>
<line x1="40.8" y1="394.2" x2="42.4" y2="394.2" stroke="#555" stroke-width="0.6"/>
<text x="36.5" y="398.6" font-size="8.90" text-anchor="end" fill="#222">-1</text>
<text x="121.3" y="422.6" font-size="10.70" text-anchor="middle" fill="#000">S-A Axis Rank</text>
<text x="18.2" y="319.4" font-size="10.60" text-anchor="middle" fill="#000" transform="rotate(-90 18.2 319.4)">RBD index</text>
<text x="60.3" y="262.0" font-size="9.30" text-anchor="start" fill="#000" font-style="italic">r=0.186 p=0.188</text>
<rect x="147.2" y="333.6" width="54.1" height="49.0" fill="#fff"/>
<g fill="#d9d9d9" stroke="#111" stroke-width="0.55"><rect x="151.75" y="380.28" width="2.55" height="2.32"/><rect x="154.31" y="376.19" width="2.55" height="6.41"/><rect x="156.86" y="370.36" width="2.55" height="12.24"/><rect x="159.42" y="362.19" width="2.55" height="20.41"/><rect x="161.97" y="352.28" width="2.55" height="30.32"/><rect x="164.52" y="343.49" width="2.25" height="39.11"/><rect x="166.77" y="334.09" width="2.66" height="48.51"/><rect x="169.43" y="336.13" width="2.25" height="46.47"/><rect x="171.68" y="337.97" width="2.25" height="44.63"/><rect x="173.93" y="340.01" width="2.35" height="42.59"/><rect x="176.28" y="344.31" width="2.55" height="38.29"/><rect x="178.83" y="346.35" width="2.55" height="36.25"/><rect x="181.39" y="347.17" width="2.55" height="35.43"/><rect x="183.94" y="356.06" width="2.55" height="26.54"/><rect x="186.49" y="368.32" width="2.35" height="14.28"/><rect x="188.85" y="375.47" width="2.45" height="7.13"/><rect x="191.30" y="379.56" width="2.35" height="3.04"/><rect x="193.65" y="381.09" width="2.55" height="1.51"/><rect x="196.20" y="382.12" width="2.55" height="0.48"/></g>
<path d="M147.2,333.6 L147.2,382.6 L201.3,382.6" fill="none" stroke="#444" stroke-width="0.6"/>
<line x1="181.4" y1="333.6" x2="181.4" y2="382.6" stroke="#1fa874" stroke-width="1"/>
<text x="148.7" y="393.0" font-size="7.60" text-anchor="middle" fill="#222">-0.5</text>
<text x="172.5" y="393.0" font-size="7.60" text-anchor="middle" fill="#222">0</text>
<text x="196.7" y="393.0" font-size="7.60" text-anchor="middle" fill="#222">0.5</text>
<text x="231.6" y="219.6" font-size="21.50" text-anchor="start" fill="#000">C</text>
<text x="298.4" y="229.0" font-size="10.60" text-anchor="start" fill="#000">Corr(</text>
<defs><path id="tc1ao" d="M323.6 216.8l0 -.6 .1 -.8 .2 -.8 .3 -.7 .3 -.7 .5 -.6 .5 -.6 .5 -.5 .5 -.4 .6 -.3 .6 -.2 .7 -.2 .7 -.2 .8 -.2 .8 -.1 .7 -.1 .6 -.1 .5 -.1 .5 0 .5 0 .6 0 .6 0 .6 0 .6 .1 .7 .1 .7 .2 .6 .3 .7 .3 .7 .5 .6 .5 .6 .5 .5 .6 .5 .6 .4 .7 .3 .7 .3 .6 .2 .6 .2 .5 .1 .5 0 .5 0 .4 -.1 .4 -.2 .3 -.2 .4 -.2 .2 -.4 .2 -.4 .2 -.5 .2 -.6 .3 -.8 .2 -.8 .2 -.8 .2 -.8 .2 -.7 .2 -.8 .3 -.7 .2 -.7 .2 -.6 .3 -.6 .2 -.5 .2 -.5 .1 -.5 .2 -.4 .1 -.4 .1 -.3 -.1 -.3 -.1 -.3 -.1 -.2 -.2 -.1 -.3 -.1 -.3 -.1 -.3 0 -.3 .1 -.2 .2 -.2 .2 -.2 0 -.1 -.2 -.1 -.4 0 -.5 0 -.4 0 -.5 -.1 -.6 -.1 -.5 -.1 -.5 -.1 -.5 -.3 -.5 -.2 -.5 -.3 -.3 -.3 -.3 -.3 -.2 -.3 -.2 -.3 -.1 -.3 -.1 -.2 0 -.2 -.1 -.2z"/></defs>
<use href="#tc1ao" fill="#000" filter="url(#ishS)"/>
<use href="#tc1ao" fill="none" stroke="#444" stroke-width="0.35"/>
<defs><path id="tc1bo" d="M363.9 216.8l0 -.6 -.1 -.8 -.2 -.8 -.3 -.7 -.3 -.7 -.5 -.6 -.5 -.6 -.5 -.5 -.5 -.4 -.6 -.3 -.6 -.2 -.7 -.2 -.7 -.2 -.8 -.2 -.8 -.1 -.7 -.1 -.6 -.1 -.5 -.1 -.5 0 -.5 0 -.6 0 -.6 0 -.6 0 -.6 .1 -.7 .1 -.7 .2 -.6 .3 -.7 .3 -.7 .5 -.6 .5 -.6 .5 -.5 .6 -.5 .6 -.4 .7 -.3 .7 -.3 .6 -.2 .6 -.2 .5 -.1 .5 0 .5 0 .4 .1 .4 .2 .3 .2 .4 .2 .2 .4 .2 .4 .2 .5 .2 .6 .3 .8 .2 .8 .2 .8 .2 .8 .2 .7 .2 .8 .3 .7 .2 .7 .2 .6 .3 .6 .2 .5 .2 .5 .1 .5 .2 .4 .1 .4 .1 .3 -.1 .3 -.1 .3 -.1 .2 -.2 .1 -.3 .1 -.3 .1 -.3 0 -.3 -.1 -.2 -.2 -.2 -.2 -.2 0 -.1 .2 -.1 .4 0 .5 0 .4 0 .5 -.1 .6 -.1 .5 -.1 .5 -.1 .5 -.3 .5 -.2 .5 -.3 .3 -.3 .3 -.3 .2 -.3 .2 -.3 .1 -.3 .1 -.2 0 -.2 .1 -.2z"/></defs>
<use href="#tc1bo" fill="#000" filter="url(#ishS)"/>
<use href="#tc1bo" fill="none" stroke="#444" stroke-width="0.35"/>
<linearGradient id="tc1cw" x1="0.8" y1="0.15" x2="0.25" y2="0.95"><stop offset="0" stop-color="#d0d0d0"/><stop offset="0.5" stop-color="#c8c8c8"/><stop offset="0.72" stop-color="#a4a4a4"/><stop offset="0.85" stop-color="#9a9a9a"/><stop offset="1" stop-color="#b4b4b4"/></linearGradient>
<path d="M329.6 232l.1 -.3 .1 -.3 .1 -.3 .1 -.2 .2 -.2 .1 -.2 .3 -.2 .3 -.1 .3 -.1 .5 -.1 .5 0 .5 -.1 .5 0 .5 -.1 .6 0 .6 0 .6 0 .5 .1 .6 .1 .6 .2 .5 .2 .4 .3 .5 .2 .3 .3 .4 .3 .2 .3 .2 .3 .1 .3 .1 .3 -.1 .4 -.1 .3 -.1 .3 -.3 .2 -.3 .2 -.4 .1 -.3 .2 -.3 .1 -.1 .2 -.2 .1 -.1 .2 -.2 .2 -.1 .2 -.2 .2 -.1 .2 0 .2 .1 .3 0 .2 .1 .3 -.1 .2 0 .2 -.1 .2 -.1 .2 -.1 .2 -.2 .2 -.2 .2 -.2 .1 -.2 .1 -.3 0 -.3 0 -.3 0 -.3 -.1 -.3 -.1 -.3 -.2 -.3 -.1 -.4 -.2 -.4 -.2 -.5 -.3 -.4 -.2 -.4 -.3 -.3 -.3 -.3 -.4 -.3 -.3 -.3 -.3 -.2 -.3 -.2 -.2 -.1 -.3 -.2 -.3 -.1 -.4 -.1 -.3 -.1 -.3 0 -.4 0 -.3 0 -.3z" fill="url(#tc1cw)"/>
<defs><path id="tc1co" d="M323.5 233.2l.1 -.6 .1 -.6 .1 -.7 .2 -.7 .3 -.5 .3 -.6 .3 -.6 .4 -.5 .4 -.5 .5 -.4 .5 -.5 .6 -.4 .6 -.3 .7 -.3 .6 -.3 .7 -.2 .8 -.2 .7 -.1 .8 -.1 .7 -.1 .7 0 .8 .1 .7 .1 .7 .2 .8 .2 .8 .2 .7 .3 .7 .4 .6 .4 .6 .5 .6 .5 .5 .5 .4 .6 .4 .7 .4 .7 .3 .6 .2 .5 .1 .5 .1 .5 0 .4 0 .4 -.1 .4 -.2 .4 -.1 .4 -.2 .3 -.3 .3 -.3 .3 -.4 .2 -.4 .2 -.5 .2 -.5 .1 -.5 .2 -.6 0 -.7 .1 -.6 0 -.4 .2 -.2 .2 0 .3 .1 .3 -.1 .3 -.1 .2 -.3 .2 -.2 .2 -.2 .1 -.2 .1 -.2 0 -.3 .1 -.3 -.1 -.5 -.1 -.6 -.2 -.6 -.3 -.6 -.2 -.6 -.2 -.5 -.3 -.6 -.2 -.6 -.3 -.6 -.2 -.7 -.2 -.7 -.2 -.6 -.2 -.6 -.1 -.6 -.1 -.6 -.1 -.5 -.2 -.5 -.1 -.3 -.1 -.4 -.2 -.3 -.2 -.2 -.3 -.2 -.4 -.2 -.4z"/></defs>
<use href="#tc1co" fill="#000" filter="url(#ishS)"/>
<use href="#tc1co" fill="none" stroke="#444" stroke-width="0.35"/>
<linearGradient id="tc1dw" x1="0.2" y1="0.15" x2="0.75" y2="0.95"><stop offset="0" stop-color="#d0d0d0"/><stop offset="0.5" stop-color="#c8c8c8"/><stop offset="0.72" stop-color="#a4a4a4"/><stop offset="0.85" stop-color="#9a9a9a"/><stop offset="1" stop-color="#b4b4b4"/></linearGradient>
<path d="M357.9 232l-.1 -.3 -.1 -.3 -.1 -.3 -.1 -.2 -.2 -.2 -.1 -.2 -.3 -.2 -.3 -.1 -.3 -.1 -.5 -.1 -.5 0 -.5 -.1 -.5 0 -.5 -.1 -.6 0 -.6 0 -.6 0 -.5 .1 -.6 .1 -.5 .2 -.6 .2 -.4 .3 -.5 .2 -.3 .3 -.4 .3 -.2 .3 -.2 .3 -.1 .3 -.1 .3 .1 .4 .1 .3 .1 .3 .3 .2 .3 .2 .4 .1 .3 .2 .3 .1 .1 .2 .2 .1 .1 .2 .2 .2 .1 .2 .2 .2 .1 .2 0 .2 -.1 .3 0 .2 0 .3 0 .2 0 .2 .1 .2 .1 .2 .1 .2 .2 .2 .2 .2 .2 .1 .2 .1 .3 0 .3 0 .3 0 .3 -.1 .3 -.1 .3 -.2 .3 -.1 .4 -.2 .4 -.2 .5 -.3 .4 -.2 .4 -.3 .3 -.3 .3 -.4 .3 -.3 .3 -.3 .2 -.3 .2 -.2 .1 -.3 .2 -.3 .1 -.4 .1 -.3 .1 -.3 0 -.4 0 -.3 0 -.3z" fill="url(#tc1dw)"/>
<defs><path id="tc1do" d="M364 233.2l-.1 -.6 -.1 -.6 -.1 -.7 -.2 -.7 -.3 -.5 -.3 -.6 -.3 -.6 -.4 -.5 -.4 -.5 -.5 -.4 -.5 -.5 -.6 -.4 -.6 -.3 -.7 -.3 -.6 -.3 -.7 -.2 -.8 -.2 -.7 -.1 -.8 -.1 -.7 -.1 -.7 0 -.8 .1 -.7 .1 -.7 .2 -.8 .2 -.8 .2 -.7 .3 -.7 .4 -.6 .4 -.6 .5 -.6 .5 -.5 .5 -.4 .6 -.4 .7 -.4 .7 -.3 .6 -.2 .5 -.1 .5 -.1 .5 0 .4 0 .4 .1 .4 .2 .4 .1 .4 .2 .3 .3 .3 .3 .3 .4 .2 .4 .2 .5 .2 .5 .1 .5 .2 .6 0 .7 .1 .6 0 .4 .2 .2 .2 0 .3 -.1 .3 .1 .3 .1 .2 .3 .2 .2 .2 .2 .1 .2 .1 .2 0 .3 .1 .3 -.1 .5 -.1 .6 -.2 .6 -.3 .6 -.2 .6 -.2 .5 -.3 .6 -.2 .6 -.3 .6 -.2 .7 -.2 .7 -.2 .6 -.2 .6 -.1 .6 -.1 .6 -.1 .5 -.2 .5 -.1 .3 -.1 .4 -.2 .3 -.2 .2 -.3 .2 -.4 .2 -.4z"/></defs>
<use href="#tc1do" fill="#000" filter="url(#ishS)"/>
<use href="#tc1do" fill="none" stroke="#444" stroke-width="0.35"/>
<text x="365.5" y="230.0" font-size="10.60" text-anchor="start" fill="#000">,</text>
<defs><path id="tc2ao" d="M371.1 216.8l0 -.6 .1 -.8 .2 -.8 .3 -.7 .3 -.7 .5 -.6 .5 -.6 .5 -.5 .5 -.4 .6 -.3 .6 -.2 .7 -.2 .7 -.2 .8 -.2 .8 -.1 .7 -.1 .6 -.1 .5 -.1 .5 0 .5 0 .6 0 .6 0 .6 0 .6 .1 .7 .1 .7 .2 .6 .3 .7 .3 .7 .5 .6 .5 .6 .5 .5 .6 .5 .6 .4 .7 .3 .7 .3 .6 .2 .6 .2 .5 .1 .5 0 .5 0 .4 -.1 .4 -.2 .3 -.2 .4 -.2 .2 -.4 .2 -.4 .2 -.5 .2 -.6 .3 -.8 .2 -.8 .2 -.8 .2 -.8 .2 -.7 .2 -.8 .3 -.7 .2 -.7 .2 -.6 .3 -.6 .2 -.5 .2 -.5 .1 -.5 .2 -.4 .1 -.4 .1 -.3 -.1 -.3 -.1 -.3 -.1 -.2 -.2 -.1 -.3 -.1 -.3 -.1 -.3 0 -.3 .1 -.2 .2 -.2 .2 -.2 0 -.1 -.2 -.1 -.4 0 -.5 0 -.4 0 -.5 -.1 -.6 -.1 -.5 -.1 -.5 -.1 -.5 -.3 -.5 -.2 -.5 -.3 -.3 -.3 -.3 -.3 -.2 -.3 -.2 -.3 -.1 -.3 -.1 -.2 0 -.2 -.1 -.2z"/></defs>
<use href="#tc2ao" fill="#000" filter="url(#ishS)"/>
<use href="#tc2ao" fill="none" stroke="#444" stroke-width="0.35"/>
<defs><path id="tc2bo" d="M411.4 216.8l0 -.6 -.1 -.8 -.2 -.8 -.3 -.7 -.3 -.7 -.5 -.6 -.5 -.6 -.5 -.5 -.5 -.4 -.6 -.3 -.6 -.2 -.7 -.2 -.7 -.2 -.8 -.2 -.8 -.1 -.7 -.1 -.6 -.1 -.5 -.1 -.5 0 -.5 0 -.6 0 -.6 0 -.6 0 -.6 .1 -.7 .1 -.7 .2 -.6 .3 -.7 .3 -.7 .5 -.6 .5 -.6 .5 -.5 .6 -.5 .6 -.4 .7 -.3 .7 -.3 .6 -.2 .6 -.2 .5 -.1 .5 0 .5 0 .4 .1 .4 .2 .3 .2 .4 .2 .2 .4 .2 .4 .2 .5 .2 .6 .3 .8 .2 .8 .2 .8 .2 .8 .2 .7 .2 .8 .3 .7 .2 .7 .2 .6 .3 .6 .2 .5 .2 .5 .1 .5 .2 .4 .1 .4 .1 .3 -.1 .3 -.1 .3 -.1 .2 -.2 .1 -.3 .1 -.3 .1 -.3 0 -.3 -.1 -.2 -.2 -.2 -.2 -.2 0 -.1 .2 -.1 .4 0 .5 0 .4 0 .5 -.1 .6 -.1 .5 -.1 .5 -.1 .5 -.3 .5 -.2 .5 -.3 .3 -.3 .3 -.3 .2 -.3 .2 -.3 .1 -.3 .1 -.2 0 -.2 .1 -.2z"/></defs>
<use href="#tc2bo" fill="#000" filter="url(#ishS)"/>
<use href="#tc2bo" fill="none" stroke="#444" stroke-width="0.35"/>
<linearGradient id="tc2cw" x1="0.8" y1="0.15" x2="0.25" y2="0.95"><stop offset="0" stop-color="#d0d0d0"/><stop offset="0.5" stop-color="#c8c8c8"/><stop offset="0.72" stop-color="#a4a4a4"/><stop offset="0.85" stop-color="#9a9a9a"/><stop offset="1" stop-color="#b4b4b4"/></linearGradient>
<path d="M377.1 232l.1 -.3 .1 -.3 .1 -.3 .1 -.2 .2 -.2 .1 -.2 .3 -.2 .3 -.1 .3 -.1 .5 -.1 .5 0 .5 -.1 .5 0 .5 -.1 .6 0 .6 0 .6 0 .5 .1 .6 .1 .5 .2 .6 .2 .4 .3 .5 .2 .3 .3 .4 .3 .2 .3 .2 .3 .1 .3 .1 .3 -.1 .4 -.1 .3 -.1 .3 -.3 .2 -.3 .2 -.4 .1 -.3 .2 -.3 .1 -.1 .2 -.2 .1 -.1 .2 -.2 .2 -.1 .2 -.2 .2 -.1 .2 0 .2 .1 .3 0 .2 0 .3 0 .2 0 .2 -.1 .2 -.1 .2 -.1 .2 -.2 .2 -.2 .2 -.2 .1 -.2 .1 -.3 0 -.3 0 -.3 0 -.3 -.1 -.3 -.1 -.3 -.2 -.3 -.1 -.4 -.2 -.4 -.2 -.5 -.3 -.4 -.2 -.4 -.3 -.3 -.3 -.3 -.4 -.3 -.3 -.3 -.3 -.2 -.3 -.2 -.2 -.1 -.3 -.2 -.3 -.1 -.4 -.1 -.3 -.1 -.3 0 -.4 0 -.3 0 -.3z" fill="url(#tc2cw)"/>
<defs><path id="tc2co" d="M371 233.2l.1 -.6 .1 -.6 .1 -.7 .2 -.7 .3 -.5 .3 -.6 .3 -.6 .4 -.5 .4 -.5 .5 -.4 .5 -.5 .6 -.4 .6 -.3 .7 -.3 .6 -.3 .7 -.2 .8 -.2 .7 -.1 .8 -.1 .7 -.1 .7 0 .8 .1 .7 .1 .7 .2 .8 .2 .8 .2 .7 .3 .7 .4 .6 .4 .6 .5 .6 .5 .5 .5 .4 .6 .4 .7 .4 .7 .3 .6 .2 .5 .1 .5 .1 .5 0 .4 0 .4 -.1 .4 -.2 .4 -.1 .4 -.2 .3 -.3 .3 -.3 .3 -.4 .2 -.4 .2 -.5 .2 -.5 .1 -.5 .2 -.6 0 -.7 .1 -.6 0 -.4 .2 -.2 .2 0 .3 .1 .3 -.1 .3 -.1 .2 -.3 .2 -.2 .2 -.2 .1 -.2 .1 -.2 0 -.3 .1 -.3 -.1 -.5 -.1 -.6 -.2 -.6 -.3 -.6 -.2 -.6 -.2 -.5 -.3 -.6 -.2 -.6 -.3 -.6 -.2 -.7 -.2 -.7 -.2 -.6 -.2 -.6 -.1 -.6 -.1 -.6 -.1 -.5 -.2 -.5 -.1 -.3 -.1 -.4 -.2 -.3 -.2 -.2 -.3 -.2 -.4 -.2 -.4z"/></defs>
<use href="#tc2co" fill="#000" filter="url(#ishS)"/>
<use href="#tc2co" fill="none" stroke="#444" stroke-width="0.35"/>
<linearGradient id="tc2dw" x1="0.2" y1="0.15" x2="0.75" y2="0.95"><stop offset="0" stop-color="#d0d0d0"/><stop offset="0.5" stop-color="#c8c8c8"/><stop offset="0.72" stop-color="#a4a4a4"/><stop offset="0.85" stop-color="#9a9a9a"/><stop offset="1" stop-color="#b4b4b4"/></linearGradient>
<path d="M405.4 232l-.1 -.3 -.1 -.3 -.1 -.3 -.1 -.2 -.2 -.2 -.1 -.2 -.3 -.2 -.3 -.1 -.3 -.1 -.5 -.1 -.5 0 -.5 -.1 -.5 0 -.5 -.1 -.6 0 -.6 0 -.6 0 -.5 .1 -.6 .1 -.6 .2 -.5 .2 -.4 .3 -.5 .2 -.3 .3 -.4 .3 -.2 .3 -.2 .3 -.1 .3 -.1 .3 .1 .4 .1 .3 .1 .3 .3 .2 .3 .2 .4 .1 .3 .2 .3 .1 .1 .2 .2 .1 .1 .2 .2 .2 .1 .2 .2 .2 .1 .2 0 .2 -.1 .3 0 .2 -.1 .3 .1 .2 0 .2 .1 .2 .1 .2 .1 .2 .2 .2 .2 .2 .2 .1 .2 .1 .3 0 .3 0 .3 0 .3 -.1 .3 -.1 .3 -.2 .3 -.1 .4 -.2 .4 -.2 .5 -.3 .4 -.2 .4 -.3 .3 -.3 .3 -.4 .3 -.3 .3 -.3 .2 -.3 .2 -.2 .1 -.3 .2 -.3 .1 -.4 .1 -.3 .1 -.3 0 -.4 0 -.3 0 -.3z" fill="url(#tc2dw)"/>
<defs><path id="tc2do" d="M411.5 233.2l-.1 -.6 -.1 -.6 -.1 -.7 -.2 -.7 -.3 -.5 -.3 -.6 -.3 -.6 -.4 -.5 -.4 -.5 -.5 -.4 -.5 -.5 -.6 -.4 -.6 -.3 -.7 -.3 -.6 -.3 -.7 -.2 -.8 -.2 -.7 -.1 -.8 -.1 -.7 -.1 -.7 0 -.8 .1 -.7 .1 -.7 .2 -.8 .2 -.8 .2 -.7 .3 -.7 .4 -.6 .4 -.6 .5 -.6 .5 -.5 .5 -.4 .6 -.4 .7 -.4 .7 -.3 .6 -.2 .5 -.1 .5 -.1 .5 0 .4 0 .4 .1 .4 .2 .4 .1 .4 .2 .3 .3 .3 .3 .3 .4 .2 .4 .2 .5 .2 .5 .1 .5 .2 .6 0 .7 .1 .6 0 .4 .2 .2 .2 0 .3 -.1 .3 .1 .3 .1 .2 .3 .2 .2 .2 .2 .1 .2 .1 .2 0 .3 .1 .3 -.1 .5 -.1 .6 -.2 .6 -.3 .6 -.2 .6 -.2 .5 -.3 .6 -.2 .6 -.3 .6 -.2 .7 -.2 .7 -.2 .6 -.2 .6 -.1 .6 -.1 .6 -.1 .5 -.2 .5 -.1 .3 -.1 .4 -.2 .3 -.2 .2 -.3 .2 -.4 .2 -.4z"/></defs>
<use href="#tc2do" fill="#000" filter="url(#ishS)"/>
<use href="#tc2do" fill="none" stroke="#444" stroke-width="0.35"/>
<text x="411.5" y="228.3" font-size="10.60" text-anchor="start" fill="#000">)</text>
<path fill="none" stroke="#f7da82" stroke-width="4.40" stroke-linecap="round" d="M314.0 303.6h0M319.9 280.8h0M403.4 281.1h0M286.5 337.8h0M368.8 307.0h0M389.6 308.3h0M302.0 338.5h0M280.5 300.6h0M316.1 298.2h0M378.0 316.1h0M362.6 267.5h0M295.9 314.0h0M341.6 321.8h0M380.0 287.0h0M340.0 306.6h0M374.1 309.0h0M428.2 313.8h0M382.2 292.4h0M335.0 301.8h0M301.9 361.9h0M327.6 299.3h0M354.3 290.4h0M415.9 291.5h0M397.2 286.7h0M323.1 315.3h0M421.2 296.4h0M347.8 309.5h0M383.9 268.8h0M289.0 345.9h0M288.5 316.3h0M304.3 312.6h0M414.8 296.0h0M381.7 301.0h0M409.1 309.8h0M375.9 309.9h0M337.4 305.9h0M355.2 295.2h0M367.7 313.1h0M411.2 247.5h0M342.5 314.7h0M416.1 280.9h0M371.0 300.4h0M405.9 293.2h0M352.2 279.0h0M383.7 301.1h0M326.5 285.9h0M356.2 280.6h0M306.6 333.6h0M287.9 302.5h0M277.9 335.0h0M385.2 247.5h0M345.5 310.6h0M416.9 299.5h0M406.8 319.5h0M333.9 329.9h0M429.2 289.5h0M367.5 314.9h0M395.6 310.8h0M337.5 318.4h0M303.4 319.8h0M299.4 291.8h0M300.9 346.8h0M369.4 306.5h0M289.8 336.9h0M274.8 351.1h0M406.5 308.2h0M287.7 336.6h0M344.5 291.5h0M350.7 305.7h0M372.0 305.5h0M353.2 290.8h0M423.4 276.1h0M393.1 293.8h0M364.6 291.5h0M371.5 310.8h0M353.6 290.4h0M427.8 271.5h0M308.3 322.0h0M383.2 314.2h0M361.5 272.4h0M278.4 321.8h0M319.5 257.8h0M421.7 293.0h0M398.6 273.3h0M273.7 332.5h0M319.6 306.9h0M273.2 310.3h0M405.6 300.3h0M289.5 322.0h0M280.9 319.9h0M430.6 276.9h0M343.8 293.8h0M323.1 292.3h0M279.5 308.5h0M334.7 302.4h0M330.9 314.2h0M356.4 320.5h0M272.7 338.0h0M295.6 327.7h0M305.6 303.5h0M342.9 311.0h0M320.5 333.0h0M370.9 285.4h0M317.8 326.0h0M418.9 295.8h0M427.3 283.9h0M281.2 314.3h0M305.4 357.9h0M362.8 318.5h0M396.4 285.8h0M282.0 328.8h0M301.5 331.9h0M345.5 313.3h0M379.9 269.4h0M417.8 290.7h0M412.0 271.9h0M400.1 273.9h0M280.1 330.9h0M429.7 271.4h0M371.1 304.2h0M285.5 332.1h0M312.9 333.2h0M372.1 280.7h0M334.0 314.2h0M343.9 314.0h0M401.9 307.1h0M405.0 254.6h0M360.1 286.5h0M399.9 290.2h0M337.3 318.4h0M429.4 306.2h0M369.6 291.6h0M428.3 274.5h0M278.7 348.1h0M414.5 263.2h0M362.2 285.3h0M387.1 308.5h0M302.8 326.1h0M360.4 307.0h0M318.4 308.9h0M288.7 323.0h0M272.1 354.1h0M418.4 256.6h0M380.2 288.1h0M304.8 293.6h0M313.3 291.2h0M347.0 307.0h0M404.1 280.7h0M290.6 306.9h0M428.3 266.1h0M424.4 283.6h0M311.2 324.7h0M375.3 294.5h0M329.9 322.5h0M384.5 302.2h0M285.7 357.0h0M347.7 301.7h0M366.9 315.6h0M373.0 305.5h0M383.8 293.5h0M415.9 277.7h0M310.7 280.8h0M296.4 314.6h0M334.8 331.8h0M363.7 296.2h0M427.1 290.4h0M386.6 284.8h0M391.2 302.5h0M429.1 291.8h0M314.9 321.7h0M313.6 324.2h0M340.0 337.5h0M319.4 323.2h0M377.0 294.8h0M425.7 259.3h0M296.5 323.3h0M355.5 307.4h0M381.3 283.2h0M351.4 292.6h0M419.5 254.1h0M390.9 280.3h0M414.4 284.0h0M289.7 296.6h0M303.3 289.3h0M282.2 330.7h0M405.9 283.4h0M427.5 309.4h0M273.9 331.2h0M399.4 303.6h0M389.4 294.7h0M418.6 290.9h0M315.4 315.6h0M387.3 293.4h0M310.0 305.5h0M283.9 317.8h0M392.2 300.0h0M278.4 346.1h0M384.9 270.6h0M317.5 287.1h0M350.5 310.3h0M415.9 273.3h0M311.0 340.7h0M347.4 330.7h0M329.1 313.4h0M302.4 290.6h0M348.3 321.4h0M301.0 331.5h0M401.0 259.3h0M371.1 329.6h0M317.4 300.7h0M429.1 270.8h0M327.5 312.7h0M380.3 290.3h0M390.3 247.5h0M314.5 332.7h0M273.5 330.4h0M416.1 287.3h0M426.4 292.3h0M299.2 341.0h0M296.5 290.2h0M341.6 301.1h0M368.3 328.0h0M431.7 290.9h0M427.6 272.7h0M431.5 271.6h0M311.4 339.1h0M368.6 298.7h0M342.2 300.2h0M309.1 307.6h0M282.2 315.4h0M298.9 349.5h0M329.6 276.0h0M285.9 317.6h0M296.0 286.6h0M278.8 273.0h0M372.4 298.8h0M351.4 323.8h0M311.0 298.7h0M356.8 303.7h0M340.3 313.3h0M378.3 312.4h0M422.6 251.6h0M328.8 316.5h0M376.1 319.5h0M307.0 322.9h0M423.8 301.3h0M371.6 293.4h0M297.3 325.3h0M313.2 331.8h0M297.4 307.3h0M300.6 328.3h0M321.3 298.2h0M404.9 264.3h0M345.6 310.2h0M316.5 323.7h0M339.4 302.1h0M314.9 297.1h0M390.4 290.7h0M281.1 320.2h0M318.4 312.2h0M323.9 304.7h0M301.0 305.8h0M391.1 302.9h0M300.8 325.4h0M320.2 310.4h0M280.7 334.5h0M393.9 287.3h0M330.5 298.8h0M377.8 294.8h0M306.8 325.8h0M275.1 338.1h0M323.8 279.4h0M397.7 273.1h0M407.2 305.5h0M328.1 323.7h0M408.7 252.4h0M279.8 296.5h0M356.1 298.5h0M313.3 292.9h0M342.7 330.8h0M307.5 314.9h0M416.3 270.1h0M320.5 343.8h0M424.6 294.4h0M289.3 306.5h0M341.2 285.2h0M343.4 314.9h0M386.5 286.7h0M327.5 281.0h0M351.3 308.8h0M283.0 345.5h0M322.0 311.8h0M389.0 298.0h0M288.7 297.6h0M346.5 300.7h0M309.9 328.3h0M298.4 275.4h0M291.2 328.5h0M403.4 278.6h0M382.8 281.0h0M333.0 293.7h0M335.0 303.9h0M389.5 280.6h0M369.4 298.0h0M419.9 307.0h0M420.5 285.8h0M349.7 306.1h0M378.3 297.3h0M359.8 297.2h0M321.8 321.7h0M345.0 280.7h0M388.4 263.7h0M361.1 337.9h0M374.0 295.3h0M350.5 314.9h0M425.9 326.1h0M397.3 281.5h0M292.8 330.1h0M403.4 293.5h0M420.2 293.4h0M403.8 267.7h0M327.1 287.4h0M331.2 303.1h0M311.0 301.7h0M280.6 324.8h0M348.0 300.6h0M409.3 298.2h0M396.1 288.4h0M378.8 306.6h0M408.8 278.8h0M378.3 279.7h0M307.8 309.4h0M401.6 266.6h0M331.1 260.8h0M415.7 320.3h0M324.5 309.7h0M286.5 331.1h0M389.8 298.9h0M289.0 344.2h0M412.5 283.3h0M338.3 310.5h0M397.9 299.6h0M280.1 327.4h0M359.6 310.1h0M381.2 334.5h0M292.6 300.4h0M370.1 302.0h0M294.8 335.4h0M320.8 305.7h0M330.7 319.8h0M371.9 334.3h0M292.7 303.7h0M301.5 346.1h0M398.1 292.3h0M387.5 289.4h0M345.1 280.2h0M317.3 291.2h0M383.7 289.7h0M347.3 316.7h0M322.0 318.0h0M413.2 264.9h0M304.3 284.5h0M401.8 277.8h0M371.6 307.5h0M376.2 276.8h0M382.0 299.7h0M392.7 297.2h0M414.2 288.6h0M420.6 271.5h0M313.0 308.5h0M298.1 300.2h0M416.7 260.2h0M304.6 306.8h0M307.5 355.9h0M402.0 317.1h0M428.0 276.9h0M408.3 286.6h0M355.3 263.0h0M332.4 308.2h0M431.6 281.3h0M390.8 274.0h0M373.5 276.9h0M273.4 329.0h0M303.2 307.9h0M273.8 344.7h0M418.4 299.0h0M309.9 292.6h0M299.3 342.1h0M365.9 281.6h0M304.5 303.9h0M360.1 286.0h0M425.4 264.4h0M411.5 274.6h0M311.3 351.5h0M419.9 299.7h0M336.3 317.1h0M356.3 284.6h0M324.2 329.9h0M433.5 290.5h0M321.3 317.3h0M292.1 352.7h0M307.5 334.8h0M276.8 342.9h0M296.0 341.8h0M276.9 365.1h0M283.8 358.2h0M305.7 341.6h0M287.5 338.1h0M308.2 336.6h0M303.9 338.2h0M299.9 333.4h0M278.3 354.4h0M291.7 347.2h0M310.7 338.9h0M299.8 356.3h0M274.7 351.0h0M294.0 342.3h0M292.4 338.7h0M293.3 354.8h0M290.1 353.5h0M307.8 331.8h0M295.3 342.3h0M309.8 327.5h0M314.1 342.6h0M311.5 335.7h0M305.9 345.0h0M272.6 353.2h0M271.7 359.7h0M279.2 348.3h0M294.6 336.9h0M284.9 344.6h0M277.5 367.0h0M312.9 329.3h0M290.7 343.5h0M280.4 359.8h0M294.4 352.0h0M315.3 335.3h0M303.8 336.4h0M312.8 340.0h0M276.8 366.0h0M304.6 338.3h0M286.6 347.6h0M287.6 329.8h0M291.9 356.2h0M292.2 327.0h0"/>
<line x1="271.6" y1="328.6" x2="433.5" y2="278.5" stroke="#14a06e" stroke-width="2"/>
<path d="M271.6,241.4 L271.6,394.2 L433.5,394.2" fill="none" stroke="#555" stroke-width="0.8"/>
<line x1="271.6" y1="394.2" x2="271.6" y2="392.6" stroke="#555" stroke-width="0.6"/>
<text x="271.6" y="407.6" font-size="8.90" text-anchor="middle" fill="#222">0</text>
<line x1="312.1" y1="394.2" x2="312.1" y2="392.6" stroke="#555" stroke-width="0.6"/>
<text x="312.1" y="407.6" font-size="8.90" text-anchor="middle" fill="#222">100</text>
<line x1="352.6" y1="394.2" x2="352.6" y2="392.6" stroke="#555" stroke-width="0.6"/>
<text x="352.6" y="407.6" font-size="8.90" text-anchor="middle" fill="#222">200</text>
<line x1="393.0" y1="394.2" x2="393.0" y2="392.6" stroke="#555" stroke-width="0.6"/>
<text x="393.0" y="407.6" font-size="8.90" text-anchor="middle" fill="#222">300</text>
<line x1="433.5" y1="394.2" x2="433.5" y2="392.6" stroke="#555" stroke-width="0.6"/>
<text x="433.5" y="407.6" font-size="8.90" text-anchor="middle" fill="#222">400</text>
<line x1="271.6" y1="241.4" x2="273.2" y2="241.4" stroke="#555" stroke-width="0.6"/>
<text x="267.3" y="245.8" font-size="8.90" text-anchor="end" fill="#222">1</text>
<line x1="271.6" y1="279.6" x2="273.2" y2="279.6" stroke="#555" stroke-width="0.6"/>
<text x="267.3" y="284.0" font-size="8.90" text-anchor="end" fill="#222">0.5</text>
<line x1="271.6" y1="317.8" x2="273.2" y2="317.8" stroke="#555" stroke-width="0.6"/>
<text x="267.3" y="322.2" font-size="8.90" text-anchor="end" fill="#222">0</text>
<line x1="271.6" y1="356.0" x2="273.2" y2="356.0" stroke="#555" stroke-width="0.6"/>
<text x="267.3" y="360.4" font-size="8.90" text-anchor="end" fill="#222">-0.5</text>
<line x1="271.6" y1="394.2" x2="273.2" y2="394.2" stroke="#555" stroke-width="0.6"/>
<text x="267.3" y="398.6" font-size="8.90" text-anchor="end" fill="#222">-1</text>
<text x="352.5" y="422.6" font-size="10.70" text-anchor="middle" fill="#000">S-A Axis Rank</text>
<text x="249.2" y="319.4" font-size="10.60" text-anchor="middle" fill="#000" transform="rotate(-90 249.2 319.4)">RBD index</text>
<text x="292.2" y="387.4" font-size="9.30" text-anchor="start" fill="#000" font-style="italic">r=0.580 p&lt;0.0001</text>
<rect x="378.3" y="333.8" width="54.3" height="48.7" fill="#fff"/>
<g fill="#d9d9d9" stroke="#111" stroke-width="0.55"><rect x="380.44" y="382.23" width="2.34" height="0.27"/><rect x="382.77" y="381.99" width="2.34" height="0.51"/><rect x="385.11" y="379.31" width="2.92" height="3.19"/><rect x="388.03" y="374.28" width="2.34" height="8.22"/><rect x="390.36" y="367.04" width="2.69" height="15.46"/><rect x="393.05" y="358.28" width="2.34" height="24.22"/><rect x="395.39" y="347.77" width="2.34" height="34.73"/><rect x="397.72" y="341.35" width="2.57" height="41.15"/><rect x="400.29" y="339.25" width="2.34" height="43.25"/><rect x="402.63" y="334.34" width="2.34" height="48.16"/><rect x="404.96" y="333.76" width="2.69" height="48.74"/><rect x="407.65" y="336.33" width="2.57" height="46.17"/><rect x="410.22" y="349.88" width="2.57" height="32.62"/><rect x="412.79" y="360.04" width="2.57" height="22.46"/><rect x="415.36" y="369.15" width="2.34" height="13.35"/><rect x="417.69" y="376.04" width="2.57" height="6.46"/><rect x="420.26" y="378.96" width="2.57" height="3.54"/><rect x="422.83" y="381.99" width="2.57" height="0.51"/></g>
<path d="M378.3,333.8 L378.3,382.5 L432.6,382.5" fill="none" stroke="#444" stroke-width="0.6"/>
<line x1="429.8" y1="333.8" x2="429.8" y2="382.5" stroke="#1fa874" stroke-width="1"/>
<text x="381.0" y="393.1" font-size="7.60" text-anchor="middle" fill="#222">-0.5</text>
<text x="403.4" y="393.1" font-size="7.60" text-anchor="middle" fill="#222">0</text>
<text x="426.0" y="393.1" font-size="7.60" text-anchor="middle" fill="#222">0.5</text>
<text x="455.4" y="219.6" font-size="21.50" text-anchor="start" fill="#000">D</text>
<text x="519.0" y="228.3" font-size="10.60" text-anchor="start" fill="#000">Corr(</text>
<defs><path id="td1ao" d="M543.6 216.8l0 -.6 .1 -.8 .2 -.8 .3 -.7 .3 -.7 .5 -.6 .5 -.6 .5 -.5 .5 -.4 .6 -.3 .6 -.2 .7 -.2 .7 -.2 .8 -.2 .8 -.1 .7 -.1 .6 -.1 .5 -.1 .5 0 .5 0 .6 0 .6 0 .6 0 .6 .1 .7 .1 .7 .2 .6 .3 .7 .3 .7 .5 .6 .5 .6 .5 .5 .6 .5 .6 .4 .7 .3 .7 .3 .6 .2 .6 .2 .5 .1 .5 0 .5 0 .4 -.1 .4 -.2 .3 -.2 .4 -.2 .2 -.4 .2 -.4 .2 -.5 .2 -.6 .3 -.8 .2 -.8 .2 -.8 .2 -.8 .2 -.7 .2 -.8 .3 -.7 .2 -.7 .2 -.6 .3 -.6 .2 -.5 .2 -.5 .1 -.5 .2 -.4 .1 -.4 .1 -.3 -.1 -.3 -.1 -.3 -.1 -.2 -.2 -.1 -.3 -.1 -.3 -.1 -.3 0 -.3 .1 -.2 .2 -.2 .2 -.2 0 -.1 -.2 -.1 -.4 0 -.5 0 -.4 0 -.5 -.1 -.6 -.1 -.5 -.1 -.5 -.1 -.5 -.3 -.5 -.2 -.5 -.3 -.3 -.3 -.3 -.3 -.2 -.3 -.2 -.3 -.1 -.3 -.1 -.2 0 -.2 -.1 -.2z"/></defs>
<use href="#td1ao" fill="#000" filter="url(#ishS)"/>
<use href="#td1ao" fill="none" stroke="#444" stroke-width="0.35"/>
<defs><path id="td1bo" d="M583.9 216.8l0 -.6 -.1 -.8 -.2 -.8 -.3 -.7 -.3 -.7 -.5 -.6 -.5 -.6 -.5 -.5 -.5 -.4 -.6 -.3 -.6 -.2 -.7 -.2 -.7 -.2 -.8 -.2 -.8 -.1 -.7 -.1 -.6 -.1 -.5 -.1 -.5 0 -.5 0 -.6 0 -.6 0 -.6 0 -.6 .1 -.7 .1 -.7 .2 -.6 .3 -.7 .3 -.7 .5 -.6 .5 -.6 .5 -.5 .6 -.5 .6 -.4 .7 -.3 .7 -.3 .6 -.2 .6 -.2 .5 -.1 .5 0 .5 0 .4 .1 .4 .2 .3 .2 .4 .2 .2 .4 .2 .4 .2 .5 .2 .6 .3 .8 .2 .8 .2 .8 .2 .8 .2 .7 .2 .8 .3 .7 .2 .7 .2 .6 .3 .6 .2 .5 .2 .5 .1 .5 .2 .4 .1 .4 .1 .3 -.1 .3 -.1 .3 -.1 .2 -.2 .1 -.3 .1 -.3 .1 -.3 0 -.3 -.1 -.2 -.2 -.2 -.2 -.2 0 -.1 .2 -.1 .4 0 .5 0 .4 0 .5 -.1 .6 -.1 .5 -.1 .5 -.1 .5 -.3 .5 -.2 .5 -.3 .3 -.3 .3 -.3 .2 -.3 .2 -.3 .1 -.3 .1 -.2 0 -.2 .1 -.2z"/></defs>
<use href="#td1bo" fill="#000" filter="url(#ishS)"/>
<use href="#td1bo" fill="none" stroke="#444" stroke-width="0.35"/>
<linearGradient id="td1cw" x1="0.8" y1="0.15" x2="0.25" y2="0.95"><stop offset="0" stop-color="#d0d0d0"/><stop offset="0.5" stop-color="#c8c8c8"/><stop offset="0.72" stop-color="#a4a4a4"/><stop offset="0.85" stop-color="#9a9a9a"/><stop offset="1" stop-color="#b4b4b4"/></linearGradient>
<path d="M549.6 232l.1 -.3 .1 -.3 .1 -.3 .1 -.2 .2 -.2 .1 -.2 .3 -.2 .3 -.1 .3 -.1 .5 -.1 .5 0 .5 -.1 .5 0 .5 -.1 .6 0 .6 0 .6 0 .5 .1 .6 .1 .6 .2 .5 .2 .4 .3 .5 .2 .3 .3 .4 .3 .2 .3 .2 .3 .1 .3 .1 .3 -.1 .4 -.1 .3 -.1 .3 -.3 .2 -.3 .2 -.4 .1 -.3 .2 -.3 .1 -.1 .2 -.2 .1 -.1 .2 -.2 .2 -.1 .2 -.2 .2 -.1 .2 0 .2 .1 .3 0 .2 .1 .3 -.1 .2 0 .2 -.1 .2 -.1 .2 -.1 .2 -.2 .2 -.2 .2 -.2 .1 -.2 .1 -.3 0 -.3 0 -.3 0 -.3 -.1 -.3 -.1 -.3 -.2 -.3 -.1 -.4 -.2 -.4 -.2 -.5 -.3 -.4 -.2 -.4 -.3 -.3 -.3 -.3 -.4 -.3 -.3 -.3 -.3 -.2 -.3 -.2 -.2 -.1 -.3 -.2 -.3 -.1 -.4 -.1 -.3 -.1 -.3 0 -.4 0 -.3 0 -.3z" fill="url(#td1cw)"/>
<defs><path id="td1co" d="M543.5 233.2l.1 -.6 .1 -.6 .1 -.7 .2 -.7 .3 -.5 .3 -.6 .3 -.6 .4 -.5 .4 -.5 .5 -.4 .5 -.5 .6 -.4 .6 -.3 .7 -.3 .6 -.3 .7 -.2 .8 -.2 .7 -.1 .8 -.1 .7 -.1 .7 0 .8 .1 .7 .1 .7 .2 .8 .2 .8 .2 .7 .3 .7 .4 .6 .4 .6 .5 .6 .5 .5 .5 .4 .6 .4 .7 .4 .7 .3 .6 .2 .5 .1 .5 .1 .5 0 .4 0 .4 -.1 .4 -.2 .4 -.1 .4 -.2 .3 -.3 .3 -.3 .3 -.4 .2 -.4 .2 -.5 .2 -.5 .1 -.5 .2 -.6 0 -.7 .1 -.6 0 -.4 .2 -.2 .2 0 .3 .1 .3 -.1 .3 -.1 .2 -.3 .2 -.2 .2 -.2 .1 -.2 .1 -.2 0 -.3 .1 -.3 -.1 -.5 -.1 -.6 -.2 -.6 -.3 -.6 -.2 -.6 -.2 -.5 -.3 -.6 -.2 -.6 -.3 -.6 -.2 -.7 -.2 -.7 -.2 -.6 -.2 -.6 -.1 -.6 -.1 -.6 -.1 -.5 -.2 -.5 -.1 -.3 -.1 -.4 -.2 -.3 -.2 -.2 -.3 -.2 -.4 -.2 -.4z"/></defs>
<use href="#td1co" fill="#000" filter="url(#ishS)"/>
<use href="#td1co" fill="none" stroke="#444" stroke-width="0.35"/>
<linearGradient id="td1dw" x1="0.2" y1="0.15" x2="0.75" y2="0.95"><stop offset="0" stop-color="#d0d0d0"/><stop offset="0.5" stop-color="#c8c8c8"/><stop offset="0.72" stop-color="#a4a4a4"/><stop offset="0.85" stop-color="#9a9a9a"/><stop offset="1" stop-color="#b4b4b4"/></linearGradient>
<path d="M577.9 232l-.1 -.3 -.1 -.3 -.1 -.3 -.1 -.2 -.2 -.2 -.1 -.2 -.3 -.2 -.3 -.1 -.3 -.1 -.5 -.1 -.5 0 -.5 -.1 -.5 0 -.5 -.1 -.6 0 -.6 0 -.6 0 -.5 .1 -.6 .1 -.5 .2 -.6 .2 -.4 .3 -.5 .2 -.3 .3 -.4 .3 -.2 .3 -.2 .3 -.1 .3 -.1 .3 .1 .4 .1 .3 .1 .3 .3 .2 .3 .2 .4 .1 .3 .2 .3 .1 .1 .2 .2 .1 .1 .2 .2 .2 .1 .2 .2 .2 .1 .2 0 .2 -.1 .3 0 .2 0 .3 0 .2 0 .2 .1 .2 .1 .2 .1 .2 .2 .2 .2 .2 .2 .1 .2 .1 .3 0 .3 0 .3 0 .3 -.1 .3 -.1 .3 -.2 .3 -.1 .4 -.2 .4 -.2 .5 -.3 .4 -.2 .4 -.3 .3 -.3 .3 -.4 .3 -.3 .3 -.3 .2 -.3 .2 -.2 .1 -.3 .2 -.3 .1 -.4 .1 -.3 .1 -.3 0 -.4 0 -.3 0 -.3z" fill="url(#td1dw)"/>
<defs><path id="td1do" d="M584 233.2l-.1 -.6 -.1 -.6 -.1 -.7 -.2 -.7 -.3 -.5 -.3 -.6 -.3 -.6 -.4 -.5 -.4 -.5 -.5 -.4 -.5 -.5 -.6 -.4 -.6 -.3 -.7 -.3 -.6 -.3 -.7 -.2 -.8 -.2 -.7 -.1 -.8 -.1 -.7 -.1 -.7 0 -.8 .1 -.7 .1 -.7 .2 -.8 .2 -.8 .2 -.7 .3 -.7 .4 -.6 .4 -.6 .5 -.6 .5 -.5 .5 -.4 .6 -.4 .7 -.4 .7 -.3 .6 -.2 .5 -.1 .5 -.1 .5 0 .4 0 .4 .1 .4 .2 .4 .1 .4 .2 .3 .3 .3 .3 .3 .4 .2 .4 .2 .5 .2 .5 .1 .5 .2 .6 0 .7 .1 .6 0 .4 .2 .2 .2 0 .3 -.1 .3 .1 .3 .1 .2 .3 .2 .2 .2 .2 .1 .2 .1 .2 0 .3 .1 .3 -.1 .5 -.1 .6 -.2 .6 -.3 .6 -.2 .6 -.2 .5 -.3 .6 -.2 .6 -.3 .6 -.2 .7 -.2 .7 -.2 .6 -.2 .6 -.1 .6 -.1 .6 -.1 .5 -.2 .5 -.1 .3 -.1 .4 -.2 .3 -.2 .2 -.3 .2 -.4 .2 -.4z"/></defs>
<use href="#td1do" fill="#000" filter="url(#ishS)"/>
<use href="#td1do" fill="none" stroke="#444" stroke-width="0.35"/>
<text x="585.5" y="230.0" font-size="10.60" text-anchor="start" fill="#000">,</text>
<defs><path id="td2ao" d="M591.1 216.8l0 -.6 .1 -.8 .2 -.8 .3 -.7 .3 -.7 .5 -.6 .5 -.6 .5 -.5 .5 -.4 .6 -.3 .6 -.2 .7 -.2 .7 -.2 .8 -.2 .8 -.1 .7 -.1 .6 -.1 .5 -.1 .5 0 .5 0 .6 0 .6 0 .6 0 .6 .1 .7 .1 .7 .2 .6 .3 .7 .3 .7 .5 .6 .5 .6 .5 .5 .6 .5 .6 .4 .7 .3 .7 .3 .6 .2 .6 .2 .5 .1 .5 0 .5 0 .4 -.1 .4 -.2 .3 -.2 .4 -.2 .2 -.4 .2 -.4 .2 -.5 .2 -.6 .3 -.8 .2 -.8 .2 -.8 .2 -.8 .2 -.7 .2 -.8 .3 -.7 .2 -.7 .2 -.6 .3 -.6 .2 -.5 .2 -.5 .1 -.5 .2 -.4 .1 -.4 .1 -.3 -.1 -.3 -.1 -.3 -.1 -.2 -.2 -.1 -.3 -.1 -.3 -.1 -.3 0 -.3 .1 -.2 .2 -.2 .2 -.2 0 -.1 -.2 -.1 -.4 0 -.5 0 -.4 0 -.5 -.1 -.6 -.1 -.5 -.1 -.5 -.1 -.5 -.3 -.5 -.2 -.5 -.3 -.3 -.3 -.3 -.3 -.2 -.3 -.2 -.3 -.1 -.3 -.1 -.2 0 -.2 -.1 -.2z"/></defs>
<use href="#td2ao" fill="#000" filter="url(#ishS)"/>
<use href="#td2ao" fill="none" stroke="#444" stroke-width="0.35"/>
<defs><path id="td2bo" d="M631.4 216.8l0 -.6 -.1 -.8 -.2 -.8 -.3 -.7 -.3 -.7 -.5 -.6 -.5 -.6 -.5 -.5 -.5 -.4 -.6 -.3 -.6 -.2 -.7 -.2 -.7 -.2 -.8 -.2 -.8 -.1 -.7 -.1 -.6 -.1 -.5 -.1 -.5 0 -.5 0 -.6 0 -.6 0 -.6 0 -.6 .1 -.7 .1 -.7 .2 -.6 .3 -.7 .3 -.7 .5 -.6 .5 -.6 .5 -.5 .6 -.5 .6 -.4 .7 -.3 .7 -.3 .6 -.2 .6 -.2 .5 -.1 .5 0 .5 0 .4 .1 .4 .2 .3 .2 .4 .2 .2 .4 .2 .4 .2 .5 .2 .6 .3 .8 .2 .8 .2 .8 .2 .8 .2 .7 .2 .8 .3 .7 .2 .7 .2 .6 .3 .6 .2 .5 .2 .5 .1 .5 .2 .4 .1 .4 .1 .3 -.1 .3 -.1 .3 -.1 .2 -.2 .1 -.3 .1 -.3 .1 -.3 0 -.3 -.1 -.2 -.2 -.2 -.2 -.2 0 -.1 .2 -.1 .4 0 .5 0 .4 0 .5 -.1 .6 -.1 .5 -.1 .5 -.1 .5 -.3 .5 -.2 .5 -.3 .3 -.3 .3 -.3 .2 -.3 .2 -.3 .1 -.3 .1 -.2 0 -.2 .1 -.2z"/></defs>
<use href="#td2bo" fill="#000" filter="url(#ishS)"/>
<use href="#td2bo" fill="none" stroke="#444" stroke-width="0.35"/>
<linearGradient id="td2cw" x1="0.8" y1="0.15" x2="0.25" y2="0.95"><stop offset="0" stop-color="#d0d0d0"/><stop offset="0.5" stop-color="#c8c8c8"/><stop offset="0.72" stop-color="#a4a4a4"/><stop offset="0.85" stop-color="#9a9a9a"/><stop offset="1" stop-color="#b4b4b4"/></linearGradient>
<path d="M597.1 232l.1 -.3 .1 -.3 .1 -.3 .1 -.2 .2 -.2 .1 -.2 .3 -.2 .3 -.1 .3 -.1 .5 -.1 .5 0 .5 -.1 .5 0 .5 -.1 .6 0 .6 0 .6 0 .5 .1 .6 .1 .5 .2 .6 .2 .4 .3 .5 .2 .3 .3 .4 .3 .2 .3 .2 .3 .1 .3 .1 .3 -.1 .4 -.1 .3 -.1 .3 -.3 .2 -.3 .2 -.4 .1 -.3 .2 -.3 .1 -.1 .2 -.2 .1 -.1 .2 -.2 .2 -.1 .2 -.2 .2 -.1 .2 0 .2 .1 .3 0 .2 0 .3 0 .2 0 .2 -.1 .2 -.1 .2 -.1 .2 -.2 .2 -.2 .2 -.2 .1 -.2 .1 -.3 0 -.3 0 -.3 0 -.3 -.1 -.3 -.1 -.3 -.2 -.3 -.1 -.4 -.2 -.4 -.2 -.5 -.3 -.4 -.2 -.4 -.3 -.3 -.3 -.3 -.4 -.3 -.3 -.3 -.3 -.2 -.3 -.2 -.2 -.1 -.3 -.2 -.3 -.1 -.4 -.1 -.3 -.1 -.3 0 -.4 0 -.3 0 -.3z" fill="url(#td2cw)"/>
<defs><path id="td2co" d="M591 233.2l.1 -.6 .1 -.6 .1 -.7 .2 -.7 .3 -.5 .3 -.6 .3 -.6 .4 -.5 .4 -.5 .5 -.4 .5 -.5 .6 -.4 .6 -.3 .7 -.3 .6 -.3 .7 -.2 .8 -.2 .7 -.1 .8 -.1 .7 -.1 .7 0 .8 .1 .7 .1 .7 .2 .8 .2 .8 .2 .7 .3 .7 .4 .6 .4 .6 .5 .6 .5 .5 .5 .4 .6 .4 .7 .4 .7 .3 .6 .2 .5 .1 .5 .1 .5 0 .4 0 .4 -.1 .4 -.2 .4 -.1 .4 -.2 .3 -.3 .3 -.3 .3 -.4 .2 -.4 .2 -.5 .2 -.5 .1 -.5 .2 -.6 0 -.7 .1 -.6 0 -.4 .2 -.2 .2 0 .3 .1 .3 -.1 .3 -.1 .2 -.3 .2 -.2 .2 -.2 .1 -.2 .1 -.2 0 -.3 .1 -.3 -.1 -.5 -.1 -.6 -.2 -.6 -.3 -.6 -.2 -.6 -.2 -.5 -.3 -.6 -.2 -.6 -.3 -.6 -.2 -.7 -.2 -.7 -.2 -.6 -.2 -.6 -.1 -.6 -.1 -.6 -.1 -.5 -.2 -.5 -.1 -.3 -.1 -.4 -.2 -.3 -.2 -.2 -.3 -.2 -.4 -.2 -.4z"/></defs>
<use href="#td2co" fill="#000" filter="url(#ishS)"/>
<use href="#td2co" fill="none" stroke="#444" stroke-width="0.35"/>
<linearGradient id="td2dw" x1="0.2" y1="0.15" x2="0.75" y2="0.95"><stop offset="0" stop-color="#d0d0d0"/><stop offset="0.5" stop-color="#c8c8c8"/><stop offset="0.72" stop-color="#a4a4a4"/><stop offset="0.85" stop-color="#9a9a9a"/><stop offset="1" stop-color="#b4b4b4"/></linearGradient>
<path d="M625.4 232l-.1 -.3 -.1 -.3 -.1 -.3 -.1 -.2 -.2 -.2 -.1 -.2 -.3 -.2 -.3 -.1 -.3 -.1 -.5 -.1 -.5 0 -.5 -.1 -.5 0 -.5 -.1 -.6 0 -.6 0 -.6 0 -.5 .1 -.6 .1 -.6 .2 -.5 .2 -.4 .3 -.5 .2 -.3 .3 -.4 .3 -.2 .3 -.2 .3 -.1 .3 -.1 .3 .1 .4 .1 .3 .1 .3 .3 .2 .3 .2 .4 .1 .3 .2 .3 .1 .1 .2 .2 .1 .1 .2 .2 .2 .1 .2 .2 .2 .1 .2 0 .2 -.1 .3 0 .2 -.1 .3 .1 .2 0 .2 .1 .2 .1 .2 .1 .2 .2 .2 .2 .2 .2 .1 .2 .1 .3 0 .3 0 .3 0 .3 -.1 .3 -.1 .3 -.2 .3 -.1 .4 -.2 .4 -.2 .5 -.3 .4 -.2 .4 -.3 .3 -.3 .3 -.4 .3 -.3 .3 -.3 .2 -.3 .2 -.2 .1 -.3 .2 -.3 .1 -.4 .1 -.3 .1 -.3 0 -.4 0 -.3 0 -.3z" fill="url(#td2dw)"/>
<defs><path id="td2do" d="M631.5 233.2l-.1 -.6 -.1 -.6 -.1 -.7 -.2 -.7 -.3 -.5 -.3 -.6 -.3 -.6 -.4 -.5 -.4 -.5 -.5 -.4 -.5 -.5 -.6 -.4 -.6 -.3 -.7 -.3 -.6 -.3 -.7 -.2 -.8 -.2 -.7 -.1 -.8 -.1 -.7 -.1 -.7 0 -.8 .1 -.7 .1 -.7 .2 -.8 .2 -.8 .2 -.7 .3 -.7 .4 -.6 .4 -.6 .5 -.6 .5 -.5 .5 -.4 .6 -.4 .7 -.4 .7 -.3 .6 -.2 .5 -.1 .5 -.1 .5 0 .4 0 .4 .1 .4 .2 .4 .1 .4 .2 .3 .3 .3 .3 .3 .4 .2 .4 .2 .5 .2 .5 .1 .5 .2 .6 0 .7 .1 .6 0 .4 .2 .2 .2 0 .3 -.1 .3 .1 .3 .1 .2 .3 .2 .2 .2 .2 .1 .2 .1 .2 0 .3 .1 .3 -.1 .5 -.1 .6 -.2 .6 -.3 .6 -.2 .6 -.2 .5 -.3 .6 -.2 .6 -.3 .6 -.2 .7 -.2 .7 -.2 .6 -.2 .6 -.1 .6 -.1 .6 -.1 .5 -.2 .5 -.1 .3 -.1 .4 -.2 .3 -.2 .2 -.3 .2 -.4 .2 -.4z"/></defs>
<use href="#td2do" fill="#000" filter="url(#ishS)"/>
<use href="#td2do" fill="none" stroke="#444" stroke-width="0.35"/>
<text x="631.5" y="228.3" font-size="10.60" text-anchor="start" fill="#000">)</text>
<path fill="none" stroke="#f7da82" stroke-width="4.40" stroke-linecap="round" d="M528.1 269.6h0M499.7 289.3h0M520.7 312.4h0M631.1 345.7h0M509.6 276.7h0M638.6 364.2h0M625.7 347.5h0M499.5 299.2h0M607.0 377.1h0M552.8 278.2h0M591.8 330.9h0M577.7 314.9h0M647.7 359.7h0M565.0 346.4h0M602.5 346.7h0M498.3 353.6h0M536.9 263.0h0M571.4 360.8h0M565.3 339.7h0M517.0 283.7h0M527.5 305.5h0M495.3 325.2h0M560.4 297.6h0M502.8 291.7h0M492.4 314.9h0M591.6 337.6h0M629.0 329.5h0M615.6 355.2h0M507.9 274.0h0M637.3 361.1h0M590.9 344.8h0M518.5 269.5h0M638.3 348.6h0M636.0 333.8h0M538.6 282.9h0M550.7 356.1h0M496.8 253.5h0M641.2 363.9h0M632.1 359.0h0M539.4 289.4h0M498.2 320.0h0M653.1 358.7h0M617.5 361.6h0M522.2 337.6h0M655.0 377.1h0M654.8 352.4h0M528.5 350.3h0M541.0 294.6h0M634.8 340.2h0M644.6 362.9h0M650.0 348.4h0M564.0 276.0h0M562.6 348.1h0M521.5 282.8h0M507.5 371.4h0M528.4 277.4h0M616.3 352.1h0M655.1 356.7h0M584.2 352.4h0M493.6 287.4h0M540.2 286.5h0M579.7 375.4h0M648.3 367.5h0M622.9 344.5h0M504.2 325.7h0M537.3 257.1h0M584.1 361.0h0M493.8 263.8h0M542.9 307.6h0M631.0 357.4h0M619.7 329.2h0M563.7 362.0h0M612.0 331.2h0M573.0 340.3h0M496.1 282.5h0M497.7 275.6h0M571.0 286.8h0M493.8 261.2h0M496.8 273.8h0M650.5 319.4h0M524.5 264.4h0M501.9 293.1h0M624.5 339.0h0M630.1 323.9h0M502.4 335.2h0M644.0 358.8h0M502.1 266.1h0M655.8 356.7h0M582.8 335.4h0M531.2 259.1h0M627.9 333.6h0M555.3 290.8h0M551.0 366.7h0M584.3 346.8h0M607.1 318.5h0M625.1 364.3h0M647.8 344.7h0M497.2 281.0h0M650.6 361.2h0M529.9 269.2h0M646.2 335.8h0M656.1 337.9h0M635.4 342.2h0M574.1 335.3h0M541.2 285.9h0M606.7 337.2h0M524.4 267.0h0M589.8 351.3h0M650.9 348.8h0M589.3 360.7h0M653.9 359.8h0M576.3 359.3h0M516.2 292.2h0M507.3 273.0h0M653.2 356.9h0M500.3 261.4h0M594.8 327.4h0M550.8 309.4h0M647.1 347.0h0M569.0 316.8h0M589.5 323.5h0M524.8 337.6h0M642.5 332.2h0M623.1 356.0h0M623.6 372.3h0M501.4 313.6h0M604.0 340.0h0M546.0 299.4h0M523.8 274.1h0M604.1 358.8h0M517.1 293.7h0M608.4 343.9h0M607.6 338.0h0M531.7 282.2h0M586.7 337.8h0M594.1 356.3h0M563.9 362.8h0M500.8 281.6h0M512.5 279.8h0M606.3 338.4h0M648.1 352.9h0M649.9 354.0h0M505.7 281.0h0M493.8 292.3h0M586.4 311.8h0M543.4 270.7h0M569.2 287.7h0M504.3 266.4h0M510.4 289.9h0M504.4 278.3h0M564.4 372.3h0M646.0 328.0h0M565.6 252.8h0M615.3 366.4h0M619.1 338.7h0M594.6 309.4h0M575.1 344.6h0M498.7 273.9h0M583.5 348.2h0M598.6 348.4h0M509.3 285.6h0M639.1 337.5h0M570.2 291.2h0M648.9 366.1h0M497.9 338.3h0M579.6 357.3h0M545.2 291.1h0M535.8 306.0h0M552.3 333.8h0M634.8 325.6h0M536.8 279.6h0M614.9 348.3h0M601.1 328.3h0M539.5 293.3h0M574.0 346.8h0M513.8 278.8h0M618.0 350.1h0M650.6 335.6h0M653.5 334.7h0M621.7 319.3h0M650.0 331.3h0M513.5 256.7h0M590.8 347.3h0M596.2 313.2h0M594.2 335.7h0M613.4 326.7h0M551.6 278.0h0M542.7 294.6h0M653.9 364.2h0M648.7 356.5h0M632.9 376.8h0M648.3 323.2h0M531.8 353.6h0M586.9 349.9h0M596.0 370.3h0M621.1 354.3h0M555.6 342.1h0M541.9 280.3h0M585.8 354.0h0M566.6 357.3h0M585.7 320.5h0M567.5 356.5h0M527.6 300.8h0M605.3 356.2h0M567.0 322.8h0M640.3 350.4h0M590.1 352.6h0M600.1 365.1h0M548.3 303.5h0M554.5 343.8h0M524.6 297.4h0M574.7 322.0h0M585.8 333.1h0M533.2 321.4h0M529.3 292.3h0M545.0 302.1h0M646.6 335.9h0M653.7 324.0h0M552.8 282.4h0M607.4 365.2h0M550.5 356.7h0M572.5 285.3h0M637.9 364.7h0M567.9 343.2h0M606.5 342.8h0M514.6 272.7h0M601.0 366.2h0M591.4 346.4h0M572.7 348.1h0M648.7 355.0h0M499.4 293.6h0M645.8 327.4h0M494.2 273.9h0M575.3 357.3h0M521.2 297.4h0M585.6 325.2h0M536.4 334.0h0M576.5 350.6h0M505.7 287.6h0M558.0 362.4h0M549.3 330.7h0M556.1 294.2h0M646.0 360.7h0M569.6 346.9h0M630.7 335.5h0M589.2 350.4h0M578.0 358.3h0M599.6 324.7h0M538.4 270.4h0M641.5 343.1h0M643.5 331.9h0M585.0 336.6h0M607.0 374.0h0M540.7 302.6h0M582.3 349.6h0M537.9 339.0h0M512.3 291.7h0M512.6 249.6h0M555.8 297.8h0M531.4 321.3h0M637.6 319.5h0M530.2 290.0h0M524.1 294.4h0M495.5 284.2h0M634.8 355.1h0M560.8 336.0h0M614.1 335.7h0M538.2 265.2h0M597.7 323.8h0M558.9 331.5h0M570.9 328.7h0M501.7 359.0h0M495.4 317.9h0M619.7 341.4h0M601.4 360.3h0M630.4 355.6h0M566.0 291.1h0M553.9 335.3h0M599.9 358.3h0M611.8 338.9h0M528.2 275.1h0M607.7 339.4h0M497.4 283.9h0M531.3 279.9h0M526.5 300.5h0M595.6 317.2h0M526.2 343.0h0M611.8 352.1h0M641.8 339.7h0M642.2 354.1h0M648.6 348.9h0M611.3 354.1h0M495.8 294.8h0M557.5 286.5h0M568.4 334.1h0M594.3 361.3h0M552.0 351.1h0M607.2 349.0h0M638.4 342.7h0M594.4 333.7h0M644.8 321.8h0M519.4 284.3h0M503.9 271.4h0M512.1 321.1h0M572.3 281.2h0M602.3 339.7h0M626.3 334.9h0M525.6 312.1h0M548.2 297.7h0M551.6 368.6h0M498.5 283.7h0M650.3 320.2h0M603.9 363.6h0M582.4 326.7h0M575.5 322.1h0M578.9 369.3h0M501.6 278.1h0M572.5 315.3h0M550.5 270.1h0M616.7 351.3h0M517.2 295.4h0M554.2 351.7h0M641.9 338.6h0M595.9 338.5h0M494.7 355.1h0M553.3 289.0h0M574.3 372.4h0M609.7 353.4h0M499.5 289.4h0M559.5 320.6h0M568.8 358.1h0M554.0 277.1h0M551.0 300.1h0M555.9 341.3h0M498.4 271.5h0M540.0 293.0h0M532.6 299.8h0M556.6 257.0h0M593.6 367.8h0M618.0 329.0h0M591.8 316.9h0M569.4 342.6h0M534.3 290.9h0M505.6 264.7h0M516.9 269.4h0M515.8 295.2h0M551.3 339.5h0M636.4 348.2h0M502.2 287.2h0M510.8 289.6h0M618.5 328.1h0M585.9 318.8h0M531.5 306.9h0M539.5 296.5h0M577.4 351.9h0M561.7 351.2h0M652.9 339.2h0M607.5 344.3h0M606.8 336.1h0M515.4 299.3h0M593.3 331.1h0M622.7 363.9h0M643.9 341.7h0M606.7 377.1h0M564.3 312.3h0M653.9 355.9h0M522.2 270.1h0M588.2 344.1h0M608.2 319.0h0M610.9 368.5h0M513.5 339.2h0M495.4 275.6h0M541.5 356.6h0M513.9 249.6h0M516.6 276.5h0M576.9 350.6h0M512.0 283.9h0M520.4 284.1h0M547.4 309.5h0M636.3 361.2h0M503.5 260.0h0M583.1 316.9h0M498.6 352.2h0M647.5 341.1h0M583.2 334.4h0M502.4 295.6h0M521.5 355.8h0M590.6 348.7h0M633.8 340.4h0M655.8 339.6h0M597.8 327.7h0M586.8 355.1h0M555.0 357.9h0M550.7 301.5h0M542.0 258.8h0M622.4 356.6h0M580.4 326.5h0M628.0 365.7h0M611.6 343.9h0M501.8 296.7h0"/>
<line x1="492.3" y1="297.5" x2="657.5" y2="356.2" stroke="#14a06e" stroke-width="2"/>
<path d="M492.3,241.4 L492.3,393.5 L657.5,393.5" fill="none" stroke="#555" stroke-width="0.8"/>
<line x1="492.3" y1="393.5" x2="492.3" y2="391.9" stroke="#555" stroke-width="0.6"/>
<text x="492.3" y="407.6" font-size="8.90" text-anchor="middle" fill="#222">0</text>
<line x1="533.6" y1="393.5" x2="533.6" y2="391.9" stroke="#555" stroke-width="0.6"/>
<text x="533.6" y="407.6" font-size="8.90" text-anchor="middle" fill="#222">100</text>
<line x1="574.9" y1="393.5" x2="574.9" y2="391.9" stroke="#555" stroke-width="0.6"/>
<text x="574.9" y="407.6" font-size="8.90" text-anchor="middle" fill="#222">200</text>
<line x1="616.2" y1="393.5" x2="616.2" y2="391.9" stroke="#555" stroke-width="0.6"/>
<text x="616.2" y="407.6" font-size="8.90" text-anchor="middle" fill="#222">300</text>
<line x1="657.5" y1="393.5" x2="657.5" y2="391.9" stroke="#555" stroke-width="0.6"/>
<text x="657.5" y="407.6" font-size="8.90" text-anchor="middle" fill="#222">400</text>
<line x1="492.3" y1="241.4" x2="493.9" y2="241.4" stroke="#555" stroke-width="0.6"/>
<text x="488.0" y="245.8" font-size="8.90" text-anchor="end" fill="#222">1.2</text>
<line x1="492.3" y1="264.8" x2="493.9" y2="264.8" stroke="#555" stroke-width="0.6"/>
<text x="488.0" y="269.2" font-size="8.90" text-anchor="end" fill="#222">1</text>
<line x1="492.3" y1="288.2" x2="493.9" y2="288.2" stroke="#555" stroke-width="0.6"/>
<text x="488.0" y="292.6" font-size="8.90" text-anchor="end" fill="#222">0.8</text>
<line x1="492.3" y1="311.6" x2="493.9" y2="311.6" stroke="#555" stroke-width="0.6"/>
<text x="488.0" y="316.0" font-size="8.90" text-anchor="end" fill="#222">0.6</text>
<line x1="492.3" y1="335.0" x2="493.9" y2="335.0" stroke="#555" stroke-width="0.6"/>
<text x="488.0" y="339.4" font-size="8.90" text-anchor="end" fill="#222">0.4</text>
<line x1="492.3" y1="358.4" x2="493.9" y2="358.4" stroke="#555" stroke-width="0.6"/>
<text x="488.0" y="362.8" font-size="8.90" text-anchor="end" fill="#222">0.2</text>
<line x1="492.3" y1="381.8" x2="493.9" y2="381.8" stroke="#555" stroke-width="0.6"/>
<text x="488.0" y="386.2" font-size="8.90" text-anchor="end" fill="#222">0</text>
<text x="575.0" y="422.6" font-size="10.70" text-anchor="middle" fill="#000">S-A Axis Rank</text>
<text x="471.2" y="319.4" font-size="10.60" text-anchor="middle" fill="#000" transform="rotate(-90 471.2 319.4)">RBD index</text>
<text x="513.5" y="387.4" font-size="9.30" text-anchor="start" fill="#000" font-style="italic">r=-0.511 p=0.0001</text>
<rect x="602.4" y="246.2" width="53.9" height="49.3" fill="#fff"/>
<g fill="#d9d9d9" stroke="#111" stroke-width="0.55"><rect x="606.24" y="294.27" width="2.55" height="1.23"/><rect x="608.80" y="287.12" width="2.55" height="8.38"/><rect x="611.35" y="279.96" width="2.76" height="15.54"/><rect x="614.11" y="276.39" width="2.66" height="19.11"/><rect x="616.77" y="268.21" width="2.55" height="27.29"/><rect x="619.32" y="254.93" width="2.45" height="40.57"/><rect x="621.77" y="246.24" width="2.86" height="49.26"/><rect x="624.63" y="250.33" width="2.35" height="45.17"/><rect x="626.98" y="251.35" width="2.55" height="44.15"/><rect x="629.54" y="253.90" width="2.25" height="41.60"/><rect x="631.79" y="256.46" width="2.55" height="39.04"/><rect x="634.34" y="262.08" width="2.55" height="33.42"/><rect x="636.90" y="262.08" width="2.55" height="33.42"/><rect x="639.45" y="264.43" width="2.35" height="31.07"/><rect x="641.80" y="270.77" width="2.76" height="24.73"/><rect x="644.56" y="278.94" width="2.35" height="16.56"/><rect x="646.91" y="288.14" width="2.25" height="7.36"/><rect x="649.16" y="292.22" width="2.55" height="3.28"/><rect x="651.71" y="295.29" width="2.55" height="0.21"/></g>
<path d="M602.4,246.2 L602.4,295.5 L656.3,295.5" fill="none" stroke="#444" stroke-width="0.6"/>
<line x1="606.8" y1="246.2" x2="606.8" y2="295.5" stroke="#1fa874" stroke-width="1"/>
<text x="607.3" y="305.7" font-size="7.60" text-anchor="middle" fill="#222">-0.5</text>
<text x="629.7" y="305.7" font-size="7.60" text-anchor="middle" fill="#222">0</text>
<text x="652.2" y="305.7" font-size="7.60" text-anchor="middle" fill="#222">0.5</text>
<text x="0.1" y="467.3" font-size="21.50" text-anchor="start" fill="#000">E</text>
<text x="126.8" y="461.8" font-size="12.40" text-anchor="middle" fill="#000">P2 vs. P3</text>
<text x="342.8" y="461.8" font-size="12.40" text-anchor="middle" fill="#000">P2 vs. P3</text>
<path d="M47.2,507.9 Q56.7,504.0 61.5,502.0 Q66.2,500.0 71.0,499.0 Q75.7,498.0 81.4,497.4 Q87.1,496.7 89.0,495.0 L90.9,493.4" fill="none" stroke="#000" stroke-opacity="0.4" stroke-width="1.30" stroke-linecap="round" filter="url(#sb)"/>
<path d="M57.6,514.5 Q66.2,508.6 71.0,506.9 Q75.7,505.3 81.4,503.3 L87.1,501.3" fill="none" stroke="#000" stroke-opacity="0.4" stroke-width="1.30" stroke-linecap="round" filter="url(#sb)"/>
<path d="M84.2,469.0 Q79.5,476.9 77.6,481.2 Q75.7,485.5 73.3,489.4 L71.0,493.4" fill="none" stroke="#000" stroke-opacity="0.4" stroke-width="1.30" stroke-linecap="round" filter="url(#sb)"/>
<path d="M91.9,471.0 Q86.1,480.2 84.2,484.8 L82.3,489.4" fill="none" stroke="#000" stroke-opacity="0.4" stroke-width="1.30" stroke-linecap="round" filter="url(#sb)"/>
<path d="M64.3,521.8 Q77.6,516.5 85.2,513.9 Q92.8,511.2 99.5,509.2 L106.1,507.3" fill="none" stroke="#000" stroke-opacity="0.4" stroke-width="1.30" stroke-linecap="round" filter="url(#sb)"/>
<path d="M37.7,504.0 Q47.2,502.0 51.5,500.0 L55.8,498.0" fill="none" stroke="#000" stroke-opacity="0.4" stroke-width="1.30" stroke-linecap="round" filter="url(#sb)"/>
<path d="M40.5,484.8 Q52.0,479.5 57.6,478.2 L63.3,476.9" fill="none" stroke="#000" stroke-opacity="0.4" stroke-width="1.30" stroke-linecap="round" filter="url(#sb)"/>
<path d="M88.0,486.1 Q97.5,487.5 103.7,490.1 L109.9,492.7" fill="none" stroke="#000" stroke-opacity="0.4" stroke-width="1.30" stroke-linecap="round" filter="url(#sb)"/>
<defs><path id="e1ao" d="M28.5 502.6l.3 -2.9 .6 -3.7 .8 -4 1.2 -3.6 1.8 -3.2 2.1 -3.1 2.4 -2.8 2.6 -2.4 2.6 -1.9 2.8 -1.5 3 -1.2 3.3 -1.1 3.5 -.9 3.9 -.8 3.8 -.7 3.5 -.5 2.8 -.4 2.4 -.2 2.4 -.1 2.5 -.1 2.8 -.1 2.9 -.1 3 .1 3.1 .4 3.3 .8 3.3 1 3.4 1.3 3.2 1.7 3.2 2.1 3 2.4 2.9 2.7 2.6 2.8 2.3 3.1 2 3.3 1.7 3.3 1.4 3.1 1.1 2.8 .7 2.6 .4 2.5 .1 2.3 -.1 2.1 -.4 1.8 -.7 1.7 -1.1 1.5 -1.3 1.3 -1.6 1.1 -2 .9 -2.5 1 -3.1 1.1 -3.8 1.1 -3.9 1 -3.8 1.1 -3.7 1.1 -3.8 1.1 -3.7 1 -3.5 1.1 -3.2 1.1 -3 1.2 -2.9 1.1 -2.6 .9 -2.5 .9 -2.3 .7 -2.1 .6 -1.9 .2 -1.6 -.2 -1.4 -.5 -1.2 -.7 -.9 -1 -.7 -1.2 -.5 -1.6 -.3 -1.5 0 -1.4 .5 -1.1 .9 -1 .8 -.9 0 -.6 -1.1 -.3 -1.8 0 -2.2 0 -2.2 -.2 -2.4 -.3 -2.7 -.4 -2.7 -.5 -2.5 -.7 -2.4 -1.2 -2.4 -1.3 -2.2 -1.5 -1.7 -1.5 -1.4 -1.4 -1 -1.5 -.8 -1.5 -.6 -1.3 -.4 -1 -.4 -.6 -.1 -1z"/></defs>
<use href="#e1ao" fill="#000" filter="url(#ishL)"/>
<use href="#e1ao" fill="none" stroke="#444" stroke-width="0.60"/>
<path d="M208.8,507.9 Q199.3,504.0 194.5,502.0 Q189.8,500.0 185.0,499.0 Q180.3,498.0 174.6,497.4 Q168.9,496.7 167.0,495.0 L165.1,493.4" fill="none" stroke="#000" stroke-opacity="0.4" stroke-width="1.30" stroke-linecap="round" filter="url(#sb)"/>
<path d="M198.3,514.5 Q189.8,508.6 185.0,506.9 Q180.3,505.3 174.6,503.3 L168.9,501.3" fill="none" stroke="#000" stroke-opacity="0.4" stroke-width="1.30" stroke-linecap="round" filter="url(#sb)"/>
<path d="M171.8,469.0 Q176.5,476.9 178.4,481.2 Q180.3,485.5 182.7,489.4 L185.0,493.4" fill="none" stroke="#000" stroke-opacity="0.4" stroke-width="1.30" stroke-linecap="round" filter="url(#sb)"/>
<path d="M164.1,471.0 Q169.8,480.2 171.8,484.8 L173.6,489.4" fill="none" stroke="#000" stroke-opacity="0.4" stroke-width="1.30" stroke-linecap="round" filter="url(#sb)"/>
<path d="M191.7,521.8 Q178.4,516.5 170.8,513.9 Q163.2,511.2 156.5,509.2 L149.9,507.3" fill="none" stroke="#000" stroke-opacity="0.4" stroke-width="1.30" stroke-linecap="round" filter="url(#sb)"/>
<path d="M218.3,504.0 Q208.8,502.0 204.5,500.0 L200.2,498.0" fill="none" stroke="#000" stroke-opacity="0.4" stroke-width="1.30" stroke-linecap="round" filter="url(#sb)"/>
<path d="M215.4,484.8 Q204.0,479.5 198.3,478.2 L192.6,476.9" fill="none" stroke="#000" stroke-opacity="0.4" stroke-width="1.30" stroke-linecap="round" filter="url(#sb)"/>
<path d="M167.9,486.1 Q158.4,487.5 152.3,490.1 L146.1,492.7" fill="none" stroke="#000" stroke-opacity="0.4" stroke-width="1.30" stroke-linecap="round" filter="url(#sb)"/>
<defs><path id="e1bo" d="M227.5 502.6l-.3 -2.9 -.6 -3.7 -.8 -4 -1.2 -3.6 -1.8 -3.2 -2.1 -3.1 -2.4 -2.8 -2.6 -2.4 -2.6 -1.9 -2.8 -1.5 -3 -1.2 -3.3 -1.1 -3.5 -.9 -3.9 -.8 -3.8 -.7 -3.5 -.5 -2.8 -.4 -2.4 -.2 -2.4 -.1 -2.5 -.1 -2.8 -.1 -2.9 -.1 -3 .1 -3.1 .4 -3.3 .8 -3.3 1 -3.4 1.3 -3.2 1.7 -3.2 2.1 -3 2.4 -2.9 2.7 -2.6 2.8 -2.3 3.1 -2 3.3 -1.7 3.3 -1.4 3.1 -1.1 2.8 -.7 2.6 -.4 2.5 -.1 2.3 .1 2.1 .4 1.8 .7 1.7 1.1 1.5 1.3 1.3 1.6 1.1 2 .9 2.5 1 3.1 1.1 3.8 1.1 3.9 1 3.8 1.1 3.7 1.1 3.8 1.1 3.7 1 3.5 1.1 3.2 1.1 3 1.2 2.9 1.1 2.6 .9 2.5 .9 2.3 .7 2.1 .6 1.9 .2 1.6 -.2 1.4 -.5 1.2 -.7 .9 -1 .7 -1.2 .5 -1.6 .3 -1.5 0 -1.4 -.5 -1.1 -.9 -1 -.8 -.9 0 -.6 1.1 -.3 1.8 0 2.2 0 2.2 -.2 2.4 -.3 2.7 -.4 2.7 -.5 2.5 -.7 2.4 -1.2 2.4 -1.3 2.2 -1.5 1.7 -1.5 1.4 -1.4 1 -1.5 .8 -1.5 .6 -1.3 .4 -1 .4 -.6 .1 -1z"/></defs>
<use href="#e1bo" fill="#000" filter="url(#ishL)"/>
<use href="#e1bo" fill="none" stroke="#444" stroke-width="0.60"/>
<linearGradient id="e1cw" x1="0.8" y1="0.15" x2="0.25" y2="0.95"><stop offset="0" stop-color="#d0d0d0"/><stop offset="0.5" stop-color="#c8c8c8"/><stop offset="0.72" stop-color="#a4a4a4"/><stop offset="0.85" stop-color="#9a9a9a"/><stop offset="1" stop-color="#b4b4b4"/></linearGradient>
<path d="M58.1 569.4l.3 -1.5 .3 -1.5 .5 -1.3 .6 -1.2 .8 -.9 .9 -.9 1.2 -.7 1.4 -.6 1.8 -.5 2.2 -.3 2.3 -.3 2.4 -.2 2.6 -.4 2.7 -.3 2.8 -.2 2.8 0 2.8 .3 2.8 .4 2.8 .7 2.6 .8 2.4 1 2.4 1.2 2.1 1.3 1.8 1.3 1.5 1.4 1.3 1.4 .9 1.5 .6 1.6 .2 1.6 -.1 1.7 -.4 1.7 -.8 1.4 -1.3 1 -1.8 .8 -1.9 .6 -1.5 .7 -1.1 .8 -.8 .8 -.7 .8 -.7 .9 -.8 .9 -.8 .9 -.6 .9 -.5 1 0 1.2 .2 1.2 .3 1.2 .1 1.2 -.1 1.1 -.2 1.1 -.4 1.1 -.4 1 -.7 .9 -.7 .9 -.9 .8 -1.1 .6 -1.2 .4 -1.3 .2 -1.4 .1 -1.5 -.2 -1.4 -.4 -1.5 -.6 -1.5 -.8 -1.7 -.8 -1.9 -.9 -2.1 -1 -2.1 -1.1 -1.9 -1.3 -1.8 -1.5 -1.8 -1.6 -1.6 -1.7 -1.4 -1.5 -1.2 -1.4 -1 -1.4 -.8 -1.3 -.8 -1.4 -.7 -1.5 -.6 -1.6 -.5 -1.6 -.4 -1.6 -.2 -1.7 0 -1.6 .1 -1.6z" fill="url(#e1cw)"/>
<path d="M37.7,584.1 Q47.2,580.8 52.4,579.2 L57.6,577.5" fill="none" stroke="#000" stroke-opacity="0.4" stroke-width="1.30" stroke-linecap="round" filter="url(#sb)"/>
<path d="M34.9,561.7 Q44.4,564.3 49.1,565.3 L53.9,566.3" fill="none" stroke="#000" stroke-opacity="0.4" stroke-width="1.30" stroke-linecap="round" filter="url(#sb)"/>
<path d="M59.5,556.4 Q72.8,553.8 80.0,553.8 Q87.1,553.8 94.7,555.8 L102.3,557.7" fill="none" stroke="#000" stroke-opacity="0.4" stroke-width="1.30" stroke-linecap="round" filter="url(#sb)"/>
<path d="M68.1,537.3 Q70.0,543.2 71.9,545.9 L73.8,548.5" fill="none" stroke="#000" stroke-opacity="0.4" stroke-width="1.30" stroke-linecap="round" filter="url(#sb)"/>
<defs><path id="e1co" d="M28.4 575.4l.1 -2.8 .5 -3.3 .8 -3.3 1.1 -3.1 1.2 -2.9 1.4 -2.8 1.7 -2.7 1.8 -2.5 2.1 -2.4 2.4 -2.3 2.5 -2.1 2.7 -1.8 3 -1.7 3.1 -1.5 3.4 -1.2 3.4 -1.1 3.4 -.9 3.7 -.8 3.6 -.5 3.7 -.2 3.6 0 3.6 .3 3.6 .5 3.5 .8 3.7 1 3.7 1.2 3.6 1.5 3.4 1.8 3.1 2 2.9 2.2 2.7 2.5 2.5 2.6 2.2 3 2 3.3 1.7 3.3 1.3 3 1 2.6 .6 2.4 .4 2.2 .1 2.2 -.1 2.1 -.5 2.1 -.6 1.9 -.9 1.7 -1.1 1.6 -1.2 1.4 -1.5 1.3 -1.8 1.2 -2.1 1 -2.4 .8 -2.5 .7 -2.6 .6 -2.9 .4 -3.1 .3 -2.9 .2 -2.1 .7 -.9 1.1 0 1.5 .2 1.5 -.2 1.3 -.7 1.1 -1.1 1 -1.1 .8 -1.1 .6 -1 .5 -1 .2 -1.1 .1 -1.7 -.3 -2.3 -.7 -2.9 -1 -3.1 -1.1 -2.9 -1.2 -2.8 -1.1 -2.7 -1.2 -2.8 -1.2 -2.9 -1.1 -3.2 -1.1 -3.2 -1 -3.3 -1 -3.1 -.8 -3 -.7 -3 -.6 -2.7 -.5 -2.5 -.6 -2.1 -.6 -1.9 -.6 -1.7 -.8 -1.4 -1.1 -1.2 -1.5 -1 -1.9 -.8 -2.1z"/></defs>
<use href="#e1co" fill="#000" filter="url(#ishL)"/>
<use href="#e1co" fill="none" stroke="#444" stroke-width="0.60"/>
<linearGradient id="e1dw" x1="0.2" y1="0.15" x2="0.75" y2="0.95"><stop offset="0" stop-color="#d0d0d0"/><stop offset="0.5" stop-color="#c8c8c8"/><stop offset="0.72" stop-color="#a4a4a4"/><stop offset="0.85" stop-color="#9a9a9a"/><stop offset="1" stop-color="#b4b4b4"/></linearGradient>
<path d="M197.9 569.4l-.3 -1.5 -.3 -1.5 -.5 -1.3 -.6 -1.2 -.8 -.9 -.9 -.9 -1.2 -.7 -1.4 -.6 -1.8 -.5 -2.2 -.3 -2.3 -.3 -2.5 -.2 -2.5 -.4 -2.7 -.3 -2.8 -.2 -2.8 0 -2.8 .3 -2.8 .4 -2.8 .7 -2.6 .8 -2.4 1 -2.4 1.2 -2.1 1.3 -1.8 1.3 -1.5 1.4 -1.3 1.4 -.9 1.5 -.6 1.6 -.2 1.6 .1 1.7 .4 1.7 .8 1.4 1.3 1 1.8 .8 1.9 .6 1.5 .7 1.1 .8 .8 .8 .7 .8 .7 .9 .8 .9 .8 .9 .6 .9 .5 1 0 1.2 -.2 1.2 -.3 1.2 -.1 1.2 .1 1.1 .2 1.1 .4 1.1 .4 1 .7 .9 .7 .9 .9 .8 1.1 .6 1.2 .4 1.3 .2 1.4 .1 1.5 -.2 1.4 -.4 1.5 -.6 1.5 -.8 1.7 -.8 1.9 -.9 2.1 -1 2.1 -1.1 1.9 -1.3 1.8 -1.5 1.8 -1.6 1.6 -1.7 1.4 -1.5 1.2 -1.4 1 -1.4 .8 -1.3 .8 -1.4 .7 -1.5 .6 -1.6 .5 -1.6 .4 -1.6 .2 -1.7 0 -1.6 -.1 -1.6z" fill="url(#e1dw)"/>
<path d="M218.3,584.1 Q208.8,580.8 203.6,579.2 L198.3,577.5" fill="none" stroke="#000" stroke-opacity="0.4" stroke-width="1.30" stroke-linecap="round" filter="url(#sb)"/>
<path d="M221.1,561.7 Q211.6,564.3 206.9,565.3 L202.1,566.3" fill="none" stroke="#000" stroke-opacity="0.4" stroke-width="1.30" stroke-linecap="round" filter="url(#sb)"/>
<path d="M196.4,556.4 Q183.1,553.8 176.0,553.8 Q168.9,553.8 161.3,555.8 L153.7,557.7" fill="none" stroke="#000" stroke-opacity="0.4" stroke-width="1.30" stroke-linecap="round" filter="url(#sb)"/>
<path d="M187.9,537.3 Q186.0,543.2 184.1,545.9 L182.2,548.5" fill="none" stroke="#000" stroke-opacity="0.4" stroke-width="1.30" stroke-linecap="round" filter="url(#sb)"/>
<defs><path id="e1do" d="M227.6 575.4l-.1 -2.8 -.5 -3.3 -.8 -3.3 -1.1 -3.1 -1.2 -2.9 -1.4 -2.8 -1.7 -2.7 -1.8 -2.5 -2.1 -2.4 -2.4 -2.3 -2.5 -2.1 -2.7 -1.8 -3 -1.7 -3.1 -1.5 -3.4 -1.2 -3.4 -1.1 -3.4 -.9 -3.7 -.8 -3.6 -.5 -3.7 -.2 -3.6 0 -3.6 .3 -3.6 .5 -3.5 .8 -3.7 1 -3.7 1.2 -3.6 1.5 -3.4 1.8 -3.1 2 -2.9 2.2 -2.7 2.5 -2.5 2.6 -2.2 3 -2 3.3 -1.7 3.3 -1.3 3 -1 2.6 -.6 2.4 -.4 2.2 -.1 2.2 .1 2.1 .5 2.1 .6 1.9 .9 1.7 1.1 1.6 1.2 1.4 1.5 1.3 1.8 1.2 2.1 1 2.4 .8 2.5 .7 2.6 .6 2.9 .4 3.1 .3 2.9 .2 2.1 .7 .9 1.1 0 1.5 -.2 1.5 .2 1.3 .7 1.1 1.1 1 1.1 .8 1.1 .6 1 .5 1 .2 1.1 .1 1.7 -.3 2.3 -.7 2.9 -1 3.1 -1.1 2.9 -1.2 2.8 -1.1 2.7 -1.2 2.8 -1.2 2.9 -1.1 3.2 -1.1 3.2 -1 3.3 -1 3.1 -.8 3 -.7 3 -.6 2.7 -.5 2.5 -.6 2.1 -.6 1.9 -.6 1.7 -.8 1.4 -1.1 1.2 -1.5 1 -1.9 .8 -2.1z"/></defs>
<use href="#e1do" fill="#000" filter="url(#ishL)"/>
<use href="#e1do" fill="none" stroke="#444" stroke-width="0.60"/>
<path d="M263.0,507.9 Q272.5,504.0 277.2,502.0 Q282.0,500.0 286.8,499.0 Q291.5,498.0 297.2,497.4 Q302.9,496.7 304.8,495.0 L306.7,493.4" fill="none" stroke="#000" stroke-opacity="0.4" stroke-width="1.30" stroke-linecap="round" filter="url(#sb)"/>
<path d="M273.4,514.5 Q282.0,508.6 286.8,506.9 Q291.5,505.3 297.2,503.3 L302.9,501.3" fill="none" stroke="#000" stroke-opacity="0.4" stroke-width="1.30" stroke-linecap="round" filter="url(#sb)"/>
<path d="M300.1,469.0 Q295.3,476.9 293.4,481.2 Q291.5,485.5 289.1,489.4 L286.8,493.4" fill="none" stroke="#000" stroke-opacity="0.4" stroke-width="1.30" stroke-linecap="round" filter="url(#sb)"/>
<path d="M307.6,471.0 Q301.9,480.2 300.0,484.8 L298.1,489.4" fill="none" stroke="#000" stroke-opacity="0.4" stroke-width="1.30" stroke-linecap="round" filter="url(#sb)"/>
<path d="M280.1,521.8 Q293.4,516.5 301.0,513.9 Q308.6,511.2 315.2,509.2 L321.9,507.3" fill="none" stroke="#000" stroke-opacity="0.4" stroke-width="1.30" stroke-linecap="round" filter="url(#sb)"/>
<path d="M253.5,504.0 Q263.0,502.0 267.3,500.0 L271.6,498.0" fill="none" stroke="#000" stroke-opacity="0.4" stroke-width="1.30" stroke-linecap="round" filter="url(#sb)"/>
<path d="M256.4,484.8 Q267.8,479.5 273.4,478.2 L279.1,476.9" fill="none" stroke="#000" stroke-opacity="0.4" stroke-width="1.30" stroke-linecap="round" filter="url(#sb)"/>
<path d="M303.9,486.1 Q313.4,487.5 319.5,490.1 L325.7,492.7" fill="none" stroke="#000" stroke-opacity="0.4" stroke-width="1.30" stroke-linecap="round" filter="url(#sb)"/>
<defs><path id="e2ao" d="M244.3 502.6l.3 -2.9 .6 -3.7 .8 -4 1.2 -3.6 1.8 -3.2 2.1 -3.1 2.4 -2.8 2.6 -2.4 2.6 -1.9 2.8 -1.5 3 -1.2 3.3 -1.1 3.5 -.9 3.9 -.8 3.8 -.7 3.5 -.5 2.8 -.4 2.4 -.2 2.4 -.1 2.5 -.1 2.8 -.1 2.9 -.1 3 .1 3.1 .4 3.3 .8 3.3 1 3.4 1.3 3.2 1.7 3.2 2.1 3 2.4 2.9 2.7 2.6 2.8 2.3 3.1 2 3.3 1.7 3.3 1.4 3.1 1.1 2.8 .7 2.6 .4 2.5 .1 2.3 -.1 2.1 -.4 1.8 -.7 1.7 -1.1 1.5 -1.3 1.3 -1.6 1.1 -2 .9 -2.5 1 -3.1 1.1 -3.8 1.1 -3.9 1 -3.8 1.1 -3.7 1.1 -3.8 1.1 -3.7 1 -3.5 1.1 -3.2 1.1 -3 1.2 -2.9 1.1 -2.6 .9 -2.5 .9 -2.3 .7 -2.1 .6 -1.9 .2 -1.6 -.2 -1.4 -.5 -1.2 -.7 -.9 -1 -.7 -1.2 -.5 -1.6 -.3 -1.5 0 -1.4 .5 -1.1 .9 -1 .8 -.9 0 -.6 -1.1 -.3 -1.8 0 -2.2 0 -2.2 -.2 -2.4 -.3 -2.7 -.4 -2.7 -.5 -2.5 -.7 -2.4 -1.2 -2.4 -1.3 -2.2 -1.5 -1.7 -1.5 -1.4 -1.4 -1 -1.5 -.8 -1.5 -.6 -1.3 -.4 -1 -.4 -.6 -.1 -1z"/></defs>
<use href="#e2ao" fill="#000" filter="url(#ishL)"/>
<use href="#e2ao" fill="none" stroke="#444" stroke-width="0.60"/>
<path d="M424.6,507.9 Q415.1,504.0 410.4,502.0 Q405.6,500.0 400.9,499.0 Q396.1,498.0 390.4,497.4 Q384.7,496.7 382.8,495.0 L380.9,493.4" fill="none" stroke="#000" stroke-opacity="0.4" stroke-width="1.30" stroke-linecap="round" filter="url(#sb)"/>
<path d="M414.2,514.5 Q405.6,508.6 400.9,506.9 Q396.1,505.3 390.4,503.3 L384.7,501.3" fill="none" stroke="#000" stroke-opacity="0.4" stroke-width="1.30" stroke-linecap="round" filter="url(#sb)"/>
<path d="M387.6,469.0 Q392.3,476.9 394.2,481.2 Q396.1,485.5 398.5,489.4 L400.9,493.4" fill="none" stroke="#000" stroke-opacity="0.4" stroke-width="1.30" stroke-linecap="round" filter="url(#sb)"/>
<path d="M380.0,471.0 Q385.7,480.2 387.6,484.8 L389.5,489.4" fill="none" stroke="#000" stroke-opacity="0.4" stroke-width="1.30" stroke-linecap="round" filter="url(#sb)"/>
<path d="M407.5,521.8 Q394.2,516.5 386.6,513.9 Q379.0,511.2 372.4,509.2 L365.7,507.3" fill="none" stroke="#000" stroke-opacity="0.4" stroke-width="1.30" stroke-linecap="round" filter="url(#sb)"/>
<path d="M434.1,504.0 Q424.6,502.0 420.3,500.0 L416.1,498.0" fill="none" stroke="#000" stroke-opacity="0.4" stroke-width="1.30" stroke-linecap="round" filter="url(#sb)"/>
<path d="M431.2,484.8 Q419.9,479.5 414.2,478.2 L408.5,476.9" fill="none" stroke="#000" stroke-opacity="0.4" stroke-width="1.30" stroke-linecap="round" filter="url(#sb)"/>
<path d="M383.8,486.1 Q374.2,487.5 368.1,490.1 L361.9,492.7" fill="none" stroke="#000" stroke-opacity="0.4" stroke-width="1.30" stroke-linecap="round" filter="url(#sb)"/>
<defs><path id="e2bo" d="M443.3 502.6l-.3 -2.9 -.6 -3.7 -.8 -4 -1.2 -3.6 -1.8 -3.2 -2.1 -3.1 -2.4 -2.8 -2.6 -2.4 -2.6 -1.9 -2.8 -1.5 -3 -1.2 -3.3 -1.1 -3.5 -.9 -3.9 -.8 -3.8 -.7 -3.5 -.5 -2.8 -.4 -2.4 -.2 -2.4 -.1 -2.5 -.1 -2.8 -.1 -2.9 -.1 -3 .1 -3.1 .4 -3.3 .8 -3.3 1 -3.4 1.3 -3.2 1.7 -3.2 2.1 -3 2.4 -2.9 2.7 -2.6 2.8 -2.3 3.1 -2 3.3 -1.7 3.3 -1.4 3.1 -1.1 2.8 -.7 2.6 -.4 2.5 -.1 2.3 .1 2.1 .4 1.8 .7 1.7 1.1 1.5 1.3 1.3 1.6 1.1 2 .9 2.5 1 3.1 1.1 3.8 1.1 3.9 1 3.8 1.1 3.7 1.1 3.8 1.1 3.7 1 3.5 1.1 3.2 1.1 3 1.2 2.9 1.1 2.6 .9 2.5 .9 2.3 .7 2.1 .6 1.9 .2 1.6 -.2 1.4 -.5 1.2 -.7 .9 -1 .7 -1.2 .5 -1.6 .3 -1.5 0 -1.4 -.5 -1.1 -.9 -1 -.8 -.9 0 -.6 1.1 -.3 1.8 0 2.2 0 2.2 -.2 2.4 -.3 2.7 -.4 2.7 -.5 2.5 -.7 2.4 -1.2 2.4 -1.3 2.2 -1.5 1.7 -1.5 1.4 -1.4 1 -1.5 .8 -1.5 .6 -1.3 .4 -1 .4 -.6 .1 -1z"/></defs>
<use href="#e2bo" fill="#000" filter="url(#ishL)"/>
<use href="#e2bo" fill="none" stroke="#444" stroke-width="0.60"/>
<linearGradient id="e2cw" x1="0.8" y1="0.15" x2="0.25" y2="0.95"><stop offset="0" stop-color="#d0d0d0"/><stop offset="0.5" stop-color="#c8c8c8"/><stop offset="0.72" stop-color="#a4a4a4"/><stop offset="0.85" stop-color="#9a9a9a"/><stop offset="1" stop-color="#b4b4b4"/></linearGradient>
<path d="M273.9 569.4l.3 -1.5 .3 -1.5 .5 -1.3 .6 -1.2 .8 -.9 .9 -.9 1.2 -.7 1.4 -.6 1.8 -.5 2.2 -.3 2.3 -.3 2.4 -.2 2.6 -.4 2.7 -.3 2.8 -.2 2.8 0 2.8 .3 2.8 .4 2.8 .7 2.6 .8 2.4 1 2.4 1.2 2.1 1.3 1.8 1.3 1.5 1.4 1.3 1.4 .9 1.5 .6 1.6 .2 1.6 -.1 1.7 -.4 1.7 -.8 1.4 -1.3 1 -1.8 .8 -1.9 .6 -1.5 .7 -1.1 .8 -.8 .8 -.7 .8 -.7 .9 -.8 .9 -.8 .9 -.6 .9 -.5 1 0 1.2 .2 1.2 .3 1.2 .1 1.2 -.1 1.1 -.2 1.1 -.4 1.1 -.4 1 -.7 .9 -.7 .9 -.9 .8 -1.1 .6 -1.2 .4 -1.3 .2 -1.4 .1 -1.5 -.2 -1.4 -.4 -1.5 -.6 -1.5 -.8 -1.7 -.8 -1.9 -.9 -2.1 -1 -2.1 -1.1 -1.9 -1.3 -1.8 -1.5 -1.8 -1.6 -1.6 -1.7 -1.4 -1.5 -1.2 -1.4 -1 -1.4 -.8 -1.3 -.8 -1.4 -.7 -1.5 -.6 -1.6 -.5 -1.6 -.4 -1.6 -.2 -1.7 0 -1.6 .1 -1.6z" fill="url(#e2cw)"/>
<path d="M253.5,584.1 Q263.0,580.8 268.2,579.2 L273.4,577.5" fill="none" stroke="#000" stroke-opacity="0.4" stroke-width="1.30" stroke-linecap="round" filter="url(#sb)"/>
<path d="M250.7,561.7 Q260.1,564.3 264.9,565.3 L269.6,566.3" fill="none" stroke="#000" stroke-opacity="0.4" stroke-width="1.30" stroke-linecap="round" filter="url(#sb)"/>
<path d="M275.4,556.4 Q288.6,553.8 295.8,553.8 Q302.9,553.8 310.5,555.8 L318.1,557.7" fill="none" stroke="#000" stroke-opacity="0.4" stroke-width="1.30" stroke-linecap="round" filter="url(#sb)"/>
<path d="M283.9,537.3 Q285.8,543.2 287.7,545.9 L289.6,548.5" fill="none" stroke="#000" stroke-opacity="0.4" stroke-width="1.30" stroke-linecap="round" filter="url(#sb)"/>
<defs><path id="e2co" d="M244.2 575.4l.1 -2.8 .5 -3.3 .8 -3.3 1.1 -3.1 1.2 -2.9 1.4 -2.8 1.7 -2.7 1.8 -2.5 2.1 -2.4 2.4 -2.3 2.5 -2.1 2.7 -1.8 3 -1.7 3.1 -1.5 3.4 -1.2 3.4 -1.1 3.4 -.9 3.7 -.8 3.6 -.5 3.7 -.2 3.6 0 3.6 .3 3.6 .5 3.5 .8 3.7 1 3.7 1.2 3.6 1.5 3.4 1.8 3.1 2 2.9 2.2 2.7 2.5 2.5 2.6 2.2 3 2 3.3 1.7 3.3 1.3 3 1 2.6 .6 2.4 .4 2.2 .1 2.2 -.1 2.1 -.5 2.1 -.6 1.9 -.9 1.7 -1.1 1.6 -1.2 1.4 -1.5 1.3 -1.8 1.2 -2.1 1 -2.4 .8 -2.5 .7 -2.6 .6 -2.9 .4 -3.1 .3 -2.9 .2 -2.1 .7 -.9 1.1 0 1.5 .2 1.5 -.2 1.3 -.7 1.1 -1.1 1 -1.1 .8 -1.1 .6 -1 .5 -1 .2 -1.1 .1 -1.7 -.3 -2.3 -.7 -2.9 -1 -3.1 -1.1 -2.9 -1.2 -2.8 -1.1 -2.7 -1.2 -2.8 -1.2 -2.9 -1.1 -3.2 -1.1 -3.2 -1 -3.3 -1 -3.1 -.8 -3 -.7 -3 -.6 -2.7 -.5 -2.5 -.6 -2.1 -.6 -1.9 -.6 -1.7 -.8 -1.4 -1.1 -1.2 -1.5 -1 -1.9 -.8 -2.1z"/></defs>
<use href="#e2co" fill="#000" filter="url(#ishL)"/>
<use href="#e2co" fill="none" stroke="#444" stroke-width="0.60"/>
<linearGradient id="e2dw" x1="0.2" y1="0.15" x2="0.75" y2="0.95"><stop offset="0" stop-color="#d0d0d0"/><stop offset="0.5" stop-color="#c8c8c8"/><stop offset="0.72" stop-color="#a4a4a4"/><stop offset="0.85" stop-color="#9a9a9a"/><stop offset="1" stop-color="#b4b4b4"/></linearGradient>
<path d="M413.7 569.4l-.3 -1.5 -.3 -1.5 -.5 -1.3 -.6 -1.2 -.8 -.9 -.9 -.9 -1.2 -.7 -1.4 -.6 -1.8 -.5 -2.2 -.3 -2.3 -.3 -2.4 -.2 -2.6 -.4 -2.7 -.3 -2.8 -.2 -2.8 0 -2.8 .3 -2.8 .4 -2.8 .7 -2.6 .8 -2.4 1 -2.4 1.2 -2.1 1.3 -1.8 1.3 -1.5 1.4 -1.3 1.4 -.9 1.5 -.6 1.6 -.2 1.6 .1 1.7 .4 1.7 .8 1.4 1.3 1 1.8 .8 1.9 .6 1.5 .7 1.1 .8 .8 .8 .7 .8 .7 .9 .8 .9 .8 .9 .6 .9 .5 1 0 1.2 -.2 1.2 -.3 1.2 -.1 1.2 .1 1.1 .2 1.1 .4 1.1 .4 1 .7 .9 .7 .9 .9 .8 1.1 .6 1.2 .4 1.3 .2 1.4 .1 1.5 -.2 1.4 -.4 1.5 -.6 1.5 -.8 1.7 -.8 1.9 -.9 2.1 -1 2.1 -1.1 1.9 -1.3 1.8 -1.5 1.8 -1.6 1.6 -1.7 1.4 -1.5 1.2 -1.4 1 -1.4 .8 -1.3 .8 -1.4 .7 -1.5 .6 -1.6 .5 -1.6 .4 -1.6 .2 -1.7 0 -1.6 -.1 -1.6z" fill="url(#e2dw)"/>
<path d="M434.1,584.1 Q424.6,580.8 419.4,579.2 L414.2,577.5" fill="none" stroke="#000" stroke-opacity="0.4" stroke-width="1.30" stroke-linecap="round" filter="url(#sb)"/>
<path d="M437.0,561.7 Q427.5,564.3 422.7,565.3 L418.0,566.3" fill="none" stroke="#000" stroke-opacity="0.4" stroke-width="1.30" stroke-linecap="round" filter="url(#sb)"/>
<path d="M412.2,556.4 Q399.0,553.8 391.8,553.8 Q384.7,553.8 377.1,555.8 L369.5,557.7" fill="none" stroke="#000" stroke-opacity="0.4" stroke-width="1.30" stroke-linecap="round" filter="url(#sb)"/>
<path d="M403.7,537.3 Q401.8,543.2 399.9,545.9 L398.0,548.5" fill="none" stroke="#000" stroke-opacity="0.4" stroke-width="1.30" stroke-linecap="round" filter="url(#sb)"/>
<defs><path id="e2do" d="M443.4 575.4l-.1 -2.8 -.5 -3.3 -.8 -3.3 -1.1 -3.1 -1.2 -2.9 -1.4 -2.8 -1.7 -2.7 -1.8 -2.5 -2.1 -2.4 -2.4 -2.3 -2.5 -2.1 -2.7 -1.8 -3 -1.7 -3.1 -1.5 -3.4 -1.2 -3.4 -1.1 -3.4 -.9 -3.7 -.8 -3.6 -.5 -3.7 -.2 -3.6 0 -3.6 .3 -3.6 .5 -3.5 .8 -3.7 1 -3.7 1.2 -3.6 1.5 -3.4 1.8 -3.1 2 -2.9 2.2 -2.7 2.5 -2.5 2.6 -2.2 3 -2 3.3 -1.7 3.3 -1.3 3 -1 2.6 -.6 2.4 -.4 2.2 -.1 2.2 .1 2.1 .5 2.1 .6 1.9 .9 1.7 1.1 1.6 1.2 1.4 1.5 1.3 1.8 1.2 2.1 1 2.4 .8 2.5 .7 2.6 .6 2.9 .4 3.1 .3 2.9 .2 2.1 .7 .9 1.1 0 1.5 -.2 1.5 .2 1.3 .7 1.1 1.1 1 1.1 .8 1.1 .6 1 .5 1 .2 1.1 .1 1.7 -.3 2.3 -.7 2.9 -1 3.1 -1.1 2.9 -1.2 2.8 -1.1 2.7 -1.2 2.8 -1.2 2.9 -1.1 3.2 -1.1 3.2 -1 3.3 -1 3.1 -.8 3 -.7 3 -.6 2.7 -.5 2.5 -.6 2.1 -.6 1.9 -.6 1.7 -.8 1.4 -1.1 1.2 -1.5 1 -1.9 .8 -2.1z"/></defs>
<use href="#e2do" fill="#000" filter="url(#ishL)"/>
<use href="#e2do" fill="none" stroke="#444" stroke-width="0.60"/>
<linearGradient id="cbE" x1="0" x2="1" y1="0" y2="0"><stop offset="0" stop-color="#3746a0"/><stop offset="0.25" stop-color="#6c72be"/><stop offset="0.4" stop-color="#c6c7e5"/><stop offset="0.5" stop-color="#f8f7fa"/><stop offset="0.6" stop-color="#f6c0c0"/><stop offset="0.75" stop-color="#ec7a7a"/><stop offset="1" stop-color="#e81e23"/></linearGradient>
<rect x="69.4" y="611.8" width="116.3" height="7" fill="url(#cbE)"/>
<line x1="127.5" y1="611.8" x2="127.5" y2="618.8" stroke="#777" stroke-width="0.6"/>
<text x="66.2" y="618.9" font-size="10.00" text-anchor="end" fill="#000">-10.0</text>
<text x="191.6" y="618.9" font-size="10.00" text-anchor="start" fill="#000">5.0</text>
<text x="127.8" y="631.0" font-size="10.60" text-anchor="middle" fill="#000" font-style="italic">z-val</text>
<rect x="295.9" y="612.5" width="7.7" height="7" fill="#e83232"/>
<text x="306.4" y="619.4" font-size="9.20" text-anchor="start" fill="#000">P2&gt;P3</text>
<rect x="353.3" y="612.5" width="7.4" height="7" fill="#3c50b4"/>
<text x="363.0" y="619.4" font-size="9.20" text-anchor="start" fill="#000">P3&gt;P2</text>
<text x="463.4" y="467.8" font-size="21.50" text-anchor="start" fill="#000">F</text>
<line x1="550.6" y1="478.3" x2="550.6" y2="612.4" stroke="#ccc" stroke-width="0.8"/>
<line x1="616.6" y1="478.3" x2="616.6" y2="612.4" stroke="#ccc" stroke-width="0.8"/>
<path d="M484.3,478.3 L484.3,612.4 L683.0,612.4" fill="none" stroke="#555" stroke-width="0.8"/>
<line x1="484.3" y1="478.3" x2="485.8" y2="478.3" stroke="#555" stroke-width="0.6"/>
<text x="480.3" y="480.8" font-size="7.00" text-anchor="end" fill="#222">4</text>
<line x1="484.3" y1="511.9" x2="485.8" y2="511.9" stroke="#555" stroke-width="0.6"/>
<text x="480.3" y="514.4" font-size="7.00" text-anchor="end" fill="#222">2</text>
<line x1="484.3" y1="545.5" x2="485.8" y2="545.5" stroke="#555" stroke-width="0.6"/>
<text x="480.3" y="548.0" font-size="7.00" text-anchor="end" fill="#222">0</text>
<line x1="484.3" y1="579.1" x2="485.8" y2="579.1" stroke="#555" stroke-width="0.6"/>
<text x="480.3" y="581.6" font-size="7.00" text-anchor="end" fill="#222">-2</text>
<line x1="484.3" y1="612.7" x2="485.8" y2="612.7" stroke="#555" stroke-width="0.6"/>
<text x="480.3" y="615.2" font-size="7.00" text-anchor="end" fill="#222">-4</text>
<line x1="516.6" y1="612.4" x2="516.6" y2="610.9" stroke="#555" stroke-width="0.6"/>
<line x1="583.1" y1="612.4" x2="583.1" y2="610.9" stroke="#555" stroke-width="0.6"/>
<line x1="649.5" y1="612.4" x2="649.5" y2="610.9" stroke="#555" stroke-width="0.6"/>
<text x="516.4" y="623.0" font-size="7.60" text-anchor="middle" fill="#222">Executive</text>
<text x="583.1" y="623.0" font-size="7.60" text-anchor="middle" fill="#222">Social</text>
<text x="649.5" y="623.0" font-size="7.60" text-anchor="middle" fill="#222">Memory</text>
<text x="469.0" y="545.5" font-size="7.60" text-anchor="middle" fill="#222" transform="rotate(-90 469 545.5)">Score</text>
<line x1="494.8" y1="514.2" x2="494.8" y2="530.7" stroke="#444" stroke-width="0.9"/>
<line x1="494.8" y1="551.4" x2="494.8" y2="582.0" stroke="#444" stroke-width="0.9"/>
<line x1="492.0" y1="514.2" x2="497.6" y2="514.2" stroke="#444" stroke-width="0.9"/>
<line x1="492.0" y1="582.0" x2="497.6" y2="582.0" stroke="#444" stroke-width="0.9"/>
<rect x="489.1" y="530.7" width="11.4" height="20.7" fill="#cfe0f1" stroke="#3a7fc8" stroke-width="0.9"/>
<line x1="489.1" y1="539.3" x2="500.5" y2="539.3" stroke="#3a7fc8" stroke-width="0.9"/>
<circle cx="494.8" cy="594.0" r="2.0" fill="none" stroke="#3a7fc8" stroke-width="0.8"/>
<circle cx="494.8" cy="600.3" r="2.0" fill="none" stroke="#3a7fc8" stroke-width="0.8"/>
<line x1="517.0" y1="508.4" x2="517.0" y2="526.3" stroke="#444" stroke-width="0.9"/>
<line x1="517.0" y1="544.1" x2="517.0" y2="570.4" stroke="#444" stroke-width="0.9"/>
<line x1="514.2" y1="508.4" x2="519.8" y2="508.4" stroke="#444" stroke-width="0.9"/>
<line x1="514.2" y1="570.4" x2="519.8" y2="570.4" stroke="#444" stroke-width="0.9"/>
<rect x="511.3" y="526.3" width="11.4" height="17.8" fill="#f6dad0" stroke="#d9603c" stroke-width="0.9"/>
<line x1="511.3" y1="533.9" x2="522.7" y2="533.9" stroke="#d9603c" stroke-width="0.9"/>
<circle cx="517.0" cy="572.3" r="2.0" fill="none" stroke="#d9603c" stroke-width="0.8"/>
<circle cx="517.0" cy="574.0" r="2.0" fill="none" stroke="#d9603c" stroke-width="0.8"/>
<circle cx="517.0" cy="576.0" r="2.0" fill="none" stroke="#d9603c" stroke-width="0.8"/>
<line x1="539.0" y1="509.4" x2="539.0" y2="527.3" stroke="#444" stroke-width="0.9"/>
<line x1="539.0" y1="550.4" x2="539.0" y2="579.9" stroke="#444" stroke-width="0.9"/>
<line x1="536.2" y1="509.4" x2="541.8" y2="509.4" stroke="#444" stroke-width="0.9"/>
<line x1="536.2" y1="579.9" x2="541.8" y2="579.9" stroke="#444" stroke-width="0.9"/>
<rect x="533.3" y="527.3" width="11.4" height="23.1" fill="#fcecca" stroke="#ecb232" stroke-width="0.9"/>
<line x1="533.3" y1="539.3" x2="544.7" y2="539.3" stroke="#ecb232" stroke-width="0.9"/>
<circle cx="539.0" cy="589.8" r="2.0" fill="none" stroke="#ecb232" stroke-width="0.8"/>
<line x1="560.8" y1="512.4" x2="560.8" y2="531.5" stroke="#444" stroke-width="0.9"/>
<line x1="560.8" y1="550.4" x2="560.8" y2="578.4" stroke="#444" stroke-width="0.9"/>
<line x1="558.0" y1="512.4" x2="563.6" y2="512.4" stroke="#444" stroke-width="0.9"/>
<line x1="558.0" y1="578.4" x2="563.6" y2="578.4" stroke="#444" stroke-width="0.9"/>
<rect x="555.1" y="531.5" width="11.4" height="18.9" fill="#cfe0f1" stroke="#3a7fc8" stroke-width="0.9"/>
<line x1="555.1" y1="539.6" x2="566.5" y2="539.6" stroke="#3a7fc8" stroke-width="0.9"/>
<circle cx="560.8" cy="579.4" r="2.0" fill="none" stroke="#3a7fc8" stroke-width="0.8"/>
<circle cx="560.8" cy="581.5" r="2.0" fill="none" stroke="#3a7fc8" stroke-width="0.8"/>
<circle cx="560.8" cy="583.8" r="2.0" fill="none" stroke="#3a7fc8" stroke-width="0.8"/>
<circle cx="560.8" cy="586.3" r="2.0" fill="none" stroke="#3a7fc8" stroke-width="0.8"/>
<line x1="583.1" y1="517.3" x2="583.1" y2="528.5" stroke="#444" stroke-width="0.9"/>
<line x1="583.1" y1="542.9" x2="583.1" y2="563.2" stroke="#444" stroke-width="0.9"/>
<line x1="580.3" y1="517.3" x2="585.9" y2="517.3" stroke="#444" stroke-width="0.9"/>
<line x1="580.3" y1="563.2" x2="585.9" y2="563.2" stroke="#444" stroke-width="0.9"/>
<rect x="577.4" y="528.5" width="11.4" height="14.4" fill="#f6dad0" stroke="#d9603c" stroke-width="0.9"/>
<line x1="577.4" y1="534.0" x2="588.8" y2="534.0" stroke="#d9603c" stroke-width="0.9"/>
<circle cx="583.1" cy="568.0" r="2.0" fill="none" stroke="#d9603c" stroke-width="0.8"/>
<circle cx="583.1" cy="570.5" r="2.0" fill="none" stroke="#d9603c" stroke-width="0.8"/>
<circle cx="583.1" cy="573.0" r="2.0" fill="none" stroke="#d9603c" stroke-width="0.8"/>
<circle cx="583.1" cy="575.4" r="2.0" fill="none" stroke="#d9603c" stroke-width="0.8"/>
<circle cx="583.1" cy="578.0" r="2.0" fill="none" stroke="#d9603c" stroke-width="0.8"/>
<circle cx="583.1" cy="586.3" r="2.0" fill="none" stroke="#d9603c" stroke-width="0.8"/>
<line x1="605.2" y1="514.7" x2="605.2" y2="531.5" stroke="#444" stroke-width="0.9"/>
<line x1="605.2" y1="546.0" x2="605.2" y2="566.0" stroke="#444" stroke-width="0.9"/>
<line x1="602.4" y1="514.7" x2="608.0" y2="514.7" stroke="#444" stroke-width="0.9"/>
<line x1="602.4" y1="566.0" x2="608.0" y2="566.0" stroke="#444" stroke-width="0.9"/>
<rect x="599.5" y="531.5" width="11.4" height="14.5" fill="#fcecca" stroke="#ecb232" stroke-width="0.9"/>
<line x1="599.5" y1="537.6" x2="610.9" y2="537.6" stroke="#ecb232" stroke-width="0.9"/>
<circle cx="605.2" cy="508.6" r="2.0" fill="none" stroke="#ecb232" stroke-width="0.8"/>
<circle cx="605.2" cy="568.5" r="2.0" fill="none" stroke="#ecb232" stroke-width="0.8"/>
<circle cx="605.2" cy="572.0" r="2.0" fill="none" stroke="#ecb232" stroke-width="0.8"/>
<circle cx="605.2" cy="575.0" r="2.0" fill="none" stroke="#ecb232" stroke-width="0.8"/>
<circle cx="605.2" cy="578.0" r="2.0" fill="none" stroke="#ecb232" stroke-width="0.8"/>
<circle cx="605.2" cy="582.0" r="2.0" fill="none" stroke="#ecb232" stroke-width="0.8"/>
<circle cx="605.2" cy="587.9" r="2.0" fill="none" stroke="#ecb232" stroke-width="0.8"/>
<line x1="627.5" y1="509.4" x2="627.5" y2="530.5" stroke="#444" stroke-width="0.9"/>
<line x1="627.5" y1="549.6" x2="627.5" y2="574.5" stroke="#444" stroke-width="0.9"/>
<line x1="624.7" y1="509.4" x2="630.3" y2="509.4" stroke="#444" stroke-width="0.9"/>
<line x1="624.7" y1="574.5" x2="630.3" y2="574.5" stroke="#444" stroke-width="0.9"/>
<rect x="621.8" y="530.5" width="11.4" height="19.1" fill="#cfe0f1" stroke="#3a7fc8" stroke-width="0.9"/>
<line x1="621.8" y1="539.4" x2="633.2" y2="539.4" stroke="#3a7fc8" stroke-width="0.9"/>
<circle cx="627.5" cy="577.4" r="2.0" fill="none" stroke="#3a7fc8" stroke-width="0.8"/>
<circle cx="627.5" cy="578.8" r="2.0" fill="none" stroke="#3a7fc8" stroke-width="0.8"/>
<circle cx="627.5" cy="585.3" r="2.0" fill="none" stroke="#3a7fc8" stroke-width="0.8"/>
<circle cx="627.5" cy="589.8" r="2.0" fill="none" stroke="#3a7fc8" stroke-width="0.8"/>
<circle cx="627.5" cy="609.1" r="2.0" fill="none" stroke="#3a7fc8" stroke-width="0.8"/>
<line x1="649.5" y1="509.4" x2="649.5" y2="528.1" stroke="#444" stroke-width="0.9"/>
<line x1="649.5" y1="546.3" x2="649.5" y2="569.1" stroke="#444" stroke-width="0.9"/>
<line x1="646.7" y1="509.4" x2="652.3" y2="509.4" stroke="#444" stroke-width="0.9"/>
<line x1="646.7" y1="569.1" x2="652.3" y2="569.1" stroke="#444" stroke-width="0.9"/>
<rect x="643.8" y="528.1" width="11.4" height="18.2" fill="#f6dad0" stroke="#d9603c" stroke-width="0.9"/>
<line x1="643.8" y1="536.2" x2="655.2" y2="536.2" stroke="#d9603c" stroke-width="0.9"/>
<circle cx="649.5" cy="574.5" r="2.0" fill="none" stroke="#d9603c" stroke-width="0.8"/>
<circle cx="649.5" cy="578.8" r="2.0" fill="none" stroke="#d9603c" stroke-width="0.8"/>
<line x1="671.8" y1="506.5" x2="671.8" y2="531.5" stroke="#444" stroke-width="0.9"/>
<line x1="671.8" y1="551.2" x2="671.8" y2="578.0" stroke="#444" stroke-width="0.9"/>
<line x1="669.0" y1="506.5" x2="674.6" y2="506.5" stroke="#444" stroke-width="0.9"/>
<line x1="669.0" y1="578.0" x2="674.6" y2="578.0" stroke="#444" stroke-width="0.9"/>
<rect x="666.1" y="531.5" width="11.4" height="19.7" fill="#fcecca" stroke="#ecb232" stroke-width="0.9"/>
<line x1="666.1" y1="540.2" x2="677.5" y2="540.2" stroke="#ecb232" stroke-width="0.9"/>
<circle cx="671.8" cy="583.3" r="2.0" fill="none" stroke="#ecb232" stroke-width="0.8"/>
<circle cx="671.8" cy="586.3" r="2.0" fill="none" stroke="#ecb232" stroke-width="0.8"/>
<circle cx="671.8" cy="589.2" r="2.0" fill="none" stroke="#ecb232" stroke-width="0.8"/>
<circle cx="671.8" cy="592.2" r="2.0" fill="none" stroke="#ecb232" stroke-width="0.8"/>
<circle cx="671.8" cy="596.1" r="2.0" fill="none" stroke="#ecb232" stroke-width="0.8"/>
<line x1="494.8" y1="501.3" x2="517.0" y2="501.3" stroke="#444" stroke-width="0.8"/>
<text x="506.0" y="500.1" font-size="7.00" text-anchor="middle" fill="#222">*</text>
<line x1="516.6" y1="492.2" x2="538.8" y2="492.2" stroke="#444" stroke-width="0.8"/>
<text x="527.6" y="491.0" font-size="7.00" text-anchor="middle" fill="#222">*</text>
<line x1="561.2" y1="501.1" x2="583.1" y2="501.1" stroke="#444" stroke-width="0.8"/>
<text x="572.0" y="499.9" font-size="7.00" text-anchor="middle" fill="#222">*</text>
<line x1="583.1" y1="492.0" x2="605.2" y2="492.0" stroke="#444" stroke-width="0.8"/>
<text x="594.1" y="490.8" font-size="7.00" text-anchor="middle" fill="#222">*</text>
<line x1="627.5" y1="501.1" x2="649.5" y2="501.1" stroke="#444" stroke-width="0.8"/>
<text x="638.5" y="499.9" font-size="7.00" text-anchor="middle" fill="#222">*</text>
<line x1="649.5" y1="492.0" x2="671.8" y2="492.0" stroke="#444" stroke-width="0.8"/>
<text x="660.4" y="490.8" font-size="7.00" text-anchor="middle" fill="#222">*</text>
<rect x="528.2" y="458.2" width="23.5" height="7" fill="#cfe0f1" stroke="#3a7fc8" stroke-width="0.9"/>
<text x="553.2" y="465.0" font-size="8.00" text-anchor="start" fill="#222">P1</text>
<rect x="566.5" y="458.2" width="23.5" height="7" fill="#f6dad0" stroke="#d9603c" stroke-width="0.9"/>
<text x="591.2" y="465.0" font-size="8.00" text-anchor="start" fill="#222">P2</text>
<rect x="604.5" y="458.2" width="23.5" height="7" fill="#fcecca" stroke="#ecb232" stroke-width="0.9"/>
<text x="628.7" y="465.0" font-size="8.00" text-anchor="start" fill="#222">P3</text>
<text x="-0.2" y="670.5" font-size="21.50" text-anchor="start" fill="#000">G</text>
<text x="71.0" y="679.5" font-size="10.60" text-anchor="start" fill="#000">Corr(</text>
<defs><path id="tg1ao" d="M95.8 669.1l0 -.6 .1 -.8 .2 -.8 .3 -.7 .3 -.7 .5 -.6 .5 -.6 .5 -.5 .5 -.4 .6 -.3 .6 -.2 .7 -.2 .7 -.2 .8 -.2 .8 -.1 .7 -.1 .6 -.1 .5 -.1 .5 0 .5 0 .6 0 .6 0 .6 0 .6 .1 .7 .1 .7 .2 .6 .3 .7 .3 .7 .5 .6 .5 .6 .5 .5 .6 .5 .6 .4 .7 .3 .7 .3 .6 .2 .6 .2 .5 .1 .5 0 .5 0 .4 -.1 .4 -.2 .3 -.2 .4 -.2 .2 -.4 .2 -.4 .2 -.5 .2 -.6 .3 -.8 .2 -.8 .2 -.8 .2 -.8 .2 -.7 .2 -.8 .3 -.7 .2 -.7 .2 -.6 .3 -.6 .2 -.5 .2 -.5 .1 -.5 .2 -.4 .1 -.4 .1 -.3 -.1 -.3 -.1 -.3 -.1 -.2 -.2 -.1 -.3 -.1 -.3 -.1 -.3 0 -.3 .1 -.2 .2 -.2 .2 -.2 0 -.1 -.2 -.1 -.4 0 -.5 0 -.4 0 -.5 -.1 -.6 -.1 -.5 -.1 -.5 -.1 -.5 -.3 -.5 -.2 -.5 -.3 -.3 -.3 -.3 -.3 -.2 -.3 -.2 -.3 -.1 -.3 -.1 -.2 0 -.2 -.1 -.2z"/></defs>
<use href="#tg1ao" fill="#000" filter="url(#ishS)"/>
<use href="#tg1ao" fill="none" stroke="#444" stroke-width="0.35"/>
<defs><path id="tg1bo" d="M136.1 669.1l0 -.6 -.1 -.8 -.2 -.8 -.3 -.7 -.3 -.7 -.5 -.6 -.5 -.6 -.5 -.5 -.5 -.4 -.6 -.3 -.6 -.2 -.7 -.2 -.7 -.2 -.8 -.2 -.8 -.1 -.7 -.1 -.6 -.1 -.5 -.1 -.5 0 -.5 0 -.6 0 -.6 0 -.6 0 -.6 .1 -.7 .1 -.7 .2 -.6 .3 -.7 .3 -.7 .5 -.6 .5 -.6 .5 -.5 .6 -.5 .6 -.4 .7 -.3 .7 -.3 .6 -.2 .6 -.2 .5 -.1 .5 0 .5 0 .4 .1 .4 .2 .3 .2 .4 .2 .2 .4 .2 .4 .2 .5 .2 .6 .3 .8 .2 .8 .2 .8 .2 .8 .2 .7 .2 .8 .3 .7 .2 .7 .2 .6 .3 .6 .2 .5 .2 .5 .1 .5 .2 .4 .1 .4 .1 .3 -.1 .3 -.1 .3 -.1 .2 -.2 .1 -.3 .1 -.3 .1 -.3 0 -.3 -.1 -.2 -.2 -.2 -.2 -.2 0 -.1 .2 -.1 .4 0 .5 0 .4 0 .5 -.1 .6 -.1 .5 -.1 .5 -.1 .5 -.3 .5 -.2 .5 -.3 .3 -.3 .3 -.3 .2 -.3 .2 -.3 .1 -.3 .1 -.2 0 -.2 .1 -.2z"/></defs>
<use href="#tg1bo" fill="#000" filter="url(#ishS)"/>
<use href="#tg1bo" fill="none" stroke="#444" stroke-width="0.35"/>
<linearGradient id="tg1cw" x1="0.8" y1="0.15" x2="0.25" y2="0.95"><stop offset="0" stop-color="#d0d0d0"/><stop offset="0.5" stop-color="#c8c8c8"/><stop offset="0.72" stop-color="#a4a4a4"/><stop offset="0.85" stop-color="#9a9a9a"/><stop offset="1" stop-color="#b4b4b4"/></linearGradient>
<path d="M101.8 684.3l.1 -.3 .1 -.3 .1 -.3 .1 -.2 .2 -.2 .1 -.2 .3 -.2 .3 -.1 .3 -.1 .5 -.1 .5 0 .5 -.1 .5 0 .5 -.1 .6 0 .6 0 .6 0 .5 .1 .6 .1 .6 .2 .5 .2 .4 .3 .5 .2 .3 .3 .4 .3 .2 .3 .2 .3 .1 .3 .1 .3 -.1 .4 -.1 .3 -.1 .3 -.3 .2 -.3 .2 -.4 .1 -.3 .2 -.3 .1 -.1 .2 -.2 .1 -.1 .2 -.2 .2 -.1 .2 -.2 .2 -.1 .2 0 .2 .1 .3 0 .2 .1 .3 -.1 .2 0 .2 -.1 .2 -.1 .2 -.1 .2 -.2 .2 -.2 .2 -.2 .1 -.2 .1 -.3 0 -.3 0 -.3 0 -.3 -.1 -.3 -.1 -.3 -.2 -.3 -.1 -.4 -.2 -.4 -.2 -.5 -.3 -.4 -.2 -.4 -.3 -.3 -.3 -.3 -.4 -.3 -.3 -.3 -.3 -.2 -.3 -.2 -.2 -.1 -.3 -.2 -.3 -.1 -.4 -.1 -.3 -.1 -.3 0 -.4 0 -.3 0 -.3z" fill="url(#tg1cw)"/>
<defs><path id="tg1co" d="M95.7 685.5l.1 -.6 .1 -.6 .1 -.7 .2 -.7 .3 -.5 .3 -.6 .3 -.6 .4 -.5 .4 -.5 .5 -.4 .5 -.5 .6 -.4 .6 -.3 .7 -.3 .6 -.3 .7 -.2 .8 -.2 .7 -.1 .8 -.1 .7 -.1 .7 0 .8 .1 .7 .1 .7 .2 .8 .2 .8 .2 .7 .3 .7 .4 .6 .4 .6 .5 .6 .5 .5 .5 .4 .6 .4 .7 .4 .7 .3 .6 .2 .5 .1 .5 .1 .5 0 .4 0 .4 -.1 .4 -.2 .4 -.1 .4 -.2 .3 -.3 .3 -.3 .3 -.4 .2 -.4 .2 -.5 .2 -.5 .1 -.5 .2 -.6 0 -.7 .1 -.6 0 -.4 .2 -.2 .2 0 .3 .1 .3 -.1 .3 -.1 .2 -.3 .2 -.2 .2 -.2 .1 -.2 .1 -.2 0 -.3 .1 -.3 -.1 -.5 -.1 -.6 -.2 -.6 -.3 -.6 -.2 -.6 -.2 -.5 -.3 -.6 -.2 -.6 -.3 -.6 -.2 -.7 -.2 -.7 -.2 -.6 -.2 -.6 -.1 -.6 -.1 -.6 -.1 -.5 -.2 -.5 -.1 -.3 -.1 -.4 -.2 -.3 -.2 -.2 -.3 -.2 -.4 -.2 -.4z"/></defs>
<use href="#tg1co" fill="#000" filter="url(#ishS)"/>
<use href="#tg1co" fill="none" stroke="#444" stroke-width="0.35"/>
<linearGradient id="tg1dw" x1="0.2" y1="0.15" x2="0.75" y2="0.95"><stop offset="0" stop-color="#d0d0d0"/><stop offset="0.5" stop-color="#c8c8c8"/><stop offset="0.72" stop-color="#a4a4a4"/><stop offset="0.85" stop-color="#9a9a9a"/><stop offset="1" stop-color="#b4b4b4"/></linearGradient>
<path d="M130.1 684.3l-.1 -.3 -.1 -.3 -.1 -.3 -.1 -.2 -.2 -.2 -.1 -.2 -.3 -.2 -.3 -.1 -.3 -.1 -.5 -.1 -.5 0 -.5 -.1 -.5 0 -.5 -.1 -.6 0 -.6 0 -.6 0 -.5 .1 -.6 .1 -.5 .2 -.6 .2 -.4 .3 -.5 .2 -.3 .3 -.4 .3 -.2 .3 -.2 .3 -.1 .3 -.1 .3 .1 .4 .1 .3 .1 .3 .3 .2 .3 .2 .4 .1 .3 .2 .3 .1 .1 .2 .2 .1 .1 .2 .2 .2 .1 .2 .2 .2 .1 .2 0 .2 -.1 .3 0 .2 0 .3 0 .2 0 .2 .1 .2 .1 .2 .1 .2 .2 .2 .2 .2 .2 .1 .2 .1 .3 0 .3 0 .3 0 .3 -.1 .3 -.1 .3 -.2 .3 -.1 .4 -.2 .4 -.2 .5 -.3 .4 -.2 .4 -.3 .3 -.3 .3 -.4 .3 -.3 .3 -.3 .2 -.3 .2 -.2 .1 -.3 .2 -.3 .1 -.4 .1 -.3 .1 -.3 0 -.4 0 -.3 0 -.3z" fill="url(#tg1dw)"/>
<defs><path id="tg1do" d="M136.2 685.5l-.1 -.6 -.1 -.6 -.1 -.7 -.2 -.7 -.3 -.5 -.3 -.6 -.3 -.6 -.4 -.5 -.4 -.5 -.5 -.4 -.5 -.5 -.6 -.4 -.6 -.3 -.7 -.3 -.6 -.3 -.7 -.2 -.8 -.2 -.7 -.1 -.8 -.1 -.7 -.1 -.7 0 -.8 .1 -.7 .1 -.7 .2 -.8 .2 -.8 .2 -.7 .3 -.7 .4 -.6 .4 -.6 .5 -.6 .5 -.5 .5 -.4 .6 -.4 .7 -.4 .7 -.3 .6 -.2 .5 -.1 .5 -.1 .5 0 .4 0 .4 .1 .4 .2 .4 .1 .4 .2 .3 .3 .3 .3 .3 .4 .2 .4 .2 .5 .2 .5 .1 .5 .2 .6 0 .7 .1 .6 0 .4 .2 .2 .2 0 .3 -.1 .3 .1 .3 .1 .2 .3 .2 .2 .2 .2 .1 .2 .1 .2 0 .3 .1 .3 -.1 .5 -.1 .6 -.2 .6 -.3 .6 -.2 .6 -.2 .5 -.3 .6 -.2 .6 -.3 .6 -.2 .7 -.2 .7 -.2 .6 -.2 .6 -.1 .6 -.1 .6 -.1 .5 -.2 .5 -.1 .3 -.1 .4 -.2 .3 -.2 .2 -.3 .2 -.4 .2 -.4z"/></defs>
<use href="#tg1do" fill="#000" filter="url(#ishS)"/>
<use href="#tg1do" fill="none" stroke="#444" stroke-width="0.35"/>
<text x="136.8" y="682.0" font-size="10.60" text-anchor="start" fill="#000">,</text>
<defs><path id="tg2ao" d="M142.6 669.1l0 -.6 .1 -.8 .2 -.8 .3 -.7 .3 -.7 .5 -.6 .5 -.6 .5 -.5 .5 -.4 .6 -.3 .6 -.2 .7 -.2 .7 -.2 .8 -.2 .8 -.1 .7 -.1 .6 -.1 .5 -.1 .5 0 .5 0 .6 0 .6 0 .6 0 .6 .1 .7 .1 .7 .2 .6 .3 .7 .3 .7 .5 .6 .5 .6 .5 .5 .6 .5 .6 .4 .7 .3 .7 .3 .6 .2 .6 .2 .5 .1 .5 0 .5 0 .4 -.1 .4 -.2 .3 -.2 .4 -.2 .2 -.4 .2 -.4 .2 -.5 .2 -.6 .3 -.8 .2 -.8 .2 -.8 .2 -.8 .2 -.7 .2 -.8 .3 -.7 .2 -.7 .2 -.6 .3 -.6 .2 -.5 .2 -.5 .1 -.5 .2 -.4 .1 -.4 .1 -.3 -.1 -.3 -.1 -.3 -.1 -.2 -.2 -.1 -.3 -.1 -.3 -.1 -.3 0 -.3 .1 -.2 .2 -.2 .2 -.2 0 -.1 -.2 -.1 -.4 0 -.5 0 -.4 0 -.5 -.1 -.6 -.1 -.5 -.1 -.5 -.1 -.5 -.3 -.5 -.2 -.5 -.3 -.3 -.3 -.3 -.3 -.2 -.3 -.2 -.3 -.1 -.3 -.1 -.2 0 -.2 -.1 -.2z"/></defs>
<use href="#tg2ao" fill="#000" filter="url(#ishS)"/>
<use href="#tg2ao" fill="none" stroke="#444" stroke-width="0.35"/>
<defs><path id="tg2bo" d="M182.9 669.1l0 -.6 -.1 -.8 -.2 -.8 -.3 -.7 -.3 -.7 -.5 -.6 -.5 -.6 -.5 -.5 -.5 -.4 -.6 -.3 -.6 -.2 -.7 -.2 -.7 -.2 -.8 -.2 -.8 -.1 -.7 -.1 -.6 -.1 -.5 -.1 -.5 0 -.5 0 -.6 0 -.6 0 -.6 0 -.6 .1 -.7 .1 -.7 .2 -.6 .3 -.7 .3 -.7 .5 -.6 .5 -.6 .5 -.5 .6 -.5 .6 -.4 .7 -.3 .7 -.3 .6 -.2 .6 -.2 .5 -.1 .5 0 .5 0 .4 .1 .4 .2 .3 .2 .4 .2 .2 .4 .2 .4 .2 .5 .2 .6 .3 .8 .2 .8 .2 .8 .2 .8 .2 .7 .2 .8 .3 .7 .2 .7 .2 .6 .3 .6 .2 .5 .2 .5 .1 .5 .2 .4 .1 .4 .1 .3 -.1 .3 -.1 .3 -.1 .2 -.2 .1 -.3 .1 -.3 .1 -.3 0 -.3 -.1 -.2 -.2 -.2 -.2 -.2 0 -.1 .2 -.1 .4 0 .5 0 .4 0 .5 -.1 .6 -.1 .5 -.1 .5 -.1 .5 -.3 .5 -.2 .5 -.3 .3 -.3 .3 -.3 .2 -.3 .2 -.3 .1 -.3 .1 -.2 0 -.2 .1 -.2z"/></defs>
<use href="#tg2bo" fill="#000" filter="url(#ishS)"/>
<use href="#tg2bo" fill="none" stroke="#444" stroke-width="0.35"/>
<linearGradient id="tg2cw" x1="0.8" y1="0.15" x2="0.25" y2="0.95"><stop offset="0" stop-color="#d0d0d0"/><stop offset="0.5" stop-color="#c8c8c8"/><stop offset="0.72" stop-color="#a4a4a4"/><stop offset="0.85" stop-color="#9a9a9a"/><stop offset="1" stop-color="#b4b4b4"/></linearGradient>
<path d="M148.6 684.3l.1 -.3 .1 -.3 .1 -.3 .1 -.2 .2 -.2 .1 -.2 .3 -.2 .3 -.1 .3 -.1 .5 -.1 .5 0 .5 -.1 .5 0 .5 -.1 .6 0 .6 0 .6 0 .5 .1 .6 .1 .6 .2 .5 .2 .4 .3 .5 .2 .3 .3 .4 .3 .2 .3 .2 .3 .1 .3 .1 .3 -.1 .4 -.1 .3 -.1 .3 -.3 .2 -.3 .2 -.4 .1 -.3 .2 -.3 .1 -.1 .2 -.2 .1 -.1 .2 -.2 .2 -.1 .2 -.2 .2 -.1 .2 0 .2 .1 .3 0 .2 .1 .3 -.1 .2 0 .2 -.1 .2 -.1 .2 -.1 .2 -.2 .2 -.2 .2 -.2 .1 -.2 .1 -.3 0 -.3 0 -.3 0 -.3 -.1 -.3 -.1 -.3 -.2 -.3 -.1 -.4 -.2 -.4 -.2 -.5 -.3 -.4 -.2 -.4 -.3 -.3 -.3 -.3 -.4 -.3 -.3 -.3 -.3 -.2 -.3 -.2 -.2 -.1 -.3 -.2 -.3 -.1 -.4 -.1 -.3 -.1 -.3 0 -.4 0 -.3 0 -.3z" fill="url(#tg2cw)"/>
<defs><path id="tg2co" d="M142.5 685.5l.1 -.6 .1 -.6 .1 -.7 .2 -.7 .3 -.5 .3 -.6 .3 -.6 .4 -.5 .4 -.5 .5 -.4 .5 -.5 .6 -.4 .6 -.3 .7 -.3 .6 -.3 .7 -.2 .8 -.2 .7 -.1 .8 -.1 .7 -.1 .7 0 .8 .1 .7 .1 .7 .2 .8 .2 .8 .2 .7 .3 .7 .4 .6 .4 .6 .5 .6 .5 .5 .5 .4 .6 .4 .7 .4 .7 .3 .6 .2 .5 .1 .5 .1 .5 0 .4 0 .4 -.1 .4 -.2 .4 -.1 .4 -.2 .3 -.3 .3 -.3 .3 -.4 .2 -.4 .2 -.5 .2 -.5 .1 -.5 .2 -.6 0 -.7 .1 -.6 0 -.4 .2 -.2 .2 0 .3 .1 .3 -.1 .3 -.1 .2 -.3 .2 -.2 .2 -.2 .1 -.2 .1 -.2 0 -.3 .1 -.3 -.1 -.5 -.1 -.6 -.2 -.6 -.3 -.6 -.2 -.6 -.2 -.5 -.3 -.6 -.2 -.6 -.3 -.6 -.2 -.7 -.2 -.7 -.2 -.6 -.2 -.6 -.1 -.6 -.1 -.6 -.1 -.5 -.2 -.5 -.1 -.3 -.1 -.4 -.2 -.3 -.2 -.2 -.3 -.2 -.4 -.2 -.4z"/></defs>
<use href="#tg2co" fill="#000" filter="url(#ishS)"/>
<use href="#tg2co" fill="none" stroke="#444" stroke-width="0.35"/>
<linearGradient id="tg2dw" x1="0.2" y1="0.15" x2="0.75" y2="0.95"><stop offset="0" stop-color="#d0d0d0"/><stop offset="0.5" stop-color="#c8c8c8"/><stop offset="0.72" stop-color="#a4a4a4"/><stop offset="0.85" stop-color="#9a9a9a"/><stop offset="1" stop-color="#b4b4b4"/></linearGradient>
<path d="M176.9 684.3l-.1 -.3 -.1 -.3 -.1 -.3 -.1 -.2 -.2 -.2 -.1 -.2 -.3 -.2 -.3 -.1 -.3 -.1 -.5 -.1 -.5 0 -.5 -.1 -.5 0 -.5 -.1 -.6 0 -.6 0 -.6 0 -.5 .1 -.6 .1 -.5 .2 -.6 .2 -.4 .3 -.5 .2 -.3 .3 -.4 .3 -.2 .3 -.2 .3 -.1 .3 -.1 .3 .1 .4 .1 .3 .1 .3 .3 .2 .3 .2 .4 .1 .3 .2 .3 .1 .1 .2 .2 .1 .1 .2 .2 .2 .1 .2 .2 .2 .1 .2 0 .2 -.1 .3 0 .2 0 .3 0 .2 0 .2 .1 .2 .1 .2 .1 .2 .2 .2 .2 .2 .2 .1 .2 .1 .3 0 .3 0 .3 0 .3 -.1 .3 -.1 .3 -.2 .3 -.1 .4 -.2 .4 -.2 .5 -.3 .4 -.2 .4 -.3 .3 -.3 .3 -.4 .3 -.3 .3 -.3 .2 -.3 .2 -.2 .1 -.3 .2 -.3 .1 -.4 .1 -.3 .1 -.3 0 -.4 0 -.3 0 -.3z" fill="url(#tg2dw)"/>
<defs><path id="tg2do" d="M183 685.5l-.1 -.6 -.1 -.6 -.1 -.7 -.2 -.7 -.3 -.5 -.3 -.6 -.3 -.6 -.4 -.5 -.4 -.5 -.5 -.4 -.5 -.5 -.6 -.4 -.6 -.3 -.7 -.3 -.6 -.3 -.7 -.2 -.8 -.2 -.7 -.1 -.8 -.1 -.7 -.1 -.7 0 -.8 .1 -.7 .1 -.7 .2 -.8 .2 -.8 .2 -.7 .3 -.7 .4 -.6 .4 -.6 .5 -.6 .5 -.5 .5 -.4 .6 -.4 .7 -.4 .7 -.3 .6 -.2 .5 -.1 .5 -.1 .5 0 .4 0 .4 .1 .4 .2 .4 .1 .4 .2 .3 .3 .3 .3 .3 .4 .2 .4 .2 .5 .2 .5 .1 .5 .2 .6 0 .7 .1 .6 0 .4 .2 .2 .2 0 .3 -.1 .3 .1 .3 .1 .2 .3 .2 .2 .2 .2 .1 .2 .1 .2 0 .3 .1 .3 -.1 .5 -.1 .6 -.2 .6 -.3 .6 -.2 .6 -.2 .5 -.3 .6 -.2 .6 -.3 .6 -.2 .7 -.2 .7 -.2 .6 -.2 .6 -.1 .6 -.1 .6 -.1 .5 -.2 .5 -.1 .3 -.1 .4 -.2 .3 -.2 .2 -.3 .2 -.4 .2 -.4z"/></defs>
<use href="#tg2do" fill="#000" filter="url(#ishS)"/>
<use href="#tg2do" fill="none" stroke="#444" stroke-width="0.35"/>
<text x="184.0" y="679.5" font-size="10.60" text-anchor="start" fill="#000">)</text>
<path fill="none" stroke="#f7a3a2" stroke-width="4.40" stroke-linecap="round" d="M201.7 716.5h0M99.6 776.8h0M179.3 745.1h0M66.1 765.9h0M53.5 806.3h0M188.9 750.8h0M67.9 765.8h0M112.8 745.5h0M135.6 744.8h0M195.1 765.1h0M71.7 760.9h0M69.9 773.2h0M79.0 759.9h0M129.8 741.0h0M126.1 735.6h0M172.5 728.6h0M137.8 750.3h0M135.0 731.0h0M127.4 728.1h0M133.1 728.2h0M67.2 747.3h0M73.7 758.6h0M172.1 743.3h0M72.4 746.6h0M51.2 805.7h0M178.0 737.6h0M108.5 753.1h0M108.9 750.8h0M114.3 769.3h0M117.5 757.3h0M173.0 741.2h0M53.3 820.5h0M67.5 752.1h0M67.4 767.1h0M103.2 748.9h0M51.9 808.8h0M165.2 735.9h0M69.5 765.4h0M116.5 736.8h0M53.0 816.6h0M68.4 764.4h0M129.7 764.7h0M150.8 754.4h0M111.3 765.6h0M122.8 761.1h0M154.6 724.3h0M73.1 754.1h0M99.3 767.7h0M166.4 732.4h0M90.2 730.9h0M198.4 744.0h0M105.1 755.4h0M75.1 759.8h0M104.9 742.2h0M69.9 752.7h0M62.8 761.9h0M154.1 725.6h0M200.9 722.5h0M196.0 720.5h0M85.7 740.3h0M143.9 764.1h0M153.6 744.1h0M165.9 737.1h0M60.8 791.3h0M120.4 732.3h0M62.1 785.8h0M84.8 762.5h0M74.1 736.3h0M89.7 739.2h0M72.0 755.5h0M121.0 732.0h0M62.4 765.3h0M84.3 745.2h0M193.2 773.2h0M67.4 775.3h0M105.4 752.4h0M166.6 754.9h0M81.7 748.2h0M110.3 729.2h0M56.2 818.7h0M59.5 807.9h0M157.8 714.1h0M91.8 754.1h0M80.5 768.5h0M83.9 746.8h0M107.2 740.1h0M83.6 759.9h0M95.9 736.4h0M157.5 748.7h0M77.2 766.2h0M62.0 778.8h0M190.2 729.0h0M121.3 753.5h0M121.0 740.2h0M71.2 760.9h0M177.2 701.7h0M76.5 763.8h0M147.0 723.8h0M65.5 771.1h0M56.7 810.7h0M112.2 735.6h0M151.4 730.2h0M196.2 721.7h0M179.8 735.9h0M158.4 750.2h0M64.4 780.7h0M82.4 743.7h0M188.8 731.7h0M56.8 789.1h0M96.2 741.4h0M164.7 726.9h0M179.2 719.6h0M52.4 804.3h0M135.5 764.1h0M75.1 771.5h0M84.8 769.5h0M184.0 718.2h0M71.1 771.4h0M110.2 728.7h0M185.8 731.9h0M62.0 757.7h0M118.4 731.2h0M141.9 744.6h0M81.5 753.8h0M134.3 742.6h0M69.5 759.6h0M56.8 815.2h0M141.6 743.7h0M59.4 770.7h0M59.9 813.7h0M119.0 741.4h0M114.6 757.8h0M63.3 773.9h0M73.7 745.0h0M92.2 748.6h0M86.1 738.7h0M200.9 760.7h0M150.9 727.3h0M87.1 757.3h0M142.6 734.6h0M141.8 740.7h0M133.4 779.4h0M196.1 749.6h0M195.8 736.2h0M95.7 725.9h0M99.0 742.9h0M58.4 794.4h0M181.9 759.7h0M156.3 722.4h0M169.2 716.3h0M63.9 774.4h0M106.0 749.1h0M179.9 762.6h0M82.2 738.6h0M165.4 704.3h0M104.1 736.4h0M79.4 734.8h0M199.0 731.5h0M56.2 822.7h0M55.7 797.8h0M64.9 788.9h0M160.8 744.7h0M87.4 745.1h0M55.6 804.5h0M82.7 744.8h0M146.1 737.6h0M126.9 754.8h0M141.7 760.9h0M62.9 777.3h0M160.3 751.6h0M101.6 764.5h0M190.7 757.0h0M197.2 745.8h0M77.4 778.9h0M70.6 778.8h0M185.0 762.5h0M115.7 742.7h0M178.1 734.9h0M115.4 717.6h0M57.1 819.0h0M121.1 754.1h0M153.7 729.8h0M193.0 742.4h0M87.1 753.5h0M178.6 717.0h0M75.5 759.5h0M78.0 768.9h0M80.2 769.8h0M69.0 758.3h0M70.6 756.2h0M70.9 778.7h0M92.4 761.4h0M79.1 745.0h0M197.5 731.1h0M60.8 795.1h0M188.6 731.2h0M51.3 817.3h0M72.3 782.6h0M198.4 743.3h0M105.2 740.4h0M186.1 747.8h0M187.2 769.2h0M156.1 746.0h0M53.1 812.9h0M104.9 724.4h0M56.2 819.5h0M115.8 709.2h0M95.8 762.7h0M96.1 734.0h0M59.0 777.5h0M77.5 739.8h0M71.0 757.7h0M76.2 770.3h0M112.6 736.8h0M96.9 756.9h0M74.2 790.8h0M151.4 703.6h0M131.8 734.2h0M74.6 730.7h0M105.5 758.6h0M161.3 721.6h0M58.7 774.3h0M129.0 722.8h0M136.8 743.9h0M190.4 756.1h0M54.6 811.1h0M167.9 771.6h0M118.1 768.4h0M189.2 738.4h0M128.4 757.8h0M67.1 768.8h0M187.1 741.3h0M162.3 715.1h0M92.0 730.0h0M73.5 757.4h0M68.9 746.5h0M84.1 760.7h0M69.5 766.7h0M197.0 726.6h0M82.4 767.7h0M100.1 750.5h0M73.3 775.1h0M91.0 746.5h0M137.9 721.0h0M62.0 791.5h0M119.2 741.8h0M71.5 771.4h0M179.1 756.2h0M178.3 757.5h0M148.8 722.7h0M97.3 714.5h0M146.4 736.2h0M72.5 767.7h0M59.1 784.7h0M64.7 777.0h0M127.9 733.2h0M64.1 770.2h0M94.4 743.6h0M149.0 734.3h0M53.1 815.6h0M57.3 810.3h0M111.7 769.2h0M55.9 820.4h0M52.6 808.5h0M64.6 774.6h0M57.1 818.9h0M175.2 739.3h0M78.2 746.6h0M58.9 814.8h0M167.9 752.4h0M143.3 756.1h0M53.0 811.3h0M137.5 720.1h0M137.0 731.8h0M115.1 750.0h0M192.2 719.3h0M52.7 807.8h0M165.0 720.9h0M130.3 753.1h0M194.2 777.6h0M195.7 702.8h0M84.2 728.2h0M61.7 796.4h0M154.0 740.0h0M89.5 751.4h0M58.6 795.2h0M74.9 775.8h0M147.2 752.2h0M103.1 739.9h0M125.2 741.4h0M60.3 771.9h0M52.0 817.8h0M180.5 708.0h0M194.3 749.2h0M120.5 741.2h0M149.7 769.0h0M81.2 768.4h0M125.7 726.1h0M197.3 752.1h0M95.0 740.1h0M186.2 740.8h0M73.1 771.5h0M116.2 749.9h0M175.1 747.8h0M115.7 751.9h0M189.3 729.3h0M90.6 739.2h0M95.0 755.3h0M55.7 807.3h0M135.1 739.8h0M98.4 748.3h0M142.9 729.0h0M116.6 708.6h0M147.3 731.2h0M170.9 741.5h0M184.6 742.4h0M87.7 760.6h0M152.5 754.9h0M71.2 773.3h0M136.4 749.0h0M174.0 746.7h0M75.1 745.0h0M186.7 745.4h0M151.3 745.2h0M188.5 756.5h0M55.9 791.6h0M76.0 747.5h0M87.5 724.3h0M52.1 806.6h0M60.7 766.2h0M112.8 748.8h0M120.0 735.0h0M152.4 705.2h0M52.8 806.9h0M193.7 723.2h0M65.3 747.6h0M104.0 740.4h0M72.9 746.9h0M179.9 722.8h0M55.0 821.9h0M61.3 778.3h0M80.0 764.0h0M160.1 751.3h0M115.7 753.9h0M74.8 757.5h0M136.7 741.5h0M187.5 733.4h0M153.2 762.3h0M76.7 726.0h0M134.0 727.5h0M64.3 763.3h0M70.5 765.6h0M65.9 770.6h0M196.1 731.5h0M54.9 816.6h0M59.2 817.2h0M155.1 731.8h0M188.2 698.9h0M54.6 801.8h0M137.7 729.5h0M61.4 778.5h0M139.5 744.9h0M59.1 774.7h0M114.8 761.9h0M96.0 744.9h0M181.4 719.6h0M116.6 747.9h0M183.5 746.0h0M154.6 740.6h0M62.9 784.4h0M77.2 731.7h0M78.1 765.8h0M88.5 736.3h0M197.8 756.7h0M58.3 789.2h0M117.3 746.5h0M63.8 811.6h0M188.1 739.8h0M138.8 758.5h0M95.7 753.5h0M72.0 736.8h0M64.9 787.6h0M130.1 759.1h0M79.7 731.6h0M71.5 757.5h0M177.8 718.7h0M100.1 742.1h0M138.5 755.9h0M140.3 744.2h0M200.8 721.4h0M91.1 734.8h0M142.6 743.1h0M191.6 738.8h0M129.0 745.7h0M52.8 810.3h0M67.7 738.1h0M119.4 744.8h0M67.5 781.6h0M90.8 754.9h0M105.6 735.8h0M189.3 705.3h0M190.9 706.3h0M190.0 710.1h0M190.8 708.7h0M194.7 723.8h0M192.7 709.3h0M187.9 721.2h0M197.5 721.1h0M193.0 724.8h0M192.1 717.4h0M196.2 727.4h0M196.8 710.4h0"/>
<line x1="52" y1="775.3" x2="203.2" y2="729" stroke="#14a06e" stroke-width="2"/>
<path d="M45.4,693.6 L45.4,845.6 L207.2,845.6" fill="none" stroke="#555" stroke-width="0.8"/>
<line x1="58.2" y1="845.6" x2="58.2" y2="844.0" stroke="#555" stroke-width="0.6"/>
<text x="58.2" y="858.6" font-size="8.90" text-anchor="middle" fill="#222">-5</text>
<line x1="120.2" y1="845.6" x2="120.2" y2="844.0" stroke="#555" stroke-width="0.6"/>
<text x="120.2" y="858.6" font-size="8.90" text-anchor="middle" fill="#222">0</text>
<line x1="182.2" y1="845.6" x2="182.2" y2="844.0" stroke="#555" stroke-width="0.6"/>
<text x="182.2" y="858.6" font-size="8.90" text-anchor="middle" fill="#222">5</text>
<line x1="45.4" y1="693.6" x2="47.0" y2="693.6" stroke="#555" stroke-width="0.6"/>
<text x="41.1" y="698.0" font-size="8.90" text-anchor="end" fill="#222">1</text>
<line x1="45.4" y1="731.8" x2="47.0" y2="731.8" stroke="#555" stroke-width="0.6"/>
<text x="41.1" y="736.2" font-size="8.90" text-anchor="end" fill="#222">0.5</text>
<line x1="45.4" y1="770.0" x2="47.0" y2="770.0" stroke="#555" stroke-width="0.6"/>
<text x="41.1" y="774.4" font-size="8.90" text-anchor="end" fill="#222">0</text>
<line x1="45.4" y1="808.2" x2="47.0" y2="808.2" stroke="#555" stroke-width="0.6"/>
<text x="41.1" y="812.6" font-size="8.90" text-anchor="end" fill="#222">-0.5</text>
<line x1="45.4" y1="846.4" x2="47.0" y2="846.4" stroke="#555" stroke-width="0.6"/>
<text x="41.1" y="850.8" font-size="8.90" text-anchor="end" fill="#222">-1</text>
<text x="127.0" y="874.5" font-size="10.70" text-anchor="middle" fill="#000">Functional Gradient</text>
<text x="22.0" y="768.4" font-size="10.60" text-anchor="middle" fill="#000" transform="rotate(-90 22 768.4)">RBD index</text>
<text x="57.8" y="832.0" font-size="9.30" text-anchor="start" fill="#000" font-style="italic">r=0.604 p&lt;0.0001</text>
<rect x="152.9" y="785.0" width="52.4" height="49.0" fill="#fff"/>
<g fill="#d9d9d9" stroke="#111" stroke-width="0.55"><rect x="156.63" y="833.42" width="2.48" height="0.58"/><rect x="159.11" y="831.44" width="2.98" height="2.56"/><rect x="162.08" y="825.98" width="2.48" height="8.02"/><rect x="164.57" y="818.54" width="2.48" height="15.46"/><rect x="167.05" y="809.85" width="2.48" height="24.15"/><rect x="169.53" y="797.20" width="2.48" height="36.80"/><rect x="172.01" y="787.27" width="2.48" height="46.73"/><rect x="174.49" y="785.04" width="2.48" height="48.96"/><rect x="176.97" y="788.76" width="2.48" height="45.24"/><rect x="179.45" y="798.44" width="2.48" height="35.56"/><rect x="181.94" y="804.14" width="2.48" height="29.86"/><rect x="184.42" y="819.03" width="2.48" height="14.97"/><rect x="186.90" y="825.98" width="2.48" height="8.02"/><rect x="189.38" y="831.44" width="2.48" height="2.56"/><rect x="191.86" y="832.43" width="2.48" height="1.57"/><rect x="194.34" y="832.93" width="2.48" height="1.07"/><rect x="196.82" y="833.42" width="2.48" height="0.58"/></g>
<path d="M152.9,785.0 L152.9,834.0 L205.3,834.0" fill="none" stroke="#444" stroke-width="0.6"/>
<line x1="203.8" y1="785.0" x2="203.8" y2="834.0" stroke="#1fa874" stroke-width="1"/>
<text x="155.0" y="844.4" font-size="7.60" text-anchor="middle" fill="#222">-0.4</text>
<text x="174.6" y="844.4" font-size="7.60" text-anchor="middle" fill="#222">0</text>
<text x="193.0" y="844.4" font-size="7.60" text-anchor="middle" fill="#222">0.4</text>
<text x="232.4" y="670.6" font-size="21.50" text-anchor="start" fill="#000">H</text>
<text x="305.4" y="679.5" font-size="10.60" text-anchor="start" fill="#000">Corr(</text>
<defs><path id="th1ao" d="M329.4 669.1l0 -.6 .1 -.8 .2 -.8 .3 -.7 .3 -.7 .5 -.6 .5 -.6 .5 -.5 .5 -.4 .6 -.3 .6 -.2 .7 -.2 .7 -.2 .8 -.2 .8 -.1 .7 -.1 .6 -.1 .5 -.1 .5 0 .5 0 .6 0 .6 0 .6 0 .6 .1 .7 .1 .7 .2 .6 .3 .7 .3 .7 .5 .6 .5 .6 .5 .5 .6 .5 .6 .4 .7 .3 .7 .3 .6 .2 .6 .2 .5 .1 .5 0 .5 0 .4 -.1 .4 -.2 .3 -.2 .4 -.2 .2 -.4 .2 -.4 .2 -.5 .2 -.6 .3 -.8 .2 -.8 .2 -.8 .2 -.8 .2 -.7 .2 -.8 .3 -.7 .2 -.7 .2 -.6 .3 -.6 .2 -.5 .2 -.5 .1 -.5 .2 -.4 .1 -.4 .1 -.3 -.1 -.3 -.1 -.3 -.1 -.2 -.2 -.1 -.3 -.1 -.3 -.1 -.3 0 -.3 .1 -.2 .2 -.2 .2 -.2 0 -.1 -.2 -.1 -.4 0 -.5 0 -.4 0 -.5 -.1 -.6 -.1 -.5 -.1 -.5 -.1 -.5 -.3 -.5 -.2 -.5 -.3 -.3 -.3 -.3 -.3 -.2 -.3 -.2 -.3 -.1 -.3 -.1 -.2 0 -.2 -.1 -.2z"/></defs>
<use href="#th1ao" fill="#000" filter="url(#ishS)"/>
<use href="#th1ao" fill="none" stroke="#444" stroke-width="0.35"/>
<defs><path id="th1bo" d="M369.7 669.1l0 -.6 -.1 -.8 -.2 -.8 -.3 -.7 -.3 -.7 -.5 -.6 -.5 -.6 -.5 -.5 -.5 -.4 -.6 -.3 -.6 -.2 -.7 -.2 -.7 -.2 -.8 -.2 -.8 -.1 -.7 -.1 -.6 -.1 -.5 -.1 -.5 0 -.5 0 -.6 0 -.6 0 -.6 0 -.6 .1 -.7 .1 -.7 .2 -.6 .3 -.7 .3 -.7 .5 -.6 .5 -.6 .5 -.5 .6 -.5 .6 -.4 .7 -.3 .7 -.3 .6 -.2 .6 -.2 .5 -.1 .5 0 .5 0 .4 .1 .4 .2 .3 .2 .4 .2 .2 .4 .2 .4 .2 .5 .2 .6 .3 .8 .2 .8 .2 .8 .2 .8 .2 .7 .2 .8 .3 .7 .2 .7 .2 .6 .3 .6 .2 .5 .2 .5 .1 .5 .2 .4 .1 .4 .1 .3 -.1 .3 -.1 .3 -.1 .2 -.2 .1 -.3 .1 -.3 .1 -.3 0 -.3 -.1 -.2 -.2 -.2 -.2 -.2 0 -.1 .2 -.1 .4 0 .5 0 .4 0 .5 -.1 .6 -.1 .5 -.1 .5 -.1 .5 -.3 .5 -.2 .5 -.3 .3 -.3 .3 -.3 .2 -.3 .2 -.3 .1 -.3 .1 -.2 0 -.2 .1 -.2z"/></defs>
<use href="#th1bo" fill="#000" filter="url(#ishS)"/>
<use href="#th1bo" fill="none" stroke="#444" stroke-width="0.35"/>
<linearGradient id="th1cw" x1="0.8" y1="0.15" x2="0.25" y2="0.95"><stop offset="0" stop-color="#d0d0d0"/><stop offset="0.5" stop-color="#c8c8c8"/><stop offset="0.72" stop-color="#a4a4a4"/><stop offset="0.85" stop-color="#9a9a9a"/><stop offset="1" stop-color="#b4b4b4"/></linearGradient>
<path d="M335.4 684.3l.1 -.3 .1 -.3 .1 -.3 .1 -.2 .2 -.2 .1 -.2 .3 -.2 .3 -.1 .3 -.1 .5 -.1 .5 0 .5 -.1 .5 0 .5 -.1 .6 0 .6 0 .6 0 .5 .1 .6 .1 .6 .2 .5 .2 .4 .3 .5 .2 .3 .3 .4 .3 .2 .3 .2 .3 .1 .3 .1 .3 -.1 .4 -.1 .3 -.1 .3 -.3 .2 -.3 .2 -.4 .1 -.3 .2 -.3 .1 -.1 .2 -.2 .1 -.1 .2 -.2 .2 -.1 .2 -.2 .2 -.1 .2 0 .2 .1 .3 0 .2 .1 .3 -.1 .2 0 .2 -.1 .2 -.1 .2 -.1 .2 -.2 .2 -.2 .2 -.2 .1 -.2 .1 -.3 0 -.3 0 -.3 0 -.3 -.1 -.3 -.1 -.3 -.2 -.3 -.1 -.4 -.2 -.4 -.2 -.5 -.3 -.4 -.2 -.4 -.3 -.3 -.3 -.3 -.4 -.3 -.3 -.3 -.3 -.2 -.3 -.2 -.2 -.1 -.3 -.2 -.3 -.1 -.4 -.1 -.3 -.1 -.3 0 -.4 0 -.3 0 -.3z" fill="url(#th1cw)"/>
<defs><path id="th1co" d="M329.3 685.5l.1 -.6 .1 -.6 .1 -.7 .2 -.7 .3 -.5 .3 -.6 .3 -.6 .4 -.5 .4 -.5 .5 -.4 .5 -.5 .6 -.4 .6 -.3 .7 -.3 .6 -.3 .7 -.2 .8 -.2 .7 -.1 .8 -.1 .7 -.1 .7 0 .8 .1 .7 .1 .7 .2 .8 .2 .8 .2 .7 .3 .7 .4 .6 .4 .6 .5 .6 .5 .5 .5 .4 .6 .4 .7 .4 .7 .3 .6 .2 .5 .1 .5 .1 .5 0 .4 0 .4 -.1 .4 -.2 .4 -.1 .4 -.2 .3 -.3 .3 -.3 .3 -.4 .2 -.4 .2 -.5 .2 -.5 .1 -.5 .2 -.6 0 -.7 .1 -.6 0 -.4 .2 -.2 .2 0 .3 .1 .3 -.1 .3 -.1 .2 -.3 .2 -.2 .2 -.2 .1 -.2 .1 -.2 0 -.3 .1 -.3 -.1 -.5 -.1 -.6 -.2 -.6 -.3 -.6 -.2 -.6 -.2 -.5 -.3 -.6 -.2 -.6 -.3 -.6 -.2 -.7 -.2 -.7 -.2 -.6 -.2 -.6 -.1 -.6 -.1 -.6 -.1 -.5 -.2 -.5 -.1 -.3 -.1 -.4 -.2 -.3 -.2 -.2 -.3 -.2 -.4 -.2 -.4z"/></defs>
<use href="#th1co" fill="#000" filter="url(#ishS)"/>
<use href="#th1co" fill="none" stroke="#444" stroke-width="0.35"/>
<linearGradient id="th1dw" x1="0.2" y1="0.15" x2="0.75" y2="0.95"><stop offset="0" stop-color="#d0d0d0"/><stop offset="0.5" stop-color="#c8c8c8"/><stop offset="0.72" stop-color="#a4a4a4"/><stop offset="0.85" stop-color="#9a9a9a"/><stop offset="1" stop-color="#b4b4b4"/></linearGradient>
<path d="M363.7 684.3l-.1 -.3 -.1 -.3 -.1 -.3 -.1 -.2 -.2 -.2 -.1 -.2 -.3 -.2 -.3 -.1 -.3 -.1 -.5 -.1 -.5 0 -.5 -.1 -.5 0 -.5 -.1 -.6 0 -.6 0 -.6 0 -.5 .1 -.6 .1 -.5 .2 -.6 .2 -.4 .3 -.5 .2 -.3 .3 -.4 .3 -.2 .3 -.2 .3 -.1 .3 -.1 .3 .1 .4 .1 .3 .1 .3 .3 .2 .3 .2 .4 .1 .3 .2 .3 .1 .1 .2 .2 .1 .1 .2 .2 .2 .1 .2 .2 .2 .1 .2 0 .2 -.1 .3 0 .2 0 .3 0 .2 0 .2 .1 .2 .1 .2 .1 .2 .2 .2 .2 .2 .2 .1 .2 .1 .3 0 .3 0 .3 0 .3 -.1 .3 -.1 .3 -.2 .3 -.1 .4 -.2 .4 -.2 .5 -.3 .4 -.2 .4 -.3 .3 -.3 .3 -.4 .3 -.3 .3 -.3 .2 -.3 .2 -.2 .1 -.3 .2 -.3 .1 -.4 .1 -.3 .1 -.3 0 -.4 0 -.3 0 -.3z" fill="url(#th1dw)"/>
<defs><path id="th1do" d="M369.8 685.5l-.1 -.6 -.1 -.6 -.1 -.7 -.2 -.7 -.3 -.5 -.3 -.6 -.3 -.6 -.4 -.5 -.4 -.5 -.5 -.4 -.5 -.5 -.6 -.4 -.6 -.3 -.7 -.3 -.6 -.3 -.7 -.2 -.8 -.2 -.7 -.1 -.8 -.1 -.7 -.1 -.7 0 -.8 .1 -.7 .1 -.7 .2 -.8 .2 -.8 .2 -.7 .3 -.7 .4 -.6 .4 -.6 .5 -.6 .5 -.5 .5 -.4 .6 -.4 .7 -.4 .7 -.3 .6 -.2 .5 -.1 .5 -.1 .5 0 .4 0 .4 .1 .4 .2 .4 .1 .4 .2 .3 .3 .3 .3 .3 .4 .2 .4 .2 .5 .2 .5 .1 .5 .2 .6 0 .7 .1 .6 0 .4 .2 .2 .2 0 .3 -.1 .3 .1 .3 .1 .2 .3 .2 .2 .2 .2 .1 .2 .1 .2 0 .3 .1 .3 -.1 .5 -.1 .6 -.2 .6 -.3 .6 -.2 .6 -.2 .5 -.3 .6 -.2 .6 -.3 .6 -.2 .7 -.2 .7 -.2 .6 -.2 .6 -.1 .6 -.1 .6 -.1 .5 -.2 .5 -.1 .3 -.1 .4 -.2 .3 -.2 .2 -.3 .2 -.4 .2 -.4z"/></defs>
<use href="#th1do" fill="#000" filter="url(#ishS)"/>
<use href="#th1do" fill="none" stroke="#444" stroke-width="0.35"/>
<text x="370.5" y="682.0" font-size="10.60" text-anchor="start" fill="#000">,</text>
<defs><path id="th2ao" d="M376.4 669.1l0 -.6 .1 -.8 .2 -.8 .3 -.7 .3 -.7 .5 -.6 .5 -.6 .5 -.5 .5 -.4 .6 -.3 .6 -.2 .7 -.2 .7 -.2 .8 -.2 .8 -.1 .7 -.1 .6 -.1 .5 -.1 .5 0 .5 0 .6 0 .6 0 .6 0 .6 .1 .7 .1 .7 .2 .6 .3 .7 .3 .7 .5 .6 .5 .6 .5 .5 .6 .5 .6 .4 .7 .3 .7 .3 .6 .2 .6 .2 .5 .1 .5 0 .5 0 .4 -.1 .4 -.2 .3 -.2 .4 -.2 .2 -.4 .2 -.4 .2 -.5 .2 -.6 .3 -.8 .2 -.8 .2 -.8 .2 -.8 .2 -.7 .2 -.8 .3 -.7 .2 -.7 .2 -.6 .3 -.6 .2 -.5 .2 -.5 .1 -.5 .2 -.4 .1 -.4 .1 -.3 -.1 -.3 -.1 -.3 -.1 -.2 -.2 -.1 -.3 -.1 -.3 -.1 -.3 0 -.3 .1 -.2 .2 -.2 .2 -.2 0 -.1 -.2 -.1 -.4 0 -.5 0 -.4 0 -.5 -.1 -.6 -.1 -.5 -.1 -.5 -.1 -.5 -.3 -.5 -.2 -.5 -.3 -.3 -.3 -.3 -.3 -.2 -.3 -.2 -.3 -.1 -.3 -.1 -.2 0 -.2 -.1 -.2z"/></defs>
<use href="#th2ao" fill="#000" filter="url(#ishS)"/>
<use href="#th2ao" fill="none" stroke="#444" stroke-width="0.35"/>
<defs><path id="th2bo" d="M416.7 669.1l0 -.6 -.1 -.8 -.2 -.8 -.3 -.7 -.3 -.7 -.5 -.6 -.5 -.6 -.5 -.5 -.5 -.4 -.6 -.3 -.6 -.2 -.7 -.2 -.7 -.2 -.8 -.2 -.8 -.1 -.7 -.1 -.6 -.1 -.5 -.1 -.5 0 -.5 0 -.6 0 -.6 0 -.6 0 -.6 .1 -.7 .1 -.7 .2 -.6 .3 -.7 .3 -.7 .5 -.6 .5 -.6 .5 -.5 .6 -.5 .6 -.4 .7 -.3 .7 -.3 .6 -.2 .6 -.2 .5 -.1 .5 0 .5 0 .4 .1 .4 .2 .3 .2 .4 .2 .2 .4 .2 .4 .2 .5 .2 .6 .3 .8 .2 .8 .2 .8 .2 .8 .2 .7 .2 .8 .3 .7 .2 .7 .2 .6 .3 .6 .2 .5 .2 .5 .1 .5 .2 .4 .1 .4 .1 .3 -.1 .3 -.1 .3 -.1 .2 -.2 .1 -.3 .1 -.3 .1 -.3 0 -.3 -.1 -.2 -.2 -.2 -.2 -.2 0 -.1 .2 -.1 .4 0 .5 0 .4 0 .5 -.1 .6 -.1 .5 -.1 .5 -.1 .5 -.3 .5 -.2 .5 -.3 .3 -.3 .3 -.3 .2 -.3 .2 -.3 .1 -.3 .1 -.2 0 -.2 .1 -.2z"/></defs>
<use href="#th2bo" fill="#000" filter="url(#ishS)"/>
<use href="#th2bo" fill="none" stroke="#444" stroke-width="0.35"/>
<linearGradient id="th2cw" x1="0.8" y1="0.15" x2="0.25" y2="0.95"><stop offset="0" stop-color="#d0d0d0"/><stop offset="0.5" stop-color="#c8c8c8"/><stop offset="0.72" stop-color="#a4a4a4"/><stop offset="0.85" stop-color="#9a9a9a"/><stop offset="1" stop-color="#b4b4b4"/></linearGradient>
<path d="M382.4 684.3l.1 -.3 .1 -.3 .1 -.3 .1 -.2 .2 -.2 .1 -.2 .3 -.2 .3 -.1 .3 -.1 .5 -.1 .5 0 .5 -.1 .5 0 .5 -.1 .6 0 .6 0 .6 0 .5 .1 .6 .1 .6 .2 .5 .2 .4 .3 .5 .2 .3 .3 .4 .3 .2 .3 .2 .3 .1 .3 .1 .3 -.1 .4 -.1 .3 -.1 .3 -.3 .2 -.3 .2 -.4 .1 -.3 .2 -.3 .1 -.1 .2 -.2 .1 -.1 .2 -.2 .2 -.1 .2 -.2 .2 -.1 .2 0 .2 .1 .3 0 .2 .1 .3 -.1 .2 0 .2 -.1 .2 -.1 .2 -.1 .2 -.2 .2 -.2 .2 -.2 .1 -.2 .1 -.3 0 -.3 0 -.3 0 -.3 -.1 -.3 -.1 -.3 -.2 -.3 -.1 -.4 -.2 -.4 -.2 -.5 -.3 -.4 -.2 -.4 -.3 -.3 -.3 -.3 -.4 -.3 -.3 -.3 -.3 -.2 -.3 -.2 -.2 -.1 -.3 -.2 -.3 -.1 -.4 -.1 -.3 -.1 -.3 0 -.4 0 -.3 0 -.3z" fill="url(#th2cw)"/>
<defs><path id="th2co" d="M376.3 685.5l.1 -.6 .1 -.6 .1 -.7 .2 -.7 .3 -.5 .3 -.6 .3 -.6 .4 -.5 .4 -.5 .5 -.4 .5 -.5 .6 -.4 .6 -.3 .7 -.3 .6 -.3 .7 -.2 .8 -.2 .7 -.1 .8 -.1 .7 -.1 .7 0 .8 .1 .7 .1 .7 .2 .8 .2 .8 .2 .7 .3 .7 .4 .6 .4 .6 .5 .6 .5 .5 .5 .4 .6 .4 .7 .4 .7 .3 .6 .2 .5 .1 .5 .1 .5 0 .4 0 .4 -.1 .4 -.2 .4 -.1 .4 -.2 .3 -.3 .3 -.3 .3 -.4 .2 -.4 .2 -.5 .2 -.5 .1 -.5 .2 -.6 0 -.7 .1 -.6 0 -.4 .2 -.2 .2 0 .3 .1 .3 -.1 .3 -.1 .2 -.3 .2 -.2 .2 -.2 .1 -.2 .1 -.2 0 -.3 .1 -.3 -.1 -.5 -.1 -.6 -.2 -.6 -.3 -.6 -.2 -.6 -.2 -.5 -.3 -.6 -.2 -.6 -.3 -.6 -.2 -.7 -.2 -.7 -.2 -.6 -.2 -.6 -.1 -.6 -.1 -.6 -.1 -.5 -.2 -.5 -.1 -.3 -.1 -.4 -.2 -.3 -.2 -.2 -.3 -.2 -.4 -.2 -.4z"/></defs>
<use href="#th2co" fill="#000" filter="url(#ishS)"/>
<use href="#th2co" fill="none" stroke="#444" stroke-width="0.35"/>
<linearGradient id="th2dw" x1="0.2" y1="0.15" x2="0.75" y2="0.95"><stop offset="0" stop-color="#d0d0d0"/><stop offset="0.5" stop-color="#c8c8c8"/><stop offset="0.72" stop-color="#a4a4a4"/><stop offset="0.85" stop-color="#9a9a9a"/><stop offset="1" stop-color="#b4b4b4"/></linearGradient>
<path d="M410.7 684.3l-.1 -.3 -.1 -.3 -.1 -.3 -.1 -.2 -.2 -.2 -.1 -.2 -.3 -.2 -.3 -.1 -.3 -.1 -.5 -.1 -.5 0 -.5 -.1 -.5 0 -.5 -.1 -.6 0 -.6 0 -.6 0 -.5 .1 -.6 .1 -.5 .2 -.6 .2 -.4 .3 -.5 .2 -.3 .3 -.4 .3 -.2 .3 -.2 .3 -.1 .3 -.1 .3 .1 .4 .1 .3 .1 .3 .3 .2 .3 .2 .4 .1 .3 .2 .3 .1 .1 .2 .2 .1 .1 .2 .2 .2 .1 .2 .2 .2 .1 .2 0 .2 -.1 .3 0 .2 0 .3 0 .2 0 .2 .1 .2 .1 .2 .1 .2 .2 .2 .2 .2 .2 .1 .2 .1 .3 0 .3 0 .3 0 .3 -.1 .3 -.1 .3 -.2 .3 -.1 .4 -.2 .4 -.2 .5 -.3 .4 -.2 .4 -.3 .3 -.3 .3 -.4 .3 -.3 .3 -.3 .2 -.3 .2 -.2 .1 -.3 .2 -.3 .1 -.4 .1 -.3 .1 -.3 0 -.4 0 -.3 0 -.3z" fill="url(#th2dw)"/>
<defs><path id="th2do" d="M416.8 685.5l-.1 -.6 -.1 -.6 -.1 -.7 -.2 -.7 -.3 -.5 -.3 -.6 -.3 -.6 -.4 -.5 -.4 -.5 -.5 -.4 -.5 -.5 -.6 -.4 -.6 -.3 -.7 -.3 -.6 -.3 -.7 -.2 -.8 -.2 -.7 -.1 -.8 -.1 -.7 -.1 -.7 0 -.8 .1 -.7 .1 -.7 .2 -.8 .2 -.8 .2 -.7 .3 -.7 .4 -.6 .4 -.6 .5 -.6 .5 -.5 .5 -.4 .6 -.4 .7 -.4 .7 -.3 .6 -.2 .5 -.1 .5 -.1 .5 0 .4 0 .4 .1 .4 .2 .4 .1 .4 .2 .3 .3 .3 .3 .3 .4 .2 .4 .2 .5 .2 .5 .1 .5 .2 .6 0 .7 .1 .6 0 .4 .2 .2 .2 0 .3 -.1 .3 .1 .3 .1 .2 .3 .2 .2 .2 .2 .1 .2 .1 .2 0 .3 .1 .3 -.1 .5 -.1 .6 -.2 .6 -.3 .6 -.2 .6 -.2 .5 -.3 .6 -.2 .6 -.3 .6 -.2 .7 -.2 .7 -.2 .6 -.2 .6 -.1 .6 -.1 .6 -.1 .5 -.2 .5 -.1 .3 -.1 .4 -.2 .3 -.2 .2 -.3 .2 -.4 .2 -.4z"/></defs>
<use href="#th2do" fill="#000" filter="url(#ishS)"/>
<use href="#th2do" fill="none" stroke="#444" stroke-width="0.35"/>
<text x="418.0" y="679.5" font-size="10.60" text-anchor="start" fill="#000">)</text>
<path fill="none" stroke="#6f97da" stroke-width="4.40" stroke-linecap="round" d="M329.1 760.9h0M394.7 786.3h0M331.4 732.3h0M354.3 768.4h0M376.6 784.9h0M326.7 749.6h0M348.0 765.0h0M327.2 738.9h0M305.6 751.3h0M343.8 777.9h0M330.5 742.8h0M335.9 734.0h0M290.8 723.6h0M337.8 737.0h0M350.8 745.0h0M338.4 748.6h0M352.1 725.4h0M328.1 744.0h0M371.2 774.2h0M346.9 775.2h0M355.4 780.3h0M291.6 711.5h0M300.7 711.1h0M360.2 771.1h0M341.3 753.6h0M350.6 758.5h0M328.1 730.3h0M332.6 773.3h0M344.8 743.1h0M321.2 750.7h0M357.6 758.2h0M315.9 720.5h0M338.8 773.8h0M330.4 726.8h0M341.2 752.4h0M356.6 774.3h0M316.0 704.9h0M343.1 775.4h0M371.6 802.0h0M349.9 757.6h0M365.9 766.4h0M383.3 790.7h0M387.6 781.4h0M358.4 805.3h0M349.6 744.4h0M338.3 748.6h0M389.5 809.3h0M309.2 747.4h0M326.4 734.3h0M331.3 739.2h0M326.5 752.2h0M323.7 737.6h0M334.9 747.6h0M342.5 736.9h0M368.9 790.0h0M323.7 722.8h0M320.1 734.4h0M352.7 761.1h0M338.3 741.8h0M320.4 743.8h0M361.9 791.9h0M332.1 771.5h0M330.0 727.3h0M325.1 767.5h0M319.8 718.8h0M337.3 760.7h0M319.2 717.2h0M377.6 796.1h0M341.2 747.4h0M369.5 771.8h0M322.1 724.6h0M339.7 757.4h0M352.3 753.8h0M339.3 725.3h0M315.6 753.6h0M331.2 727.5h0M305.9 740.9h0M359.6 750.9h0M346.7 762.3h0M351.1 736.5h0M385.8 791.2h0M325.2 747.1h0M332.5 728.0h0M383.8 789.4h0M355.1 765.9h0M345.1 739.2h0M338.7 726.5h0M339.0 735.7h0M340.4 781.1h0M352.8 754.9h0M362.5 763.2h0M346.7 741.4h0M321.5 718.2h0M325.1 721.5h0M348.2 748.3h0M349.7 724.7h0M330.0 743.7h0M356.1 772.7h0M317.7 751.6h0M341.8 756.6h0M349.2 743.8h0M354.4 759.9h0M370.9 750.9h0M343.0 751.2h0M323.5 744.1h0M322.1 710.1h0M339.4 751.2h0M377.3 759.8h0M314.8 764.3h0M361.1 786.1h0M321.2 741.9h0M349.2 772.4h0M320.5 729.0h0M393.1 789.4h0M328.1 735.4h0M350.9 771.3h0M334.7 758.1h0M330.1 751.1h0M349.8 732.6h0M322.1 739.2h0M347.5 740.2h0M395.4 806.1h0M317.5 754.0h0M350.9 755.9h0M354.3 745.3h0M330.8 768.9h0M337.0 755.9h0M330.2 732.0h0M315.7 734.9h0M369.5 778.2h0M351.4 746.7h0M378.6 778.1h0M325.7 735.8h0M371.4 783.0h0M396.4 790.5h0M338.8 757.2h0M366.4 748.4h0M333.5 794.4h0M374.0 775.3h0M336.7 735.8h0M349.0 772.5h0M357.3 754.3h0M360.5 777.8h0M346.4 744.1h0M386.8 760.8h0M342.6 755.9h0M400.3 762.4h0M392.2 792.0h0M376.5 817.9h0M350.0 764.7h0M355.4 760.4h0M340.2 746.9h0M342.7 752.7h0M365.0 764.1h0M368.0 775.7h0M338.7 728.0h0M386.5 782.1h0M347.1 758.3h0M337.5 719.1h0M346.6 776.2h0M326.0 769.5h0M317.7 743.8h0M369.9 815.1h0M329.7 734.3h0M336.6 752.7h0M402.4 766.4h0M336.6 762.8h0M310.1 745.9h0M344.6 743.3h0M326.3 729.5h0M331.0 732.7h0M355.8 772.4h0M309.7 735.9h0M330.0 733.8h0M360.2 769.1h0M324.9 729.3h0M368.9 755.5h0M365.5 775.3h0M359.0 756.4h0M343.8 784.3h0M327.0 714.6h0M306.5 699.3h0M351.9 756.9h0M337.1 751.3h0M381.1 780.2h0M400.3 793.6h0M325.8 739.4h0M320.5 744.3h0M373.5 771.4h0M325.0 718.0h0M345.4 784.3h0M359.8 773.2h0M368.2 784.8h0M333.2 762.2h0M329.4 741.5h0M331.1 777.6h0M375.7 784.7h0M336.0 732.9h0M346.8 740.7h0M303.8 710.1h0M394.1 787.3h0M327.1 726.2h0M315.0 727.2h0M300.0 709.9h0M300.5 706.3h0M330.3 717.7h0M312.3 710.6h0M379.4 766.2h0M356.0 785.6h0M331.8 738.2h0M323.4 733.2h0M377.3 787.2h0M320.8 750.4h0M365.0 758.5h0M313.6 726.9h0M347.0 759.7h0M353.3 777.4h0M386.5 798.3h0M326.2 746.9h0M326.0 733.4h0M399.9 770.9h0M389.8 786.0h0M376.1 810.2h0M405.7 795.1h0M297.2 708.4h0M335.9 762.9h0M384.4 806.3h0M354.6 761.5h0M361.5 755.2h0M366.3 764.4h0M371.0 750.0h0M346.3 757.5h0M324.6 738.1h0M354.7 776.1h0M314.3 714.6h0M346.7 752.6h0M337.9 740.1h0M307.9 761.5h0M337.9 777.6h0M370.3 769.1h0M340.9 742.0h0M351.9 767.2h0M307.8 730.5h0M397.7 785.4h0M314.5 743.9h0M335.3 747.2h0M355.2 778.6h0M325.4 749.1h0M389.8 777.7h0M363.9 798.1h0M325.2 751.5h0M346.8 796.6h0M390.8 786.5h0M363.3 766.6h0M357.9 719.4h0M325.6 746.1h0M324.1 735.0h0M386.4 770.6h0M318.5 723.2h0M403.5 806.1h0M398.3 777.6h0M379.3 821.3h0M363.0 761.7h0M341.0 763.8h0M315.9 744.5h0M329.5 759.6h0M371.9 771.2h0M317.1 749.6h0M331.8 742.4h0M352.3 733.4h0M309.4 738.7h0M362.8 768.0h0M308.7 736.3h0M332.3 766.6h0M308.8 717.5h0M310.6 708.6h0M321.6 747.7h0M350.2 758.9h0M387.3 791.5h0M378.4 794.1h0M327.6 728.6h0M335.0 779.8h0M381.2 760.6h0M338.9 759.6h0M330.7 716.2h0M375.3 771.8h0M327.6 743.3h0M343.6 781.6h0M342.9 775.3h0M292.1 703.1h0M361.9 781.2h0M340.5 738.2h0M331.3 765.8h0M378.8 765.7h0M385.5 788.6h0M409.5 801.0h0M352.1 776.0h0M333.0 753.5h0M395.8 788.5h0M354.0 760.9h0M398.1 814.0h0M344.4 752.6h0M322.1 761.9h0M304.3 698.6h0M335.3 739.7h0M302.9 731.0h0M334.0 752.6h0M319.3 752.5h0M391.5 792.1h0M344.9 800.5h0M332.3 746.8h0M309.4 701.2h0M335.5 782.8h0M320.6 734.5h0M338.3 760.2h0M369.5 778.8h0M371.6 796.5h0M323.5 723.8h0M299.9 741.5h0M317.3 718.9h0M334.4 730.8h0M380.6 781.2h0M347.8 749.0h0M367.0 805.1h0M377.8 792.8h0M312.2 770.2h0M307.8 716.6h0M349.1 740.9h0M340.0 776.3h0M369.9 772.5h0M389.8 795.4h0M340.2 782.9h0M344.6 761.4h0M319.1 734.1h0M303.4 706.9h0M348.4 760.3h0M356.5 754.4h0M301.4 698.6h0M329.6 724.9h0M336.5 761.2h0M349.5 750.1h0M325.4 712.1h0M337.7 704.8h0M311.0 714.9h0M340.9 732.0h0M356.3 748.5h0M343.4 719.5h0M335.8 731.4h0M306.7 705.8h0M398.9 811.2h0M375.3 783.1h0M314.6 754.4h0M356.6 777.2h0M327.9 735.1h0M379.3 762.9h0M347.0 738.0h0M330.4 734.2h0M324.9 702.5h0M328.9 761.2h0M346.2 754.8h0M374.4 752.8h0M342.5 745.2h0M302.1 716.5h0M326.7 723.0h0M331.4 754.1h0M350.7 769.1h0M340.9 756.0h0M336.6 716.6h0M351.6 779.2h0M356.8 772.5h0M387.2 750.0h0M371.3 767.7h0M335.1 749.7h0M364.8 799.1h0M346.5 751.9h0M338.5 748.7h0M350.5 742.3h0M325.1 751.2h0M335.2 756.6h0M336.2 732.7h0M392.5 806.8h0M338.9 722.8h0M369.1 775.4h0M332.8 736.9h0M337.9 757.3h0M375.4 750.2h0M372.4 784.6h0M299.1 698.6h0M344.9 761.6h0M350.2 751.0h0M405.5 815.3h0M315.1 717.1h0M328.3 714.6h0M369.8 781.3h0M320.7 704.2h0M337.2 745.3h0M361.9 778.5h0M348.8 751.7h0M388.9 795.2h0M339.0 744.6h0M417.7 740.5h0M433.9 742.8h0M437.9 738.3h0M384.9 800.6h0M373.9 809.1h0M402.6 795.0h0M392.3 791.9h0M386.4 813.6h0M396.1 813.9h0M375.9 803.9h0M387.5 796.6h0M397.0 815.7h0M404.0 812.2h0M391.9 808.3h0M398.7 812.6h0M372.1 808.1h0M389.7 798.6h0M398.8 813.2h0M403.5 800.8h0M377.9 806.3h0M406.1 808.5h0M415.3 817.1h0M392.1 804.5h0M372.5 802.2h0M396.9 812.6h0"/>
<line x1="292.2" y1="728.3" x2="438.9" y2="801.2" stroke="#14a06e" stroke-width="2"/>
<path d="M278.7,693.3 L278.7,845.6 L441.5,845.6" fill="none" stroke="#555" stroke-width="0.8"/>
<line x1="278.7" y1="845.6" x2="278.7" y2="844.0" stroke="#555" stroke-width="0.6"/>
<text x="278.7" y="858.6" font-size="8.90" text-anchor="middle" fill="#222">1</text>
<line x1="319.0" y1="845.6" x2="319.0" y2="844.0" stroke="#555" stroke-width="0.6"/>
<text x="319.0" y="858.6" font-size="8.90" text-anchor="middle" fill="#222">1.2</text>
<line x1="359.3" y1="845.6" x2="359.3" y2="844.0" stroke="#555" stroke-width="0.6"/>
<text x="359.3" y="858.6" font-size="8.90" text-anchor="middle" fill="#222">1.4</text>
<line x1="399.6" y1="845.6" x2="399.6" y2="844.0" stroke="#555" stroke-width="0.6"/>
<text x="399.6" y="858.6" font-size="8.90" text-anchor="middle" fill="#222">1.6</text>
<line x1="439.9" y1="845.6" x2="439.9" y2="844.0" stroke="#555" stroke-width="0.6"/>
<text x="439.9" y="858.6" font-size="8.90" text-anchor="middle" fill="#222">1.8</text>
<line x1="278.7" y1="693.3" x2="280.3" y2="693.3" stroke="#555" stroke-width="0.6"/>
<text x="274.4" y="697.7" font-size="8.90" text-anchor="end" fill="#222">1</text>
<line x1="278.7" y1="731.4" x2="280.3" y2="731.4" stroke="#555" stroke-width="0.6"/>
<text x="274.4" y="735.8" font-size="8.90" text-anchor="end" fill="#222">0.5</text>
<line x1="278.7" y1="769.5" x2="280.3" y2="769.5" stroke="#555" stroke-width="0.6"/>
<text x="274.4" y="773.9" font-size="8.90" text-anchor="end" fill="#222">0</text>
<line x1="278.7" y1="807.6" x2="280.3" y2="807.6" stroke="#555" stroke-width="0.6"/>
<text x="274.4" y="812.0" font-size="8.90" text-anchor="end" fill="#222">-0.5</text>
<line x1="278.7" y1="845.7" x2="280.3" y2="845.7" stroke="#555" stroke-width="0.6"/>
<text x="274.4" y="850.1" font-size="8.90" text-anchor="end" fill="#222">-1</text>
<text x="361.0" y="874.5" font-size="10.70" text-anchor="middle" fill="#000">Myelin Content</text>
<text x="255.8" y="768.4" font-size="10.60" text-anchor="middle" fill="#000" transform="rotate(-90 255.8 768.4)">RBD index</text>
<text x="359.3" y="832.0" font-size="9.30" text-anchor="start" fill="#000" font-style="italic">r=-0.512 p&lt;0.0001</text>
<rect x="287.9" y="785.0" width="54.6" height="49.0" fill="#fff"/>
<g fill="#d9d9d9" stroke="#111" stroke-width="0.55"><rect x="294.85" y="833.42" width="2.48" height="0.58"/><rect x="297.33" y="832.68" width="2.48" height="1.32"/><rect x="299.81" y="830.94" width="2.48" height="3.06"/><rect x="302.30" y="825.98" width="2.48" height="8.02"/><rect x="304.78" y="816.05" width="2.48" height="17.95"/><rect x="307.26" y="806.63" width="2.48" height="27.37"/><rect x="309.74" y="796.70" width="2.48" height="37.30"/><rect x="312.22" y="788.76" width="2.48" height="45.24"/><rect x="314.70" y="786.77" width="2.48" height="47.23"/><rect x="317.18" y="784.79" width="2.48" height="49.21"/><rect x="319.67" y="786.28" width="2.48" height="47.72"/><rect x="322.15" y="789.26" width="2.48" height="44.74"/><rect x="324.63" y="792.23" width="2.48" height="41.77"/><rect x="327.11" y="801.66" width="2.48" height="32.34"/><rect x="329.59" y="815.31" width="2.48" height="18.69"/><rect x="332.07" y="824.00" width="2.48" height="10.00"/><rect x="334.55" y="830.20" width="2.48" height="3.80"/><rect x="337.03" y="832.68" width="2.48" height="1.32"/><rect x="339.52" y="833.42" width="2.48" height="0.58"/></g>
<path d="M287.9,785.0 L287.9,834.0 L342.5,834.0" fill="none" stroke="#444" stroke-width="0.6"/>
<line x1="291.1" y1="785.0" x2="291.1" y2="834.0" stroke="#1fa874" stroke-width="1"/>
<text x="295.5" y="844.4" font-size="7.60" text-anchor="middle" fill="#222">-0.4</text>
<text x="318.4" y="844.4" font-size="7.60" text-anchor="middle" fill="#222">0</text>
<text x="340.2" y="844.4" font-size="7.60" text-anchor="middle" fill="#222">0.4</text>
<text x="463.9" y="670.5" font-size="21.50" text-anchor="start" fill="#000">I</text>
<text x="525.3" y="679.0" font-size="10.70" text-anchor="start" fill="#000">NeuroQuery(</text>
<defs><path id="ti1ao" d="M589.3 668.9l0 -.6 .1 -.8 .2 -.8 .3 -.7 .3 -.7 .5 -.6 .5 -.6 .5 -.5 .5 -.4 .6 -.3 .6 -.2 .7 -.2 .7 -.2 .8 -.2 .8 -.1 .7 -.1 .6 -.1 .5 -.1 .5 0 .5 0 .6 0 .6 0 .6 0 .6 .1 .7 .1 .7 .2 .6 .3 .7 .3 .7 .5 .6 .5 .6 .5 .5 .6 .5 .6 .4 .7 .3 .7 .3 .6 .2 .6 .2 .5 .1 .5 0 .5 0 .4 -.1 .4 -.2 .3 -.2 .4 -.2 .2 -.4 .2 -.4 .2 -.5 .2 -.6 .3 -.8 .2 -.8 .2 -.8 .2 -.8 .2 -.7 .2 -.8 .3 -.7 .2 -.7 .2 -.6 .3 -.6 .2 -.5 .2 -.5 .1 -.5 .2 -.4 .1 -.4 .1 -.3 -.1 -.3 -.1 -.3 -.1 -.2 -.2 -.1 -.3 -.1 -.3 -.1 -.3 0 -.3 .1 -.2 .2 -.2 .2 -.2 0 -.1 -.2 -.1 -.4 0 -.5 0 -.4 0 -.5 -.1 -.6 -.1 -.5 -.1 -.5 -.1 -.5 -.3 -.5 -.2 -.5 -.3 -.3 -.3 -.3 -.3 -.2 -.3 -.2 -.3 -.1 -.3 -.1 -.2 0 -.2 -.1 -.2z"/></defs>
<use href="#ti1ao" fill="#000" filter="url(#ishS)"/>
<use href="#ti1ao" fill="none" stroke="#444" stroke-width="0.35"/>
<defs><path id="ti1bo" d="M629.6 668.9l0 -.6 -.1 -.8 -.2 -.8 -.3 -.7 -.3 -.7 -.5 -.6 -.5 -.6 -.5 -.5 -.5 -.4 -.6 -.3 -.6 -.2 -.7 -.2 -.7 -.2 -.8 -.2 -.8 -.1 -.7 -.1 -.6 -.1 -.5 -.1 -.5 0 -.5 0 -.6 0 -.6 0 -.6 0 -.6 .1 -.7 .1 -.7 .2 -.6 .3 -.7 .3 -.7 .5 -.6 .5 -.6 .5 -.5 .6 -.5 .6 -.4 .7 -.3 .7 -.3 .6 -.2 .6 -.2 .5 -.1 .5 0 .5 0 .4 .1 .4 .2 .3 .2 .4 .2 .2 .4 .2 .4 .2 .5 .2 .6 .3 .8 .2 .8 .2 .8 .2 .8 .2 .7 .2 .8 .3 .7 .2 .7 .2 .6 .3 .6 .2 .5 .2 .5 .1 .5 .2 .4 .1 .4 .1 .3 -.1 .3 -.1 .3 -.1 .2 -.2 .1 -.3 .1 -.3 .1 -.3 0 -.3 -.1 -.2 -.2 -.2 -.2 -.2 0 -.1 .2 -.1 .4 0 .5 0 .4 0 .5 -.1 .6 -.1 .5 -.1 .5 -.1 .5 -.3 .5 -.2 .5 -.3 .3 -.3 .3 -.3 .2 -.3 .2 -.3 .1 -.3 .1 -.2 0 -.2 .1 -.2z"/></defs>
<use href="#ti1bo" fill="#000" filter="url(#ishS)"/>
<use href="#ti1bo" fill="none" stroke="#444" stroke-width="0.35"/>
<linearGradient id="ti1cw" x1="0.8" y1="0.15" x2="0.25" y2="0.95"><stop offset="0" stop-color="#d0d0d0"/><stop offset="0.5" stop-color="#c8c8c8"/><stop offset="0.72" stop-color="#a4a4a4"/><stop offset="0.85" stop-color="#9a9a9a"/><stop offset="1" stop-color="#b4b4b4"/></linearGradient>
<path d="M595.3 684.1l.1 -.3 .1 -.3 .1 -.3 .1 -.2 .2 -.2 .1 -.2 .3 -.2 .3 -.1 .3 -.1 .5 -.1 .5 0 .5 -.1 .5 0 .5 -.1 .6 0 .6 0 .6 0 .5 .1 .6 .1 .5 .2 .6 .2 .4 .3 .5 .2 .3 .3 .4 .3 .2 .3 .2 .3 .1 .3 .1 .3 -.1 .4 -.1 .3 -.1 .3 -.3 .2 -.3 .2 -.4 .1 -.3 .2 -.3 .1 -.1 .2 -.2 .1 -.1 .2 -.2 .2 -.1 .2 -.2 .2 -.1 .2 0 .2 .1 .3 0 .2 0 .3 0 .2 0 .2 -.1 .2 -.1 .2 -.1 .2 -.2 .2 -.2 .2 -.2 .1 -.2 .1 -.3 0 -.3 0 -.3 0 -.3 -.1 -.3 -.1 -.3 -.2 -.3 -.1 -.4 -.2 -.4 -.2 -.5 -.3 -.4 -.2 -.4 -.3 -.3 -.3 -.3 -.4 -.3 -.3 -.3 -.3 -.2 -.3 -.2 -.2 -.1 -.3 -.2 -.3 -.1 -.4 -.1 -.3 -.1 -.3 0 -.4 0 -.3 0 -.3z" fill="url(#ti1cw)"/>
<defs><path id="ti1co" d="M589.2 685.3l.1 -.6 .1 -.6 .1 -.7 .2 -.7 .3 -.5 .3 -.6 .3 -.6 .4 -.5 .4 -.5 .5 -.4 .5 -.5 .6 -.4 .6 -.3 .7 -.3 .6 -.3 .7 -.2 .8 -.2 .7 -.1 .8 -.1 .7 -.1 .7 0 .8 .1 .7 .1 .7 .2 .8 .2 .8 .2 .7 .3 .7 .4 .6 .4 .6 .5 .6 .5 .5 .5 .4 .6 .4 .7 .4 .7 .3 .6 .2 .5 .1 .5 .1 .5 0 .4 0 .4 -.1 .4 -.2 .4 -.1 .4 -.2 .3 -.3 .3 -.3 .3 -.4 .2 -.4 .2 -.5 .2 -.5 .1 -.5 .2 -.6 0 -.7 .1 -.6 0 -.4 .2 -.2 .2 0 .3 .1 .3 -.1 .3 -.1 .2 -.3 .2 -.2 .2 -.2 .1 -.2 .1 -.2 0 -.3 .1 -.3 -.1 -.5 -.1 -.6 -.2 -.6 -.3 -.6 -.2 -.6 -.2 -.5 -.3 -.6 -.2 -.6 -.3 -.6 -.2 -.7 -.2 -.7 -.2 -.6 -.2 -.6 -.1 -.6 -.1 -.6 -.1 -.5 -.2 -.5 -.1 -.3 -.1 -.4 -.2 -.3 -.2 -.2 -.3 -.2 -.4 -.2 -.4z"/></defs>
<use href="#ti1co" fill="#000" filter="url(#ishS)"/>
<use href="#ti1co" fill="none" stroke="#444" stroke-width="0.35"/>
<linearGradient id="ti1dw" x1="0.2" y1="0.15" x2="0.75" y2="0.95"><stop offset="0" stop-color="#d0d0d0"/><stop offset="0.5" stop-color="#c8c8c8"/><stop offset="0.72" stop-color="#a4a4a4"/><stop offset="0.85" stop-color="#9a9a9a"/><stop offset="1" stop-color="#b4b4b4"/></linearGradient>
<path d="M623.6 684.1l-.1 -.3 -.1 -.3 -.1 -.3 -.1 -.2 -.2 -.2 -.1 -.2 -.3 -.2 -.3 -.1 -.3 -.1 -.5 -.1 -.5 0 -.5 -.1 -.5 0 -.5 -.1 -.6 0 -.6 0 -.6 0 -.5 .1 -.6 .1 -.5 .2 -.6 .2 -.4 .3 -.5 .2 -.3 .3 -.4 .3 -.2 .3 -.2 .3 -.1 .3 -.1 .3 .1 .4 .1 .3 .1 .3 .3 .2 .3 .2 .4 .1 .3 .2 .3 .1 .1 .2 .2 .1 .1 .2 .2 .2 .1 .2 .2 .2 .1 .2 0 .2 -.1 .3 0 .2 0 .3 0 .2 0 .2 .1 .2 .1 .2 .1 .2 .2 .2 .2 .2 .2 .1 .2 .1 .3 0 .3 0 .3 0 .3 -.1 .3 -.1 .3 -.2 .3 -.1 .4 -.2 .4 -.2 .5 -.3 .4 -.2 .4 -.3 .3 -.3 .3 -.4 .3 -.3 .3 -.3 .2 -.3 .2 -.2 .1 -.3 .2 -.3 .1 -.4 .1 -.3 .1 -.3 0 -.4 0 -.3 0 -.3z" fill="url(#ti1dw)"/>
<defs><path id="ti1do" d="M629.7 685.3l-.1 -.6 -.1 -.6 -.1 -.7 -.2 -.7 -.3 -.5 -.3 -.6 -.3 -.6 -.4 -.5 -.4 -.5 -.5 -.4 -.5 -.5 -.6 -.4 -.6 -.3 -.7 -.3 -.6 -.3 -.7 -.2 -.8 -.2 -.7 -.1 -.8 -.1 -.7 -.1 -.7 0 -.8 .1 -.7 .1 -.7 .2 -.8 .2 -.8 .2 -.7 .3 -.7 .4 -.6 .4 -.6 .5 -.6 .5 -.5 .5 -.4 .6 -.4 .7 -.4 .7 -.3 .6 -.2 .5 -.1 .5 -.1 .5 0 .4 0 .4 .1 .4 .2 .4 .1 .4 .2 .3 .3 .3 .3 .3 .4 .2 .4 .2 .5 .2 .5 .1 .5 .2 .6 0 .7 .1 .6 0 .4 .2 .2 .2 0 .3 -.1 .3 .1 .3 .1 .2 .3 .2 .2 .2 .2 .1 .2 .1 .2 0 .3 .1 .3 -.1 .5 -.1 .6 -.2 .6 -.3 .6 -.2 .6 -.2 .5 -.3 .6 -.2 .6 -.3 .6 -.2 .7 -.2 .7 -.2 .6 -.2 .6 -.1 .6 -.1 .6 -.1 .5 -.2 .5 -.1 .3 -.1 .4 -.2 .3 -.2 .2 -.3 .2 -.4 .2 -.4z"/></defs>
<use href="#ti1do" fill="#000" filter="url(#ishS)"/>
<use href="#ti1do" fill="none" stroke="#444" stroke-width="0.35"/>
<text x="630.0" y="679.0" font-size="10.70" text-anchor="start" fill="#000">)</text>
<text class="m" x="500.0" y="763.4" font-size="3.6" fill="#e8d0d6">value</text>
<text class="m" x="661.5" y="713.2" font-size="4.9" fill="#fbdcae">reward</text>
<text class="m" x="548.5" y="764.8" font-size="4.0" fill="#fbe3b4">semantic</text>
<text class="m" x="633.2" y="783.4" font-size="4.7" fill="#e8d0d6">episodic</text>
<text class="m" x="666.6" y="728.9" font-size="4.3" fill="#e8d0d6">social</text>
<text class="m" x="593.5" y="732.5" font-size="4.8" fill="#f6d6c0">scene</text>
<text class="m" x="568.3" y="737.4" font-size="4.9" fill="#fde9c4">attention</text>
<text class="m" x="503.8" y="783.8" font-size="4.9" fill="#fbdcae">memory</text>
<text class="m" x="480.7" y="728.5" font-size="4.3" fill="#f7c9b4">semantic</text>
<text class="m" x="614.9" y="744.7" font-size="3.8" fill="#fde9c4">learning</text>
<text class="m" x="566.9" y="785.9" font-size="3.6" fill="#fde9c4">future</text>
<text class="m" x="592.8" y="741.1" font-size="3.7" fill="#f7c9b4">narrative</text>
<text class="m" x="479.0" y="803.2" font-size="3.8" fill="#f3b0a6">attention</text>
<text class="m" x="513.5" y="726.4" font-size="4.9" fill="#e8d0d6" transform="rotate(-90 513.5 726.4)">control</text>
<text class="m" x="636.6" y="727.2" font-size="3.6" fill="#fde9c4">task</text>
<text class="m" x="620.9" y="762.7" font-size="3.9" fill="#f6d6c0">social</text>
<text class="m" x="526.1" y="819.5" font-size="4.1" fill="#efc0c8">goal</text>
<text class="m" x="537.5" y="792.3" font-size="3.7" fill="#fde9c4">learning</text>
<text class="m" x="523.5" y="803.9" font-size="4.4" fill="#fbe3b4">social</text>
<text class="m" x="613.8" y="796.4" font-size="3.8" fill="#efc0c8">value</text>
<text class="m" x="503.0" y="756.8" font-size="4.9" fill="#f6d6c0">episodic</text>
<text class="m" x="481.2" y="747.1" font-size="5.0" fill="#fbdcae">task</text>
<text class="m" x="523.4" y="746.8" font-size="4.8" fill="#fde9c4">choice</text>
<text class="m" x="506.3" y="763.3" font-size="4.5" fill="#fde9c4">reward</text>
<text class="m" x="481.8" y="718.5" font-size="4.5" fill="#e8d0d6">future</text>
<text class="m" x="604.0" y="746.2" font-size="4.0" fill="#fbdcae">working memory</text>
<text class="m" x="658.4" y="718.5" font-size="4.4" fill="#fde9c4">memory</text>
<text class="m" x="657.3" y="786.9" font-size="4.7" fill="#fde9c4">future</text>
<text class="m" x="503.1" y="759.4" font-size="4.7" fill="#fde9c4">beliefs</text>
<text class="m" x="636.5" y="794.0" font-size="4.7" fill="#f7c9b4">task</text>
<text class="m" x="501.9" y="750.7" font-size="4.0" fill="#f3b0a6">social</text>
<text class="m" x="595.7" y="733.1" font-size="4.1" fill="#e8d0d6">beliefs</text>
<text class="m" x="532.7" y="798.5" font-size="4.4" fill="#f3b0a6">scene</text>
<text class="m" x="578.7" y="735.1" font-size="3.7" fill="#efc0c8">social</text>
<text class="m" x="584.9" y="708.4" font-size="4.7" fill="#fbdcae">episodic</text>
<text class="m" x="602.7" y="810.5" font-size="4.0" fill="#f6d6c0">planning</text>
<text class="m" x="542.7" y="792.7" font-size="3.8" fill="#f3b0a6">retrieval</text>
<text class="m" x="613.5" y="792.1" font-size="4.7" fill="#e8d0d6">planning</text>
<text class="m" x="588.3" y="712.3" font-size="4.7" fill="#e8d0d6">judgment</text>
<text class="m" x="636.2" y="763.0" font-size="3.8" fill="#efc0c8">semantic</text>
<text class="m" x="549.0" y="715.6" font-size="4.2" fill="#e8d0d6">choice</text>
<text class="m" x="646.1" y="721.1" font-size="4.2" fill="#e8d0d6">choice</text>
<text class="m" x="574.9" y="720.7" font-size="4.8" fill="#e8d0d6">future</text>
<text class="m" x="476.3" y="726.8" font-size="5.0" fill="#f3b0a6" transform="rotate(-90 476.3 726.8)">beliefs</text>
<text class="m" x="659.4" y="767.7" font-size="4.2" fill="#fde9c4">narrative</text>
<text class="m" x="618.3" y="768.4" font-size="4.0" fill="#f7c9b4">working memory</text>
<text class="m" x="628.8" y="756.0" font-size="4.6" fill="#f3b0a6">scene</text>
<text class="m" x="490.1" y="729.3" font-size="4.3" fill="#f7c9b4" transform="rotate(-90 490.1 729.3)">retrieval</text>
<text class="m" x="484.8" y="730.7" font-size="4.6" fill="#f3b0a6">future</text>
<text class="m" x="479.9" y="710.3" font-size="4.8" fill="#f3b0a6">scene</text>
<text class="m" x="547.8" y="808.8" font-size="4.2" fill="#efc0c8">inference</text>
<text class="m" x="547.8" y="723.0" font-size="3.7" fill="#e8d0d6">social</text>
<text class="m" x="637.5" y="812.1" font-size="3.8" fill="#f3b0a6">semantic</text>
<text class="m" x="649.8" y="818.2" font-size="4.5" fill="#e8d0d6">judgment</text>
<text class="m" x="511.0" y="739.1" font-size="4.1" fill="#fbe3b4">memory</text>
<text class="m" x="575.4" y="757.5" font-size="3.8" fill="#efc0c8">planning</text>
<text class="m" x="506.3" y="814.7" font-size="4.1" fill="#f3b0a6">planning</text>
<text class="m" x="594.0" y="751.7" font-size="3.6" fill="#fbdcae">episodic</text>
<text class="m" x="591.8" y="765.7" font-size="4.9" fill="#efc0c8">scene</text>
<text class="m" x="635.5" y="760.9" font-size="4.2" fill="#e8d0d6">narrative</text>
<text class="m" x="482.4" y="798.5" font-size="3.6" fill="#fbdcae">future</text>
<text class="m" x="619.0" y="756.0" font-size="4.5" fill="#f7c9b4">working memory</text>
<text class="m" x="476.3" y="774.3" font-size="4.8" fill="#e8d0d6">planning</text>
<text class="m" x="632.8" y="707.1" font-size="4.4" fill="#fde9c4">speech</text>
<text class="m" x="487.6" y="719.9" font-size="4.1" fill="#f7c9b4">inference</text>
<text class="m" x="653.3" y="747.8" font-size="4.4" fill="#fbdcae" transform="rotate(-90 653.3 747.8)">task</text>
<text class="m" x="551.7" y="742.1" font-size="3.7" fill="#f3b0a6">future</text>
<text class="m" x="600.1" y="792.7" font-size="4.1" fill="#efc0c8">future</text>
<text class="m" x="563.3" y="730.2" font-size="4.6" fill="#efc0c8">working memory</text>
<text class="m" x="640.0" y="812.3" font-size="3.6" fill="#fbdcae">choice</text>
<text class="m" x="557.2" y="785.5" font-size="4.3" fill="#f3b0a6">memory</text>
<text class="m" x="488.3" y="784.4" font-size="3.9" fill="#fde9c4">working memory</text>
<text class="m" x="612.0" y="752.4" font-size="4.8" fill="#f7c9b4">working memory</text>
<text class="m" x="480.3" y="733.9" font-size="4.7" fill="#fde9c4">episodic</text>
<text class="m" x="670.7" y="729.9" font-size="4.4" fill="#f7c9b4">task</text>
<text class="m" x="550.6" y="717.2" font-size="3.6" fill="#f3b0a6">planning</text>
<text class="m" x="657.7" y="737.9" font-size="4.6" fill="#f7c9b4">judgment</text>
<text class="m" x="533.8" y="749.0" font-size="4.7" fill="#fbe3b4">future</text>
<text class="m" x="510.2" y="726.1" font-size="4.6" fill="#f6d6c0">working memory</text>
<text class="m" x="631.5" y="754.3" font-size="4.8" fill="#fbdcae">speech</text>
<text class="m" x="590.4" y="784.8" font-size="4.1" fill="#f3b0a6">memory</text>
<text class="m" x="571.5" y="787.9" font-size="4.8" fill="#efc0c8">beliefs</text>
<text class="m" x="549.2" y="813.4" font-size="4.7" fill="#f3b0a6" transform="rotate(-90 549.2 813.4)">task</text>
<text class="m" x="565.1" y="765.4" font-size="4.8" fill="#f6d6c0">scene</text>
<text class="m" x="598.7" y="778.6" font-size="4.8" fill="#fbdcae">retrieval</text>
<text class="m" x="662.5" y="726.8" font-size="4.1" fill="#e8d0d6">planning</text>
<text class="m" x="596.8" y="765.0" font-size="4.3" fill="#f7c9b4">narrative</text>
<text class="m" x="653.9" y="759.0" font-size="4.0" fill="#f3b0a6">task</text>
<text class="m" x="644.8" y="741.7" font-size="4.4" fill="#f6d6c0">working memory</text>
<text class="m" x="507.1" y="815.2" font-size="4.4" fill="#f6d6c0">value</text>
<text class="m" x="619.9" y="757.5" font-size="3.9" fill="#fbe3b4" transform="rotate(-90 619.9 757.5)">scene</text>
<text class="m" x="610.7" y="760.5" font-size="4.0" fill="#efc0c8">beliefs</text>
<text class="m" x="672.8" y="810.1" font-size="3.8" fill="#efc0c8">goal</text>
<text class="m" x="520.1" y="747.3" font-size="3.8" fill="#fde9c4" transform="rotate(-90 520.1 747.3)">attention</text>
<text class="m" x="662.5" y="747.2" font-size="4.2" fill="#fbe3b4">choice</text>
<text class="m" x="636.8" y="749.8" font-size="3.7" fill="#e8d0d6">inference</text>
<text class="m" x="519.0" y="741.1" font-size="4.4" fill="#f7c9b4">reward</text>
<text class="m" x="540.0" y="802.3" font-size="3.6" fill="#fde9c4" transform="rotate(-90 540.0 802.3)">attention</text>
<text class="m" x="648.8" y="779.1" font-size="4.9" fill="#fbe3b4">retrieval</text>
<text class="m" x="659.8" y="733.4" font-size="4.6" fill="#e8d0d6">speech</text>
<text class="m" x="524.1" y="760.8" font-size="4.0" fill="#fde9c4">attention</text>
<text class="m" x="656.8" y="773.1" font-size="4.9" fill="#f6d6c0">reward</text>
<text class="m" x="658.6" y="757.5" font-size="4.3" fill="#fbdcae">narrative</text>
<text class="m" x="614.0" y="783.5" font-size="4.5" fill="#fde9c4">narrative</text>
<text class="m" x="609.4" y="819.1" font-size="4.7" fill="#e8d0d6">control</text>
<text class="m" x="654.9" y="756.1" font-size="4.0" fill="#efc0c8">control</text>
<text class="m" x="640.3" y="788.2" font-size="5.0" fill="#e8d0d6" transform="rotate(-90 640.3 788.2)">working memory</text>
<text class="m" x="494.6" y="769.5" font-size="4.6" fill="#efc0c8">episodic</text>
<text class="m" x="495.8" y="757.4" font-size="4.3" fill="#f3b0a6">choice</text>
<text class="m" x="529.1" y="808.0" font-size="3.7" fill="#f7c9b4">beliefs</text>
<text class="m" x="517.5" y="731.0" font-size="39.0" fill="#f05a28" stroke="#f05a28" stroke-width="1.60" textLength="157.0" lengthAdjust="spacingAndGlyphs">context</text>
<text class="m" x="485.5" y="772.2" font-size="40.0" fill="#7d0a2d" stroke="#7d0a2d" stroke-width="1.60" textLength="195.0" lengthAdjust="spacingAndGlyphs">decision</text>
<text class="m" x="475.5" y="805.0" font-size="38.0" fill="#f5883a" stroke="#f5883a" stroke-width="1.60" textLength="208.0" lengthAdjust="spacingAndGlyphs">cognitive</text>
<text class="m" x="506.0" y="745.9" font-size="14.5" fill="#821437" stroke="#821437" stroke-width="0.55" textLength="61.0" lengthAdjust="spacingAndGlyphs">thought</text>
<text class="m" x="554.5" y="816.6" font-size="14.5" fill="#fac36e" stroke="#fac36e" stroke-width="0.55" textLength="77.0" lengthAdjust="spacingAndGlyphs">cognition</text>
<text class="m" x="507.5" y="780.3" font-size="10.5" fill="#e8503c" stroke="#e8503c" stroke-width="0.30" textLength="67.0" lengthAdjust="spacingAndGlyphs">engagement</text>
<text class="m" x="570.5" y="739.2" font-size="10.5" fill="#f8c878" stroke="#f8c878" stroke-width="0.30" textLength="91.0" lengthAdjust="spacingAndGlyphs">decision making</text>
<text class="m" x="490.0" y="709.4" font-size="7.0" fill="#98304a" stroke="#98304a" stroke-width="0.15" textLength="74.0" lengthAdjust="spacingAndGlyphs">cognitive processes</text>
<text class="m" x="596.0" y="708.8" font-size="7.0" fill="#fbe0a8" stroke="#fbe0a8" stroke-width="0.15" textLength="63.0" lengthAdjust="spacingAndGlyphs">cognitive control</text>
<text class="m" x="479.0" y="715.8" font-size="6.8" fill="#c8424a" stroke="#c8424a" stroke-width="0.15" textLength="34.0" lengthAdjust="spacingAndGlyphs">retrieval</text>
<text class="m" x="479.5" y="721.8" font-size="6.8" fill="#7a1e46" stroke="#7a1e46" stroke-width="0.15" textLength="30.0" lengthAdjust="spacingAndGlyphs">episodic</text>
<text class="m" x="479.0" y="729.8" font-size="6.4" fill="#fbe0a8" stroke="#fbe0a8" stroke-width="0.15" textLength="22.0" lengthAdjust="spacingAndGlyphs">memories</text>
<text class="m" x="492.8" y="734.9" font-size="6.8" fill="#d4484a" stroke="#d4484a" stroke-width="0.15" textLength="22.0" lengthAdjust="spacingAndGlyphs">mental</text>
<text class="m" x="622.5" y="748.3" font-size="6.5" fill="#f9dca0" stroke="#f9dca0" stroke-width="0.15" textLength="60.0" lengthAdjust="spacingAndGlyphs">memory retrieval</text>
<text class="m" x="572.0" y="748.3" font-size="6.3" fill="#fbe3b4" stroke="#fbe3b4" stroke-width="0.15" textLength="50.0" lengthAdjust="spacingAndGlyphs">episodic memory</text>
<text class="m" x="475.0" y="780.0" font-size="6.5" fill="#fbe3b4" stroke="#fbe3b4" stroke-width="0.15" textLength="29.0" lengthAdjust="spacingAndGlyphs">thinking</text>
<text class="m" x="581.0" y="777.8" font-size="6.2" fill="#8c1e46" stroke="#8c1e46" stroke-width="0.15" textLength="42.0" lengthAdjust="spacingAndGlyphs">self knowledge</text>
<text class="m" x="635.0" y="783.0" font-size="7.3" fill="#dc4b46" stroke="#dc4b46" stroke-width="0.15" textLength="39.0" lengthAdjust="spacingAndGlyphs">prediction</text>
<text class="m" x="632.0" y="777.0" font-size="5.5" fill="#fbe3b4" stroke="#fbe3b4" stroke-width="0.15" textLength="22.0" lengthAdjust="spacingAndGlyphs">success</text>
<text class="m" x="474.5" y="810.5" font-size="6.5" fill="#d4484a" stroke="#d4484a" stroke-width="0.15" textLength="47.0" lengthAdjust="spacingAndGlyphs">self referential</text>
<text class="m" x="496.0" y="814.2" font-size="7.2" fill="#f9c880" stroke="#f9c880" stroke-width="0.15" textLength="23.0" lengthAdjust="spacingAndGlyphs">memory</text>
<text class="m" x="478.5" y="820.0" font-size="7.3" fill="#8c1e46" stroke="#8c1e46" stroke-width="0.15" textLength="31.0" lengthAdjust="spacingAndGlyphs">reaction</text>
<text class="m" x="513.0" y="819.8" font-size="6.3" fill="#f08c78" stroke="#f08c78" stroke-width="0.15" textLength="32.0" lengthAdjust="spacingAndGlyphs">referential</text>
<text class="m" x="647.0" y="812.6" font-size="7.8" fill="#8c1e46" stroke="#8c1e46" stroke-width="0.15" textLength="35.0" lengthAdjust="spacingAndGlyphs">reasoning</text>
<text class="m" x="633.5" y="818.4" font-size="6.3" fill="#963264" stroke="#963264" stroke-width="0.15" textLength="31.5" lengthAdjust="spacingAndGlyphs">mentalizing</text>
<text class="m" x="666.0" y="818.4" font-size="7.3" fill="#f58c3c" stroke="#f58c3c" stroke-width="0.15" textLength="16.0" lengthAdjust="spacingAndGlyphs">mind</text>
<text class="m" x="577.0" y="783.0" font-size="4.5" fill="#8c1e46" stroke="#8c1e46" stroke-width="0.15" textLength="20.0" lengthAdjust="spacingAndGlyphs">strategies</text>
<text class="m" x="519.0" y="734.3" font-size="4.6" fill="#b04a5a" stroke="#b04a5a" stroke-width="0.15" textLength="57.0" lengthAdjust="spacingAndGlyphs">autobiographical memories</text>
<text class="m" x="506.0" y="751.0" font-size="4.6" fill="#c86464" stroke="#c86464" stroke-width="0.15" textLength="37.0" lengthAdjust="spacingAndGlyphs">mental processes</text>
<text class="m" x="633.0" y="807.0" font-size="5.0" fill="#b04a5a" stroke="#b04a5a" stroke-width="0.15" textLength="14.0" lengthAdjust="spacingAndGlyphs">recall</text>
<text class="m" x="648.0" y="738.5" font-size="4.5" fill="#c86464" stroke="#c86464" stroke-width="0.15" textLength="19.0" lengthAdjust="spacingAndGlyphs">retrieved</text>
<text class="m" x="656.0" y="719.5" font-size="4.5" fill="#a03c5a" stroke="#a03c5a" stroke-width="0.15" textLength="20.0" lengthAdjust="spacingAndGlyphs">monetary</text>
<text class="m" x="562.0" y="768.5" font-size="4.5" fill="#c86464" stroke="#c86464" stroke-width="0.15" textLength="20.0" lengthAdjust="spacingAndGlyphs">behavior</text>
<text class="m" x="481.0" y="775.0" font-size="6.0" fill="#fbe3b4" stroke="#fbe3b4" stroke-width="0.15" textLength="60.0" lengthAdjust="spacingAndGlyphs" transform="rotate(-90 481.0 775.0)">autobiographical</text>
</svg></body></html>
